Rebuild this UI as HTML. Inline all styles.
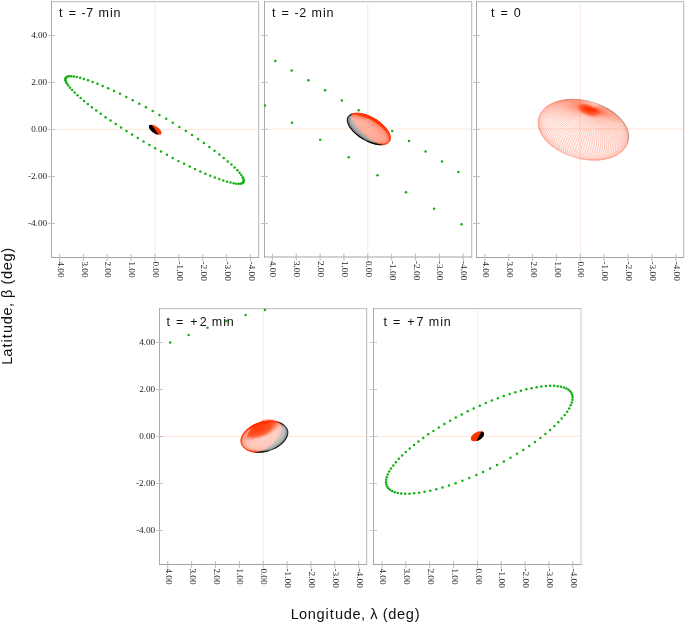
<!DOCTYPE html><html><head><meta charset="utf-8"><style>html,body{margin:0;padding:0;background:#fff;overflow:hidden}svg{display:block;will-change:transform}</style></head><body><svg width="685" height="623" viewBox="0 0 685 623">
<style>.tk{font-family:"Liberation Serif",serif;font-size:8.6px;fill:#222}.tkx{font-family:"Liberation Serif",serif;font-size:9.2px;fill:#222}.ti{font-family:"Liberation Sans",sans-serif;font-size:12.5px;fill:#111}.ax{font-family:"Liberation Sans",sans-serif;font-size:14.6px;fill:#111}</style>
<rect width="685" height="623" fill="#fff"/>
<clipPath id="c1"><rect x="51" y="1" width="208" height="257"/></clipPath>
<line x1="155.0" y1="2" x2="155.0" y2="257" stroke="#ffe6da" stroke-width="1"/>
<line x1="52" y1="129.45" x2="258" y2="129.45" stroke="#ffe6da" stroke-width="1"/>
<line x1="51" y1="1.5" x2="259" y2="1.5" stroke="#c4c4c4" stroke-width="1"/>
<line x1="52" y1="2.5" x2="258" y2="2.5" stroke="#f4f4f4" stroke-width="1"/>
<line x1="51.5" y1="1" x2="51.5" y2="258" stroke="#aaaaaa" stroke-width="1"/>
<line x1="258.5" y1="1" x2="258.5" y2="258" stroke="#c4c4c4" stroke-width="1"/>
<line x1="259.5" y1="2" x2="259.5" y2="258" stroke="#efefef" stroke-width="1"/>
<line x1="51" y1="257.5" x2="259" y2="257.5" stroke="#a4a4a4" stroke-width="1"/>
<clipPath id="c2"><rect x="264" y="1" width="208" height="256.5"/></clipPath>
<line x1="367.8" y1="2" x2="367.8" y2="256.5" stroke="#ffe6da" stroke-width="1"/>
<line x1="265" y1="129.0" x2="471" y2="129.0" stroke="#ffe6da" stroke-width="1"/>
<line x1="264" y1="1.5" x2="472" y2="1.5" stroke="#c4c4c4" stroke-width="1"/>
<line x1="265" y1="2.5" x2="471" y2="2.5" stroke="#f4f4f4" stroke-width="1"/>
<line x1="264.5" y1="1" x2="264.5" y2="257.5" stroke="#aaaaaa" stroke-width="1"/>
<line x1="471.5" y1="1" x2="471.5" y2="257.5" stroke="#c4c4c4" stroke-width="1"/>
<line x1="472.5" y1="2" x2="472.5" y2="257.5" stroke="#efefef" stroke-width="1"/>
<line x1="264" y1="257.0" x2="472" y2="257.0" stroke="#a4a4a4" stroke-width="1"/>
<clipPath id="c3"><rect x="476" y="1" width="208" height="257"/></clipPath>
<line x1="580.3" y1="2" x2="580.3" y2="257" stroke="#ffe6da" stroke-width="1"/>
<line x1="477" y1="129.0" x2="683" y2="129.0" stroke="#ffe6da" stroke-width="1"/>
<line x1="476" y1="1.5" x2="684" y2="1.5" stroke="#c4c4c4" stroke-width="1"/>
<line x1="477" y1="2.5" x2="683" y2="2.5" stroke="#f4f4f4" stroke-width="1"/>
<line x1="476.5" y1="1" x2="476.5" y2="258" stroke="#aaaaaa" stroke-width="1"/>
<line x1="683.5" y1="1" x2="683.5" y2="258" stroke="#c4c4c4" stroke-width="1"/>
<line x1="684.5" y1="2" x2="684.5" y2="258" stroke="#efefef" stroke-width="1"/>
<line x1="476" y1="257.5" x2="684" y2="257.5" stroke="#a4a4a4" stroke-width="1"/>
<clipPath id="c4"><rect x="159" y="308" width="208" height="257"/></clipPath>
<line x1="263.2" y1="309" x2="263.2" y2="564" stroke="#ffe6da" stroke-width="1"/>
<line x1="160" y1="436.45" x2="366" y2="436.45" stroke="#ffe6da" stroke-width="1"/>
<line x1="159" y1="308.5" x2="367" y2="308.5" stroke="#c4c4c4" stroke-width="1"/>
<line x1="160" y1="309.5" x2="366" y2="309.5" stroke="#f4f4f4" stroke-width="1"/>
<line x1="159.5" y1="308" x2="159.5" y2="565" stroke="#aaaaaa" stroke-width="1"/>
<line x1="366.5" y1="308" x2="366.5" y2="565" stroke="#c4c4c4" stroke-width="1"/>
<line x1="367.5" y1="309" x2="367.5" y2="565" stroke="#efefef" stroke-width="1"/>
<line x1="159" y1="564.5" x2="367" y2="564.5" stroke="#a4a4a4" stroke-width="1"/>
<clipPath id="c5"><rect x="373" y="308" width="208.5" height="257"/></clipPath>
<line x1="477.4" y1="309" x2="477.4" y2="564" stroke="#ffe6da" stroke-width="1"/>
<line x1="374" y1="436.4" x2="580.5" y2="436.4" stroke="#ffe6da" stroke-width="1"/>
<line x1="373" y1="308.5" x2="581.5" y2="308.5" stroke="#c4c4c4" stroke-width="1"/>
<line x1="374" y1="309.5" x2="580.5" y2="309.5" stroke="#f4f4f4" stroke-width="1"/>
<line x1="373.5" y1="308" x2="373.5" y2="565" stroke="#aaaaaa" stroke-width="1"/>
<line x1="581.0" y1="308" x2="581.0" y2="565" stroke="#c4c4c4" stroke-width="1"/>
<line x1="582.0" y1="309" x2="582.0" y2="565" stroke="#efefef" stroke-width="1"/>
<line x1="373" y1="564.5" x2="581.5" y2="564.5" stroke="#a4a4a4" stroke-width="1"/>
<g clip-path="url(#c1)" fill="#12b012">
<circle cx="159.42" cy="114.88" r="1.25"/><circle cx="166.16" cy="118.83" r="1.25"/><circle cx="172.83" cy="122.84" r="1.25"/><circle cx="179.40" cy="126.91" r="1.25"/><circle cx="185.83" cy="130.99" r="1.25"/><circle cx="192.08" cy="135.06" r="1.25"/><circle cx="198.11" cy="139.11" r="1.25"/><circle cx="203.88" cy="143.09" r="1.25"/><circle cx="209.37" cy="147.00" r="1.25"/><circle cx="214.53" cy="150.81" r="1.25"/><circle cx="219.34" cy="154.49" r="1.25"/><circle cx="223.77" cy="158.02" r="1.25"/><circle cx="227.81" cy="161.38" r="1.25"/><circle cx="231.42" cy="164.56" r="1.25"/><circle cx="234.59" cy="167.54" r="1.25"/><circle cx="237.30" cy="170.30" r="1.25"/><circle cx="239.56" cy="172.83" r="1.25"/><circle cx="241.33" cy="175.12" r="1.25"/><circle cx="242.64" cy="177.15" r="1.25"/><circle cx="243.46" cy="178.92" r="1.25"/><circle cx="243.81" cy="180.42" r="1.25"/><circle cx="243.68" cy="181.65" r="1.25"/><circle cx="243.09" cy="182.60" r="1.25"/><circle cx="242.05" cy="183.28" r="1.25"/><circle cx="240.56" cy="183.68" r="1.25"/><circle cx="238.65" cy="183.81" r="1.25"/><circle cx="236.32" cy="183.67" r="1.25"/><circle cx="233.61" cy="183.26" r="1.25"/><circle cx="230.52" cy="182.59" r="1.25"/><circle cx="227.07" cy="181.68" r="1.25"/><circle cx="223.30" cy="180.52" r="1.25"/><circle cx="219.22" cy="179.12" r="1.25"/><circle cx="214.86" cy="177.50" r="1.25"/><circle cx="210.24" cy="175.67" r="1.25"/><circle cx="205.38" cy="173.64" r="1.25"/><circle cx="200.32" cy="171.42" r="1.25"/><circle cx="195.07" cy="169.02" r="1.25"/><circle cx="189.66" cy="166.45" r="1.25"/><circle cx="184.11" cy="163.73" r="1.25"/><circle cx="178.45" cy="160.88" r="1.25"/><circle cx="172.71" cy="157.89" r="1.25"/><circle cx="166.91" cy="154.80" r="1.25"/><circle cx="161.07" cy="151.60" r="1.25"/><circle cx="155.21" cy="148.32" r="1.25"/><circle cx="149.36" cy="144.97" r="1.25"/><circle cx="143.55" cy="141.56" r="1.25"/><circle cx="137.79" cy="138.10" r="1.25"/><circle cx="132.10" cy="134.62" r="1.25"/><circle cx="126.51" cy="131.11" r="1.25"/><circle cx="121.05" cy="127.60" r="1.25"/><circle cx="115.72" cy="124.10" r="1.25"/><circle cx="110.55" cy="120.62" r="1.25"/><circle cx="105.57" cy="117.18" r="1.25"/><circle cx="100.79" cy="113.78" r="1.25"/><circle cx="96.23" cy="110.45" r="1.25"/><circle cx="91.92" cy="107.20" r="1.25"/><circle cx="87.86" cy="104.04" r="1.25"/><circle cx="84.09" cy="100.98" r="1.25"/><circle cx="80.61" cy="98.04" r="1.25"/><circle cx="77.44" cy="95.23" r="1.25"/><circle cx="74.61" cy="92.56" r="1.25"/><circle cx="72.13" cy="90.06" r="1.25"/><circle cx="70.02" cy="87.72" r="1.25"/><circle cx="68.28" cy="85.57" r="1.25"/><circle cx="66.93" cy="83.61" r="1.25"/><circle cx="65.98" cy="81.86" r="1.25"/><circle cx="65.45" cy="80.33" r="1.25"/><circle cx="65.35" cy="79.03" r="1.25"/><circle cx="65.67" cy="77.96" r="1.25"/><circle cx="66.42" cy="77.15" r="1.25"/><circle cx="67.62" cy="76.59" r="1.25"/><circle cx="69.26" cy="76.30" r="1.25"/><circle cx="71.33" cy="76.27" r="1.25"/><circle cx="73.84" cy="76.52" r="1.25"/><circle cx="76.78" cy="77.04" r="1.25"/><circle cx="80.13" cy="77.84" r="1.25"/><circle cx="83.89" cy="78.92" r="1.25"/><circle cx="88.05" cy="80.28" r="1.25"/><circle cx="92.57" cy="81.90" r="1.25"/><circle cx="97.46" cy="83.80" r="1.25"/><circle cx="102.67" cy="85.95" r="1.25"/><circle cx="108.19" cy="88.35" r="1.25"/><circle cx="113.98" cy="90.99" r="1.25"/><circle cx="120.02" cy="93.86" r="1.25"/><circle cx="126.27" cy="96.94" r="1.25"/><circle cx="132.70" cy="100.21" r="1.25"/><circle cx="139.27" cy="103.66" r="1.25"/><circle cx="145.94" cy="107.27" r="1.25"/><circle cx="152.67" cy="111.02" r="1.25"/>
</g>
<clipPath id="se1"><ellipse cx="155.15" cy="129.7" rx="7.3" ry="3.4" transform="rotate(35 155.15 129.7)"/></clipPath>
<g clip-path="url(#se1)"><rect x="145" y="120" width="20" height="20" fill="#ff3300"/><path d="M151.8,124.9 L158.4,134.3 L140,140 L140,118Z" fill="#000"/></g>
<g clip-path="url(#c2)" fill="#12b012"><circle cx="275.30" cy="61.00" r="1.25"/><circle cx="291.70" cy="70.50" r="1.25"/><circle cx="308.40" cy="80.30" r="1.25"/><circle cx="325.10" cy="90.20" r="1.25"/><circle cx="341.80" cy="100.40" r="1.25"/><circle cx="358.60" cy="110.30" r="1.25"/><circle cx="375.30" cy="120.60" r="1.25"/><circle cx="392.20" cy="130.90" r="1.25"/><circle cx="409.00" cy="141.10" r="1.25"/><circle cx="425.60" cy="151.40" r="1.25"/><circle cx="442.00" cy="161.60" r="1.25"/><circle cx="458.30" cy="171.90" r="1.25"/><circle cx="264.95" cy="105.40" r="1.25"/><circle cx="292.00" cy="122.80" r="1.25"/><circle cx="320.20" cy="139.80" r="1.25"/><circle cx="348.70" cy="157.30" r="1.25"/><circle cx="377.50" cy="175.20" r="1.25"/><circle cx="406.00" cy="192.20" r="1.25"/><circle cx="434.10" cy="208.70" r="1.25"/><circle cx="461.50" cy="224.30" r="1.25"/></g>
<ellipse cx="368.85" cy="129.0" rx="23.82" ry="11.379999999999999" transform="rotate(30.3 368.85 129.0)" fill="#fff"/><path d="M381.7,144.8 382.5,144.7 383.3,144.6M379.7,144.8 380.6,144.8 381.4,144.8 382.2,144.7 383.0,144.6M378.5,144.7 379.4,144.7 380.3,144.8 381.1,144.7 381.9,144.7 382.6,144.6M377.3,144.5 378.2,144.6 379.1,144.7 379.9,144.7 380.7,144.7 381.5,144.6M376.1,144.3 377.0,144.4 377.9,144.5 378.7,144.6 379.5,144.6 380.3,144.6M374.9,144.0 375.8,144.2 376.7,144.3 377.5,144.4 378.3,144.5 379.1,144.5M374.6,143.9 375.4,144.1 376.3,144.2 377.1,144.3 377.9,144.4M373.4,143.6 374.2,143.8 375.1,144.0 375.8,144.1 376.6,144.2M373.1,143.5 373.9,143.7 374.6,143.9 375.4,144.0M371.9,143.2 372.7,143.4 373.5,143.6 374.2,143.7 374.9,143.8M371.6,143.0 372.3,143.3 373.1,143.4 373.8,143.6M371.3,142.9 371.9,143.1 372.6,143.3 373.3,143.4M370.2,142.6 370.9,142.8 371.5,143.0 372.2,143.1M369.9,142.4 370.5,142.6 371.1,142.8 371.7,142.9M369.5,142.3 370.1,142.5 370.7,142.6 371.2,142.7M369.2,142.1 369.7,142.3 370.2,142.4 370.7,142.5M368.8,142.0 369.3,142.1 369.7,142.3M368.4,141.8 368.9,142.0 369.3,142.0M367.7,141.5 368.1,141.7 368.4,141.8 368.8,141.8M367.4,141.4 367.7,141.5 368.0,141.6 368.3,141.6M367.0,141.2 367.3,141.3 367.5,141.4 367.8,141.4M366.7,141.1 366.9,141.1 367.1,141.1 367.3,141.1M366.4,140.9 366.5,140.9 366.6,140.9 366.8,140.9M366.0,140.7 366.1,140.7 366.2,140.7M365.7,140.5 365.7,140.5 365.7,140.5M365.3,140.4 365.3,140.3 365.3,140.2M365.0,140.2 364.9,140.1 364.8,140.0 364.7,139.9M364.6,140.0 364.5,139.9 364.4,139.8 364.2,139.6M364.3,139.8 364.1,139.7 363.9,139.5 363.7,139.3M364.0,139.7 363.7,139.5 363.5,139.3 363.3,139.1M363.6,139.5 363.3,139.3 363.0,139.1 362.8,138.8M363.3,139.3 362.9,139.1 362.6,138.8 362.3,138.5M362.6,138.8 362.2,138.6 361.8,138.3M362.2,138.6 361.8,138.3 361.4,138.0M361.9,138.4 361.4,138.1 360.9,137.7 360.5,137.4M361.5,138.2 361.0,137.9 360.5,137.5 360.0,137.1M361.2,138.0 360.6,137.6 360.1,137.2 359.6,136.8M360.9,137.8 360.3,137.4 359.7,137.0 359.1,136.5 358.6,136.0M360.0,137.2 359.3,136.7 358.7,136.2 358.2,135.7M359.6,137.0 359.0,136.5 358.3,136.0 357.7,135.4M359.3,136.7 358.6,136.2 358.0,135.7 357.3,135.1 356.7,134.6M358.3,136.0 357.6,135.4 356.9,134.9 356.3,134.3 355.7,133.7M358.0,135.8 357.3,135.2 356.6,134.6 355.9,134.0 355.3,133.4M357.0,135.0 356.2,134.3 355.6,133.7 354.9,133.1 354.3,132.4M355.9,134.1 355.2,133.4 354.5,132.8 353.9,132.1 353.3,131.4M355.7,133.9 354.9,133.2 354.2,132.5 353.6,131.8 352.9,131.1 352.4,130.4M354.7,132.9 353.9,132.2 353.3,131.5 352.6,130.8 352.0,130.1 351.5,129.4 351.0,128.6M353.7,132.0 353.0,131.3 352.3,130.5 351.7,129.8 351.2,129.1 350.7,128.3 350.2,127.6M352.1,130.3 351.5,129.5 350.9,128.8 350.4,128.0 349.9,127.3 349.5,126.6 349.1,125.8M351.3,129.3 350.7,128.5 350.1,127.8 349.7,127.0 349.2,126.3 348.9,125.5 348.5,124.8 348.3,124.1M350.0,127.5 349.5,126.8 349.0,126.0 348.7,125.2 348.3,124.5 348.1,123.8 347.8,123.1 347.7,122.4 347.6,121.7M348.5,125.0 348.2,124.2 347.9,123.5 347.7,122.8 347.5,122.1 347.4,121.4 347.4,120.7 347.4,120.1 347.5,119.5M347.8,123.3 347.6,122.5 347.4,121.8 347.3,121.2 347.3,120.5 347.3,119.8 347.4,119.2 347.5,118.6 347.7,118.1 348.0,117.5M347.3,120.9 347.2,120.3 347.2,119.6 347.3,119.0 347.4,118.4 347.6,117.8 347.9,117.3 348.2,116.8 348.6,116.4 349.0,115.9 349.5,115.5M347.3,118.8 347.4,118.2 347.6,117.7 347.9,117.1 348.2,116.6 348.6,116.2 349.0,115.7 349.5,115.3 350.0,115.0 350.6,114.7 351.2,114.4M348.3,116.5 348.6,116.0 349.1,115.6 349.5,115.2 350.1,114.8 350.6,114.5 351.3,114.2 351.9,114.0 352.7,113.8M349.6,115.0 350.2,114.7 350.7,114.4 351.4,114.1 352.1,113.9 352.8,113.7M351.5,114.0 352.2,113.8 352.9,113.6M353.1,113.5 353.9,113.4M369.4,142.2 369.0,142.1 368.7,141.9 368.3,141.8 367.9,141.6 367.6,141.5 367.2,141.3 366.8,141.1 366.4,140.9 366.1,140.7 365.7,140.5 365.3,140.3 364.9,140.1 364.5,139.9 364.2,139.7 363.8,139.5 363.4,139.3 363.1,139.1 362.7,138.9 362.4,138.7 362.0,138.5 361.7,138.3M371.9,143.2 371.6,143.0 371.3,142.9 370.9,142.8 370.5,142.6 370.1,142.5 369.7,142.3 369.3,142.1 368.9,142.0 368.4,141.8 368.0,141.6 367.5,141.4 367.1,141.1 366.6,140.9 366.2,140.7 365.7,140.5 365.3,140.2 364.8,140.0 364.4,139.8 363.9,139.5 363.5,139.3 363.0,139.1 362.6,138.8 362.2,138.6 361.8,138.3 361.4,138.1 361.0,137.9 360.6,137.6 360.3,137.4 360.0,137.2 359.6,137.0 359.3,136.7M374.0,143.8 373.7,143.7 373.3,143.6 373.0,143.5 372.6,143.3 372.2,143.2 371.7,143.0 371.3,142.9 370.8,142.7 370.4,142.5 369.9,142.3M361.2,137.9 360.8,137.6 360.4,137.3 359.9,137.1 359.5,136.8 359.1,136.6 358.8,136.3 358.4,136.1 358.1,135.8 357.8,135.6M375.8,144.2 375.5,144.1 375.2,144.0 374.8,143.9 374.4,143.8 374.0,143.7 373.5,143.5 373.1,143.4M358.8,136.2 358.3,135.9 357.9,135.6 357.5,135.3 357.2,135.1 356.8,134.8 356.5,134.6 356.2,134.3M377.3,144.5 377.0,144.4 376.7,144.3 376.3,144.2 375.8,144.1 375.4,144.0 374.9,143.8M356.7,134.6 356.3,134.3 355.9,134.0 355.6,133.7 355.2,133.4 354.9,133.2 354.7,132.9M378.8,144.7 378.5,144.6 378.2,144.6 377.8,144.5 377.3,144.4 376.9,144.2M355.1,133.1 354.7,132.8 354.3,132.6 354.0,132.3 353.7,132.0 353.4,131.8M380.3,144.8 380.0,144.8 379.6,144.7 379.2,144.6 378.8,144.5M353.9,132.0 353.5,131.6 353.1,131.3 352.8,131.1 352.5,130.8 352.3,130.5M381.7,144.8 381.4,144.8 381.1,144.7 380.7,144.7 380.3,144.6M352.4,130.4 352.0,130.1 351.7,129.8 351.5,129.5 351.3,129.3M383.1,144.7 382.8,144.7 382.5,144.7 382.1,144.7 381.7,144.6M351.3,129.1 351.0,128.8 350.7,128.5 350.5,128.3M350.3,127.8 350.1,127.5 349.8,127.3 349.6,127.0M349.8,126.9 349.5,126.6 349.2,126.3 349.0,126.0M349.0,125.6 348.7,125.3 348.5,125.0 348.4,124.7M348.4,124.3 348.1,124.0 348.0,123.8M348.1,123.4 347.8,123.1 347.7,122.8 347.6,122.5M347.7,122.1 347.5,121.9 347.4,121.6M347.6,121.2 347.4,121.0 347.3,120.7 347.2,120.5M347.4,120.1 347.3,119.8 347.2,119.6M347.5,119.3 347.4,119.0 347.3,118.8 347.4,118.6M347.6,118.3 347.6,118.0 347.6,117.8M348.0,117.5 347.9,117.3 347.9,117.1M348.4,116.9 348.3,116.7 348.3,116.5 348.4,116.3M348.8,116.1 348.8,115.9 348.9,115.7M349.5,115.5 349.5,115.3 349.5,115.2 349.6,115.0M350.2,115.1 350.2,114.9 350.2,114.7 350.4,114.6M351.0,114.5 351.1,114.3 351.2,114.2 351.3,114.1M351.9,114.2 351.9,114.0 352.1,113.9 352.2,113.8M353.2,113.6 353.4,113.5" fill="none" stroke="#000" stroke-width="0.4" stroke-opacity="1.00"/><path d="M381.5,144.6 382.2,144.5M380.3,144.6 381.0,144.5 381.7,144.4M379.1,144.5 379.8,144.5 380.6,144.4 381.3,144.3M377.9,144.4 378.6,144.4 379.3,144.4 380.0,144.3 380.7,144.2M376.6,144.2 377.4,144.3 378.1,144.3 378.8,144.2 379.5,144.2 380.1,144.0M375.4,144.0 376.2,144.1 376.9,144.1 377.6,144.1 378.3,144.1 378.9,144.0M374.9,143.8 375.7,143.9 376.3,143.9 377.0,143.9 377.7,143.9M373.8,143.6 374.4,143.7 375.1,143.7 375.8,143.8 376.4,143.7M373.3,143.4 373.9,143.5 374.6,143.5 375.2,143.5 375.8,143.5M372.2,143.1 372.8,143.2 373.4,143.3 374.0,143.3 374.6,143.3M371.7,142.9 372.3,143.0 372.8,143.1 373.4,143.1 374.0,143.1M371.2,142.7 371.7,142.8 372.3,142.9 372.8,142.9M370.7,142.5 371.2,142.6 371.7,142.6 372.2,142.6M369.7,142.3 370.2,142.3 370.6,142.4 371.1,142.4 371.5,142.3M369.3,142.0 369.7,142.1 370.1,142.1 370.5,142.1M368.8,141.8 369.1,141.9 369.5,141.9 369.8,141.8M368.3,141.6 368.6,141.6 368.9,141.6 369.2,141.5M367.8,141.4 368.0,141.4 368.3,141.3 368.6,141.2M367.3,141.1 367.5,141.1 367.7,141.0 367.9,140.9M366.8,140.9 366.9,140.8 367.1,140.7 367.3,140.6M366.2,140.7 366.3,140.7 366.4,140.6 366.5,140.4M365.7,140.5 365.8,140.4 365.8,140.3 365.9,140.1M365.3,140.2 365.3,140.1 365.3,140.0 365.3,139.8M364.7,139.9 364.7,139.7 364.7,139.5M364.2,139.6 364.1,139.4 364.1,139.2 364.0,138.9M363.7,139.3 363.6,139.1 363.5,138.9 363.3,138.6M363.3,139.1 363.1,138.8 362.9,138.6 362.7,138.3M362.8,138.8 362.5,138.5 362.3,138.2 362.1,137.9M362.3,138.5 362.0,138.2 361.7,137.9 361.5,137.6M361.8,138.3 361.5,137.9 361.2,137.6 360.9,137.2M361.4,138.0 361.0,137.6 360.6,137.3 360.3,136.9 359.9,136.4M360.5,137.4 360.1,136.9 359.7,136.5 359.3,136.1M360.0,137.1 359.6,136.6 359.1,136.2 358.7,135.7M359.6,136.8 359.1,136.3 358.6,135.8 358.2,135.3 357.8,134.8M358.6,136.0 358.1,135.5 357.6,135.0 357.2,134.5M358.2,135.7 357.6,135.2 357.1,134.6 356.6,134.1 356.2,133.5M357.7,135.4 357.1,134.9 356.6,134.3 356.1,133.7 355.6,133.1M356.7,134.6 356.1,134.0 355.6,133.4 355.1,132.8 354.6,132.1M355.7,133.7 355.1,133.0 354.6,132.4 354.1,131.8 353.6,131.1M355.3,133.4 354.7,132.7 354.1,132.1 353.6,131.4 353.1,130.7 352.7,130.1M354.3,132.4 353.7,131.7 353.2,131.1 352.7,130.4 352.2,129.7 351.8,129.0M353.3,131.4 352.7,130.7 352.2,130.0 351.8,129.3 351.3,128.6 351.0,127.9 350.6,127.2M352.4,130.4 351.8,129.7 351.3,129.0 350.9,128.3 350.5,127.6 350.2,126.8 349.9,126.1M351.0,128.6 350.5,127.9 350.1,127.2 349.8,126.5 349.5,125.8 349.2,125.1 349.0,124.4M350.2,127.6 349.8,126.9 349.4,126.1 349.1,125.4 348.9,124.7 348.7,124.0 348.5,123.3 348.4,122.7 348.4,122.0M349.1,125.8 348.8,125.1 348.5,124.4 348.3,123.7 348.2,123.0 348.1,122.3 348.1,121.7 348.1,121.0 348.2,120.4M348.3,124.1 348.1,123.4 347.9,122.7 347.8,122.0 347.8,121.3 347.8,120.7 347.9,120.1 348.0,119.5 348.2,118.9 348.5,118.4 348.8,117.9M347.6,121.7 347.6,121.0 347.6,120.4 347.7,119.8 347.8,119.2 348.0,118.6 348.2,118.1 348.5,117.6 348.9,117.1 349.3,116.7 349.8,116.3 350.3,115.9M347.5,119.5 347.6,118.9 347.8,118.3 348.1,117.8 348.4,117.3 348.7,116.8 349.2,116.4 349.6,116.0 350.2,115.6 350.7,115.3 351.4,115.0M348.0,117.5 348.3,117.0 348.6,116.6 349.0,116.1 349.5,115.7 350.1,115.4 350.6,115.1 351.3,114.8 351.9,114.5M349.5,115.5 350.0,115.2 350.6,114.8 351.2,114.6 351.9,114.3M351.2,114.4 351.9,114.2M369.9,142.3 369.4,142.1 368.9,141.8 368.4,141.6 367.9,141.4 367.4,141.1 366.8,140.9 366.3,140.6 365.8,140.4 365.3,140.1 364.7,139.8 364.2,139.6 363.7,139.3 363.2,139.0 362.7,138.7 362.2,138.4 361.7,138.2 361.2,137.9M373.1,143.4 372.6,143.2 372.1,143.0 371.6,142.8 371.0,142.6 370.5,142.4 369.9,142.1 369.4,141.9 368.8,141.6 368.2,141.3 367.6,141.1 367.0,140.8 366.4,140.5 365.9,140.2 365.3,139.9 364.7,139.6 364.1,139.3 363.5,139.0 362.9,138.6 362.4,138.3 361.8,138.0 361.3,137.7 360.7,137.4 360.2,137.1 359.7,136.8 359.2,136.5 358.8,136.2M374.9,143.8 374.4,143.7 373.9,143.5 373.4,143.3 372.8,143.1 372.3,142.9 371.7,142.6 371.1,142.4 370.5,142.1 369.8,141.8M362.1,137.9 361.5,137.6 360.9,137.2 360.3,136.9 359.7,136.5 359.1,136.2 358.6,135.8 358.1,135.5 357.6,135.2 357.1,134.9 356.7,134.6M376.9,144.2 376.4,144.1 375.9,143.9 375.3,143.7 374.8,143.5 374.2,143.3 373.6,143.1 373.0,142.8M358.6,135.5 358.0,135.2 357.5,134.8 356.9,134.5 356.4,134.1 355.9,133.8 355.5,133.5 355.1,133.1M378.8,144.5 378.4,144.4 377.9,144.3 377.3,144.1 376.8,143.9 376.2,143.7 375.6,143.5M356.3,133.7 355.8,133.3 355.2,133.0 354.8,132.6 354.3,132.3 353.9,132.0M380.3,144.6 379.8,144.5 379.3,144.4 378.8,144.2 378.3,144.1 377.7,143.9M354.6,132.1 354.1,131.8 353.6,131.4 353.2,131.1 352.7,130.7 352.4,130.4M381.7,144.6 381.3,144.5 380.8,144.4 380.3,144.3 379.7,144.1M353.5,130.9 353.0,130.5 352.5,130.2 352.1,129.8 351.7,129.5 351.3,129.1M352.4,129.6 351.9,129.2 351.5,128.9 351.0,128.5 350.7,128.2 350.3,127.8M351.0,127.9 350.5,127.6 350.1,127.2 349.8,126.9M350.5,127.0 350.1,126.6 349.7,126.2 349.3,125.9 349.0,125.6M349.7,125.7 349.3,125.3 348.9,124.9 348.6,124.6 348.4,124.3M349.0,124.4 348.7,124.0 348.3,123.7 348.1,123.4M348.9,123.5 348.5,123.1 348.2,122.8 347.9,122.4 347.7,122.1M348.4,122.2 348.1,121.9 347.8,121.5 347.6,121.2M348.1,121.0 347.8,120.7 347.6,120.4 347.4,120.1M348.2,120.2 347.9,119.9 347.7,119.6 347.5,119.3M348.4,119.4 348.1,119.1 347.9,118.8 347.7,118.5 347.6,118.3M348.5,118.4 348.2,118.1 348.1,117.8 348.0,117.5M348.9,117.7 348.7,117.4 348.5,117.1 348.4,116.9M349.2,116.8 349.0,116.5 348.9,116.3 348.8,116.1M349.8,116.3 349.6,116.0 349.5,115.7 349.5,115.5M350.5,115.8 350.3,115.5 350.2,115.3 350.2,115.1M351.3,115.3 351.2,115.1 351.0,114.9 351.0,114.7 351.0,114.5M351.9,114.3 351.9,114.2" fill="none" stroke="#000" stroke-width="0.4" stroke-opacity="0.55"/><path d="M378.9,144.0 379.5,143.9M377.7,143.9 378.3,143.8 378.9,143.6M376.4,143.7 377.0,143.7 377.6,143.6 378.2,143.4M375.8,143.5 376.4,143.4 377.0,143.3 377.5,143.2M374.6,143.3 375.2,143.3 375.7,143.2 376.3,143.1 376.8,142.9M374.0,143.1 374.5,143.0 375.0,142.9 375.5,142.8 376.0,142.6M372.8,142.9 373.3,142.8 373.8,142.7 374.3,142.6 374.8,142.5 375.2,142.3M372.2,142.6 372.6,142.5 373.1,142.5 373.6,142.3 374.0,142.2 374.4,142.0M371.5,142.3 372.0,142.3 372.4,142.1 372.8,142.0 373.2,141.8M370.5,142.1 370.9,142.0 371.3,142.0 371.6,141.8 372.0,141.7 372.4,141.5M369.8,141.8 370.2,141.7 370.5,141.6 370.9,141.5 371.2,141.3M369.2,141.5 369.5,141.4 369.8,141.3 370.1,141.2 370.4,141.0M368.6,141.2 368.8,141.1 369.1,141.0 369.3,140.8 369.6,140.6M367.9,140.9 368.1,140.8 368.3,140.6 368.6,140.4 368.8,140.2M367.3,140.6 367.4,140.5 367.6,140.3 367.8,140.0 368.0,139.8M366.5,140.4 366.6,140.3 366.7,140.1 366.9,139.9 367.0,139.7 367.1,139.4M365.9,140.1 365.9,140.0 366.0,139.8 366.1,139.5 366.2,139.3 366.3,139.0M365.3,139.8 365.3,139.6 365.3,139.4 365.4,139.1 365.4,138.9 365.5,138.5M364.7,139.5 364.6,139.3 364.6,139.0 364.6,138.8 364.6,138.4 364.6,138.1M364.0,138.9 363.9,138.7 363.9,138.4 363.8,138.0 363.8,137.7M363.3,138.6 363.2,138.3 363.1,138.0 363.1,137.6 363.0,137.2M362.7,138.3 362.5,137.9 362.4,137.6 362.3,137.2 362.2,136.8M362.1,137.9 361.9,137.6 361.7,137.2 361.5,136.8 361.4,136.4M361.5,137.6 361.2,137.2 361.0,136.8 360.8,136.4 360.6,135.9 360.5,135.5M360.9,137.2 360.6,136.8 360.3,136.4 360.1,135.9 359.9,135.5 359.7,135.0M359.9,136.4 359.6,136.0 359.4,135.5 359.1,135.0 358.9,134.5M359.3,136.1 359.0,135.6 358.7,135.1 358.4,134.6 358.1,134.1 357.9,133.6M358.7,135.7 358.4,135.2 358.0,134.7 357.7,134.2 357.4,133.6 357.2,133.1M357.8,134.8 357.4,134.3 357.0,133.8 356.7,133.2 356.4,132.6 356.2,132.1M357.2,134.5 356.8,133.9 356.4,133.3 356.0,132.8 355.7,132.2 355.4,131.6 355.2,131.0M356.2,133.5 355.8,132.9 355.4,132.3 355.0,131.7 354.7,131.1 354.5,130.5 354.3,129.9M355.6,133.1 355.2,132.5 354.8,131.9 354.4,131.3 354.1,130.7 353.8,130.0 353.6,129.4 353.4,128.8M354.6,132.1 354.2,131.5 353.8,130.9 353.5,130.2 353.1,129.6 352.9,128.9 352.7,128.3 352.5,127.6M353.6,131.1 353.2,130.5 352.9,129.8 352.5,129.2 352.3,128.5 352.0,127.8 351.8,127.2 351.7,126.5M352.7,130.1 352.3,129.4 352.0,128.7 351.7,128.1 351.4,127.4 351.2,126.7 351.1,126.1 351.0,125.4 350.9,124.8M351.8,129.0 351.4,128.3 351.1,127.6 350.9,127.0 350.7,126.3 350.5,125.6 350.4,125.0 350.3,124.3 350.3,123.7 350.3,123.1M350.6,127.2 350.4,126.5 350.1,125.9 350.0,125.2 349.8,124.5 349.8,123.9 349.8,123.2 349.8,122.6 349.9,122.0 350.0,121.4 350.2,120.8M349.9,126.1 349.7,125.5 349.5,124.8 349.4,124.1 349.3,123.4 349.3,122.8 349.3,122.2 349.4,121.6 349.5,121.0 349.7,120.4 349.9,119.9 350.2,119.4 350.6,118.9M349.0,124.4 348.9,123.7 348.8,123.0 348.8,122.4 348.8,121.8 348.9,121.2 349.1,120.6 349.2,120.0 349.5,119.5 349.8,119.0 350.1,118.5 350.5,118.0 351.0,117.6 351.5,117.2M348.4,122.0 348.4,121.4 348.5,120.8 348.7,120.2 348.8,119.6 349.1,119.1 349.4,118.6 349.8,118.1 350.2,117.6 350.6,117.2 351.1,116.8 351.7,116.5M348.2,120.4 348.3,119.8 348.5,119.3 348.8,118.7 349.1,118.2 349.4,117.7 349.8,117.3 350.3,116.9 350.8,116.5 351.4,116.1M348.8,117.9 349.1,117.4 349.6,117.0 350.0,116.6 350.5,116.2 351.1,115.8 351.7,115.5M350.3,115.9 350.9,115.5 351.5,115.3M369.8,141.8 369.2,141.5 368.6,141.2 367.9,140.9 367.3,140.6 366.6,140.3 365.9,140.0 365.3,139.6 364.6,139.3 364.0,138.9 363.3,138.6 362.7,138.3 362.1,137.9M373.0,142.8 372.3,142.6 371.7,142.3 371.0,142.0 370.3,141.7 369.6,141.4 368.9,141.1 368.2,140.7 367.5,140.4 366.8,140.0 366.0,139.7 365.3,139.3 364.6,138.9 363.9,138.6 363.2,138.2 362.5,137.8 361.8,137.4 361.1,137.0 360.5,136.7 359.8,136.3 359.2,135.9 358.6,135.5M375.6,143.5 375.0,143.3 374.3,143.0 373.7,142.8 373.0,142.5 372.2,142.2 371.5,141.9 370.8,141.5 370.0,141.2 369.3,140.9 368.5,140.5 367.7,140.1 366.9,139.7 366.2,139.4 365.4,139.0 364.6,138.6 363.8,138.1 363.1,137.7 362.3,137.3 361.6,136.9 360.9,136.5 360.2,136.1 359.5,135.7 358.8,135.3 358.1,134.9 357.5,134.5 356.9,134.1 356.3,133.7M377.7,143.9 377.0,143.7 376.4,143.4 375.7,143.2 375.0,142.9 374.3,142.6 373.6,142.3 372.8,142.0 372.0,141.7 371.2,141.3 370.4,141.0 369.6,140.6M362.2,136.8 361.4,136.4 360.6,135.9 359.9,135.5 359.1,135.0 358.4,134.6 357.7,134.2 357.0,133.8 356.4,133.3 355.8,132.9 355.2,132.5 354.6,132.1M379.7,144.1 379.1,143.9 378.5,143.7 377.8,143.5 377.2,143.3 376.4,143.0 375.7,142.7 374.9,142.4 374.1,142.1 373.3,141.8M358.8,134.4 358.1,133.9 357.3,133.5 356.6,133.0 355.9,132.6 355.3,132.1 354.6,131.7 354.1,131.3 353.5,130.9M357.0,132.7 356.3,132.2 355.5,131.8 354.8,131.3 354.2,130.9 353.6,130.5 353.0,130.0 352.4,129.6M355.2,131.0 354.5,130.5 353.8,130.0 353.1,129.6 352.5,129.2 352.0,128.7 351.4,128.3 351.0,127.9M353.5,129.2 352.8,128.7 352.2,128.3 351.6,127.8 351.0,127.4 350.5,127.0M352.5,127.9 351.9,127.4 351.3,126.9 350.7,126.5 350.2,126.1 349.7,125.7M351.7,126.5 351.1,126.1 350.5,125.6 350.0,125.2 349.5,124.8 349.0,124.4M350.9,125.2 350.4,124.7 349.8,124.3 349.3,123.9 348.9,123.5M350.9,124.3 350.3,123.9 349.8,123.4 349.3,123.0 348.8,122.6 348.4,122.2M350.3,123.1 349.8,122.6 349.3,122.2 348.8,121.8 348.4,121.4 348.1,121.0M349.9,121.8 349.4,121.4 349.0,121.0 348.6,120.6 348.2,120.2M350.1,121.0 349.6,120.6 349.2,120.2 348.8,119.8 348.4,119.4M350.5,120.3 349.9,119.9 349.5,119.5 349.1,119.1 348.8,118.7 348.5,118.4M350.4,119.2 349.9,118.8 349.5,118.4 349.2,118.1 348.9,117.7M350.8,118.6 350.4,118.2 350.0,117.8 349.7,117.4 349.4,117.1 349.2,116.8M351.4,118.0 351.0,117.6 350.6,117.2 350.3,116.9 350.0,116.6 349.8,116.3M351.3,116.7 351.0,116.4 350.7,116.1 350.5,115.8M351.5,115.6 351.3,115.3" fill="none" stroke="#000" stroke-width="0.4" stroke-opacity="0.45"/><path d="M375.2,142.3 375.7,142.1M374.4,142.0 374.8,141.7M373.2,141.8 373.6,141.6 374.0,141.4M372.4,141.5 372.7,141.2 373.1,141.0M371.2,141.3 371.6,141.1 371.9,140.9 372.2,140.6 372.5,140.3M370.4,141.0 370.7,140.7 371.0,140.5 371.3,140.2 371.6,139.9M369.6,140.6 369.9,140.3 370.1,140.1 370.4,139.8 370.6,139.4M368.8,140.2 369.0,139.9 369.2,139.6 369.4,139.3 369.7,139.0 369.9,138.6M368.0,139.8 368.1,139.5 368.3,139.2 368.5,138.9 368.7,138.5 368.9,138.1M367.1,139.4 367.3,139.1 367.4,138.8 367.6,138.4 367.7,138.0 367.9,137.6 368.0,137.2M366.3,139.0 366.4,138.6 366.5,138.3 366.6,137.9 366.8,137.5 366.9,137.1 367.0,136.7M365.5,138.5 365.5,138.2 365.6,137.8 365.7,137.5 365.8,137.0 365.9,136.6 366.0,136.2 366.1,135.7M364.6,138.1 364.7,137.8 364.7,137.4 364.8,137.0 364.8,136.5 364.9,136.1 365.0,135.6 365.1,135.1M363.8,137.7 363.8,137.3 363.8,136.9 363.8,136.5 363.9,136.0 363.9,135.6 364.0,135.1 364.0,134.6 364.1,134.1M363.0,137.2 362.9,136.8 362.9,136.4 362.9,136.0 362.9,135.5 362.9,135.1 363.0,134.6 363.0,134.1 363.1,133.5 363.2,133.0M362.2,136.8 362.1,136.4 362.0,135.9 362.0,135.5 362.0,135.0 362.0,134.5 362.0,134.0 362.0,133.5 362.1,133.0 362.1,132.4M361.4,136.4 361.3,135.9 361.2,135.5 361.1,135.0 361.1,134.5 361.0,134.0 361.0,133.5 361.0,132.9 361.0,132.4 361.1,131.8 361.2,131.3M360.5,135.5 360.3,135.0 360.2,134.5 360.1,134.0 360.1,133.5 360.0,132.9 360.0,132.4 360.0,131.8 360.1,131.3 360.1,130.7 360.2,130.1M359.7,135.0 359.5,134.5 359.4,134.0 359.3,133.5 359.2,132.9 359.1,132.4 359.1,131.8 359.1,131.3 359.1,130.7 359.1,130.1 359.2,129.5M358.9,134.5 358.7,134.0 358.5,133.5 358.4,133.0 358.3,132.4 358.2,131.9 358.2,131.3 358.1,130.7 358.1,130.1 358.2,129.6 358.2,129.0 358.3,128.4M357.9,133.6 357.7,133.0 357.6,132.5 357.4,131.9 357.3,131.3 357.2,130.7 357.2,130.2 357.2,129.6 357.2,129.0 357.3,128.4 357.4,127.8 357.5,127.2M357.2,133.1 356.9,132.5 356.7,132.0 356.6,131.4 356.5,130.8 356.4,130.2 356.3,129.6 356.3,129.0 356.3,128.4 356.3,127.8 356.4,127.2 356.5,126.6 356.7,126.1M356.2,132.1 356.0,131.5 355.8,130.9 355.6,130.3 355.5,129.7 355.5,129.1 355.4,128.5 355.4,127.9 355.5,127.3 355.5,126.7 355.6,126.1 355.8,125.5M355.2,131.0 355.0,130.4 354.8,129.8 354.7,129.1 354.6,128.5 354.6,127.9 354.6,127.3 354.6,126.7 354.7,126.1 354.8,125.5 354.9,124.9 355.1,124.4M354.3,129.9 354.1,129.3 353.9,128.6 353.8,128.0 353.8,127.4 353.8,126.8 353.8,126.2 353.8,125.6 353.9,125.0 354.1,124.4 354.3,123.8 354.5,123.3M353.4,128.8 353.2,128.1 353.1,127.5 353.0,126.9 353.0,126.3 353.0,125.6 353.0,125.0 353.2,124.4 353.3,123.8 353.5,123.3 353.7,122.7M352.5,127.6 352.4,127.0 352.3,126.4 352.2,125.7 352.3,125.1 352.3,124.5 352.4,123.9 352.5,123.3 352.7,122.8 353.0,122.2 353.2,121.7M351.7,126.5 351.6,125.9 351.6,125.2 351.6,124.6 351.6,124.0 351.7,123.4 351.8,122.8 352.0,122.3 352.3,121.7 352.5,121.2 352.9,120.7M350.9,124.8 350.9,124.1 351.0,123.5 351.0,122.9 351.2,122.3 351.4,121.8 351.6,121.2 351.9,120.7 352.2,120.2 352.6,119.7M350.3,123.1 350.4,122.4 350.6,121.9 350.8,121.3 351.0,120.7 351.3,120.2 351.6,119.7 352.0,119.3M350.2,120.8 350.5,120.3 350.7,119.8 351.1,119.3 351.5,118.8 351.9,118.4M350.6,118.9 351.0,118.4 351.4,118.0M369.6,140.6 368.8,140.2 368.0,139.8 367.1,139.4 366.3,139.0 365.5,138.5 364.6,138.1 363.8,137.7 363.0,137.2 362.2,136.8M373.3,141.8 372.5,141.4 371.7,141.0 370.8,140.6 370.0,140.2 369.1,139.8 368.2,139.4 367.3,139.0 366.4,138.5 365.6,138.1 364.7,137.6 363.8,137.2 362.9,136.7 362.1,136.2 361.2,135.8 360.4,135.3 359.6,134.8 358.8,134.4M375.5,142.1 374.7,141.8 373.8,141.4 373.0,141.1 372.1,140.7 371.2,140.3 370.3,139.9 369.4,139.4 368.4,139.0 367.5,138.5 366.6,138.1 365.7,137.6 364.7,137.1 363.8,136.6 362.9,136.1 362.0,135.6 361.1,135.2 360.3,134.7 359.4,134.2 358.6,133.7 357.8,133.2 357.0,132.7M371.6,139.9 370.6,139.4 369.7,139.0 368.7,138.5 367.7,138.0 366.8,137.5 365.8,137.0 364.8,136.5 363.9,136.0 362.9,135.5 362.0,135.0 361.1,134.5 360.1,134.0 359.3,133.5 358.4,133.0 357.6,132.5 356.7,132.0 356.0,131.5 355.2,131.0M368.9,138.0 367.9,137.5 366.9,137.0 365.9,136.5 364.9,135.9 363.9,135.4 362.9,134.9 362.0,134.4 361.0,133.8 360.1,133.3 359.2,132.8 358.3,132.2 357.4,131.7 356.5,131.2 355.7,130.7 354.9,130.2 354.2,129.7 353.5,129.2M366.1,135.8 365.0,135.3 364.0,134.8 363.0,134.2 362.0,133.7 361.0,133.1 360.0,132.6 359.1,132.0 358.2,131.5 357.3,130.9 356.4,130.4 355.6,129.9 354.7,129.4 354.0,128.8 353.2,128.3 352.5,127.9M364.1,134.1 363.1,133.5 362.1,133.0 361.0,132.4 360.0,131.8 359.1,131.3 358.1,130.7 357.2,130.2 356.3,129.6 355.5,129.1 354.6,128.5 353.8,128.0 353.1,127.5 352.4,127.0 351.7,126.5M362.2,132.2 361.1,131.7 360.1,131.1 359.1,130.5 358.1,129.9 357.2,129.4 356.3,128.8 355.4,128.3 354.6,127.7 353.8,127.2 353.0,126.7 352.3,126.2 351.6,125.7 350.9,125.2M360.2,130.3 359.2,129.7 358.2,129.2 357.3,128.6 356.3,128.0 355.4,127.5 354.6,126.9 353.8,126.4 353.0,125.8 352.2,125.3 351.6,124.8 350.9,124.3M358.3,128.4 357.4,127.8 356.4,127.2 355.5,126.7 354.7,126.1 353.8,125.6 353.0,125.0 352.3,124.5 351.6,124.0 351.0,123.5 350.3,123.1M356.6,126.4 355.7,125.9 354.8,125.3 354.0,124.8 353.2,124.2 352.4,123.7 351.7,123.2 351.1,122.7 350.5,122.2 349.9,121.8M355.0,124.6 354.2,124.0 353.4,123.5 352.7,122.9 352.0,122.4 351.3,122.0 350.7,121.5 350.1,121.0M354.5,123.3 353.7,122.7 353.0,122.2 352.3,121.7 351.6,121.2 351.0,120.7 350.5,120.3M353.3,121.5 352.6,121.0 352.0,120.5 351.4,120.1 350.9,119.6 350.4,119.2M352.5,119.9 351.9,119.4 351.3,119.0 350.8,118.6M351.9,118.4 351.4,118.0" fill="none" stroke="#000" stroke-width="0.4" stroke-opacity="0.40"/><path d="M389.7,141.0 390.0,140.5 390.2,140.0 390.3,139.4 390.4,138.7 390.4,138.1 390.4,137.4 390.3,136.7 390.1,136.0 389.9,135.3 389.6,134.5M388.5,142.6 389.0,142.1 389.3,141.7 389.6,141.2 389.9,140.7 390.1,140.1 390.2,139.5 390.3,138.9 390.3,138.2 390.3,137.6 390.2,136.9M386.8,143.7 387.4,143.4 387.9,143.1 388.4,142.7 388.8,142.2 389.1,141.8 389.4,141.3 389.7,140.8 389.9,140.2 390.0,139.6M385.3,144.3 386.0,144.0 386.6,143.8 387.1,143.5 387.7,143.1 388.1,142.7 388.5,142.3 388.9,141.9 389.2,141.4M383.6,144.6 384.3,144.5 385.0,144.3 385.7,144.1 386.3,143.8 386.9,143.5 387.4,143.2 387.9,142.8M383.3,144.6 384.0,144.5 384.7,144.3 385.4,144.1 386.0,143.8 386.5,143.5M383.0,144.6 383.7,144.5 384.4,144.3M382.6,144.6 383.3,144.5M352.7,113.8 353.4,113.7 354.3,113.6M352.8,113.7 353.5,113.6 354.3,113.5 355.2,113.4 356.1,113.4M352.9,113.6 353.7,113.5 354.5,113.4 355.3,113.3 356.2,113.3 357.1,113.3 358.1,113.4 359.0,113.5M353.9,113.4 354.7,113.3 355.5,113.3 356.4,113.2 357.3,113.3 358.2,113.3 359.2,113.5 360.2,113.6M354.9,113.3 355.7,113.2 356.6,113.2 357.5,113.2 358.4,113.3 359.3,113.4 360.3,113.6 361.3,113.8 362.4,114.1M356.8,113.2 357.7,113.2 358.6,113.3 359.6,113.4 360.5,113.6 361.5,113.8 362.5,114.0 363.5,114.3M358.9,113.3 359.8,113.4 360.7,113.6 361.7,113.8 362.7,114.1 363.7,114.3 364.7,114.7M360.1,113.5 361.0,113.6 361.9,113.8 362.9,114.1 363.9,114.4 364.9,114.7 365.9,115.0M361.3,113.7 362.2,113.9 363.1,114.1 364.1,114.4 365.1,114.7 366.0,115.1M362.5,113.9 363.4,114.2 364.3,114.4 365.3,114.7 366.2,115.1 367.2,115.5M363.7,114.2 364.6,114.5 365.5,114.8 366.4,115.1 367.3,115.5M364.0,114.3 364.8,114.6 365.7,114.9 366.6,115.2 367.5,115.6M365.1,114.6 366.0,114.9 366.8,115.3 367.7,115.6 368.6,116.0M365.4,114.7 366.2,115.0 367.1,115.3 367.9,115.7 368.7,116.1M366.5,115.1 367.3,115.4 368.1,115.8 368.9,116.1M366.8,115.2 367.6,115.5 368.3,115.8 369.1,116.2M367.1,115.3 367.8,115.6 368.5,115.9 369.2,116.3M368.1,115.7 368.8,116.0 369.4,116.3 370.1,116.7M368.4,115.8 369.0,116.1 369.6,116.4 370.2,116.8M368.7,115.9 369.3,116.2 369.8,116.5 370.4,116.8M369.0,116.1 369.5,116.3 370.0,116.6 370.5,116.9M369.3,116.2 369.8,116.4 370.2,116.7 370.7,116.9M369.7,116.3 370.1,116.5 370.5,116.8 370.9,117.0M370.3,116.6 370.7,116.8 371.0,117.1M370.6,116.8 370.9,117.0 371.2,117.2M370.9,116.9 371.1,117.1 371.4,117.2M371.2,117.0 371.4,117.2 371.5,117.3M371.5,117.2 371.6,117.3 371.7,117.4M371.8,117.3 371.8,117.4 371.9,117.5M372.1,117.5 372.1,117.5 372.1,117.6M372.3,117.6 372.3,117.6 372.2,117.7M372.6,117.8 372.5,117.7 372.4,117.8M372.9,117.9 372.8,117.9 372.6,117.9M373.2,118.1 373.0,118.0 372.8,117.9M373.5,118.2 373.2,118.1 372.9,118.0M373.8,118.4 373.4,118.2 373.1,118.1M374.0,118.5 373.7,118.4 373.3,118.2M374.7,118.9 374.3,118.7 373.9,118.5 373.4,118.3M375.0,119.1 374.6,118.8 374.1,118.6 373.6,118.4M375.3,119.3 374.8,119.0 374.3,118.7 373.7,118.5M375.6,119.4 375.1,119.1 374.5,118.8 373.9,118.6M375.9,119.6 375.3,119.3 374.7,119.0 374.0,118.7M376.2,119.8 375.5,119.4 374.8,119.1 374.2,118.8M377.1,120.4 376.4,120.0 375.7,119.6 375.0,119.2M377.4,120.6 376.7,120.1 375.9,119.7 375.2,119.3M377.6,120.8 376.9,120.3 376.1,119.8 375.3,119.4M378.7,121.5 377.9,120.9 377.1,120.4 376.3,120.0 375.5,119.5M378.9,121.7 378.1,121.1 377.3,120.6 376.5,120.1 375.6,119.6M380.0,122.4 379.2,121.8 378.4,121.3 377.5,120.7 376.6,120.2M381.0,123.3 380.2,122.6 379.4,122.0 378.6,121.4 377.7,120.9 376.8,120.3M381.3,123.5 380.4,122.8 379.6,122.2 378.7,121.6 377.8,121.0 376.9,120.4M382.3,124.4 381.5,123.7 380.7,123.0 379.8,122.4 378.9,121.7 378.0,121.1M383.3,125.3 382.5,124.6 381.7,123.9 380.8,123.2 380.0,122.5 379.0,121.9M384.9,127.0 384.2,126.2 383.5,125.5 382.7,124.8 381.9,124.1 381.0,123.4 380.1,122.7 379.2,122.0M385.8,127.9 385.1,127.2 384.4,126.4 383.7,125.7 382.8,125.0 382.0,124.2 381.1,123.5 380.2,122.8M387.2,129.7 386.6,128.9 386.0,128.2 385.3,127.4 384.6,126.6 383.8,125.9 383.0,125.1 382.1,124.4M388.8,132.3 388.4,131.5 387.9,130.7 387.3,129.9 386.7,129.1 386.1,128.4 385.4,127.6 384.7,126.8 383.9,126.0 383.1,125.3M389.6,134.0 389.3,133.2 388.9,132.5 388.5,131.7 388.0,130.9 387.4,130.1 386.8,129.3 386.2,128.5 385.5,127.8 384.7,127.0M390.3,136.4 390.2,135.7 390.0,134.9 389.7,134.2 389.4,133.4 389.0,132.7 388.5,131.9 388.0,131.1 387.5,130.3 386.9,129.5M390.5,138.6 390.5,137.9 390.4,137.3 390.3,136.6 390.2,135.9 390.0,135.1 389.7,134.4 389.4,133.6 389.0,132.8 388.5,132.1M384.1,144.5 383.8,144.6 383.5,144.5 383.1,144.5M385.3,144.3 385.0,144.3 384.7,144.3 384.4,144.3M386.2,144.0 385.9,144.0 385.6,144.0 385.2,144.0M387.2,143.5 387.0,143.6 386.7,143.6 386.4,143.6M387.9,143.1 387.7,143.1 387.4,143.2M388.7,142.4 388.5,142.5 388.3,142.6 388.0,142.7M389.2,141.8 389.0,141.9 388.8,142.0M389.7,141.0 389.6,141.2 389.4,141.3 389.2,141.4M390.1,140.3 389.9,140.5 389.8,140.6 389.5,140.7M390.3,139.6 390.2,139.7 390.0,139.8M390.4,138.7 390.3,138.9 390.1,139.0M390.5,138.6 390.4,138.7M390.4,137.9 390.3,138.0M390.5,137.7 390.4,137.9M390.3,137.0 390.2,137.1M390.4,136.6 390.4,136.8 390.3,137.0M390.1,136.0 390.0,136.2M390.2,135.7 390.2,135.9 390.1,136.0M389.8,134.5 389.9,134.7 389.9,134.9 389.8,135.0M389.4,133.5 389.5,133.7 389.5,133.9 389.4,134.0M388.8,132.3 388.9,132.5 389.0,132.7 389.0,132.8M352.9,113.8 353.0,113.6 353.2,113.6M388.2,131.2 388.3,131.4 388.4,131.6 388.4,131.8M354.0,113.6 354.1,113.5 354.2,113.4 354.4,113.3M387.4,130.0 387.5,130.2 387.6,130.4 387.7,130.6 387.7,130.7M355.1,113.5 355.2,113.4 355.3,113.3 355.5,113.3 355.7,113.2M386.6,128.9 386.7,129.1 386.8,129.3 386.9,129.5M356.4,113.4 356.5,113.3 356.7,113.2 356.9,113.2 357.1,113.2M385.6,127.7 385.8,127.9 385.9,128.1 386.0,128.3 386.0,128.4M357.7,113.4 357.9,113.3 358.1,113.3 358.3,113.3 358.6,113.3M384.5,126.5 384.7,126.7 384.8,126.9 384.9,127.1 385.0,127.2M359.0,113.5 359.2,113.5 359.3,113.4 359.6,113.4 359.8,113.4 360.1,113.5M383.3,125.3 383.5,125.5 383.7,125.7 383.8,125.9 383.9,126.0M360.5,113.7 360.7,113.7 360.8,113.7 361.1,113.7 361.3,113.7 361.6,113.7M381.8,123.9 382.0,124.1 382.2,124.3 382.4,124.5 382.6,124.7 382.7,124.9 382.8,125.0M362.0,114.0 362.2,114.0 362.4,114.0 362.6,114.0 362.8,114.0 363.1,114.1 363.4,114.1M380.2,122.6 380.5,122.8 380.7,123.0 380.9,123.2 381.1,123.4 381.3,123.6 381.4,123.7 381.5,123.9M363.5,114.3 363.7,114.3 363.9,114.4 364.1,114.4 364.3,114.4 364.6,114.5 364.8,114.6 365.1,114.6 365.4,114.7M378.7,121.5 378.9,121.7 379.2,121.8 379.4,122.0 379.6,122.2 379.8,122.4 380.0,122.5 380.1,122.7 380.2,122.8M365.2,114.8 365.4,114.8 365.6,114.9 365.8,114.9 366.0,115.0 366.3,115.0 366.5,115.1 366.8,115.2 367.1,115.3 367.4,115.4 367.7,115.5 368.0,115.6M376.3,119.9 376.6,120.0 376.9,120.2 377.1,120.4 377.4,120.6 377.6,120.8 377.9,120.9 378.1,121.1 378.3,121.3 378.4,121.4 378.6,121.5 378.7,121.7M366.9,115.4 367.0,115.4 367.2,115.4 367.4,115.5 367.6,115.6 367.8,115.6 368.1,115.7 368.3,115.8 368.6,115.9 368.8,116.0 369.1,116.1 369.4,116.2 369.6,116.3 369.9,116.5 370.2,116.6 370.5,116.7 370.8,116.9 371.1,117.0 371.4,117.1 371.7,117.3 372.1,117.5 372.4,117.6 372.7,117.8 373.0,117.9 373.3,118.1 373.6,118.3 373.9,118.4 374.2,118.6 374.4,118.7 374.7,118.9 375.0,119.1 375.2,119.2 375.5,119.4 375.7,119.5 376.0,119.7 376.2,119.8 376.4,120.0 376.6,120.1 376.8,120.3 376.9,120.4 377.1,120.5 377.2,120.6M368.7,116.1 368.9,116.1 369.1,116.2 369.2,116.3 369.4,116.3 369.6,116.4 369.8,116.5 370.0,116.6 370.2,116.7 370.5,116.8 370.7,116.8 370.9,117.0 371.1,117.1 371.4,117.2 371.6,117.3 371.8,117.4 372.1,117.5 372.3,117.6 372.5,117.7 372.8,117.9 373.0,118.0 373.2,118.1 373.4,118.2 373.7,118.4 373.9,118.5 374.1,118.6 374.3,118.7 374.5,118.8 374.7,119.0 374.8,119.1 375.0,119.2 375.2,119.3 375.3,119.4" fill="none" stroke="#ff3300" stroke-width="0.4" stroke-opacity="1.00"/><path d="M389.6,134.5 389.3,133.8 388.9,133.0 388.5,132.2 388.0,131.4 387.4,130.6 386.8,129.8 386.2,129.0 385.5,128.2 384.7,127.3 384.0,126.5 383.1,125.7 382.3,124.9 381.4,124.2 380.4,123.4 379.5,122.7 378.5,121.9 377.4,121.2 376.4,120.5 375.3,119.8 374.2,119.2 373.1,118.6 372.0,118.0M390.2,136.9 390.0,136.2 389.8,135.4 389.5,134.7 389.2,133.9 388.8,133.1 388.4,132.3 387.9,131.5 387.3,130.7 386.7,129.9 386.1,129.1 385.4,128.2 384.7,127.4 383.9,126.6 383.1,125.8 382.2,125.0 381.3,124.2 380.4,123.5 379.4,122.7M376.4,120.5 375.3,119.9 374.2,119.2 373.1,118.6 372.0,118.0M390.0,139.6 390.1,139.0 390.1,138.3 390.1,137.7 390.0,137.0 389.8,136.3 389.6,135.5 389.4,134.8 389.0,134.0 388.7,133.2 388.2,132.4 387.7,131.6 387.2,130.8 386.6,130.0 386.0,129.1M374.2,119.2 373.1,118.6 372.0,118.0M389.2,141.4 389.5,140.8 389.7,140.3 389.8,139.7 389.9,139.1 389.9,138.4 389.9,137.7 389.8,137.0 389.6,136.3 389.4,135.6 389.1,134.8 388.8,134.1 388.5,133.3M373.1,118.6 372.0,118.0M387.9,142.8 388.3,142.4 388.6,141.9 388.9,141.4 389.2,140.9 389.4,140.3 389.5,139.7 389.6,139.1 389.6,138.5 389.6,137.8 389.5,137.1M373.1,118.6 372.0,118.0M386.5,143.5 387.1,143.2 387.5,142.8 387.9,142.4 388.3,141.9 388.6,141.4 388.8,140.9 389.0,140.3 389.2,139.8M373.1,118.6 372.0,118.0M384.4,144.3 385.0,144.1 385.6,143.8 386.2,143.5 386.7,143.2 387.1,142.8 387.5,142.4 387.9,141.9 388.2,141.4M373.0,118.6 372.0,118.0M383.3,144.5 384.0,144.3 384.6,144.0 385.2,143.8 385.7,143.5 386.2,143.1 386.7,142.7 387.1,142.3M373.0,118.6 372.0,118.0M382.2,144.5 382.9,144.4 383.5,144.2 384.2,144.0 384.7,143.7 385.3,143.4 385.8,143.1M373.0,118.6 372.0,118.0M381.7,144.4 382.4,144.3 383.1,144.1 383.7,143.9 384.2,143.6M381.3,144.3 381.9,144.2 382.5,144.0M380.7,144.2 381.4,144.0M371.0,117.6 372.0,118.0M371.0,117.5 372.0,118.0M370.9,117.5 372.0,118.0M370.9,117.5 372.0,118.0M370.9,117.5 372.0,118.0M351.4,115.0 352.0,114.7 352.8,114.5M370.9,117.5 372.0,118.0M351.9,114.5 352.7,114.3 353.4,114.1 354.3,114.0 355.1,113.9 356.0,113.9 356.9,113.9 357.9,113.9 358.9,114.0M369.8,117.0 370.9,117.5 372.0,118.0M351.9,114.3 352.6,114.1 353.4,114.0 354.2,113.8 355.1,113.8 356.0,113.7 356.9,113.7 357.8,113.8 358.8,113.9 359.8,114.0 360.9,114.2 362.0,114.4 363.0,114.6 364.1,114.9 365.2,115.3 366.4,115.6 367.5,116.0 368.6,116.5 369.8,116.9 370.9,117.5 372.0,118.0M351.9,114.2 352.6,114.0 353.4,113.8 354.2,113.7 355.1,113.6 356.0,113.6 356.9,113.6 357.8,113.7 358.8,113.8 359.8,113.9 360.9,114.1 362.0,114.3 363.0,114.6 364.1,114.9 365.2,115.2 366.4,115.6 367.5,116.0 368.6,116.4 369.8,116.9 370.9,117.4 372.0,118.0M354.3,113.6 355.1,113.5 356.0,113.5 356.9,113.5 357.9,113.6 358.9,113.7 359.9,113.8 360.9,114.0 362.0,114.2 363.1,114.5 364.2,114.8 365.3,115.1 366.4,115.5 367.5,116.0 368.6,116.4 369.8,116.9 370.9,117.4 372.0,118.0M356.1,113.4 357.0,113.4 358.0,113.5 358.9,113.6 359.9,113.7 361.0,113.9 362.0,114.2 363.1,114.4 364.2,114.7 365.3,115.1 366.4,115.5 367.5,115.9 368.7,116.4 369.8,116.9 370.9,117.4 372.0,118.0M359.0,113.5 360.0,113.7 361.1,113.9 362.1,114.1 363.2,114.4 364.3,114.7 365.4,115.1 366.5,115.5 367.6,115.9 368.7,116.4 369.8,116.9 370.9,117.4 372.0,118.0M360.2,113.6 361.2,113.8 362.2,114.1 363.3,114.4 364.3,114.7 365.4,115.0 366.5,115.4 367.6,115.9 368.7,116.4 369.8,116.9 370.9,117.4 372.0,118.0M362.4,114.1 363.4,114.3 364.4,114.7 365.5,115.0 366.6,115.4 367.7,115.9 368.8,116.4 369.9,116.9 370.9,117.4 372.0,118.0M363.5,114.3 364.6,114.7 365.6,115.0 366.7,115.4 367.7,115.9 368.8,116.4 369.9,116.9 371.0,117.4 372.0,118.0M364.7,114.7 365.7,115.0 366.8,115.4 367.8,115.9 368.9,116.4 369.9,116.9 371.0,117.4 372.0,118.0M365.9,115.0 366.9,115.4 367.9,115.9 369.0,116.4 370.0,116.9 371.0,117.4 372.0,118.0M366.0,115.1 367.0,115.5 368.0,115.9 369.0,116.4 370.0,116.9 371.0,117.4 372.0,118.0M367.2,115.5 368.2,115.9 369.1,116.4 370.1,116.9 371.1,117.4 372.0,118.0M367.3,115.5 368.3,116.0 369.2,116.4 370.2,116.9 371.1,117.4 372.0,118.0M367.5,115.6 368.4,116.0 369.3,116.4 370.2,116.9 371.1,117.4 372.0,118.0M368.6,116.0 369.4,116.5 370.3,116.9 371.2,117.5 372.0,118.0M368.7,116.1 369.5,116.5 370.4,117.0 371.2,117.5 372.0,118.0M368.9,116.1 369.7,116.5 370.5,117.0 371.2,117.5 372.0,118.0M369.1,116.2 369.8,116.6 370.5,117.0 371.3,117.5 372.0,118.0M369.2,116.3 369.9,116.6 370.6,117.1 371.3,117.5 372.0,118.0M370.1,116.7 370.7,117.1 371.4,117.5 372.0,118.0M370.2,116.8 370.8,117.1 371.4,117.5 372.0,118.0M370.4,116.8 370.9,117.2 371.5,117.6 372.0,118.0M370.5,116.9 371.0,117.2 371.5,117.6 372.0,118.0M370.7,116.9 371.1,117.3 371.6,117.6 372.0,118.0M370.9,117.0 371.3,117.3 371.6,117.6 372.0,118.0M371.0,117.1 371.4,117.4 371.7,117.7 372.0,118.0M371.2,117.2 371.5,117.4 371.7,117.7 372.0,118.0M371.4,117.2 371.6,117.5 371.8,117.7 372.0,118.0M371.5,117.3 371.7,117.5 371.9,117.7 372.0,118.0M371.7,117.4 371.8,117.6 371.9,117.8 372.0,118.0M371.9,117.5 371.9,117.6 372.0,117.8 372.0,118.0M372.1,117.6 372.1,117.7 372.0,117.8 372.0,118.0M372.2,117.7 372.2,117.7 372.1,117.9 372.0,118.0M372.4,117.8 372.3,117.8 372.2,117.9 372.0,118.0M372.6,117.9 372.4,117.9 372.2,117.9 372.0,118.0M372.8,117.9 372.5,117.9 372.3,117.9 372.0,118.0M372.9,118.0 372.6,118.0 372.3,118.0 372.0,118.0M373.1,118.1 372.7,118.1 372.4,118.0 372.0,118.0M373.3,118.2 372.9,118.1 372.4,118.0 372.0,118.0M373.4,118.3 373.0,118.2 372.5,118.1 372.0,118.0M373.6,118.4 373.1,118.2 372.5,118.1 372.0,118.0M373.7,118.5 373.2,118.3 372.6,118.1 372.0,118.0M373.9,118.6 373.3,118.4 372.6,118.2 372.0,118.0M374.0,118.7 373.4,118.4 372.7,118.2 372.0,118.0M374.2,118.8 373.5,118.5 372.7,118.2 372.0,118.0M375.0,119.2 374.3,118.9 373.5,118.5 372.8,118.3 372.0,118.0M375.2,119.3 374.4,118.9 373.6,118.6 372.8,118.3 372.0,118.0M375.3,119.4 374.5,119.0 373.7,118.6 372.9,118.3 372.0,118.0M375.5,119.5 374.6,119.1 373.8,118.7 372.9,118.3 372.0,118.0M375.6,119.6 374.7,119.2 373.8,118.8 372.9,118.4 372.0,118.0M376.6,120.2 375.7,119.7 374.8,119.2 373.9,118.8 373.0,118.4 372.0,118.0M376.8,120.3 375.9,119.8 374.9,119.3 374.0,118.8 373.0,118.4 372.0,118.0M376.9,120.4 376.0,119.9 375.0,119.4 374.0,118.9 373.0,118.4 372.0,118.0M378.0,121.1 377.0,120.6 376.1,120.0 375.1,119.4 374.1,118.9 373.0,118.5 372.0,118.0M379.0,121.9 378.1,121.3 377.1,120.7 376.1,120.1 375.1,119.5 374.1,119.0 373.1,118.5 372.0,118.0M379.2,122.0 378.2,121.4 377.2,120.7 376.2,120.1 375.2,119.6 374.1,119.0 373.1,118.5 372.0,118.0M380.2,122.8 379.3,122.1 378.3,121.5 377.3,120.8 376.3,120.2 375.2,119.6 374.2,119.0 373.1,118.5 372.0,118.0M382.1,124.4 381.2,123.7 380.3,122.9 379.3,122.2 378.4,121.6 377.4,120.9 376.3,120.3 375.3,119.7 374.2,119.1 373.1,118.5 372.0,118.0M383.1,125.3 382.2,124.5 381.3,123.8 380.4,123.1 379.4,122.3 378.4,121.7 377.4,121.0 376.4,120.3 375.3,119.7 374.2,119.1 373.1,118.5 372.0,118.0M384.7,127.0 384.0,126.2 383.1,125.4 382.3,124.7 381.4,123.9 380.4,123.2 379.5,122.4 378.5,121.7 377.4,121.1 376.4,120.4 375.3,119.8 374.2,119.1 373.1,118.6 372.0,118.0M386.9,129.5 386.2,128.7 385.5,127.9 384.8,127.1 384.0,126.3 383.2,125.5 382.3,124.8 381.4,124.0 380.4,123.3 379.5,122.5 378.5,121.8 377.4,121.1 376.4,120.4 375.3,119.8 374.2,119.2 373.1,118.6 372.0,118.0M388.5,132.1 388.0,131.3 387.5,130.5 386.9,129.7 386.2,128.8 385.5,128.0 384.8,127.2 384.0,126.4 383.2,125.6 382.3,124.9 381.4,124.1 380.4,123.3 379.5,122.6 378.5,121.9 377.4,121.2 376.4,120.5 375.3,119.8 374.2,119.2 373.1,118.6 372.0,118.0M383.1,144.5 382.7,144.4 382.2,144.4 381.7,144.2 381.1,144.1M384.4,144.3 384.0,144.3 383.5,144.2 383.1,144.1 382.5,144.0M385.2,144.0 384.8,144.0 384.4,143.9 383.9,143.8M386.4,143.6 386.0,143.6 385.6,143.6 385.1,143.5M387.4,143.2 387.1,143.2 386.7,143.2 386.2,143.1 385.8,143.1M388.0,142.7 387.7,142.7 387.3,142.7 386.8,142.6M388.8,142.0 388.5,142.1 388.2,142.1 387.8,142.1 387.3,142.0M389.2,141.4 388.9,141.4 388.6,141.4 388.2,141.4M389.5,140.7 389.2,140.7 388.9,140.7 388.5,140.7M390.0,139.8 389.8,139.9 389.5,139.9 389.1,140.0M390.1,139.0 389.9,139.1 389.6,139.1 389.2,139.1M390.3,138.0 390.1,138.1 389.9,138.2 389.6,138.2M390.2,137.1 390.0,137.2 389.8,137.3 389.5,137.3M390.0,136.2 389.8,136.3 389.6,136.3 389.3,136.4M389.8,135.0 389.7,135.2 389.5,135.3 389.3,135.3M389.4,134.0 389.3,134.1 389.2,134.2 388.9,134.3M388.9,133.0 388.8,133.1 388.7,133.2 388.5,133.3M352.0,114.7 351.9,114.5 351.9,114.3M389.0,132.8 388.9,133.0M388.3,131.9 388.2,132.0 388.1,132.1 387.9,132.2M353.0,114.5 352.9,114.3 352.9,114.1 352.9,113.9 352.9,113.8M388.4,131.8 388.3,131.9M387.6,130.9 387.5,131.0 387.4,131.1M354.1,114.3 354.0,114.1 353.9,113.9 353.9,113.7 354.0,113.6M387.7,130.7 387.6,130.9M386.8,129.8 386.7,129.9 386.6,130.0M355.2,114.1 355.1,113.9 355.1,113.8 355.1,113.6 355.1,113.5M386.9,129.5 386.9,129.7 386.8,129.8M385.9,128.7 385.9,128.8 385.7,128.9M356.3,113.9 356.3,113.7 356.3,113.6 356.3,113.5 356.4,113.4M386.0,128.4 386.0,128.6 385.9,128.7M385.0,127.6 384.9,127.7 384.8,127.8M357.6,113.9 357.5,113.8 357.5,113.6 357.6,113.5 357.6,113.4 357.7,113.4M385.0,127.2 385.0,127.4 385.0,127.5 385.0,127.6M384.0,126.5 383.9,126.6 383.8,126.7M358.9,114.0 358.8,113.9 358.8,113.8 358.9,113.7 358.9,113.6 359.0,113.5M383.9,126.0 384.0,126.2 384.0,126.3 384.0,126.4 384.0,126.5M382.8,125.5 382.8,125.5M360.2,114.2 360.2,114.1 360.2,113.9 360.2,113.9 360.3,113.8 360.4,113.7 360.5,113.7M382.8,125.0 382.8,125.2 382.9,125.3 382.9,125.4 382.8,125.5M381.7,124.4 381.6,124.5M361.6,114.4 361.6,114.3 361.6,114.2 361.6,114.1 361.7,114.1 361.8,114.0 361.9,114.0 362.0,114.0M381.5,123.9 381.6,124.0 381.7,124.1 381.7,124.3 381.7,124.3 381.7,124.4M380.4,123.4 380.4,123.5M363.0,114.6 363.0,114.6 363.1,114.5 363.1,114.4 363.2,114.4 363.3,114.4 363.4,114.3 363.5,114.3M380.2,122.8 380.3,122.9 380.4,123.1 380.4,123.2 380.4,123.3 380.4,123.3 380.4,123.4M379.1,122.4 379.1,122.5M364.5,115.0 364.5,115.0 364.5,114.9 364.6,114.9 364.6,114.8 364.7,114.8 364.8,114.8 364.9,114.8 365.1,114.8 365.2,114.8M378.7,121.7 378.8,121.8 378.9,121.9 379.0,122.0 379.1,122.1 379.1,122.2 379.1,122.3 379.1,122.3 379.1,122.4M377.8,121.4 377.7,121.5M366.0,115.5 366.0,115.4 366.0,115.4 366.0,115.4 366.1,115.3 366.2,115.3 366.2,115.3 366.3,115.3 366.4,115.3 366.6,115.3 366.7,115.3 366.9,115.4M377.2,120.6 377.3,120.7 377.5,120.9 377.6,121.0 377.6,121.0 377.7,121.1 377.7,121.2 377.8,121.3 377.8,121.3 377.8,121.4 377.8,121.4M376.4,120.5 376.4,120.5M367.5,116.0 367.5,116.0 367.5,116.0 367.5,115.9 367.6,115.9 367.6,115.9 367.7,115.9 367.7,115.9 367.8,115.9 367.9,115.9 368.0,115.9 368.2,115.9 368.3,116.0 368.4,116.0 368.6,116.0 368.7,116.1M375.3,119.4 375.5,119.5 375.6,119.6 375.7,119.7 375.9,119.8 376.0,119.9 376.1,120.0 376.1,120.1 376.2,120.1 376.3,120.2 376.3,120.3 376.4,120.3 376.4,120.4 376.4,120.4 376.4,120.5 376.4,120.5M375.0,119.6 374.9,119.6M369.0,116.7 369.0,116.6 369.0,116.6 369.0,116.6 369.0,116.6 369.1,116.5 369.1,116.5 369.1,116.5 369.2,116.5 369.2,116.5 369.3,116.5 369.4,116.5 369.4,116.6 369.5,116.6 369.6,116.6 369.7,116.6 369.8,116.7 369.9,116.7 370.0,116.7 370.2,116.8 370.3,116.8 370.4,116.9 370.6,116.9 370.7,117.0 370.8,117.0 371.0,117.1 371.1,117.2 371.3,117.2 371.4,117.3 371.6,117.4 371.8,117.5 371.9,117.5 372.1,117.6 372.2,117.7 372.4,117.8 372.5,117.9 372.7,117.9 372.8,118.0 373.0,118.1 373.1,118.2 373.3,118.3 373.4,118.3 373.5,118.4 373.7,118.5 373.8,118.6 373.9,118.7 374.0,118.7 374.1,118.8 374.3,118.9 374.3,119.0 374.4,119.0 374.5,119.1 374.6,119.2 374.7,119.2 374.7,119.3 374.8,119.3 374.8,119.4 374.9,119.4 374.9,119.5 374.9,119.5 375.0,119.5 375.0,119.6 375.0,119.6 375.0,119.6M373.5,118.8 373.5,118.8 373.5,118.8 373.5,118.8M370.5,117.3 370.5,117.3 370.5,117.3 370.5,117.3 370.5,117.3 370.5,117.2 370.5,117.2 370.6,117.2 370.6,117.2 370.6,117.2 370.6,117.2 370.7,117.2 370.7,117.2 370.7,117.2 370.8,117.3 370.8,117.3 370.9,117.3 370.9,117.3 371.0,117.3 371.0,117.3 371.1,117.4 371.2,117.4 371.2,117.4 371.3,117.4 371.4,117.5 371.4,117.5 371.5,117.5 371.6,117.6 371.7,117.6 371.7,117.6 371.8,117.7 371.9,117.7 372.0,117.7 372.0,117.8 372.1,117.8 372.2,117.9 372.3,117.9 372.4,117.9 372.4,118.0 372.5,118.0 372.6,118.1 372.6,118.1 372.7,118.1 372.8,118.2 372.9,118.2 372.9,118.3 373.0,118.3 373.0,118.3 373.1,118.4 373.1,118.4 373.2,118.5 373.2,118.5 373.3,118.5 373.3,118.6 373.4,118.6 373.4,118.6 373.4,118.6 373.4,118.7 373.5,118.7 373.5,118.7 373.5,118.7 373.5,118.7 373.5,118.8 373.5,118.8 373.5,118.8" fill="none" stroke="#ff3300" stroke-width="0.4" stroke-opacity="0.80"/><path d="M379.4,122.7 378.4,122.0 377.4,121.2 376.4,120.5M386.0,129.1 385.3,128.3 384.6,127.5 383.8,126.7 383.0,125.9 382.1,125.1 381.2,124.3 380.3,123.5 379.3,122.7 378.4,122.0 377.4,121.3 376.3,120.6 375.3,119.9 374.2,119.2M388.5,133.3 388.0,132.5 387.5,131.7 387.0,130.8 386.4,130.0 385.8,129.2 385.1,128.4 384.4,127.5 383.6,126.7 382.8,125.9 382.0,125.1 381.1,124.3 380.2,123.5 379.3,122.8 378.3,122.0 377.3,121.3 376.3,120.6 375.2,119.9 374.2,119.2 373.1,118.6M389.5,137.1 389.3,136.4 389.1,135.6 388.9,134.9 388.6,134.1 388.2,133.3 387.8,132.5 387.3,131.7 386.8,130.9 386.2,130.1 385.6,129.2 384.9,128.4 384.2,127.6 383.5,126.8 382.7,125.9 381.8,125.1 381.0,124.3 380.1,123.6 379.2,122.8 378.2,122.0 377.2,121.3 376.2,120.6 375.2,119.9 374.1,119.2 373.1,118.6M389.2,139.8 389.2,139.1 389.3,138.5 389.2,137.8 389.2,137.1 389.0,136.4 388.8,135.6 388.6,134.9 388.3,134.1 387.9,133.3 387.5,132.5 387.0,131.7 386.5,130.9 386.0,130.1 385.3,129.2 384.7,128.4 384.0,127.6 383.3,126.8 382.5,125.9 381.7,125.1 380.8,124.3 379.9,123.6 379.0,122.8 378.1,122.0 377.1,121.3 376.1,120.6 375.1,119.9 374.1,119.2 373.1,118.6M388.2,141.4 388.4,140.9 388.6,140.3 388.8,139.7 388.8,139.1 388.9,138.5 388.8,137.8 388.8,137.1 388.6,136.4 388.4,135.6 388.2,134.9 387.9,134.1 387.5,133.3 387.2,132.5 386.7,131.7 386.2,130.9 385.7,130.1 385.1,129.2 384.4,128.4 383.7,127.6 383.0,126.8 382.3,125.9 381.5,125.1 380.6,124.3 379.8,123.6 378.9,122.8 378.0,122.0 377.0,121.3 376.1,120.6 375.1,119.9 374.1,119.2 373.0,118.6M387.1,142.3 387.4,141.9 387.7,141.4 388.0,140.8 388.2,140.3 388.3,139.7 388.4,139.1 388.4,138.4 388.4,137.7 388.3,137.0 388.2,136.3 388.0,135.6 387.8,134.8 387.5,134.1 387.2,133.3 386.8,132.5 386.3,131.7 385.8,130.8 385.3,130.0 384.7,129.2 384.1,128.4 383.5,127.5 382.8,126.7 382.0,125.9 381.2,125.1 380.4,124.3 379.6,123.5 378.7,122.8 377.8,122.0 376.9,121.3 376.0,120.6 375.0,119.9 374.0,119.2 373.0,118.6M385.8,143.1 386.2,142.7 386.6,142.2 386.9,141.8 387.2,141.3 387.5,140.8 387.6,140.2 387.8,139.6 387.9,139.0 387.9,138.3 387.9,137.7 387.8,137.0 387.7,136.3 387.5,135.5 387.3,134.8M384.4,129.1 383.8,128.3 383.1,127.5 382.5,126.7 381.7,125.9 381.0,125.1 380.2,124.3 379.4,123.5 378.5,122.7 377.7,122.0 376.8,121.3 375.9,120.6 374.9,119.9 374.0,119.2 373.0,118.6M384.2,143.6 384.7,143.3 385.2,143.0 385.6,142.6 386.0,142.1 386.4,141.7 386.7,141.2 386.9,140.7 387.1,140.1 387.2,139.5 387.3,138.9 387.4,138.2M381.4,125.8 380.7,125.0 379.9,124.2 379.2,123.5 378.3,122.7 377.5,122.0 376.6,121.2 375.7,120.5 374.8,119.9 373.9,119.2 373.0,118.6 372.0,118.0M382.5,144.0 383.1,143.8 383.7,143.5 384.2,143.2 384.6,142.8 385.1,142.4 385.4,142.0 385.8,141.5 386.0,141.0 386.3,140.5 386.5,140.0M380.4,124.9 379.7,124.2 378.9,123.4 378.1,122.7 377.3,121.9 376.5,121.2 375.6,120.5 374.7,119.8 373.8,119.2 372.9,118.6 372.0,118.0M381.4,144.0 382.0,143.8 382.5,143.6 383.1,143.3 383.6,143.0 384.0,142.7 384.4,142.3 384.8,141.8 385.1,141.4M379.4,124.1 378.6,123.3 377.9,122.6 377.1,121.9 376.3,121.2 375.5,120.5 374.6,119.8 373.8,119.2 372.9,118.6 372.0,118.0M380.1,144.0 380.8,143.9 381.3,143.7 381.9,143.4 382.4,143.2 382.9,142.8 383.3,142.5 383.7,142.1M378.4,123.3 377.6,122.5 376.9,121.8 376.1,121.1 375.3,120.4 374.5,119.8 373.7,119.2 372.9,118.6 372.0,118.0M379.5,143.9 380.1,143.7 380.7,143.5 381.2,143.2 381.7,142.9 382.2,142.6 382.6,142.3M377.4,122.4 376.6,121.7 375.9,121.1 375.2,120.4 374.4,119.8 373.6,119.1 372.8,118.6 372.0,118.0M378.9,143.6 379.5,143.5 380.0,143.3 380.5,143.0 381.0,142.7M377.1,122.3 376.4,121.7 375.7,121.0 375.0,120.3 374.3,119.7 373.5,119.1 372.8,118.5 372.0,118.0M378.2,143.4 378.8,143.2 379.3,143.0 379.8,142.7M376.1,121.6 375.5,120.9 374.8,120.3 374.1,119.7 373.4,119.1 372.7,118.5 372.0,118.0M377.5,143.2 378.0,143.0 378.5,142.7M375.9,121.5 375.3,120.8 374.6,120.2 374.0,119.6 373.4,119.0 372.7,118.5 372.0,118.0M376.8,142.9 377.3,142.7M375.6,121.4 375.0,120.7 374.5,120.1 373.9,119.6 373.3,119.0 372.6,118.5 372.0,118.0M376.0,142.6 376.5,142.4M374.8,120.7 374.3,120.1 373.7,119.5 373.2,119.0 372.6,118.5 372.0,118.0M374.5,120.6 374.1,120.0 373.6,119.4 373.1,118.9 372.5,118.5 372.0,118.0M374.3,120.4 373.9,119.9 373.4,119.4 373.0,118.9 372.5,118.4 372.0,118.0M374.0,120.3 373.6,119.8 373.2,119.3 372.8,118.8 372.4,118.4 372.0,118.0M373.7,120.2 373.4,119.7 373.1,119.2 372.7,118.8 372.4,118.4 372.0,118.0M373.5,120.1 373.2,119.6 372.9,119.2 372.6,118.8 372.3,118.4 372.0,118.0M373.2,120.0 373.0,119.5 372.7,119.1 372.5,118.7 372.3,118.3 372.0,118.0M372.9,119.8 372.7,119.4 372.6,119.0 372.4,118.6 372.2,118.3 372.0,118.0M372.5,119.3 372.4,118.9 372.3,118.6 372.2,118.3 372.0,118.0M372.3,119.2 372.2,118.9 372.2,118.5 372.1,118.3 372.0,118.0M372.1,119.1 372.1,118.8 372.0,118.5 372.0,118.2 372.0,118.0M371.8,119.0 371.9,118.7 371.9,118.4 372.0,118.2 372.0,118.0M371.6,118.8 371.7,118.6 371.8,118.4 371.9,118.2 372.0,118.0M371.4,118.7 371.5,118.5 371.7,118.3 371.9,118.1 372.0,118.0M371.1,118.6 371.4,118.4 371.6,118.2 371.8,118.1 372.0,118.0M370.9,118.5 371.2,118.3 371.5,118.2 371.7,118.1 372.0,118.0M370.3,118.5 370.7,118.4 371.0,118.2 371.4,118.1 371.7,118.0 372.0,118.0M370.0,118.4 370.5,118.2 370.8,118.1 371.2,118.1 371.6,118.0 372.0,118.0M369.8,118.2 370.2,118.1 370.7,118.0 371.1,118.0 371.6,118.0 372.0,118.0M369.5,118.1 370.0,118.0 370.5,117.9 371.0,117.9 371.5,117.9 372.0,118.0M369.3,117.9 369.8,117.9 370.4,117.9 370.9,117.9 371.5,117.9 372.0,118.0M369.0,117.8 369.6,117.7 370.2,117.8 370.8,117.8 371.4,117.9 372.0,118.0M368.8,117.6 369.4,117.6 370.1,117.7 370.7,117.7 371.4,117.9 372.0,118.0M367.8,117.4 368.5,117.5 369.2,117.5 369.9,117.6 370.6,117.7 371.3,117.8 372.0,118.0M367.6,117.3 368.3,117.3 369.0,117.4 369.8,117.5 370.5,117.6 371.3,117.8 372.0,118.0M367.3,117.1 368.1,117.2 368.9,117.3 369.7,117.4 370.5,117.6 371.2,117.8 372.0,118.0M367.1,116.9 367.9,117.0 368.7,117.2 369.5,117.3 370.4,117.5 371.2,117.7 372.0,118.0M366.0,116.7 366.8,116.8 367.7,116.9 368.6,117.1 369.4,117.2 370.3,117.5 371.2,117.7 372.0,118.0M365.7,116.5 366.6,116.6 367.5,116.8 368.4,117.0 369.3,117.2 370.2,117.4 371.1,117.7 372.0,118.0M364.6,116.2 365.5,116.3 366.4,116.5 367.3,116.6 368.3,116.8 369.2,117.1 370.1,117.4 371.1,117.7 372.0,118.0M363.4,116.0 364.3,116.0 365.3,116.2 366.2,116.3 367.2,116.5 368.1,116.8 369.1,117.0 370.1,117.3 371.1,117.6 372.0,118.0M362.2,115.7 363.1,115.7 364.1,115.9 365.1,116.0 366.0,116.2 367.0,116.4 368.0,116.7 369.0,116.9 370.0,117.3 371.0,117.6 372.0,118.0M360.0,115.4 361.0,115.4 361.9,115.5 362.9,115.6 363.9,115.7 364.9,115.9 365.9,116.1 366.9,116.3 367.9,116.6 368.9,116.9 370.0,117.2 371.0,117.6 372.0,118.0M351.5,117.2 352.1,116.8 352.6,116.5 353.3,116.2 354.0,115.9 354.7,115.7 355.5,115.5 356.3,115.4 357.1,115.3 358.0,115.2 358.9,115.1 359.8,115.1 360.7,115.2 361.7,115.3 362.7,115.4 363.7,115.5 364.7,115.7 365.7,115.9 366.8,116.2 367.8,116.5 368.9,116.8 369.9,117.2 371.0,117.6M351.7,116.5 352.3,116.1 352.9,115.9 353.6,115.6 354.4,115.4 355.1,115.2 356.0,115.1 356.8,115.0 357.7,114.9 358.6,114.9 359.5,114.9 360.5,115.0 361.5,115.1 362.5,115.2 363.5,115.4 364.6,115.6 365.6,115.8 366.7,116.1 367.7,116.4 368.8,116.8 369.9,117.1 371.0,117.5M351.4,116.1 352.0,115.8 352.6,115.5 353.3,115.3 354.1,115.1 354.9,114.9 355.7,114.8 356.6,114.7 357.5,114.7 358.4,114.7 359.3,114.7 360.3,114.8 361.3,114.9 362.3,115.0 363.4,115.2 364.4,115.4 365.5,115.7 366.6,116.0 367.7,116.3 368.8,116.7 369.8,117.1 370.9,117.5M351.7,115.5 352.4,115.3 353.1,115.0 353.9,114.8 354.7,114.7 355.5,114.6 356.4,114.5 357.3,114.5 358.2,114.5 359.2,114.5 360.2,114.6 361.2,114.7 362.2,114.9 363.3,115.1 364.3,115.3 365.4,115.6 366.5,115.9 367.6,116.3 368.7,116.6 369.8,117.1 370.9,117.5M351.5,115.3 352.2,115.0 352.9,114.8 353.7,114.6 354.5,114.4 355.3,114.3 356.2,114.3 357.1,114.2 358.1,114.3 359.0,114.3 360.0,114.4 361.1,114.6 362.1,114.7 363.2,115.0 364.3,115.2 365.3,115.5 366.5,115.8 367.6,116.2 368.7,116.6 369.8,117.0 370.9,117.5M352.8,114.5 353.5,114.4 354.3,114.2 355.2,114.1 356.1,114.1 357.0,114.1 357.9,114.1 358.9,114.2 359.9,114.3 361.0,114.4 362.0,114.6 363.1,114.8 364.2,115.1 365.3,115.4 366.4,115.8 367.5,116.1 368.7,116.5 369.8,117.0 370.9,117.5M358.9,114.0 359.9,114.1 360.9,114.3 362.0,114.5 363.1,114.7 364.2,115.0 365.3,115.3 366.4,115.7 367.5,116.1 368.6,116.5 369.8,117.0M381.1,144.1 380.6,143.9 379.9,143.7 379.3,143.5 378.6,143.3 377.9,143.0 377.1,142.8 376.3,142.5M382.5,144.0 382.0,143.8 381.3,143.7 380.7,143.5 380.0,143.3 379.3,143.0 378.5,142.7M383.9,143.8 383.3,143.7 382.7,143.5 382.1,143.3 381.4,143.1 380.7,142.9 379.9,142.7M385.1,143.5 384.6,143.4 384.0,143.3 383.4,143.1 382.7,142.9 382.0,142.7 381.3,142.5M385.8,143.1 385.2,143.0 384.6,142.8 384.0,142.7 383.3,142.5 382.6,142.3M386.8,142.6 386.3,142.5 385.8,142.4 385.2,142.3 384.5,142.1 383.9,141.9M387.3,142.0 386.8,141.9 386.3,141.8 385.7,141.7 385.0,141.5M388.2,141.4 387.7,141.4 387.2,141.3 386.7,141.2 386.0,141.0 385.4,140.9M388.5,140.7 388.0,140.7 387.5,140.6 387.0,140.5 386.4,140.3M389.1,140.0 388.7,139.9 388.3,139.9 387.7,139.8 387.2,139.7 386.6,139.6M389.2,139.1 388.8,139.1 388.4,139.1 387.9,139.0 387.3,138.9M389.6,138.2 389.3,138.3 388.9,138.2 388.4,138.2 387.9,138.1 387.4,138.0M389.5,137.3 389.2,137.3 388.8,137.3 388.4,137.3 387.9,137.2 387.3,137.1M389.3,136.4 389.0,136.4 388.6,136.4 388.2,136.3 387.7,136.3M389.3,135.3 389.1,135.4 388.7,135.4 388.4,135.4 387.9,135.3 387.5,135.3M351.7,117.1 351.3,116.7M388.9,134.3 388.7,134.4 388.4,134.4 388.0,134.4 387.6,134.3 387.1,134.2M352.4,116.6 352.1,116.3 351.8,115.9 351.5,115.6M388.5,133.3 388.2,133.3 387.9,133.3 387.5,133.3 387.2,133.3 386.7,133.2M353.3,116.2 352.9,115.9 352.6,115.5 352.4,115.3 352.2,115.0 352.0,114.7M387.9,132.2 387.6,132.2 387.3,132.2 387.0,132.2 386.6,132.2 386.2,132.1M354.2,115.9 353.9,115.5 353.6,115.2 353.4,115.0 353.2,114.7 353.0,114.5M387.4,131.1 387.2,131.1 387.0,131.2 386.7,131.2 386.4,131.2 386.0,131.1 385.6,131.1M355.2,115.6 354.9,115.3 354.6,115.0 354.4,114.7 354.2,114.5 354.1,114.3M386.6,130.0 386.4,130.0 386.2,130.1 386.0,130.1 385.7,130.1 385.3,130.0 384.9,130.0M356.3,115.4 356.0,115.1 355.7,114.8 355.5,114.6 355.3,114.3 355.2,114.1M385.7,128.9 385.6,128.9 385.4,129.0 385.1,129.0 384.9,129.0 384.5,128.9 384.2,128.9M357.4,115.2 357.1,115.0 356.9,114.7 356.7,114.5 356.5,114.3 356.4,114.1 356.3,113.9M384.8,127.8 384.6,127.8 384.5,127.9 384.2,127.9 384.0,127.9 383.7,127.8 383.4,127.8M358.8,115.4 358.5,115.2 358.3,114.9 358.1,114.7 357.9,114.5 357.7,114.3 357.6,114.1 357.6,113.9M383.8,126.7 383.6,126.7 383.5,126.8 383.3,126.8 383.0,126.8 382.8,126.7 382.5,126.7 382.1,126.6M360.0,115.4 359.8,115.1 359.5,114.9 359.3,114.7 359.2,114.5 359.0,114.3 358.9,114.2 358.9,114.0M382.8,125.5 382.7,125.6 382.6,125.6 382.4,125.7 382.2,125.7 382.0,125.7 381.8,125.6 381.5,125.6 381.2,125.5M361.6,115.6 361.3,115.4 361.0,115.2 360.8,115.0 360.6,114.8 360.5,114.6 360.4,114.5 360.3,114.3 360.2,114.2M381.6,124.5 381.5,124.5 381.4,124.6 381.3,124.6 381.1,124.6 380.9,124.6 380.7,124.6 380.5,124.5 380.2,124.5 379.9,124.4M363.1,115.9 362.8,115.7 362.6,115.5 362.3,115.3 362.2,115.1 362.0,115.0 361.9,114.8 361.8,114.7 361.7,114.5 361.6,114.4M380.4,123.5 380.3,123.5 380.2,123.5 380.1,123.6 379.9,123.6 379.8,123.6 379.6,123.5 379.4,123.5 379.2,123.5 378.9,123.4 378.6,123.3 378.4,123.3M364.6,116.2 364.3,116.0 364.1,115.9 363.9,115.7 363.7,115.5 363.5,115.4 363.4,115.2 363.3,115.1 363.2,115.0 363.1,114.8 363.1,114.7 363.0,114.6M379.1,122.5 379.0,122.5 378.9,122.5 378.8,122.5 378.7,122.5 378.6,122.5 378.4,122.5 378.3,122.5 378.1,122.5 377.8,122.4 377.6,122.3 377.4,122.3 377.1,122.2 376.9,122.1M366.2,116.7 366.0,116.5 365.8,116.4 365.6,116.2 365.4,116.1 365.2,115.9 365.1,115.8 364.9,115.6 364.8,115.5 364.7,115.4 364.6,115.3 364.6,115.2 364.5,115.1 364.5,115.0M377.7,121.5 377.7,121.5 377.6,121.5 377.5,121.5 377.4,121.5 377.3,121.5 377.2,121.5 377.1,121.5 376.9,121.5 376.7,121.4 376.6,121.4 376.4,121.3 376.2,121.3 375.9,121.2 375.7,121.1 375.5,121.0 375.2,120.9 375.0,120.9M368.5,117.6 368.3,117.5 368.0,117.3 367.8,117.1 367.6,117.0 367.4,116.9 367.2,116.7 367.0,116.6 366.9,116.5 366.7,116.3 366.6,116.2 366.4,116.1 366.3,116.0 366.2,115.9 366.1,115.8 366.1,115.7 366.0,115.6 366.0,115.6 366.0,115.5M376.4,120.5 376.3,120.6 376.3,120.6 376.2,120.6 376.1,120.6 376.1,120.6 376.0,120.6 375.9,120.6 375.7,120.5 375.6,120.5 375.5,120.5 375.3,120.4 375.2,120.4 375.0,120.3 374.8,120.3 374.6,120.2 374.5,120.1 374.3,120.1 374.1,120.0 373.9,119.9 373.6,119.8 373.4,119.7 373.2,119.6 373.0,119.5 372.7,119.4 372.5,119.3 372.3,119.2 372.1,119.1 371.8,119.0 371.6,118.8 371.4,118.7 371.1,118.6 370.9,118.5 370.7,118.4 370.5,118.2 370.2,118.1 370.0,118.0 369.8,117.9 369.6,117.7 369.4,117.6 369.2,117.5 369.0,117.4 368.9,117.3 368.7,117.2 368.6,117.1 368.4,117.0 368.3,116.8 368.1,116.8 368.0,116.7 367.9,116.6 367.8,116.5 367.7,116.4 367.7,116.3 367.6,116.3 367.6,116.2 367.5,116.1 367.5,116.1 367.5,116.0M374.9,119.6 374.9,119.7 374.9,119.7 374.8,119.7 374.8,119.7 374.7,119.7 374.7,119.7 374.6,119.7 374.5,119.6 374.4,119.6 374.3,119.6 374.2,119.6 374.1,119.5 374.0,119.5 373.9,119.5 373.8,119.4 373.7,119.4 373.5,119.3 373.4,119.3 373.3,119.2 373.1,119.2 373.0,119.1 372.8,119.0 372.7,119.0 372.5,118.9 372.4,118.8 372.2,118.7 372.1,118.7 371.9,118.6 371.7,118.5 371.6,118.4 371.4,118.3 371.3,118.3 371.1,118.2 371.0,118.1 370.8,118.0 370.7,117.9 370.6,117.9 370.4,117.8 370.3,117.7 370.2,117.6 370.0,117.5 369.9,117.5 369.8,117.4 369.7,117.3 369.6,117.2 369.5,117.2 369.4,117.1 369.4,117.0 369.3,117.0 369.2,116.9 369.2,116.9 369.1,116.8 369.1,116.8 369.1,116.7 369.0,116.7 369.0,116.7M373.5,118.8 373.4,118.8 373.4,118.8 373.4,118.8 373.4,118.8 373.3,118.8 373.3,118.8 373.2,118.8 373.2,118.8 373.1,118.8 373.1,118.7 373.0,118.7 373.0,118.7 372.9,118.7 372.8,118.7 372.8,118.6 372.7,118.6 372.6,118.6 372.6,118.6 372.5,118.5 372.4,118.5 372.4,118.5 372.3,118.4 372.2,118.4 372.1,118.3 372.0,118.3 372.0,118.3 371.9,118.2 371.8,118.2 371.7,118.1 371.7,118.1 371.6,118.1 371.5,118.0 371.4,118.0 371.4,117.9 371.3,117.9 371.2,117.9 371.2,117.8 371.1,117.8 371.0,117.7 371.0,117.7 370.9,117.7 370.9,117.6 370.8,117.6 370.8,117.6 370.7,117.5 370.7,117.5 370.7,117.5 370.6,117.4 370.6,117.4 370.6,117.4 370.6,117.4 370.5,117.3 370.5,117.3" fill="none" stroke="#ff3300" stroke-width="0.4" stroke-opacity="0.68"/><path d="M387.3,134.8 387.0,134.0 386.7,133.2 386.3,132.4 385.9,131.6 385.4,130.8 384.9,130.0 384.4,129.1M387.4,138.2 387.3,137.6 387.3,136.9 387.2,136.2 387.0,135.4 386.8,134.7 386.5,133.9 386.2,133.1 385.9,132.3 385.5,131.5 385.0,130.7 384.5,129.9 384.0,129.1 383.4,128.2 382.8,127.4 382.1,126.6 381.4,125.8M386.5,140.0 386.6,139.4 386.7,138.7 386.8,138.1 386.7,137.4 386.7,136.7 386.6,136.0 386.4,135.3 386.2,134.5 386.0,133.8 385.7,133.0 385.4,132.2 385.0,131.4 384.5,130.6 384.1,129.8 383.5,129.0 383.0,128.2 382.4,127.3 381.8,126.5 381.1,125.7 380.4,124.9M385.1,141.4 385.4,140.9 385.6,140.3 385.8,139.8 386.0,139.2 386.1,138.6 386.1,137.9 386.1,137.3 386.1,136.6 386.0,135.9 385.8,135.1 385.6,134.4 385.4,133.6 385.1,132.8 384.8,132.1 384.4,131.3 384.0,130.5 383.6,129.7 383.1,128.8 382.6,128.0 382.0,127.2 381.4,126.4 380.7,125.6 380.1,124.9 379.4,124.1M383.7,142.1 384.1,141.6 384.4,141.2 384.7,140.7 384.9,140.2 385.1,139.6 385.3,139.0 385.3,138.4 385.4,137.7 385.4,137.1 385.4,136.4 385.3,135.7 385.2,134.9 385.0,134.2 384.8,133.4 384.5,132.7 384.2,131.9 383.9,131.1 383.5,130.3 383.0,129.5 382.6,128.7 382.1,127.9 381.5,127.1 381.0,126.3 380.4,125.5 379.7,124.8 379.0,124.0 378.4,123.3M382.6,142.3 383.0,141.9 383.4,141.4 383.7,141.0 383.9,140.5 384.2,139.9 384.4,139.4 384.5,138.8 384.6,138.2 384.7,137.5 384.7,136.8 384.6,136.2 384.6,135.5 384.5,134.7 384.3,134.0 384.1,133.2 383.9,132.5 383.6,131.7 383.3,130.9 382.9,130.1 382.5,129.3 382.1,128.5 381.6,127.8 381.1,127.0 380.5,126.2 379.9,125.4 379.3,124.6 378.7,123.9 378.0,123.2 377.4,122.4M381.0,142.7 381.5,142.4 381.9,142.0 382.2,141.6 382.6,141.2 382.9,140.7 383.2,140.2 383.4,139.7 383.6,139.1 383.7,138.5 383.8,137.9 383.9,137.3 383.9,136.6 383.9,135.9 383.8,135.2 383.7,134.5 383.6,133.8 383.4,133.0 383.2,132.2 382.9,131.5 382.6,130.7 382.3,129.9 381.9,129.1 381.5,128.4 381.0,127.6 380.6,126.8 380.1,126.0 379.5,125.3 378.9,124.5 378.3,123.8 377.7,123.1 377.1,122.3M379.8,142.7 380.2,142.5 380.7,142.1 381.1,141.7 381.4,141.3 381.8,140.9 382.1,140.4 382.3,139.9 382.5,139.4 382.7,138.8 382.9,138.2 383.0,137.6 383.1,137.0 383.1,136.3 383.1,135.6 383.0,134.9 382.9,134.2 382.8,133.5 382.7,132.8 382.4,132.0 382.2,131.2 381.9,130.5 381.6,129.7 381.3,128.9 380.9,128.2 380.5,127.4 380.0,126.6 379.6,125.9 379.1,125.1 378.5,124.4 378.0,123.7 377.4,122.9 376.8,122.2 376.1,121.6M378.5,142.7 379.0,142.5 379.4,142.2 379.9,141.8 380.2,141.4 380.6,141.0 380.9,140.6 381.2,140.1 381.5,139.6 381.7,139.1 381.9,138.5 382.0,137.9 382.1,137.3 382.2,136.7 382.2,136.0 382.2,135.3 382.2,134.6 382.1,133.9 382.0,133.2 381.9,132.5 381.7,131.7 381.5,131.0 381.2,130.2 380.9,129.5 380.6,128.7 380.3,127.9 379.9,127.2 379.5,126.4 379.1,125.7 378.6,125.0 378.1,124.2 377.6,123.5 377.0,122.8 376.5,122.1 375.9,121.5M377.3,142.7 377.7,142.4 378.2,142.2 378.6,141.9 379.0,141.5 379.4,141.1 379.7,140.7 380.0,140.3 380.3,139.8 380.6,139.3 380.8,138.7 380.9,138.2 381.1,137.6 381.2,137.0 381.3,136.3 381.3,135.7 381.4,135.0 381.3,134.3 381.3,133.6 381.2,132.9 381.1,132.2 380.9,131.4 380.7,130.7 380.5,130.0 380.2,129.2 380.0,128.5 379.6,127.7 379.3,127.0 378.9,126.2 378.5,125.5 378.1,124.8 377.6,124.1 377.2,123.4 376.7,122.7 376.1,122.0 375.6,121.4M376.5,142.4 376.9,142.1 377.4,141.9 377.8,141.5 378.1,141.2 378.5,140.8 378.8,140.4 379.1,139.9 379.4,139.4 379.6,138.9 379.8,138.4 380.0,137.8 380.2,137.2 380.3,136.6 380.4,136.0 380.4,135.3 380.4,134.7 380.4,134.0 380.4,133.3 380.3,132.6 380.2,131.9 380.1,131.1 379.9,130.4 379.7,129.7 379.5,128.9 379.3,128.2 379.0,127.5 378.7,126.7 378.3,126.0 378.0,125.3 377.6,124.6 377.2,123.9 376.7,123.2 376.3,122.5 375.8,121.9 375.3,121.3 374.8,120.7M375.7,142.1 376.1,141.8 376.5,141.5 376.9,141.2 377.2,140.8 377.6,140.4 377.9,140.0 378.2,139.5 378.4,139.0 378.6,138.5 378.9,138.0 379.0,137.4 379.2,136.8 379.3,136.2 379.4,135.6 379.5,135.0 379.5,134.3 379.5,133.6 379.5,132.9 379.4,132.2 379.4,131.5 379.3,130.8 379.1,130.1 378.9,129.4 378.8,128.6 378.5,127.9 378.3,127.2 378.0,126.5 377.7,125.8 377.4,125.1 377.0,124.4 376.7,123.7 376.3,123.0 375.9,122.4 375.5,121.7 375.0,121.1 374.5,120.6M374.8,141.7 375.2,141.4 375.6,141.1 376.0,140.8 376.3,140.4 376.6,140.0 376.9,139.6 377.2,139.1 377.4,138.6 377.7,138.1 377.9,137.6 378.0,137.0 378.2,136.4 378.3,135.8 378.4,135.2 378.5,134.6 378.5,133.9 378.6,133.2 378.6,132.5 378.5,131.9 378.5,131.1 378.4,130.4 378.3,129.7 378.1,129.0 378.0,128.3 377.8,127.6 377.6,126.9 377.3,126.2 377.1,125.5 376.8,124.8 376.5,124.1 376.2,123.5 375.8,122.8 375.5,122.2 375.1,121.6 374.7,121.0 374.3,120.4M374.0,141.4 374.3,141.1 374.7,140.8 375.0,140.4 375.3,140.0 375.6,139.6 375.9,139.2 376.2,138.7 376.4,138.2 376.6,137.7 376.8,137.2 377.0,136.6 377.2,136.0 377.3,135.4 377.4,134.8 377.5,134.1 377.6,133.5 377.6,132.8 377.6,132.1 377.6,131.5 377.6,130.8 377.5,130.1 377.4,129.4 377.3,128.7 377.2,128.0 377.0,127.3 376.9,126.6 376.7,125.9 376.4,125.2 376.2,124.6 375.9,123.9 375.7,123.3 375.4,122.6 375.1,122.0 374.7,121.4 374.4,120.9 374.0,120.3M373.1,141.0 373.4,140.7 373.8,140.4 374.1,140.0 374.4,139.6 374.6,139.2 374.9,138.7 375.2,138.3 375.4,137.8 375.6,137.2 375.8,136.7 376.0,136.1 376.1,135.6 376.3,134.9 376.4,134.3 376.5,133.7 376.5,133.0 376.6,132.4 376.6,131.7 376.6,131.0 376.6,130.4 376.6,129.7 376.5,129.0 376.5,128.3 376.4,127.6 376.3,126.9 376.1,126.3 376.0,125.6 375.8,124.9 375.6,124.3 375.4,123.7 375.1,123.0 374.9,122.4 374.6,121.8 374.4,121.3 374.1,120.7 373.7,120.2M372.5,140.3 372.8,139.9 373.1,139.6 373.4,139.2 373.6,138.7 373.9,138.3 374.1,137.8 374.3,137.3 374.5,136.8 374.7,136.2 374.9,135.7 375.1,135.1 375.2,134.5 375.3,133.9 375.4,133.2 375.5,132.6 375.6,131.9 375.6,131.3 375.7,130.6 375.7,129.9 375.7,129.3 375.6,128.6 375.6,127.9 375.5,127.3 375.5,126.6 375.4,125.9 375.2,125.3 375.1,124.6 375.0,124.0 374.8,123.4 374.6,122.8 374.4,122.2 374.2,121.7 374.0,121.1 373.7,120.6 373.5,120.1M371.6,139.9 371.8,139.5 372.1,139.1 372.4,138.7 372.6,138.3 372.8,137.8 373.0,137.3 373.3,136.8 373.5,136.3 373.6,135.7 373.8,135.2 374.0,134.6 374.1,134.0 374.2,133.4 374.4,132.8 374.5,132.1 374.5,131.5 374.6,130.8 374.7,130.2 374.7,129.5 374.7,128.8 374.7,128.2 374.7,127.5 374.7,126.9 374.7,126.2 374.6,125.6 374.5,125.0 374.4,124.3 374.3,123.7 374.2,123.1 374.1,122.6 373.9,122.0 373.8,121.5 373.6,120.9 373.4,120.4 373.2,120.0M370.6,139.4 370.9,139.0 371.1,138.7 371.3,138.2 371.6,137.8 371.8,137.3 372.0,136.8 372.2,136.3 372.4,135.8 372.5,135.2 372.7,134.7 372.9,134.1 373.0,133.5 373.2,132.9 373.3,132.3 373.4,131.6 373.5,131.0 373.6,130.4 373.7,129.7 373.7,129.1 373.8,128.4 373.8,127.8 373.8,127.1 373.8,126.5 373.8,125.9 373.8,125.2 373.8,124.6 373.7,124.0 373.7,123.4 373.6,122.9 373.5,122.3 373.4,121.8 373.3,121.3 373.2,120.8 373.1,120.3 372.9,119.8M369.9,138.6 370.1,138.2 370.3,137.8 370.5,137.3 370.7,136.8 370.9,136.3 371.1,135.8 371.3,135.3 371.4,134.7 371.6,134.1 371.8,133.6 371.9,133.0 372.1,132.4 372.2,131.7 372.3,131.1 372.5,130.5 372.6,129.9 372.7,129.2 372.7,128.6 372.8,128.0 372.9,127.3 372.9,126.7 373.0,126.1 373.0,125.5 373.0,124.9 373.0,124.3 373.0,123.7 373.0,123.1 373.0,122.6 373.0,122.0 372.9,121.5 372.9,121.0 372.8,120.6 372.7,120.1 372.6,119.7 372.5,119.3M368.9,138.1 369.1,137.7 369.3,137.3 369.4,136.8 369.6,136.3 369.8,135.8 370.0,135.3 370.2,134.7 370.3,134.2 370.5,133.6 370.7,133.0 370.8,132.4 371.0,131.8 371.1,131.2 371.3,130.6 371.4,130.0 371.5,129.4 371.6,128.7 371.8,128.1 371.9,127.5 372.0,126.9 372.0,126.3 372.1,125.7 372.2,125.1 372.2,124.5 372.3,123.9 372.3,123.3 372.4,122.8 372.4,122.3 372.4,121.8 372.4,121.3 372.4,120.8 372.4,120.4 372.4,120.0 372.3,119.6 372.3,119.2M368.0,137.2 368.2,136.7 368.4,136.3 368.5,135.8 368.7,135.3 368.9,134.7 369.0,134.2 369.2,133.6 369.4,133.1 369.5,132.5 369.7,131.9 369.9,131.3 370.0,130.7 370.2,130.1 370.3,129.5 370.5,128.9 370.6,128.2 370.8,127.6 370.9,127.0 371.0,126.4 371.1,125.8 371.2,125.2 371.4,124.7 371.5,124.1 371.6,123.5 371.6,123.0 371.7,122.5 371.8,122.0 371.9,121.5 371.9,121.0 372.0,120.6 372.0,120.2 372.0,119.8 372.0,119.4 372.1,119.1M367.0,136.7 367.2,136.2 367.3,135.7 367.5,135.2 367.6,134.7 367.8,134.2 367.9,133.6 368.1,133.1 368.3,132.5 368.4,131.9 368.6,131.3 368.8,130.7 368.9,130.1 369.1,129.5 369.3,128.9 369.4,128.3 369.6,127.7 369.8,127.1 369.9,126.5 370.1,125.9 370.2,125.4 370.4,124.8 370.5,124.2 370.7,123.7 370.8,123.2 370.9,122.7 371.1,122.2 371.2,121.7 371.3,121.2 371.4,120.8 371.5,120.4 371.6,120.0 371.7,119.6 371.8,119.3 371.8,119.0M366.1,135.7 366.2,135.2 366.4,134.7 366.5,134.2 366.7,133.6 366.8,133.1 367.0,132.5 367.1,131.9 367.3,131.4 367.5,130.8 367.7,130.2 367.8,129.6 368.0,129.0 368.2,128.4 368.4,127.8 368.6,127.2 368.8,126.6 368.9,126.0 369.1,125.5 369.3,124.9 369.5,124.4 369.7,123.8 369.9,123.3 370.1,122.8 370.2,122.3 370.4,121.8 370.6,121.4 370.7,120.9 370.9,120.5 371.0,120.1 371.2,119.8 371.3,119.4 371.5,119.1 371.6,118.8M365.1,135.1 365.2,134.6 365.3,134.1 365.4,133.6 365.6,133.1 365.7,132.5 365.9,131.9 366.0,131.4 366.2,130.8 366.4,130.2 366.5,129.6 366.7,129.0 366.9,128.4 367.1,127.8 367.3,127.3 367.6,126.7 367.8,126.1 368.0,125.5 368.2,125.0 368.4,124.4 368.6,123.9 368.9,123.4 369.1,122.9 369.3,122.4 369.5,121.9 369.7,121.5 370.0,121.1 370.2,120.6 370.4,120.3 370.6,119.9 370.8,119.6 371.0,119.3 371.2,119.0 371.4,118.7M364.1,134.1 364.2,133.6 364.3,133.0 364.5,132.5 364.6,131.9 364.8,131.3 364.9,130.8 365.1,130.2 365.3,129.6 365.5,129.0 365.7,128.4 365.9,127.9 366.1,127.3 366.3,126.7 366.5,126.1 366.8,125.6 367.0,125.0 367.3,124.5 367.5,124.0 367.8,123.5 368.0,123.0 368.3,122.5 368.6,122.0 368.8,121.6 369.1,121.1 369.4,120.7 369.6,120.4 369.9,120.0 370.1,119.7 370.4,119.4 370.6,119.1 370.9,118.8 371.1,118.6M363.2,133.0 363.3,132.4 363.4,131.9 363.5,131.3 363.7,130.8 363.8,130.2 364.0,129.6 364.2,129.0 364.4,128.4 364.6,127.9 364.8,127.3 365.0,126.7 365.3,126.2 365.5,125.6 365.8,125.1 366.1,124.5 366.4,124.0 366.6,123.5 366.9,123.0 367.2,122.5 367.5,122.1 367.8,121.6 368.1,121.2 368.5,120.8 368.8,120.4 369.1,120.1 369.4,119.7 369.7,119.4 370.0,119.1 370.3,118.9 370.6,118.7 370.9,118.5M362.1,132.4 362.2,131.9 362.3,131.3 362.4,130.7 362.6,130.2 362.7,129.6 362.9,129.0 363.1,128.4 363.3,127.9 363.5,127.3 363.8,126.7 364.0,126.2 364.3,125.6 364.6,125.1 364.8,124.5 365.1,124.0 365.4,123.5 365.8,123.0 366.1,122.5 366.4,122.1 366.8,121.6 367.1,121.2 367.5,120.8 367.8,120.4 368.2,120.1 368.5,119.8 368.9,119.5 369.3,119.2 369.6,118.9 370.0,118.7 370.3,118.5M361.2,131.3 361.3,130.7 361.4,130.1 361.5,129.6 361.7,129.0 361.8,128.4 362.0,127.8 362.3,127.3 362.5,126.7 362.7,126.2 363.0,125.6 363.3,125.1 363.6,124.5 363.9,124.0 364.2,123.5 364.6,123.0 364.9,122.5 365.3,122.1 365.6,121.6 366.0,121.2 366.4,120.8 366.8,120.4 367.2,120.1 367.6,119.8 368.0,119.5 368.4,119.2 368.8,118.9 369.2,118.7 369.6,118.5 370.0,118.4M360.2,130.1 360.3,129.6 360.5,129.0 360.6,128.4 360.8,127.8 361.0,127.3 361.2,126.7 361.5,126.1 361.7,125.6 362.0,125.0 362.3,124.5 362.6,124.0 363.0,123.5 363.3,123.0 363.7,122.5 364.1,122.1 364.4,121.6 364.9,121.2 365.3,120.8 365.7,120.4 366.1,120.1 366.6,119.7 367.0,119.4 367.5,119.2 367.9,118.9 368.4,118.7 368.9,118.5 369.3,118.3 369.8,118.2M359.2,129.5 359.3,129.0 359.4,128.4 359.6,127.8 359.8,127.2 360.0,126.7 360.2,126.1 360.5,125.6 360.7,125.0 361.0,124.5 361.3,123.9 361.7,123.4 362.0,122.9 362.4,122.5 362.8,122.0 363.2,121.6 363.7,121.2 364.1,120.8 364.5,120.4 365.0,120.0 365.5,119.7 366.0,119.4 366.5,119.1 367.0,118.9 367.5,118.7 368.0,118.5 368.5,118.3 369.0,118.2 369.5,118.1M358.3,128.4 358.5,127.8 358.6,127.2 358.8,126.7 359.0,126.1 359.2,125.5 359.5,125.0 359.8,124.4 360.1,123.9 360.4,123.4 360.8,122.9 361.2,122.4 361.6,122.0 362.0,121.5 362.4,121.1 362.9,120.7 363.4,120.3 363.8,120.0 364.3,119.6 364.9,119.3 365.4,119.1 365.9,118.8 366.5,118.6 367.0,118.4 367.6,118.2 368.1,118.1 368.7,118.0 369.3,117.9M357.5,127.2 357.6,126.6 357.8,126.1 358.0,125.5 358.3,124.9 358.5,124.4 358.8,123.9 359.2,123.4 359.5,122.9 359.9,122.4 360.3,121.9 360.7,121.5 361.2,121.0 361.6,120.6 362.1,120.2 362.6,119.9 363.2,119.5 363.7,119.2 364.2,119.0 364.8,118.7 365.4,118.5 366.0,118.3 366.6,118.1 367.2,118.0 367.8,117.9 368.4,117.8 369.0,117.8M356.7,126.1 356.9,125.5 357.1,124.9 357.3,124.4 357.6,123.8 357.9,123.3 358.3,122.8 358.6,122.3 359.0,121.8 359.5,121.4 359.9,121.0 360.4,120.5 360.9,120.2 361.4,119.8 361.9,119.5 362.5,119.1 363.1,118.9 363.7,118.6 364.3,118.4 364.9,118.2 365.5,118.0 366.1,117.9 366.8,117.8 367.4,117.7 368.1,117.6 368.8,117.6M355.8,125.5 356.0,124.9 356.2,124.4 356.4,123.8 356.7,123.3 357.1,122.8 357.4,122.3 357.8,121.8 358.2,121.3 358.6,120.9 359.1,120.5 359.6,120.1 360.1,119.7 360.7,119.3 361.3,119.0 361.8,118.7 362.5,118.5 363.1,118.2 363.7,118.0 364.4,117.9 365.1,117.7 365.7,117.6 366.4,117.5 367.1,117.5 367.8,117.4M355.1,124.4 355.3,123.8 355.6,123.3 355.9,122.7 356.2,122.2 356.6,121.7 357.0,121.3 357.4,120.8 357.9,120.4 358.4,120.0 358.9,119.6 359.4,119.2 360.0,118.9 360.6,118.6 361.2,118.3 361.9,118.1 362.5,117.9 363.2,117.7 363.9,117.6 364.6,117.4 365.3,117.3 366.1,117.3 366.8,117.3 367.6,117.3M354.5,123.3 354.8,122.7 355.1,122.2 355.4,121.7 355.8,121.2 356.2,120.7 356.6,120.3 357.1,119.9 357.6,119.5 358.2,119.1 358.8,118.8 359.4,118.5 360.0,118.2 360.6,118.0 361.3,117.7 362.0,117.5 362.7,117.4 363.5,117.3 364.2,117.2 365.0,117.1 365.7,117.1 366.5,117.1 367.3,117.1M353.7,122.7 354.0,122.2 354.3,121.7 354.6,121.2 355.0,120.7 355.5,120.2 355.9,119.8 356.4,119.4 357.0,119.0 357.5,118.7 358.1,118.4 358.8,118.1 359.4,117.8 360.1,117.6 360.8,117.4 361.5,117.2 362.3,117.1 363.0,117.0 363.8,116.9 364.6,116.9 365.4,116.9 366.2,116.9 367.1,116.9M353.2,121.7 353.6,121.2 353.9,120.7 354.3,120.2 354.8,119.8 355.2,119.3 355.8,118.9 356.3,118.6 356.9,118.2 357.5,117.9 358.2,117.7 358.8,117.4 359.6,117.2 360.3,117.0 361.0,116.9 361.8,116.8 362.6,116.7 363.4,116.6 364.3,116.6 365.1,116.6 366.0,116.7M352.9,120.7 353.2,120.2 353.7,119.7 354.1,119.3 354.6,118.9 355.1,118.5 355.7,118.1 356.3,117.8 356.9,117.5 357.6,117.3 358.3,117.0 359.1,116.8 359.8,116.7 360.6,116.6 361.4,116.5 362.2,116.4 363.1,116.4 363.9,116.4 364.8,116.4 365.7,116.5M352.6,119.7 353.0,119.3 353.5,118.8 354.0,118.4 354.5,118.1 355.1,117.7 355.8,117.4 356.4,117.1 357.1,116.9 357.8,116.7 358.6,116.5 359.4,116.4 360.2,116.3 361.0,116.2 361.9,116.1 362.8,116.1 363.6,116.2 364.6,116.2M352.0,119.3 352.4,118.8 352.9,118.4 353.4,118.0 354.0,117.6 354.6,117.3 355.2,117.0 355.9,116.8 356.6,116.5 357.4,116.3 358.2,116.2 359.0,116.0 359.8,116.0 360.7,115.9 361.5,115.9 362.5,115.9 363.4,116.0M351.9,118.4 352.4,118.0 352.9,117.6 353.5,117.2 354.1,116.9 354.8,116.6 355.5,116.4 356.2,116.2 357.0,116.0 357.8,115.9 358.6,115.7 359.5,115.7 360.3,115.6 361.2,115.6 362.2,115.7M351.4,118.0 351.9,117.6 352.5,117.2 353.1,116.9 353.7,116.6 354.4,116.3 355.1,116.0 355.8,115.8 356.6,115.7 357.4,115.5 358.3,115.5 359.1,115.4 360.0,115.4M376.3,142.5 375.5,142.1M378.5,142.7 377.7,142.4 376.9,142.1 376.1,141.8 375.2,141.4 374.3,141.1 373.4,140.7 372.5,140.3 371.6,139.9M379.9,142.7 379.2,142.4 378.3,142.1 377.5,141.7 376.6,141.4 375.7,141.0 374.8,140.6 373.9,140.2 372.9,139.8 371.9,139.4 370.9,138.9 369.9,138.5 368.9,138.0M381.3,142.5 380.5,142.2 379.7,141.9 378.9,141.6 378.0,141.3 377.1,140.9 376.2,140.6 375.2,140.2 374.3,139.7 373.3,139.3 372.3,138.9 371.3,138.4 370.2,137.9 369.2,137.4 368.2,136.9 367.1,136.4 366.1,135.8M382.6,142.3 381.9,142.0 381.1,141.7 380.2,141.4 379.4,141.1 378.5,140.8 377.6,140.4 376.6,140.0 375.6,139.6 374.6,139.2 373.6,138.7 372.6,138.3 371.6,137.8 370.5,137.3 369.4,136.8 368.4,136.3 367.3,135.7 366.2,135.2 365.2,134.6 364.1,134.1M383.9,141.9 383.1,141.7 382.4,141.5 381.6,141.2 380.7,140.9 379.8,140.6 378.9,140.2 378.0,139.8 377.0,139.4 376.0,139.0 375.0,138.6 374.0,138.1 372.9,137.7 371.8,137.2 370.8,136.7 369.7,136.1 368.6,135.6 367.5,135.1 366.4,134.5 365.3,134.0 364.3,133.4 363.2,132.8 362.2,132.2M385.0,141.5 384.3,141.3 383.6,141.1 382.8,140.9 382.0,140.6 381.1,140.3 380.2,139.9 379.3,139.6 378.3,139.2 377.3,138.8 376.3,138.4 375.3,137.9 374.3,137.5 373.2,137.0 372.1,136.5 371.0,136.0 369.9,135.5 368.8,134.9 367.7,134.4 366.6,133.8 365.5,133.2 364.4,132.7 363.3,132.1 362.3,131.5 361.2,130.9 360.2,130.3M385.4,140.9 384.7,140.7 383.9,140.5 383.2,140.2 382.3,139.9 381.5,139.6 380.6,139.3 379.6,138.9 378.6,138.5 377.7,138.1 376.6,137.7 375.6,137.2 374.5,136.8 373.5,136.3 372.4,135.8 371.3,135.3 370.2,134.7 369.0,134.2 367.9,133.6 366.8,133.1 365.7,132.5 364.6,131.9 363.5,131.3 362.4,130.7 361.4,130.1 360.3,129.6 359.3,129.0 358.3,128.4M386.4,140.3 385.7,140.2 385.0,140.0 384.2,139.7 383.4,139.5 382.6,139.2 381.7,138.9 380.8,138.6 379.9,138.2 378.9,137.8 377.9,137.4 376.9,137.0 375.8,136.5 374.8,136.0 373.7,135.6 372.6,135.1 371.5,134.5 370.4,134.0 369.3,133.4 368.1,132.9 367.0,132.3 365.9,131.7 364.8,131.2 363.7,130.6 362.6,130.0 361.6,129.4 360.5,128.8 359.5,128.2 358.5,127.6 357.5,127.0 356.6,126.4M386.6,139.6 385.9,139.4 385.2,139.2 384.5,139.0 383.7,138.7 382.8,138.4 382.0,138.1 381.1,137.8 380.1,137.4 379.1,137.0 378.1,136.6 377.1,136.2 376.1,135.7 375.0,135.3 373.9,134.8 372.8,134.3 371.7,133.8 370.6,133.2 369.5,132.7 368.4,132.1 367.2,131.5 366.1,131.0 365.0,130.4 363.9,129.8 362.8,129.2 361.8,128.6 360.7,128.0 359.7,127.4 358.7,126.8 357.8,126.3 356.8,125.7 355.9,125.1 355.0,124.6M387.3,138.9 386.7,138.7 386.1,138.6 385.3,138.4 384.6,138.2 383.8,137.9 383.0,137.6 382.1,137.3 381.2,137.0 380.3,136.6 379.3,136.2 378.3,135.8 377.3,135.4 376.3,134.9 375.2,134.5 374.1,134.0 373.0,133.5 371.9,133.0 370.8,132.4 369.7,131.9 368.6,131.3 367.5,130.8 366.4,130.2 365.3,129.6 364.2,129.0 363.1,128.4 362.0,127.8 361.0,127.3 360.0,126.7 359.0,126.1 358.0,125.5 357.1,124.9 356.2,124.4 355.3,123.8 354.5,123.3M387.4,138.0 386.8,137.9 386.1,137.7 385.4,137.5 384.7,137.3 383.9,137.0 383.1,136.8 382.2,136.5 381.3,136.1 380.4,135.8 379.4,135.4 378.4,135.0 377.4,134.6 376.4,134.1 375.4,133.7 374.3,133.2 373.2,132.7 372.1,132.2 371.0,131.6 369.9,131.1 368.8,130.5 367.7,130.0 366.6,129.4 365.5,128.8 364.4,128.3 363.4,127.7 362.3,127.1 361.3,126.5 360.3,125.9 359.3,125.3 358.4,124.8 357.4,124.2 356.5,123.6 355.7,123.1 354.9,122.5 354.1,122.0 353.3,121.5M387.3,137.1 386.7,137.0 386.1,136.8 385.4,136.6 384.7,136.4 383.9,136.1 383.1,135.9 382.2,135.6 381.4,135.2 380.4,134.9 379.5,134.5 378.5,134.1 377.5,133.7 376.5,133.3 375.5,132.8 374.4,132.3 373.4,131.8 372.3,131.3 371.2,130.8 370.1,130.3 369.0,129.7 368.0,129.2 366.9,128.6 365.8,128.1 364.7,127.5 363.7,126.9 362.6,126.3 361.6,125.8 360.6,125.2 359.7,124.6 358.7,124.0 357.8,123.5 356.9,122.9 356.1,122.4 355.3,121.9 354.5,121.3 353.8,120.8 353.1,120.3 352.5,119.9M387.7,136.3 387.2,136.2 386.6,136.0 386.0,135.9 385.3,135.7 384.6,135.5 383.8,135.2 383.0,134.9 382.2,134.6 381.3,134.3 380.4,134.0 379.5,133.6 378.6,133.2 377.6,132.8 376.6,132.4 375.6,131.9 374.5,131.5 373.5,131.0 372.5,130.5 371.4,130.0 370.3,129.5 369.3,128.9 368.2,128.4 367.1,127.8 366.1,127.3 365.0,126.7 364.0,126.2 363.0,125.6 362.0,125.0 361.0,124.5 360.1,123.9 359.2,123.4 358.3,122.8 357.4,122.3 356.6,121.7 355.8,121.2 355.0,120.7 354.3,120.2 353.7,119.7 353.0,119.3 352.4,118.8 351.9,118.4M387.5,135.3 386.9,135.2 386.4,135.0 385.8,134.9 385.1,134.7 384.4,134.5 383.7,134.2 382.9,134.0 382.1,133.7 381.3,133.4 380.4,133.0 379.5,132.7 378.6,132.3 377.6,131.9 376.6,131.5 375.6,131.1 374.6,130.6 373.6,130.1 372.6,129.7 371.6,129.2 370.5,128.6 369.5,128.1 368.4,127.6 367.4,127.1 366.4,126.5 365.4,126.0 364.4,125.4 363.4,124.9 362.4,124.3 361.5,123.8 360.5,123.2 359.6,122.7 358.8,122.2 357.9,121.6 357.1,121.1 356.3,120.6 355.6,120.1 354.9,119.6 354.3,119.1 353.7,118.7 353.1,118.3 352.6,117.8 352.1,117.4 351.7,117.1M387.1,134.2 386.6,134.1 386.1,134.0 385.5,133.9 384.8,133.7 384.2,133.5 383.5,133.3 382.7,133.0 381.9,132.7 381.1,132.4 380.3,132.1 379.4,131.8 378.5,131.4 377.6,131.0 376.6,130.6 375.7,130.2 374.7,129.7 373.7,129.3 372.7,128.8 371.7,128.3 370.7,127.8 369.7,127.3 368.7,126.8 367.7,126.3 366.7,125.8 365.7,125.2 364.7,124.7 363.8,124.2 362.8,123.6 361.9,123.1 361.0,122.6 360.2,122.1 359.3,121.5 358.5,121.0 357.7,120.5 357.0,120.0 356.3,119.5 355.6,119.1 354.9,118.6 354.4,118.2 353.8,117.8 353.3,117.4 352.9,117.0 352.4,116.6M386.7,133.2 386.2,133.1 385.7,133.0 385.1,132.8 384.5,132.7 383.9,132.5 383.2,132.2 382.4,132.0 381.7,131.7 380.9,131.4 380.1,131.1 379.3,130.8 378.4,130.4 377.5,130.1 376.6,129.7 375.7,129.3 374.7,128.8 373.8,128.4 372.8,128.0 371.9,127.5 370.9,127.0 369.9,126.5 368.9,126.0 368.0,125.5 367.0,125.0 366.1,124.5 365.1,124.0 364.2,123.5 363.3,123.0 362.4,122.5 361.6,122.0 360.7,121.5 359.9,121.0 359.1,120.5 358.4,120.0 357.6,119.5 357.0,119.0 356.3,118.6 355.7,118.1 355.1,117.7 354.6,117.3 354.1,116.9 353.7,116.6 353.3,116.2M386.2,132.1 385.7,132.0 385.2,131.9 384.7,131.8 384.1,131.6 383.5,131.4 382.8,131.2 382.1,131.0 381.4,130.7 380.6,130.5 379.9,130.2 379.1,129.8 378.2,129.5 377.4,129.1 376.5,128.8 375.6,128.4 374.7,128.0 373.8,127.5 372.9,127.1 372.0,126.7 371.1,126.2 370.1,125.8 369.2,125.3 368.3,124.8 367.4,124.3 366.4,123.8 365.5,123.3 364.7,122.8 363.8,122.4 363.0,121.9 362.1,121.4 361.3,120.9 360.5,120.4 359.8,119.9 359.1,119.5 358.4,119.0 357.7,118.6 357.1,118.1 356.5,117.7 356.0,117.3 355.5,116.9 355.0,116.6 354.6,116.2 354.2,115.9M385.6,131.1 385.2,131.0 384.7,130.9 384.2,130.7 383.6,130.6 383.0,130.4 382.4,130.2 381.7,130.0 381.0,129.7 380.3,129.5 379.6,129.2 378.8,128.9 378.0,128.5 377.2,128.2 376.4,127.8 375.6,127.5 374.7,127.1 373.8,126.7 373.0,126.3 372.1,125.9 371.2,125.4 370.3,125.0 369.4,124.5 368.6,124.1 367.7,123.6 366.8,123.2 366.0,122.7 365.1,122.2 364.3,121.8 363.5,121.3 362.7,120.8 362.0,120.4 361.2,119.9 360.5,119.5 359.8,119.0 359.2,118.6 358.5,118.2 357.9,117.8 357.4,117.4 356.9,117.0 356.4,116.6 356.0,116.2 355.6,115.9 355.2,115.6M384.9,130.0 384.5,129.9 384.1,129.8 383.6,129.7 383.0,129.5 382.5,129.3 381.9,129.1 381.3,128.9 380.6,128.7 380.0,128.5 379.3,128.2 378.5,127.9 377.8,127.6 377.0,127.3 376.3,126.9 375.5,126.6 374.7,126.2 373.8,125.9 373.0,125.5 372.2,125.1 371.4,124.7 370.5,124.2 369.7,123.8 368.9,123.4 368.0,123.0 367.2,122.5 366.4,122.1 365.6,121.6 364.9,121.2 364.1,120.8 363.4,120.3 362.6,119.9 361.9,119.5 361.3,119.0 360.6,118.6 360.0,118.2 359.4,117.8 358.8,117.4 358.3,117.0 357.8,116.7 357.4,116.3 357.0,116.0 356.6,115.7 356.3,115.4M384.2,128.9 383.8,128.8 383.4,128.7 382.9,128.6 382.4,128.4 381.9,128.3 381.3,128.1 380.8,127.9 380.2,127.7 379.5,127.5 378.9,127.2 378.2,126.9 377.5,126.7 376.8,126.4 376.1,126.0 375.3,125.7 374.6,125.4 373.8,125.0 373.0,124.7 372.3,124.3 371.5,123.9 370.7,123.5 369.9,123.1 369.2,122.7 368.4,122.3 367.6,121.9 366.9,121.5 366.1,121.1 365.4,120.7 364.7,120.3 364.0,119.9 363.3,119.4 362.7,119.0 362.1,118.6 361.4,118.3 360.9,117.9 360.3,117.5 359.8,117.1 359.3,116.8 358.9,116.5 358.4,116.1 358.0,115.8 357.7,115.5 357.4,115.2M383.4,127.8 383.0,127.7 382.6,127.6 382.2,127.5 381.7,127.4 381.2,127.2 380.7,127.1 380.2,126.9 379.6,126.7 379.0,126.5 378.4,126.2 377.8,126.0 377.2,125.7 376.5,125.4 375.8,125.2 375.2,124.9 374.5,124.5 373.8,124.2 373.0,123.9 372.3,123.5 371.6,123.2 370.9,122.8 370.2,122.5 369.5,122.1 368.7,121.7 368.0,121.3 367.3,121.0 366.7,120.6 366.0,120.2 365.3,119.8 364.7,119.4 364.1,119.1 363.5,118.7 362.9,118.3 362.3,118.0 361.8,117.6 361.3,117.3 360.8,116.9 360.3,116.6 359.9,116.3 359.5,116.0 359.2,115.7 358.8,115.4M382.1,126.6 381.8,126.5 381.4,126.4 381.0,126.3 380.5,126.2 380.1,126.0 379.6,125.9 379.1,125.7 378.5,125.5 378.0,125.3 377.4,125.1 376.8,124.8 376.2,124.6 375.6,124.3 375.0,124.0 374.3,123.7 373.7,123.4 373.0,123.1 372.4,122.8 371.7,122.5 371.1,122.2 370.4,121.8 369.7,121.5 369.1,121.1 368.5,120.8 367.8,120.4 367.2,120.1 366.6,119.7 366.0,119.4 365.4,119.1 364.8,118.7 364.3,118.4 363.7,118.0 363.2,117.7 362.7,117.4 362.3,117.1 361.8,116.8 361.4,116.5 361.0,116.2 360.7,115.9 360.3,115.6 360.0,115.4M381.2,125.5 380.9,125.5 380.5,125.4 380.1,125.3 379.7,125.2 379.3,125.0 378.9,124.9 378.4,124.7 377.9,124.5 377.4,124.3 376.9,124.1 376.4,123.9 375.9,123.7 375.3,123.4 374.7,123.2 374.2,122.9 373.6,122.7 373.0,122.4 372.4,122.1 371.8,121.8 371.2,121.5 370.6,121.2 370.0,120.9 369.4,120.6 368.9,120.3 368.3,120.0 367.7,119.7 367.2,119.4 366.6,119.0 366.1,118.7 365.6,118.4 365.1,118.1 364.6,117.8 364.1,117.5 363.7,117.2 363.3,116.9 362.9,116.7 362.5,116.4 362.2,116.1 361.8,115.9 361.6,115.6M379.9,124.4 379.6,124.3 379.3,124.3 378.9,124.1 378.5,124.0 378.2,123.9 377.7,123.7 377.3,123.6 376.9,123.4 376.4,123.2 376.0,123.0 375.5,122.8 375.0,122.6 374.5,122.4 374.0,122.2 373.5,121.9 372.9,121.7 372.4,121.4 371.9,121.2 371.4,120.9 370.8,120.7 370.3,120.4 369.8,120.1 369.3,119.8 368.8,119.6 368.3,119.3 367.8,119.0 367.3,118.7 366.8,118.4 366.4,118.2 365.9,117.9 365.5,117.6 365.1,117.4 364.7,117.1 364.3,116.9 364.0,116.6 363.7,116.4 363.3,116.2 363.1,115.9M378.4,123.3 378.0,123.2 377.7,123.1 377.4,122.9 377.0,122.8 376.7,122.7 376.3,122.5 375.9,122.4 375.5,122.2 375.1,122.0 374.6,121.8 374.2,121.7 373.8,121.5 373.3,121.3 372.9,121.0 372.4,120.8 372.0,120.6 371.5,120.4 371.0,120.1 370.6,119.9 370.1,119.7 369.7,119.4 369.3,119.2 368.8,118.9 368.4,118.7 368.0,118.5 367.6,118.2 367.2,118.0 366.8,117.8 366.4,117.5 366.1,117.3 365.7,117.1 365.4,116.9 365.1,116.6 364.8,116.4 364.6,116.2M376.9,122.1 376.6,122.0 376.3,121.9 376.0,121.8 375.6,121.7 375.3,121.5 375.0,121.4 374.6,121.3 374.3,121.1 373.9,120.9 373.5,120.8 373.1,120.6 372.8,120.4 372.4,120.2 372.0,120.0 371.6,119.9 371.2,119.7 370.9,119.5 370.5,119.3 370.1,119.1 369.7,118.9 369.4,118.7 369.0,118.5 368.7,118.3 368.3,118.1 368.0,117.9 367.7,117.7 367.4,117.5 367.1,117.3 366.8,117.1 366.5,116.9 366.2,116.7M375.0,120.9 374.7,120.7 374.4,120.6 374.1,120.5 373.9,120.4 373.6,120.3 373.3,120.1 373.0,120.0 372.7,119.8 372.3,119.7 372.0,119.5 371.7,119.4 371.4,119.2 371.1,119.1 370.8,118.9 370.5,118.7 370.2,118.6 369.9,118.4 369.6,118.3 369.3,118.1 369.1,117.9 368.8,117.8 368.5,117.6" fill="none" stroke="#ff3300" stroke-width="0.4" stroke-opacity="0.62"/>
<defs><linearGradient id="lg2" gradientUnits="userSpaceOnUse" x1="350" y1="112" x2="392" y2="140"><stop offset="0" stop-color="#ff3300" stop-opacity="0"/><stop offset="0.3" stop-color="#ff3300" stop-opacity="0.85"/><stop offset="0.75" stop-color="#ff3300" stop-opacity="0.85"/><stop offset="1" stop-color="#ff3300" stop-opacity="0.2"/></linearGradient></defs>
<path d="M357.12,114.42 358.13,114.48 359.16,114.58 360.24,114.74 361.34,114.95 362.47,115.20 363.62,115.51 364.79,115.86 365.97,116.25 367.17,116.69 368.36,117.17 369.57,117.70 370.76,118.26 371.95,118.86 373.14,119.50 374.30,120.16 375.45,120.86 376.57,121.59 377.67,122.34 378.74,123.12 379.77,123.91 380.76,124.73 381.72,125.56 382.63,126.40 383.49,127.25 384.30,128.10 385.05,128.96 385.75,129.82 386.40,130.68 386.98,131.53 387.49,132.37 387.95,133.20 388.33,134.01 388.65,134.81 388.90,135.59 389.09,136.35 389.20,137.07 389.24,137.78 389.21,138.45 389.11,139.09 388.93,139.69" fill="none" stroke="url(#lg2)" stroke-width="2.6"/>
<path d="M628.2,141.8 628.4,140.9 628.5,139.9 628.5,139.0M627.5,143.7 627.8,142.8 628.0,141.8M626.7,145.5 627.1,144.6M625.2,148.0 625.7,147.2 626.2,146.4M623.9,149.6 624.5,148.8M557.3,101.3 558.3,101.0M559.6,100.7 560.7,100.4M562.0,100.1 563.1,100.0M564.5,99.7 565.5,99.7M565.9,99.5 566.9,99.5 568.0,99.4M568.4,99.3 569.3,99.3 570.4,99.3M570.8,99.2 571.7,99.3M572.3,99.2 573.2,99.2 574.1,99.3M574.6,99.2 575.5,99.3M576.1,99.3 576.9,99.4 577.7,99.5M577.7,99.4 578.4,99.5 579.1,99.6M579.9,99.6 580.5,99.7 581.2,99.9M581.4,99.8 582.0,99.9 582.6,100.1M582.9,100.0 583.5,100.1 584.0,100.3M584.5,100.2 584.9,100.3 585.4,100.5 585.8,100.7M586.1,100.5 586.4,100.6 586.8,100.8 587.1,101.0M587.9,100.9 588.2,101.1 588.5,101.3M589.4,101.3 589.6,101.4 589.8,101.6M590.9,101.7 591.1,101.8 591.2,101.9M592.4,102.1 592.5,102.2 592.5,102.3M593.9,102.5 593.9,102.6 593.8,102.7M595.4,103.0 595.3,103.0 595.2,103.1M596.9,103.5 596.7,103.5 596.5,103.6M598.3,104.1 598.0,104.0 597.7,104.1M599.7,104.6 599.4,104.6 599.0,104.6M601.5,105.4 601.1,105.2 600.7,105.2 600.2,105.1M602.9,106.0 602.5,105.9 602.0,105.7 601.4,105.7M604.3,106.7 603.8,106.5 603.2,106.4 602.6,106.2M605.7,107.4 605.1,107.2 604.4,107.0 603.8,106.8M607.6,108.4 607.0,108.1 606.3,107.9 605.6,107.6M608.9,109.2 608.2,108.9 607.5,108.6 606.7,108.3M610.1,110.0 609.4,109.6 608.6,109.3 607.8,109.0M612.0,111.2 611.3,110.8 610.5,110.4 609.7,110.0 608.8,109.7M613.2,112.1 612.4,111.6 611.6,111.2 610.7,110.7M615.1,113.5 614.3,113.0 613.5,112.4 612.6,111.9 611.7,111.5M616.2,114.4 615.4,113.8 614.5,113.3 613.6,112.7M617.9,116.0 617.2,115.3 616.3,114.7 615.4,114.1 614.5,113.5M619.6,117.6 618.9,116.9 618.1,116.2 617.2,115.6 616.3,114.9M620.5,118.6 619.8,117.9 618.9,117.1 618.0,116.5M622.1,120.4 621.4,119.6 620.6,118.8 619.7,118.1 618.8,117.3M623.5,122.2 622.8,121.4 622.1,120.5 621.3,119.7 620.4,119.0M624.8,124.1 624.1,123.2 623.5,122.3 622.7,121.5 621.9,120.7M625.9,126.0 625.3,125.1 624.7,124.2 624.0,123.3 623.2,122.5M626.8,128.0 626.3,127.1 625.8,126.1 625.2,125.2 624.5,124.3M627.6,130.0 627.2,129.0 626.7,128.1 626.2,127.1M628.2,132.0 627.8,131.0 627.5,130.1 627.0,129.1M628.7,135.0 628.5,134.0 628.3,133.0 628.0,132.0 627.6,131.1M628.8,137.0 628.7,136.0 628.6,135.0 628.4,134.0M628.7,138.9 628.7,138.0 628.6,137.0 628.5,136.0" fill="none" stroke="#000" stroke-width="0.35" stroke-opacity="0.50"/><path d="M628.5,139.0 628.5,138.0 628.3,137.0M628.0,141.8 628.2,140.9 628.2,139.9 628.1,138.9M627.1,144.6 627.4,143.7 627.6,142.8 627.7,141.8M626.2,146.4 626.5,145.5 626.8,144.6 627.0,143.6M624.5,148.8 625.0,148.0 625.5,147.2 625.8,146.3 626.1,145.4M622.4,151.1 623.1,150.4 623.7,149.6 624.2,148.8 624.7,148.0M620.8,152.5 621.5,151.9 622.2,151.1 622.8,150.4 623.3,149.6M619.0,153.8 619.8,153.2 620.5,152.5 621.2,151.8 621.8,151.1M616.1,155.5 617.1,155.0 617.9,154.4 618.7,153.8 619.4,153.2 620.1,152.4M614.0,156.5 615.0,156.1 615.9,155.6 616.7,155.0 617.5,154.4 618.2,153.7M611.8,157.4 612.8,157.0 613.7,156.6 614.6,156.1 615.4,155.5 616.2,154.9M610.5,157.9 611.5,157.5 612.4,157.0 613.3,156.5 614.1,156.0M608.2,158.6 609.2,158.2 610.1,157.8 611.0,157.4 611.8,156.9M605.8,159.1 606.8,158.9 607.7,158.6 608.6,158.2 609.5,157.7M603.4,159.6 604.4,159.4 605.3,159.1 606.2,158.8 607.1,158.5M601.9,159.8 602.8,159.6 603.8,159.4 604.6,159.0M599.4,160.1 600.4,160.0 601.3,159.8 602.1,159.5M597.0,160.3 597.9,160.2 598.8,160.1 599.6,159.9 600.5,159.6M595.4,160.3 596.3,160.2 597.1,160.1 597.9,159.9M593.0,160.3 593.8,160.3 594.6,160.2 595.4,160.1 596.2,159.9M591.5,160.3 592.2,160.3 593.0,160.2 593.7,160.0M589.8,160.2 590.5,160.2 591.2,160.1 591.9,159.9M587.6,160.0 588.2,160.0 588.9,160.0 589.5,159.9 590.1,159.8M586.0,159.8 586.6,159.8 587.1,159.8 587.7,159.7M584.4,159.6 584.9,159.6 585.4,159.6 585.9,159.5M582.7,159.3 583.2,159.3 583.6,159.3 584.1,159.2M581.1,159.0 581.5,159.0 581.8,159.0 582.2,158.8M579.1,158.7 579.4,158.7 579.7,158.7 580.0,158.6M577.6,158.3 577.8,158.3 578.0,158.3 578.2,158.2M576.0,157.9 576.1,157.9 576.3,157.8 576.5,157.7M574.4,157.4 574.5,157.4 574.6,157.3 574.7,157.2M572.8,157.0 572.8,156.9 572.9,156.8 572.9,156.7M571.3,156.5 571.2,156.4 571.2,156.3 571.1,156.1M569.7,155.9 569.6,155.8 569.5,155.7 569.4,155.5M568.2,155.3 568.0,155.2 567.8,155.0 567.7,154.8M566.7,154.7 566.5,154.6 566.2,154.4 566.0,154.1M564.9,153.9 564.6,153.7 564.3,153.4 564.1,153.1M563.4,153.3 563.1,153.0 562.7,152.7 562.4,152.3M562.0,152.5 561.5,152.3 561.1,151.9 560.8,151.6M560.6,151.8 560.1,151.5 559.6,151.1 559.2,150.7M558.7,150.7 558.2,150.3 557.7,149.9 557.3,149.4M557.3,149.9 556.7,149.5 556.2,149.0 555.8,148.5M556.0,149.1 555.4,148.6 554.8,148.1 554.3,147.6 553.8,147.1M554.1,147.8 553.5,147.2 552.9,146.7 552.4,146.1M552.9,146.9 552.2,146.3 551.6,145.7 551.1,145.1 550.6,144.5M551.0,145.4 550.4,144.8 549.8,144.1 549.3,143.5M549.9,144.5 549.2,143.8 548.6,143.2 548.1,142.5 547.6,141.7M548.1,142.9 547.5,142.2 546.9,141.4 546.4,140.7 546.0,139.9M546.5,141.1 545.9,140.4 545.4,139.6 544.9,138.8M545.6,140.1 544.9,139.4 544.4,138.6 543.9,137.8 543.5,136.9M544.1,138.3 543.5,137.5 543.0,136.7 542.6,135.8 542.3,135.0M542.7,136.5 542.2,135.6 541.8,134.7 541.4,133.9 541.2,133.0M541.5,134.5 541.1,133.7 540.7,132.8 540.4,131.8 540.2,130.9M540.5,132.6 540.1,131.7 539.8,130.7 539.6,129.8 539.5,128.9M539.6,130.6 539.3,129.6 539.1,128.7 539.0,127.8 538.9,126.8M538.9,128.6 538.7,127.6 538.6,126.7 538.5,125.7 538.5,124.8 538.7,123.9M538.4,126.5 538.3,125.6 538.2,124.6 538.3,123.7 538.4,122.8 538.6,121.9M538.1,123.6 538.1,122.6 538.2,121.7 538.4,120.8 538.7,119.9M538.0,121.6 538.2,120.6 538.4,119.7 538.7,118.8 539.0,117.9 539.5,117.1M538.2,119.6 538.4,118.7 538.7,117.8 539.1,116.9 539.6,116.0 540.1,115.2M538.9,116.8 539.3,115.9 539.8,115.1 540.3,114.2 540.9,113.4M539.6,114.9 540.1,114.1 540.6,113.3 541.2,112.5 541.9,111.7 542.7,111.0M540.5,113.2 541.1,112.4 541.7,111.6 542.4,110.8 543.2,110.1 544.0,109.4M542.2,110.7 542.9,110.0 543.7,109.3 544.5,108.6 545.5,108.0M543.6,109.2 544.4,108.5 545.2,107.8 546.1,107.2 547.1,106.6M545.1,107.7 546.0,107.0 546.9,106.4 547.8,105.9 548.9,105.4 550.0,104.9M546.8,106.3 547.7,105.7 548.7,105.2 549.7,104.7 550.8,104.3 551.9,103.8M548.7,105.1 549.6,104.6 550.6,104.1 551.7,103.6 552.8,103.2 554.0,102.9M551.6,103.5 552.7,103.1 553.8,102.7 554.9,102.4 556.2,102.1M553.8,102.5 554.9,102.2 556.0,101.9 557.2,101.6 558.4,101.4M556.0,101.7 557.1,101.4 558.3,101.2 559.5,101.0 560.7,100.9M558.3,101.0 559.5,100.8 560.6,100.6 561.8,100.5M560.7,100.4 561.8,100.3 563.0,100.2 564.2,100.1M563.1,100.0 564.2,99.9 565.4,99.8 566.6,99.9M565.5,99.7 566.6,99.6 567.8,99.6 568.9,99.7M568.0,99.4 569.0,99.5 570.2,99.6M570.4,99.3 571.4,99.4 572.5,99.6M571.7,99.3 572.7,99.4 573.7,99.5M574.1,99.3 575.0,99.5M575.5,99.3 576.4,99.5 577.2,99.7M577.7,99.5 578.5,99.7M579.1,99.6 579.9,99.8 580.6,100.1M581.2,99.9 581.9,100.2M582.6,100.1 583.2,100.3M584.0,100.3 584.5,100.5M587.1,101.0 587.5,101.2M588.5,101.3 588.7,101.5M589.8,101.6 590.0,101.8M591.2,101.9 591.2,102.1M592.5,102.3 592.5,102.5M593.8,102.7 593.7,102.8M595.2,103.1 595.0,103.3M596.5,103.6 596.2,103.7M597.7,104.1 597.4,104.1M599.0,104.6 598.6,104.6M605.6,107.6 604.9,107.4M618.0,116.5 617.1,115.8M626.2,127.1 625.5,126.2M627.0,129.1 626.4,128.1M627.6,131.1 627.1,130.1M628.4,134.0 628.0,133.0 627.6,132.0M628.5,136.0 628.3,135.0 628.0,134.0" fill="none" stroke="#ff3300" stroke-width="0.35" stroke-opacity="0.50"/><path d="M628.3,137.0 628.1,136.0 627.8,134.9 627.4,133.9 626.9,132.9 626.3,131.8 625.7,130.8M628.1,138.9 628.0,137.9 627.8,136.9 627.5,135.8 627.1,134.8 626.6,133.7M627.7,141.8 627.7,140.8 627.7,139.8 627.6,138.8 627.4,137.8 627.1,136.7 626.7,135.6M627.0,143.6 627.1,142.7 627.2,141.7 627.1,140.7 627.0,139.7 626.8,138.6 626.5,137.5M626.1,145.4 626.3,144.5 626.5,143.5 626.5,142.5 626.5,141.5 626.4,140.5M624.7,148.0 625.0,147.1 625.3,146.2 625.5,145.3 625.7,144.3 625.7,143.3 625.7,142.3M623.3,149.6 623.8,148.7 624.1,147.9 624.4,146.9 624.6,146.0 624.8,145.0M621.8,151.1 622.3,150.3 622.7,149.4 623.1,148.5 623.4,147.6 623.6,146.7M620.1,152.4 620.7,151.7 621.2,150.9 621.6,150.1 622.0,149.2 622.3,148.3M618.2,153.7 618.8,153.0 619.4,152.3 619.9,151.5 620.4,150.7 620.7,149.8M616.2,154.9 616.9,154.3 617.5,153.6 618.1,152.8 618.6,152.0M614.1,156.0 614.8,155.4 615.5,154.7 616.1,154.0 616.7,153.3M611.8,156.9 612.6,156.4 613.3,155.8 614.0,155.1 614.6,154.4M609.5,157.7 610.3,157.3 611.1,156.7 611.8,156.1 612.4,155.5M607.1,158.5 607.9,158.0 608.7,157.5 609.4,157.0 610.1,156.4M604.6,159.0 605.5,158.7 606.3,158.2 607.0,157.8 607.7,157.2M602.1,159.5 603.0,159.2 603.8,158.8 604.5,158.4 605.2,157.9 605.9,157.4M600.5,159.6 601.2,159.3 602.0,158.9 602.7,158.5 603.4,158.1M597.9,159.9 598.7,159.7 599.5,159.4 600.2,159.0 600.9,158.6M596.2,159.9 596.9,159.7 597.6,159.4 598.3,159.0 599.0,158.6M593.7,160.0 594.4,159.8 595.1,159.6 595.7,159.3 596.4,158.9M591.9,159.9 592.6,159.7 593.2,159.5 593.8,159.2 594.4,158.8M590.1,159.8 590.7,159.6 591.3,159.3 591.9,159.0M587.7,159.7 588.2,159.6 588.8,159.4 589.3,159.1 589.9,158.8M585.9,159.5 586.4,159.3 586.9,159.1 587.4,158.8 587.8,158.5M584.1,159.2 584.5,159.0 584.9,158.8 585.4,158.5M582.2,158.8 582.6,158.7 583.0,158.4 583.3,158.1M580.0,158.6 580.4,158.4 580.7,158.3 581.0,158.0 581.3,157.7M578.2,158.2 578.5,158.0 578.8,157.8 579.0,157.5 579.3,157.2M576.5,157.7 576.6,157.5 576.8,157.3 577.0,157.0 577.3,156.7M574.7,157.2 574.8,157.0 574.9,156.8 575.1,156.5 575.2,156.2M572.9,156.7 572.9,156.5 573.0,156.2 573.1,155.9 573.2,155.5M571.1,156.1 571.1,155.9 571.1,155.6 571.2,155.3 571.2,154.9M569.4,155.5 569.3,155.2 569.3,154.9 569.3,154.6 569.3,154.2M567.7,154.8 567.5,154.6 567.4,154.2 567.4,153.9 567.3,153.5M566.0,154.1 565.8,153.8 565.6,153.5 565.5,153.1 565.4,152.7M564.1,153.1 563.9,152.7 563.7,152.3 563.6,151.9M562.4,152.3 562.1,152.0 561.9,151.5 561.7,151.1M560.8,151.6 560.5,151.1 560.2,150.7 560.0,150.2 559.8,149.7M559.2,150.7 558.8,150.3 558.5,149.8 558.2,149.3 558.0,148.7M557.3,149.4 556.9,148.9 556.6,148.4 556.3,147.8 556.1,147.2M555.8,148.5 555.3,148.0 555.0,147.4 554.7,146.8 554.4,146.2M553.8,147.1 553.4,146.5 553.1,145.8 552.8,145.2M552.4,146.1 552.0,145.5 551.6,144.8 551.3,144.2 551.0,143.4M550.6,144.5 550.2,143.8 549.8,143.1 549.6,142.4 549.3,141.6M549.3,143.5 548.8,142.8 548.5,142.1 548.2,141.3 547.9,140.5M547.6,141.7 547.2,141.0 546.9,140.2 546.6,139.4 546.4,138.6M546.0,139.9 545.6,139.1 545.4,138.3 545.1,137.5 545.0,136.7M544.9,138.8 544.5,138.0 544.2,137.2 544.0,136.4 543.8,135.5 543.7,134.7M543.5,136.9 543.2,136.1 542.9,135.2 542.8,134.4 542.7,133.5 542.7,132.6M542.3,135.0 542.0,134.1 541.8,133.2 541.7,132.3 541.7,131.4 541.7,130.5M541.2,133.0 541.0,132.1 540.8,131.2 540.8,130.3 540.9,129.4 541.0,128.5M540.2,130.9 540.1,130.0 540.1,129.1 540.1,128.2 540.2,127.3 540.4,126.4M539.5,128.9 539.4,128.0 539.5,127.1 539.6,126.1 539.8,125.2 540.1,124.3M538.9,126.8 538.9,125.9 539.1,125.0 539.3,124.1 539.6,123.2 539.9,122.3M538.7,123.9 538.9,123.0 539.1,122.1 539.5,121.2 540.0,120.3 540.5,119.5M538.6,121.9 538.9,121.0 539.2,120.1 539.7,119.2 540.2,118.4 540.9,117.5M538.7,119.9 539.1,119.0 539.5,118.1 540.1,117.3 540.7,116.5 541.4,115.7 542.2,114.9M539.5,117.1 540.0,116.2 540.6,115.4 541.4,114.6 542.1,113.9 543.0,113.2M540.1,115.2 540.7,114.4 541.4,113.6 542.2,112.9 543.1,112.2 544.0,111.5M540.9,113.4 541.6,112.7 542.4,111.9 543.3,111.2 544.2,110.6 545.2,109.9 546.3,109.4M542.7,111.0 543.6,110.3 544.5,109.7 545.5,109.1 546.6,108.5 547.7,108.0M544.0,109.4 544.9,108.8 545.9,108.2 547.0,107.7 548.1,107.1 549.4,106.7M545.5,108.0 546.5,107.4 547.5,106.9 548.6,106.4 549.8,105.9 551.1,105.5 552.4,105.1M547.1,106.6 548.1,106.1 549.3,105.6 550.4,105.2 551.7,104.8 553.0,104.5 554.3,104.2M550.0,104.9 551.1,104.5 552.4,104.1 553.6,103.8 555.0,103.5 556.4,103.3M551.9,103.8 553.1,103.5 554.4,103.2 555.7,102.9 557.1,102.7 558.5,102.6M554.0,102.9 555.2,102.6 556.5,102.4 557.9,102.2 559.2,102.1 560.7,102.0M556.2,102.1 557.4,101.9 558.7,101.7 560.1,101.6 561.5,101.5 562.9,101.5M558.4,101.4 559.7,101.3 561.0,101.2 562.4,101.1 563.8,101.1 565.2,101.2M560.7,100.9 562.0,100.8 563.3,100.7 564.7,100.8 566.1,100.9 567.5,101.0M561.8,100.5 563.1,100.4 564.3,100.4 565.7,100.5 567.0,100.6 568.4,100.7M564.2,100.1 565.4,100.1 566.7,100.2 568.0,100.3 569.3,100.5 570.7,100.7M566.6,99.9 567.8,99.9 569.0,100.1 570.3,100.2 571.6,100.5M568.9,99.7 570.1,99.9 571.4,100.1 572.6,100.3 573.9,100.6M570.2,99.6 571.3,99.7 572.4,99.9 573.6,100.2 574.8,100.5M572.5,99.6 573.6,99.8 574.7,100.1 575.8,100.4 577.0,100.8M573.7,99.5 574.8,99.7 575.8,100.0 576.9,100.3 577.9,100.7M575.0,99.5 576.0,99.7 577.0,100.0 577.9,100.3 578.9,100.7 579.9,101.1M577.2,99.7 578.1,100.0 579.1,100.3 580.0,100.7 580.9,101.1M578.5,99.7 579.4,100.0 580.2,100.3 581.0,100.7 581.9,101.1M580.6,100.1 581.4,100.4 582.1,100.8 582.9,101.2M581.9,100.2 582.6,100.5 583.2,100.9 583.9,101.3 584.6,101.8M583.2,100.3 583.8,100.6 584.4,101.0 584.9,101.4 585.5,101.9M584.5,100.5 585.0,100.8 585.5,101.2 586.0,101.6 586.5,102.0M585.8,100.7 586.2,101.0 586.6,101.3 587.1,101.7 587.5,102.2M587.5,101.2 587.8,101.6 588.1,101.9 588.4,102.4M588.7,101.5 589.0,101.8 589.2,102.2 589.4,102.6M590.0,101.8 590.1,102.1 590.3,102.4 590.4,102.8M591.2,102.1 591.3,102.4 591.4,102.7 591.4,103.0M592.5,102.5 592.5,102.7 592.5,103.0 592.4,103.3M593.7,102.8 593.6,103.1 593.5,103.3 593.4,103.6M595.0,103.3 594.8,103.4 594.6,103.7 594.4,103.9M596.2,103.7 595.9,103.8 595.6,104.0 595.3,104.3M597.4,104.1 597.1,104.3 596.7,104.4 596.3,104.6M598.6,104.6 598.2,104.7 597.7,104.8 597.2,105.0M600.2,105.1 599.8,105.1 599.2,105.2 598.7,105.3 598.1,105.4M601.4,105.7 600.9,105.6 600.3,105.6 599.7,105.7 599.0,105.8M602.6,106.2 602.0,106.2 601.3,106.1 600.6,106.2 599.9,106.2M603.8,106.8 603.1,106.7 602.3,106.7 601.5,106.6 600.7,106.7M604.9,107.4 604.1,107.3 603.3,107.2 602.4,107.1M606.7,108.3 605.9,108.1 605.1,107.9 604.2,107.7 603.3,107.6M607.8,109.0 606.9,108.7 606.0,108.5 605.1,108.3 604.1,108.2M608.8,109.7 607.9,109.4 606.9,109.1 605.9,108.9 604.9,108.7M610.7,110.7 609.8,110.4 608.8,110.0 607.8,109.7 606.7,109.4M611.7,111.5 610.7,111.1 609.7,110.7 608.6,110.3 607.5,110.0M613.6,112.7 612.6,112.2 611.6,111.8 610.5,111.4 609.4,111.0 608.2,110.6M614.5,113.5 613.5,113.0 612.4,112.5 611.3,112.0 610.1,111.6M616.3,114.9 615.3,114.3 614.2,113.8 613.1,113.2 611.9,112.7 610.7,112.2M617.1,115.8 616.0,115.1 614.9,114.5 613.8,114.0 612.6,113.4M618.8,117.3 617.8,116.6 616.7,116.0 615.6,115.3 614.4,114.7M620.4,119.0 619.4,118.2 618.4,117.5 617.3,116.8 616.1,116.1 614.9,115.4M621.9,120.7 621.0,119.9 620.0,119.1 618.9,118.3 617.8,117.5 616.6,116.8M623.2,122.5 622.4,121.6 621.5,120.8 620.5,119.9 619.4,119.1 618.3,118.3M624.5,124.3 623.7,123.4 622.8,122.5 621.9,121.6 620.8,120.8 619.8,119.9M625.5,126.2 624.8,125.2 624.0,124.3 623.1,123.4 622.2,122.5 621.1,121.6 620.1,120.7M626.4,128.1 625.8,127.1 625.0,126.2 624.2,125.2 623.4,124.3 622.4,123.3M627.1,130.1 626.6,129.1 625.9,128.1 625.2,127.1 624.4,126.1 623.5,125.1M627.6,132.0 627.2,131.0 626.6,130.0 625.9,129.0 625.2,128.0 624.4,127.0M628.0,134.0 627.6,133.0 627.1,132.0 626.5,130.9 625.9,129.9 625.1,128.9" fill="none" stroke="#ff3300" stroke-width="0.35" stroke-opacity="0.60"/><path d="M625.7,130.8 625.0,129.7 624.2,128.6 623.3,127.6 622.3,126.5 621.3,125.5 620.2,124.5 619.0,123.4 617.8,122.4M626.6,133.7 626.1,132.7 625.4,131.6 624.7,130.5 623.9,129.4 623.0,128.4 622.1,127.3 621.1,126.2 620.0,125.1 618.8,124.1M626.7,135.6 626.2,134.6 625.7,133.5 625.0,132.4 624.3,131.3 623.5,130.2 622.7,129.1 621.7,128.0 620.7,126.9 619.7,125.8M626.5,137.5 626.1,136.5 625.7,135.4 625.2,134.3 624.5,133.1 623.8,132.0 623.1,130.9 622.2,129.8 621.3,128.7M626.4,140.5 626.2,139.4 625.9,138.3 625.5,137.2 625.1,136.1 624.6,135.0 623.9,133.9 623.3,132.7 622.5,131.6 621.7,130.4M625.7,142.3 625.6,141.2 625.4,140.2 625.1,139.1 624.8,138.0 624.3,136.8 623.8,135.7 623.3,134.6 622.6,133.4M624.8,145.0 624.8,144.0 624.8,143.0 624.7,141.9 624.5,140.9 624.3,139.8 623.9,138.7 623.5,137.5 623.0,136.4 622.5,135.2M623.6,146.7 623.8,145.7 623.8,144.7 623.8,143.7 623.7,142.6 623.5,141.5 623.3,140.4 623.0,139.3 622.6,138.1M622.3,148.3 622.5,147.3 622.6,146.4 622.7,145.3 622.7,144.3 622.6,143.2 622.5,142.1 622.2,141.0 621.9,139.9M620.7,149.8 621.0,148.9 621.2,147.9 621.4,146.9 621.5,145.9 621.5,144.9 621.4,143.8 621.3,142.7M618.6,152.0 619.0,151.2 619.4,150.3 619.7,149.4 619.9,148.5 620.1,147.5 620.2,146.5 620.2,145.4 620.1,144.3M616.7,153.3 617.2,152.5 617.6,151.7 617.9,150.8 618.2,149.9 618.5,148.9 618.6,147.9 618.7,146.9M614.6,154.4 615.1,153.7 615.6,152.9 616.0,152.1 616.4,151.2 616.7,150.3 616.9,149.4 617.1,148.4M612.4,155.5 613.0,154.8 613.5,154.1 614.0,153.3 614.4,152.5 614.8,151.6 615.1,150.7 615.3,149.7M610.1,156.4 610.7,155.8 611.3,155.1 611.8,154.4 612.3,153.6 612.7,152.8 613.1,151.9 613.4,151.0M607.7,157.2 608.4,156.7 609.0,156.0 609.5,155.3 610.0,154.6 610.5,153.8 610.9,153.0 611.3,152.1M605.9,157.4 606.6,156.8 607.1,156.2 607.7,155.5 608.2,154.8 608.6,154.0 609.1,153.2M603.4,158.1 604.1,157.5 604.7,156.9 605.3,156.3 605.8,155.6 606.3,154.9 606.7,154.1M600.9,158.6 601.5,158.1 602.2,157.6 602.7,157.0 603.3,156.4 603.8,155.7 604.3,155.0M599.0,158.6 599.6,158.1 600.2,157.6 600.7,157.0 601.3,156.4 601.8,155.7M596.4,158.9 597.0,158.5 597.6,158.0 598.2,157.5 598.7,156.9 599.2,156.3 599.7,155.6M594.4,158.8 595.0,158.4 595.6,157.9 596.1,157.4 596.6,156.8 597.1,156.2M591.9,159.0 592.4,158.6 593.0,158.2 593.5,157.7 594.0,157.2 594.5,156.6 594.9,156.0M589.9,158.8 590.4,158.4 590.9,158.0 591.4,157.5 591.8,157.0 592.3,156.4M587.8,158.5 588.3,158.1 588.8,157.7 589.2,157.2 589.7,156.7 590.1,156.1M585.4,158.5 585.8,158.2 586.2,157.8 586.6,157.3 587.0,156.9 587.5,156.3 587.9,155.7M583.3,158.1 583.7,157.8 584.1,157.4 584.5,156.9 584.9,156.4 585.2,155.9M581.3,157.7 581.7,157.4 582.0,157.0 582.3,156.5 582.7,156.0 583.0,155.4M579.3,157.2 579.6,156.9 579.9,156.5 580.2,156.0 580.5,155.5 580.8,154.9M577.3,156.7 577.5,156.3 577.7,155.9 578.0,155.4 578.3,154.9 578.5,154.3M575.2,156.2 575.4,155.8 575.6,155.3 575.8,154.8 576.1,154.3 576.3,153.7M573.2,155.5 573.4,155.1 573.5,154.7 573.7,154.2 573.9,153.6 574.1,153.0M571.2,154.9 571.3,154.5 571.4,154.0 571.6,153.5 571.7,152.9 571.9,152.3M569.3,154.2 569.3,153.8 569.4,153.3 569.5,152.7 569.6,152.2 569.7,151.6M567.3,153.5 567.3,153.0 567.3,152.5 567.4,152.0 567.5,151.4 567.6,150.8M565.4,152.7 565.4,152.2 565.4,151.7 565.4,151.1 565.4,150.5 565.5,149.9M563.6,151.9 563.5,151.4 563.4,150.9 563.4,150.3 563.4,149.7 563.4,149.0M561.7,151.1 561.6,150.5 561.5,150.0 561.4,149.4 561.4,148.8 561.4,148.1 561.5,147.4M559.8,149.7 559.6,149.1 559.5,148.5 559.5,147.8 559.5,147.1 559.5,146.4M558.0,148.7 557.8,148.1 557.7,147.5 557.6,146.9 557.6,146.2 557.6,145.4M556.1,147.2 555.9,146.5 555.8,145.9 555.8,145.1 555.7,144.4 555.8,143.6M554.4,146.2 554.2,145.5 554.1,144.8 554.0,144.1 554.0,143.4 554.0,142.6 554.1,141.8M552.8,145.2 552.6,144.5 552.4,143.8 552.3,143.0 552.3,142.3 552.3,141.5 552.3,140.7M551.0,143.4 550.8,142.7 550.7,142.0 550.6,141.2 550.6,140.4 550.7,139.6 550.8,138.7M549.3,141.6 549.2,140.9 549.1,140.1 549.1,139.3 549.1,138.4 549.2,137.6 549.4,136.7M547.9,140.5 547.7,139.8 547.6,138.9 547.6,138.1 547.6,137.3 547.7,136.4 547.9,135.6M546.4,138.6 546.3,137.8 546.2,137.0 546.2,136.1 546.3,135.3 546.5,134.4 546.7,133.5M545.0,136.7 544.9,135.8 544.9,135.0 545.0,134.1 545.2,133.2 545.4,132.3 545.7,131.4M543.7,134.7 543.7,133.8 543.8,132.9 544.0,132.0 544.2,131.1 544.5,130.2 544.8,129.3M542.7,132.6 542.7,131.7 542.9,130.8 543.1,129.9 543.4,129.0 543.7,128.2 544.2,127.3M541.7,130.5 541.9,129.7 542.1,128.8 542.4,127.9 542.7,127.0 543.2,126.1 543.7,125.2 544.3,124.3M541.0,128.5 541.2,127.6 541.5,126.7 541.9,125.8 542.3,124.9 542.8,124.0 543.4,123.2 544.1,122.3M540.4,126.4 540.7,125.5 541.1,124.6 541.6,123.7 542.1,122.9 542.7,122.0 543.4,121.2 544.1,120.4M540.1,124.3 540.5,123.5 540.9,122.6 541.4,121.7 542.1,120.9 542.8,120.0 543.5,119.2 544.4,118.4 545.3,117.7M539.9,122.3 540.4,121.4 540.9,120.6 541.5,119.7 542.2,118.9 543.0,118.1 543.9,117.3 544.8,116.6 545.8,115.9M540.5,119.5 541.1,118.6 541.8,117.8 542.6,117.0 543.5,116.3 544.4,115.5 545.4,114.8 546.5,114.1 547.6,113.5M540.9,117.5 541.6,116.7 542.3,116.0 543.2,115.2 544.1,114.5 545.2,113.8 546.2,113.1 547.4,112.5 548.6,111.9M542.2,114.9 543.0,114.2 544.0,113.5 545.0,112.8 546.1,112.2 547.2,111.5 548.5,111.0 549.8,110.4 551.1,109.9M543.0,113.2 543.9,112.5 545.0,111.8 546.0,111.2 547.2,110.6 548.4,110.0 549.7,109.5 551.1,109.1 552.5,108.6 554.0,108.2M544.0,111.5 545.0,110.9 546.1,110.3 547.3,109.7 548.5,109.2 549.8,108.7 551.2,108.2 552.6,107.8 554.1,107.4 555.6,107.1M546.3,109.4 547.5,108.8 548.7,108.3 550.0,107.8 551.3,107.4 552.7,107.0 554.2,106.7 555.7,106.4 557.3,106.1 559.0,105.9M547.7,108.0 549.0,107.5 550.2,107.0 551.6,106.6 553.0,106.3 554.5,105.9 556.0,105.7 557.5,105.4 559.2,105.3 560.8,105.1M549.4,106.7 550.6,106.2 552.0,105.9 553.4,105.5 554.8,105.2 556.3,105.0 557.9,104.8 559.5,104.6 561.1,104.5 562.8,104.5M552.4,105.1 553.8,104.8 555.2,104.6 556.7,104.3 558.3,104.2 559.9,104.0 561.5,104.0 563.2,104.0 564.9,104.0M554.3,104.2 555.8,103.9 557.2,103.7 558.7,103.6 560.3,103.5 561.9,103.4 563.6,103.4 565.3,103.5 567.0,103.6M556.4,103.3 557.8,103.1 559.3,103.0 560.9,102.9 562.4,102.9 564.1,103.0 565.7,103.0 567.4,103.2 569.1,103.4M558.5,102.6 560.0,102.5 561.5,102.4 563.0,102.4 564.6,102.5 566.2,102.6 567.9,102.8 569.6,103.0 571.3,103.3M560.7,102.0 562.2,102.0 563.7,102.0 565.2,102.1 566.8,102.2 568.5,102.4 570.1,102.6 571.8,102.9 573.5,103.3M562.9,101.5 564.4,101.6 565.9,101.7 567.5,101.8 569.1,102.1 570.7,102.3 572.3,102.6 574.0,103.0 575.6,103.4M565.2,101.2 566.7,101.3 568.2,101.5 569.7,101.7 571.3,102.0 572.9,102.4 574.5,102.8 576.1,103.2M567.5,101.0 569.0,101.2 570.5,101.5 572.0,101.8 573.5,102.1 575.1,102.5 576.6,103.0 578.2,103.5M568.4,100.7 569.8,100.9 571.2,101.2 572.7,101.5 574.2,101.9 575.7,102.3 577.2,102.8 578.7,103.3M570.7,100.7 572.1,101.0 573.5,101.3 574.9,101.7 576.3,102.1 577.8,102.6 579.2,103.2 580.7,103.8M571.6,100.5 572.9,100.8 574.3,101.1 575.6,101.5 577.0,102.0 578.4,102.5 579.8,103.1 581.2,103.7M573.9,100.6 575.1,101.0 576.4,101.4 577.7,101.9 579.1,102.4 580.4,103.0 581.7,103.6M574.8,100.5 576.0,100.9 577.3,101.3 578.5,101.8 579.7,102.3 581.0,102.9 582.2,103.5 583.5,104.2M577.0,100.8 578.1,101.2 579.3,101.7 580.5,102.2 581.6,102.8 582.8,103.5 584.0,104.2M577.9,100.7 579.0,101.1 580.1,101.6 581.2,102.2 582.3,102.8 583.4,103.4 584.5,104.1M579.9,101.1 580.9,101.6 582.0,102.2 583.0,102.8 584.0,103.4 585.0,104.1M580.9,101.1 581.8,101.6 582.8,102.2 583.7,102.8 584.6,103.4 585.6,104.1 586.5,104.9M581.9,101.1 582.7,101.6 583.6,102.2 584.4,102.8 585.3,103.4 586.1,104.1 586.9,104.9M582.9,101.2 583.6,101.7 584.4,102.2 585.2,102.8 585.9,103.5 586.7,104.2 587.4,104.9M584.6,101.8 585.2,102.3 585.9,102.9 586.6,103.5 587.2,104.2 587.9,105.0M585.5,101.9 586.1,102.4 586.7,103.0 587.3,103.6 587.8,104.3 588.4,105.0M586.5,102.0 587.0,102.5 587.5,103.1 587.9,103.7 588.4,104.4 588.9,105.1M587.5,102.2 587.9,102.7 588.3,103.2 588.6,103.8 589.0,104.5 589.4,105.2M588.4,102.4 588.8,102.8 589.0,103.4 589.3,103.9 589.6,104.6 589.9,105.2M589.4,102.6 589.6,103.0 589.8,103.5 590.0,104.1 590.2,104.7 590.4,105.4M590.4,102.8 590.5,103.2 590.6,103.7 590.7,104.3 590.8,104.8 590.9,105.5M591.4,103.0 591.4,103.5 591.5,103.9 591.4,104.4 591.4,105.0 591.4,105.6M592.4,103.3 592.3,103.7 592.2,104.1 592.1,104.6 592.0,105.2 591.9,105.7M593.4,103.6 593.2,104.0 593.0,104.4 592.8,104.8 592.6,105.3 592.4,105.9M594.4,103.9 594.1,104.3 593.8,104.6 593.5,105.1 593.2,105.5 592.9,106.1M595.3,104.3 595.0,104.6 594.6,104.9 594.2,105.3 593.8,105.7 593.4,106.2M596.3,104.6 595.8,104.9 595.4,105.2 594.9,105.6 594.4,106.0 593.9,106.4M597.2,105.0 596.7,105.2 596.1,105.5 595.6,105.8 595.0,106.2 594.3,106.6M598.1,105.4 597.5,105.6 596.9,105.8 596.2,106.1 595.5,106.4 594.8,106.8M599.0,105.8 598.3,106.0 597.6,106.2 596.8,106.4 596.1,106.7 595.3,107.0M599.9,106.2 599.1,106.3 598.3,106.5 597.5,106.7 596.6,106.9 595.7,107.2M600.7,106.7 599.8,106.7 599.0,106.9 598.1,107.0 597.1,107.2 596.1,107.5M602.4,107.1 601.5,107.1 600.6,107.1 599.6,107.2 598.6,107.3 597.6,107.5 596.6,107.7M603.3,107.6 602.3,107.6 601.3,107.6 600.3,107.6 599.2,107.7 598.1,107.8 597.0,107.9M604.1,108.2 603.0,108.1 602.0,108.0 600.9,108.0 599.7,108.0 598.5,108.1 597.3,108.2M604.9,108.7 603.8,108.5 602.6,108.4 601.4,108.4 600.2,108.3 599.0,108.4M606.7,109.4 605.6,109.2 604.4,109.0 603.2,108.9 602.0,108.8 600.7,108.7 599.4,108.7M607.5,110.0 606.3,109.7 605.1,109.5 603.8,109.3 602.5,109.2 601.2,109.0 599.8,109.0M608.2,110.6 606.9,110.3 605.7,110.0 604.3,109.8 603.0,109.6 601.6,109.4 600.1,109.3M610.1,111.6 608.8,111.2 607.5,110.8 606.2,110.5 604.8,110.2 603.4,110.0 602.0,109.7 600.5,109.6M610.7,112.2 609.4,111.8 608.1,111.4 606.7,111.0 605.3,110.7 603.8,110.4 602.3,110.1M612.6,113.4 611.3,112.9 610.0,112.4 608.6,111.9 607.2,111.5 605.7,111.1 604.2,110.8 602.7,110.5M614.4,114.7 613.1,114.1 611.8,113.5 610.5,113.0 609.1,112.5 607.6,112.0 606.1,111.6 604.6,111.2M614.9,115.4 613.6,114.8 612.3,114.2 610.9,113.6 609.5,113.0 608.0,112.5 606.4,112.0 604.9,111.6M616.6,116.8 615.4,116.1 614.1,115.4 612.7,114.8 611.3,114.2 609.8,113.6 608.3,113.0 606.7,112.5 605.1,112.0M618.3,118.3 617.1,117.6 615.8,116.8 614.5,116.1 613.1,115.4 611.6,114.7 610.1,114.1 608.6,113.5 607.0,112.9M619.8,119.9 618.6,119.1 617.4,118.3 616.1,117.5 614.8,116.8 613.4,116.0 611.9,115.3 610.4,114.6 608.8,114.0M620.1,120.7 618.9,119.9 617.7,119.0 616.4,118.2 615.0,117.4 613.6,116.6 612.1,115.9 610.6,115.2 609.0,114.5M622.4,123.3 621.4,122.4 620.3,121.5 619.1,120.6 617.8,119.7 616.5,118.9 615.2,118.0 613.7,117.2 612.2,116.4 610.7,115.7M623.5,125.1 622.5,124.2 621.5,123.2 620.4,122.3 619.2,121.4 617.9,120.4 616.6,119.5 615.3,118.7 613.8,117.8 612.3,117.0M624.4,127.0 623.5,126.0 622.6,125.0 621.5,124.0 620.4,123.0 619.2,122.1 618.0,121.1 616.7,120.2 615.3,119.3 613.8,118.4M625.1,128.9 624.3,127.8 623.5,126.8 622.5,125.8 621.5,124.8 620.3,123.8 619.2,122.8 617.9,121.8 616.6,120.8 615.2,119.9" fill="none" stroke="#ff3300" stroke-width="0.35" stroke-opacity="0.65"/><path d="M617.8,122.4 616.5,121.4 615.1,120.4 613.7,119.5 612.2,118.5 610.7,117.6 609.1,116.7 607.4,115.8 605.7,115.0 604.0,114.1 602.2,113.4 600.4,112.6 598.6,111.9 596.7,111.2 594.8,110.5 592.9,109.9 591.0,109.3M618.8,124.1 617.6,123.0 616.3,122.0 614.9,121.0 613.5,120.0 612.0,119.0 610.5,118.0 608.9,117.1 607.3,116.2 605.6,115.3 603.9,114.4 602.1,113.6 600.4,112.8 598.5,112.0 596.7,111.3 594.8,110.6 592.9,109.9 591.0,109.3M619.7,125.8 618.5,124.7 617.3,123.6 616.0,122.6 614.7,121.5 613.3,120.5 611.8,119.5 610.3,118.5 608.7,117.5 607.1,116.5 605.5,115.6 603.8,114.7 602.0,113.8 600.3,113.0 598.5,112.2 596.6,111.4 594.8,110.7 592.9,110.0 591.0,109.3M621.3,128.7 620.3,127.5 619.3,126.4 618.1,125.3 616.9,124.2 615.7,123.1 614.3,122.0 613.0,121.0 611.5,119.9 610.0,118.9 608.5,117.9 606.9,116.9 605.3,115.9 603.6,115.0 601.9,114.1 600.1,113.2 598.4,112.3 596.5,111.5 594.7,110.8 592.9,110.0 591.0,109.3M621.7,130.4 620.8,129.3 619.8,128.1 618.8,127.0 617.7,125.9 616.5,124.7 615.3,123.6 614.0,122.5 612.6,121.4 611.2,120.3 609.7,119.3 608.2,118.2 606.6,117.2 605.0,116.2 603.4,115.2 601.7,114.3 600.0,113.4 598.2,112.5 596.5,111.6 594.7,110.8 592.8,110.0 591.0,109.3M622.6,133.4 621.9,132.2 621.1,131.1 620.2,129.9 619.2,128.7 618.2,127.6 617.1,126.4 616.0,125.2 614.8,124.1 613.5,123.0 612.2,121.8 610.8,120.7 609.4,119.6 607.9,118.6 606.3,117.5 604.8,116.5 603.2,115.5 601.5,114.5 599.8,113.5 598.1,112.6 596.4,111.7 594.6,110.9 592.8,110.1 591.0,109.3M622.5,135.2 621.8,134.0 621.1,132.9 620.3,131.7 619.5,130.5 618.6,129.3 617.6,128.1 616.5,126.9 615.4,125.7 614.2,124.5 613.0,123.4 611.7,122.2 610.3,121.1 608.9,120.0 607.5,118.9 606.0,117.8 604.5,116.7 602.9,115.7 601.3,114.7 599.6,113.7 597.9,112.8 596.2,111.8 594.5,111.0 592.8,110.1 591.0,109.3M622.6,138.1 622.1,137.0 621.6,135.8 621.0,134.6 620.3,133.4 619.5,132.2 618.7,131.0 617.8,129.8 616.8,128.6 615.8,127.4 614.7,126.2 613.6,125.0 612.4,123.8 611.1,122.6 609.8,121.4 608.5,120.3 607.1,119.2 605.6,118.1 604.1,117.0 602.6,115.9 601.0,114.9 599.4,113.9 597.8,112.9 596.1,111.9 594.4,111.0 592.7,110.1 591.0,109.3M621.9,139.9 621.6,138.7 621.1,137.6 620.6,136.4 620.0,135.2 619.3,133.9 618.6,132.7 617.8,131.5 617.0,130.3 616.0,129.0 615.0,127.8 614.0,126.6 612.9,125.4 611.7,124.2 610.5,123.0 609.3,121.8 607.9,120.6 606.6,119.4 605.2,118.3 603.7,117.2 602.2,116.1 600.7,115.0 599.2,114.0 597.6,113.0 596.0,112.0 594.3,111.1 592.7,110.2 591.0,109.3M621.3,142.7 621.1,141.6 620.8,140.4 620.4,139.3 620.0,138.1 619.5,136.9 619.0,135.7 618.3,134.4 617.6,133.2 616.9,132.0 616.0,130.7 615.2,129.5 614.2,128.2 613.2,127.0 612.1,125.7 611.0,124.5 609.9,123.3 608.6,122.1 607.4,120.9 606.0,119.7 604.7,118.5 603.3,117.4 601.9,116.3 600.4,115.2 598.9,114.1 597.3,113.1 595.8,112.1 594.2,111.1 592.6,110.2 591.0,109.3M620.1,144.3 620.0,143.2 619.8,142.1 619.5,140.9 619.2,139.7 618.8,138.6 618.4,137.3 617.8,136.1 617.2,134.9 616.6,133.6 615.8,132.4 615.1,131.1 614.2,129.8 613.3,128.6 612.3,127.3 611.3,126.0 610.3,124.8 609.1,123.6 608.0,122.3 606.7,121.1 605.5,119.9 604.2,118.7 602.8,117.6 601.5,116.4 600.0,115.3 598.6,114.2 597.1,113.2 595.6,112.2 594.1,111.2 592.5,110.2 591.0,109.3M618.7,146.9 618.8,145.9 618.7,144.8 618.6,143.7 618.5,142.5 618.2,141.4 617.9,140.2 617.5,139.0 617.1,137.8 616.6,136.5 616.0,135.3 615.4,134.0 614.7,132.7 614.0,131.5 613.2,130.2 612.3,128.9 611.4,127.6 610.4,126.3 609.4,125.1 608.4,123.8 607.2,122.6 606.1,121.3 604.9,120.1 603.6,118.9 602.3,117.7 601.0,116.6 599.7,115.4 598.3,114.3 596.9,113.3 595.4,112.2 594.0,111.2 592.5,110.2 591.0,109.3M617.1,148.4 617.2,147.3 617.3,146.3 617.2,145.2 617.2,144.1 617.0,142.9 616.8,141.8 616.5,140.6 616.2,139.4 615.8,138.1 615.3,136.9 614.8,135.6 614.2,134.3 613.6,133.1 612.9,131.8 612.1,130.5 611.3,129.2 610.4,127.9 609.5,126.6 608.5,125.3 607.5,124.0 606.5,122.8 605.4,121.5 604.2,120.3 603.0,119.1 601.8,117.9 600.6,116.7 599.3,115.6 597.9,114.4 596.6,113.3 595.2,112.3 593.8,111.3 592.4,110.3 591.0,109.3M615.3,149.7 615.5,148.7 615.6,147.7 615.7,146.6 615.7,145.5 615.6,144.4 615.5,143.3 615.3,142.1 615.0,140.9 614.7,139.7 614.4,138.4 613.9,137.2 613.5,135.9 612.9,134.6 612.3,133.3 611.7,132.0 611.0,130.7 610.2,129.4 609.4,128.1 608.5,126.8 607.6,125.5 606.7,124.2 605.7,123.0 604.6,121.7 603.5,120.4 602.4,119.2 601.3,118.0 600.1,116.8 598.8,115.6 597.6,114.5 596.3,113.4 595.0,112.3 593.7,111.3 592.3,110.3 591.0,109.3M613.4,151.0 613.6,150.0 613.8,149.0 613.9,148.0 614.0,146.9 614.0,145.8 614.0,144.7 613.9,143.6 613.7,142.4 613.5,141.2 613.2,139.9 612.9,138.7 612.5,137.4 612.1,136.2 611.6,134.9 611.0,133.6 610.4,132.3 609.7,130.9 609.0,129.6 608.3,128.3 607.5,127.0 606.6,125.7 605.7,124.4 604.8,123.1 603.8,121.8 602.8,120.6 601.8,119.3 600.7,118.1 599.6,116.9 598.4,115.7 597.2,114.6 596.0,113.5 594.8,112.4 593.5,111.3 592.3,110.3 591.0,109.3M611.3,152.1 611.6,151.2 611.8,150.3 612.0,149.3 612.2,148.2 612.3,147.2 612.3,146.1 612.3,144.9 612.2,143.8 612.1,142.6 611.9,141.4 611.6,140.2 611.3,138.9 611.0,137.6 610.6,136.4 610.1,135.1 609.6,133.7 609.1,132.4 608.5,131.1 607.8,129.8 607.1,128.5 606.4,127.2 605.6,125.8 604.8,124.5 603.9,123.2 603.0,121.9 602.1,120.7 601.1,119.4 600.1,118.2 599.0,117.0 597.9,115.8 596.8,114.6 595.7,113.5 594.6,112.4 593.4,111.3 592.2,110.3 591.0,109.3M609.1,153.2 609.4,152.3 609.7,151.4 610.0,150.4 610.2,149.4 610.3,148.4 610.4,147.3 610.5,146.2 610.5,145.1 610.4,144.0 610.3,142.8 610.2,141.6 610.0,140.3 609.7,139.1 609.4,137.8 609.1,136.5 608.6,135.2 608.2,133.9 607.7,132.6 607.2,131.2 606.6,129.9 605.9,128.6 605.2,127.3 604.5,125.9 603.8,124.6 603.0,123.3 602.1,122.0 601.3,120.8 600.4,119.5 599.4,118.3 598.5,117.0 597.5,115.8 596.4,114.7 595.4,113.5 594.3,112.4 593.2,111.3 592.1,110.3 591.0,109.3M606.7,154.1 607.1,153.3 607.5,152.4 607.8,151.5 608.0,150.6 608.2,149.6 608.4,148.5 608.5,147.5 608.6,146.4 608.6,145.2 608.6,144.1 608.5,142.9 608.4,141.7 608.2,140.4 608.0,139.2 607.8,137.9 607.5,136.6 607.1,135.3 606.7,134.0 606.3,132.7 605.8,131.3 605.2,130.0 604.7,128.7 604.1,127.3 603.4,126.0 602.7,124.7 602.0,123.4 601.2,122.1 600.4,120.8 599.6,119.5 598.8,118.3 597.9,117.1 597.0,115.9 596.0,114.7 595.0,113.6 594.1,112.4 593.1,111.4 592.0,110.3 591.0,109.3M604.3,155.0 604.7,154.2 605.1,153.4 605.5,152.5 605.8,151.6 606.0,150.6 606.3,149.6 606.4,148.6 606.6,147.5 606.7,146.4 606.7,145.3 606.7,144.1 606.7,142.9 606.6,141.7 606.5,140.5 606.3,139.2 606.1,137.9 605.8,136.6 605.5,135.3 605.2,134.0 604.8,132.7 604.4,131.4 603.9,130.0 603.4,128.7 602.8,127.4 602.3,126.0 601.6,124.7 601.0,123.4 600.3,122.1 599.6,120.8 598.8,119.6 598.1,118.3 597.3,117.1 596.4,115.9 595.6,114.7 594.7,113.6 593.8,112.4 592.9,111.4 591.9,110.3 591.0,109.3M601.8,155.7 602.2,155.0 602.7,154.2 603.0,153.3 603.4,152.5 603.7,151.6 604.0,150.6 604.2,149.6 604.4,148.6 604.6,147.5 604.7,146.4 604.7,145.3 604.8,144.1 604.8,142.9 604.7,141.7 604.6,140.5 604.5,139.2 604.3,137.9 604.1,136.6 603.9,135.3 603.6,134.0 603.3,132.7 602.9,131.4 602.5,130.0 602.1,128.7 601.6,127.4 601.1,126.0 600.5,124.7 600.0,123.4 599.4,122.1 598.7,120.8 598.1,119.6 597.4,118.3 596.6,117.1 595.9,115.9 595.1,114.7 594.3,113.6 593.5,112.4 592.7,111.4 591.8,110.3 591.0,109.3M599.7,155.6 600.1,154.9 600.5,154.1 600.9,153.3 601.3,152.4 601.6,151.5 601.9,150.5 602.1,149.5 602.3,148.5 602.5,147.4 602.6,146.3 602.7,145.2 602.8,144.0 602.8,142.9 602.8,141.6 602.7,140.4 602.7,139.2 602.5,137.9 602.4,136.6 602.2,135.3 602.0,134.0 601.7,132.6 601.4,131.3 601.1,130.0 600.7,128.7 600.3,127.3 599.9,126.0 599.4,124.7 598.9,123.4 598.4,122.1 597.8,120.8 597.2,119.5 596.6,118.3 596.0,117.1 595.3,115.9 594.7,114.7 594.0,113.5 593.2,112.4 592.5,111.4 591.8,110.3 591.0,109.3M597.1,156.2 597.5,155.5 598.0,154.8 598.4,154.0 598.8,153.2 599.1,152.3 599.4,151.4 599.7,150.4 600.0,149.4 600.2,148.4 600.4,147.3 600.5,146.2 600.6,145.1 600.7,143.9 600.8,142.7 600.8,141.5 600.8,140.3 600.8,139.0 600.7,137.8 600.6,136.5 600.5,135.2 600.3,133.9 600.1,132.5 599.9,131.2 599.6,129.9 599.3,128.6 599.0,127.2 598.6,125.9 598.2,124.6 597.8,123.3 597.4,122.0 596.9,120.7 596.4,119.5 595.9,118.2 595.4,117.0 594.8,115.8 594.2,114.7 593.6,113.5 593.0,112.4 592.3,111.3 591.7,110.3 591.0,109.3M594.9,156.0 595.4,155.3 595.8,154.6 596.2,153.8 596.5,153.0 596.9,152.1 597.2,151.2 597.5,150.2 597.8,149.2 598.0,148.2 598.2,147.1 598.4,146.0 598.5,144.9 598.7,143.7 598.8,142.6 598.8,141.4 598.9,140.1 598.9,138.9 598.8,137.6 598.8,136.3 598.7,135.0 598.6,133.7 598.5,132.4 598.3,131.1 598.1,129.8 597.9,128.4 597.6,127.1 597.3,125.8 597.0,124.5 596.7,123.2 596.4,121.9 596.0,120.7 595.6,119.4 595.1,118.2 594.7,117.0 594.2,115.8 593.7,114.6 593.2,113.5 592.7,112.4 592.1,111.3 591.6,110.3 591.0,109.3M592.3,156.4 592.7,155.7 593.1,155.1 593.5,154.3 593.9,153.5 594.3,152.7 594.6,151.8 594.9,150.9 595.2,150.0 595.5,149.0 595.8,147.9 596.0,146.9 596.2,145.8 596.4,144.7 596.5,143.5 596.7,142.3 596.8,141.1 596.9,139.9 596.9,138.7 596.9,137.4 596.9,136.1 596.9,134.8 596.9,133.5 596.8,132.2 596.7,130.9 596.6,129.6 596.4,128.3 596.3,127.0 596.1,125.7 595.8,124.4 595.6,123.1 595.3,121.8 595.0,120.6 594.7,119.3 594.4,118.1 594.0,116.9 593.6,115.7 593.2,114.6 592.8,113.4 592.4,112.4 591.9,111.3 591.5,110.3 591.0,109.3M590.1,156.1 590.5,155.4 590.9,154.7 591.3,154.0 591.7,153.2 592.0,152.4 592.3,151.5 592.7,150.6 593.0,149.7 593.3,148.7 593.5,147.6 593.8,146.6 594.0,145.5 594.2,144.4 594.4,143.2 594.6,142.0 594.7,140.8 594.8,139.6 594.9,138.4 595.0,137.1 595.1,135.9 595.1,134.6 595.1,133.3 595.1,132.0 595.1,130.7 595.0,129.4 595.0,128.1 594.9,126.8 594.7,125.5 594.6,124.2 594.4,122.9 594.3,121.7 594.1,120.4 593.8,119.2 593.6,118.0 593.3,116.8 593.0,115.6 592.7,114.5 592.4,113.4 592.1,112.3 591.7,111.3 591.4,110.3 591.0,109.3M587.9,155.7 588.2,155.1 588.6,154.4 589.0,153.6 589.4,152.8 589.7,152.0 590.0,151.1 590.4,150.2 590.7,149.3 591.0,148.3 591.3,147.3 591.5,146.2 591.8,145.1 592.0,144.0 592.2,142.9 592.4,141.7 592.6,140.5 592.8,139.3 592.9,138.1 593.1,136.8 593.2,135.6 593.3,134.3 593.4,133.0 593.4,131.7 593.5,130.4 593.5,129.1 593.5,127.8 593.5,126.6 593.4,125.3 593.4,124.0 593.3,122.7 593.2,121.5 593.1,120.3 592.9,119.0 592.8,117.9 592.6,116.7 592.4,115.5 592.2,114.4 592.0,113.3 591.8,112.3 591.5,111.2 591.3,110.3 591.0,109.3M585.2,155.9 585.6,155.3 586.0,154.6 586.3,153.9 586.7,153.2 587.0,152.4 587.4,151.6 587.7,150.7 588.0,149.8 588.4,148.9 588.7,147.9 589.0,146.8 589.3,145.8 589.5,144.7 589.8,143.6 590.0,142.5 590.3,141.3 590.5,140.1 590.7,138.9 590.9,137.7 591.1,136.4 591.3,135.2 591.4,133.9 591.6,132.7 591.7,131.4 591.8,130.1 591.9,128.8 592.0,127.6 592.0,126.3 592.1,125.0 592.1,123.8 592.1,122.5 592.1,121.3 592.1,120.1 592.1,118.9 592.0,117.7 591.9,116.6 591.8,115.4 591.7,114.3 591.6,113.3 591.5,112.2 591.3,111.2 591.2,110.2 591.0,109.3M583.0,155.4 583.3,154.8 583.7,154.2 584.0,153.5 584.4,152.7 584.7,151.9 585.0,151.1 585.4,150.2 585.7,149.3 586.0,148.4 586.4,147.4 586.7,146.4 587.0,145.3 587.3,144.2 587.6,143.1 587.9,142.0 588.1,140.8 588.4,139.7 588.7,138.5 588.9,137.3 589.1,136.0 589.4,134.8 589.6,133.5 589.8,132.3 590.0,131.0 590.2,129.8 590.3,128.5 590.5,127.2 590.6,126.0 590.7,124.7 590.9,123.5 591.0,122.3 591.0,121.1 591.1,119.9 591.2,118.7 591.2,117.5 591.2,116.4 591.2,115.3 591.2,114.2 591.2,113.2 591.2,112.2 591.1,111.2 591.1,110.2 591.0,109.3M580.8,154.9 581.1,154.3 581.4,153.6 581.7,152.9 582.0,152.2 582.4,151.4 582.7,150.6 583.0,149.7 583.4,148.8 583.7,147.8 584.0,146.8 584.4,145.8 584.7,144.8 585.0,143.7 585.3,142.6 585.7,141.5 586.0,140.3 586.3,139.2 586.6,138.0 586.9,136.8 587.2,135.6 587.5,134.3 587.7,133.1 588.0,131.9 588.3,130.6 588.5,129.4 588.7,128.1 589.0,126.9 589.2,125.7 589.4,124.4 589.6,123.2 589.8,122.0 590.0,120.8 590.1,119.6 590.3,118.5 590.4,117.4 590.5,116.2 590.6,115.2 590.7,114.1 590.8,113.1 590.9,112.1 590.9,111.1 591.0,110.2 591.0,109.3M578.5,154.3 578.8,153.7 579.1,153.0 579.4,152.3 579.7,151.6 580.0,150.8 580.4,150.0 580.7,149.1 581.0,148.2 581.4,147.2 581.7,146.2 582.1,145.2 582.4,144.2 582.7,143.1 583.1,142.0 583.5,140.9 583.8,139.8 584.2,138.6 584.5,137.5 584.8,136.3 585.2,135.1 585.5,133.9 585.9,132.6 586.2,131.4 586.5,130.2 586.8,129.0 587.2,127.7 587.5,126.5 587.8,125.3 588.1,124.1 588.3,122.9 588.6,121.7 588.9,120.5 589.1,119.4 589.4,118.3 589.6,117.1 589.8,116.1 590.0,115.0 590.2,114.0 590.4,113.0 590.6,112.0 590.7,111.1 590.9,110.2 591.0,109.3M576.3,153.7 576.6,153.1 576.8,152.4 577.1,151.7 577.4,150.9 577.7,150.1 578.0,149.3 578.4,148.4 578.7,147.5 579.0,146.6 579.4,145.6 579.8,144.6 580.1,143.6 580.5,142.5 580.9,141.4 581.3,140.3 581.6,139.2 582.0,138.0 582.4,136.9 582.8,135.7 583.2,134.5 583.6,133.3 584.0,132.1 584.4,130.9 584.8,129.7 585.2,128.5 585.6,127.3 586.0,126.1 586.3,124.9 586.7,123.7 587.1,122.5 587.4,121.4 587.8,120.2 588.1,119.1 588.5,118.0 588.8,116.9 589.1,115.9 589.4,114.8 589.7,113.8 590.0,112.9 590.3,111.9 590.5,111.0 590.8,110.1 591.0,109.3M574.1,153.0 574.3,152.4 574.6,151.7 574.8,151.0 575.1,150.2 575.4,149.4 575.7,148.6 576.0,147.7 576.4,146.8 576.7,145.9 577.1,144.9 577.5,143.9 577.9,142.9 578.3,141.8 578.7,140.7 579.1,139.6 579.5,138.5 579.9,137.4 580.4,136.3 580.8,135.1 581.3,133.9 581.7,132.7 582.2,131.6 582.6,130.4 583.1,129.2 583.6,128.0 584.0,126.8 584.5,125.6 584.9,124.5 585.4,123.3 585.8,122.2 586.3,121.0 586.7,119.9 587.2,118.8 587.6,117.7 588.0,116.7 588.4,115.7 588.8,114.7 589.2,113.7 589.6,112.7 590.0,111.8 590.3,110.9 590.7,110.1 591.0,109.3M571.9,152.3 572.1,151.7 572.3,151.0 572.6,150.3 572.8,149.5 573.1,148.7 573.4,147.8 573.7,147.0 574.1,146.1 574.4,145.1 574.8,144.2 575.2,143.2 575.6,142.1 576.0,141.1 576.5,140.0 576.9,138.9 577.4,137.8 577.8,136.7 578.3,135.6 578.8,134.4 579.3,133.3 579.8,132.1 580.4,131.0 580.9,129.8 581.4,128.6 581.9,127.5 582.5,126.3 583.0,125.2 583.5,124.0 584.1,122.9 584.6,121.8 585.1,120.7 585.7,119.6 586.2,118.5 586.7,117.4 587.2,116.4 587.7,115.4 588.2,114.5 588.7,113.5 589.2,112.6 589.7,111.7 590.1,110.9 590.6,110.1 591.0,109.3M569.7,151.6 569.9,150.9 570.1,150.2 570.3,149.5 570.6,148.7 570.9,147.9 571.1,147.0 571.5,146.2 571.8,145.3 572.2,144.3 572.6,143.4 573.0,142.4 573.4,141.4 573.8,140.3 574.3,139.3 574.8,138.2 575.3,137.1 575.8,136.0 576.3,134.9 576.9,133.7 577.4,132.6 578.0,131.5 578.5,130.3 579.1,129.2 579.7,128.0 580.3,126.9 580.9,125.8 581.5,124.6 582.2,123.5 582.8,122.4 583.4,121.3 584.0,120.3 584.6,119.2 585.2,118.2 585.8,117.1 586.4,116.2 587.0,115.2 587.6,114.2 588.2,113.3 588.8,112.5 589.4,111.6 589.9,110.8 590.5,110.0 591.0,109.3M567.6,150.8 567.7,150.1 567.9,149.4 568.1,148.6 568.4,147.9 568.6,147.0 568.9,146.2 569.2,145.3 569.6,144.4 569.9,143.5 570.3,142.5 570.8,141.5 571.2,140.5 571.7,139.5 572.2,138.5 572.7,137.4 573.2,136.3 573.8,135.2 574.3,134.1 574.9,133.0 575.5,131.9 576.1,130.8 576.8,129.7 577.4,128.5 578.1,127.4 578.7,126.3 579.4,125.2 580.1,124.1 580.8,123.0 581.5,121.9 582.2,120.9 582.9,119.8 583.6,118.8 584.3,117.8 585.0,116.8 585.7,115.9 586.4,114.9 587.1,114.0 587.7,113.2 588.4,112.3 589.1,111.5 589.7,110.7 590.4,110.0 591.0,109.3M565.5,149.9 565.6,149.2 565.8,148.5 566.0,147.8 566.2,147.0 566.4,146.2 566.7,145.3 567.0,144.4 567.4,143.5 567.7,142.6 568.2,141.6 568.6,140.7 569.1,139.7 569.5,138.6 570.1,137.6 570.6,136.6 571.2,135.5 571.8,134.4 572.4,133.3 573.0,132.2 573.7,131.2 574.3,130.1 575.0,129.0 575.7,127.9 576.4,126.8 577.2,125.7 577.9,124.6 578.7,123.5 579.4,122.5 580.2,121.4 581.0,120.4 581.8,119.4 582.6,118.4 583.4,117.4 584.1,116.5 584.9,115.6 585.7,114.7 586.5,113.8 587.3,113.0 588.0,112.2 588.8,111.4 589.5,110.7 590.3,110.0 591.0,109.3M563.4,149.0 563.5,148.3 563.7,147.6 563.8,146.9 564.0,146.1 564.3,145.2 564.6,144.4 564.9,143.5 565.2,142.6 565.6,141.7 566.0,140.7 566.5,139.7 566.9,138.8 567.5,137.7 568.0,136.7 568.6,135.7 569.2,134.6 569.8,133.6 570.5,132.5 571.1,131.4 571.8,130.4 572.6,129.3 573.3,128.2 574.1,127.1 574.9,126.1 575.7,125.0 576.5,124.0 577.3,122.9 578.1,121.9 579.0,120.9 579.8,119.9 580.7,118.9 581.6,118.0 582.4,117.0 583.3,116.1 584.2,115.2 585.1,114.4 585.9,113.6 586.8,112.8 587.6,112.0 588.5,111.3 589.3,110.6 590.2,109.9 591.0,109.3M561.5,147.4 561.6,146.7 561.8,145.9 561.9,145.1 562.2,144.3 562.4,143.4 562.8,142.5 563.1,141.6 563.5,140.7 563.9,139.8 564.4,138.8 564.9,137.8 565.4,136.8 566.0,135.8 566.6,134.8 567.2,133.7 567.9,132.7 568.6,131.7 569.3,130.6 570.1,129.6 570.8,128.5 571.6,127.5 572.5,126.4 573.3,125.4 574.2,124.3 575.0,123.3 575.9,122.3 576.9,121.3 577.8,120.3 578.7,119.4 579.6,118.4 580.6,117.5 581.5,116.6 582.5,115.8 583.5,114.9 584.4,114.1 585.4,113.3 586.3,112.6 587.3,111.8 588.2,111.1 589.2,110.5 590.1,109.9 591.0,109.3M559.5,146.4 559.6,145.7 559.7,144.9 559.9,144.1 560.1,143.3 560.4,142.4 560.7,141.5 561.1,140.6 561.5,139.7 561.9,138.8 562.4,137.8 562.9,136.8 563.4,135.8 564.0,134.8 564.7,133.8 565.3,132.8 566.0,131.8 566.8,130.8 567.5,129.7 568.3,128.7 569.2,127.7 570.0,126.7 570.9,125.6 571.8,124.6 572.7,123.6 573.7,122.6 574.6,121.7 575.6,120.7 576.6,119.8 577.6,118.8 578.6,117.9 579.6,117.1 580.7,116.2 581.7,115.4 582.8,114.6 583.8,113.8 584.9,113.1 585.9,112.3 586.9,111.7 588.0,111.0 589.0,110.4 590.0,109.8 591.0,109.3M557.6,145.4 557.7,144.7 557.8,143.9 557.9,143.1 558.2,142.2 558.4,141.4 558.7,140.5 559.1,139.6 559.5,138.7 559.9,137.7 560.4,136.8 560.9,135.8 561.5,134.8 562.1,133.9 562.8,132.9 563.5,131.9 564.2,130.9 565.0,129.9 565.8,128.8 566.7,127.8 567.5,126.8 568.4,125.8 569.4,124.8 570.3,123.9 571.3,122.9 572.3,121.9 573.3,121.0 574.4,120.1 575.5,119.2 576.5,118.3 577.6,117.4 578.7,116.6 579.8,115.8 581.0,115.0 582.1,114.2 583.2,113.5 584.3,112.8 585.5,112.1 586.6,111.5 587.7,110.9 588.8,110.3 589.9,109.8 591.0,109.3M555.8,143.6 555.9,142.8 556.0,142.0 556.2,141.2 556.5,140.3 556.8,139.4 557.2,138.5 557.6,137.6 558.0,136.7 558.5,135.7 559.1,134.8 559.7,133.8 560.3,132.8 561.0,131.9 561.7,130.9 562.5,129.9 563.3,128.9 564.2,127.9 565.0,126.9 566.0,126.0 566.9,125.0 567.9,124.0 568.9,123.1 570.0,122.1 571.0,121.2 572.1,120.3 573.2,119.4 574.4,118.6 575.5,117.7 576.7,116.9 577.8,116.1 579.0,115.3 580.2,114.6 581.4,113.9 582.6,113.2 583.8,112.5 585.0,111.9 586.2,111.3 587.4,110.7 588.6,110.2 589.8,109.7 591.0,109.3M554.1,141.8 554.2,140.9 554.4,140.1 554.7,139.2 555.0,138.4 555.3,137.5 555.7,136.5 556.2,135.6 556.7,134.7 557.3,133.7 557.9,132.8 558.6,131.8 559.3,130.8 560.0,129.9 560.8,128.9 561.7,127.9 562.6,127.0 563.5,126.0 564.4,125.1 565.4,124.1 566.5,123.2 567.6,122.3 568.6,121.4 569.8,120.5 570.9,119.6 572.1,118.8 573.3,117.9 574.5,117.1 575.7,116.3 577.0,115.6 578.3,114.9 579.5,114.2 580.8,113.5 582.1,112.8 583.4,112.2 584.6,111.6 585.9,111.1 587.2,110.6 588.5,110.1 589.7,109.7 591.0,109.3M552.3,140.7 552.5,139.8 552.6,139.0 552.9,138.1 553.2,137.2 553.5,136.3 554.0,135.4 554.4,134.5 555.0,133.6 555.5,132.6 556.2,131.7 556.9,130.7 557.6,129.8 558.4,128.8 559.2,127.9 560.1,127.0 561.0,126.0 562.0,125.1 563.0,124.2 564.0,123.2 565.1,122.3 566.2,121.5 567.4,120.6 568.6,119.7 569.8,118.9 571.0,118.1 572.3,117.3 573.6,116.5 574.9,115.8 576.2,115.1 577.5,114.4 578.8,113.7 580.2,113.1 581.5,112.5 582.9,111.9 584.3,111.4 585.6,110.9 587.0,110.5 588.3,110.0 589.7,109.6 591.0,109.3M550.8,138.7 551.0,137.9 551.2,137.0 551.5,136.1 551.9,135.2 552.3,134.3 552.8,133.4 553.3,132.5 553.9,131.5 554.5,130.6 555.3,129.7 556.0,128.7 556.8,127.8 557.7,126.9 558.6,125.9 559.6,125.0 560.6,124.1 561.6,123.2 562.7,122.3 563.8,121.5 565.0,120.6 566.2,119.8 567.4,119.0 568.7,118.2 570.0,117.4 571.3,116.6 572.7,115.9 574.0,115.2 575.4,114.5 576.8,113.9 578.2,113.3 579.6,112.7 581.0,112.2 582.5,111.6 583.9,111.2 585.3,110.7 586.8,110.3 588.2,109.9 589.6,109.6 591.0,109.3M549.4,136.7 549.6,135.8 549.9,135.0 550.3,134.1 550.7,133.2 551.2,132.2 551.7,131.3 552.3,130.4 553.0,129.5 553.7,128.6 554.5,127.6 555.4,126.7 556.2,125.8 557.2,124.9 558.2,124.0 559.2,123.2 560.3,122.3 561.4,121.4 562.6,120.6 563.8,119.8 565.1,119.0 566.4,118.2 567.7,117.4 569.0,116.7 570.4,116.0 571.8,115.3 573.2,114.6 574.7,114.0 576.1,113.4 577.6,112.9 579.1,112.3 580.6,111.8 582.1,111.3 583.6,110.9 585.1,110.5 586.5,110.2 588.0,109.8 589.5,109.5 591.0,109.3M547.9,135.6 548.1,134.7 548.4,133.8 548.8,132.9 549.2,132.0 549.7,131.1 550.2,130.2 550.9,129.3 551.6,128.4 552.3,127.5 553.1,126.6 554.0,125.7 554.9,124.8 555.9,123.9 556.9,123.0 558.0,122.2 559.1,121.3 560.2,120.5 561.5,119.7 562.7,118.9 564.0,118.1 565.3,117.4 566.7,116.7 568.1,116.0 569.5,115.3 571.0,114.7 572.5,114.1 574.0,113.5 575.5,112.9 577.0,112.4 578.6,111.9 580.1,111.5 581.7,111.0 583.2,110.7 584.8,110.3 586.3,110.0 587.9,109.7 589.4,109.5 591.0,109.3M546.7,133.5 547.0,132.6 547.3,131.7 547.8,130.8 548.3,129.9 548.9,129.0 549.5,128.1 550.2,127.2 550.9,126.3 551.8,125.4 552.7,124.6 553.6,123.7 554.6,122.8 555.7,122.0 556.8,121.2 557.9,120.4 559.1,119.6 560.4,118.8 561.7,118.0 563.0,117.3 564.4,116.6 565.8,115.9 567.2,115.3 568.7,114.6 570.2,114.0 571.8,113.5 573.3,112.9 574.9,112.4 576.5,112.0 578.1,111.5 579.7,111.1 581.3,110.7 582.9,110.4 584.5,110.1 586.2,109.9 587.8,109.6 589.4,109.4 591.0,109.3M545.7,131.4 546.0,130.5 546.5,129.6 547.0,128.7 547.6,127.9 548.2,127.0 548.9,126.1 549.7,125.2 550.5,124.3 551.4,123.5 552.4,122.6 553.4,121.8 554.5,121.0 555.7,120.2 556.8,119.4 558.1,118.6 559.4,117.9 560.7,117.2 562.1,116.5 563.5,115.8 565.0,115.2 566.4,114.6 568.0,114.0 569.5,113.4 571.1,112.9 572.7,112.4 574.3,111.9 576.0,111.5 577.6,111.1 579.3,110.8 581.0,110.4 582.6,110.2 584.3,109.9 586.0,109.7 587.7,109.5 589.3,109.4 591.0,109.3M544.8,129.3 545.3,128.5 545.8,127.6 546.4,126.7 547.0,125.8 547.8,124.9 548.5,124.1 549.4,123.2 550.3,122.4 551.3,121.6 552.4,120.7 553.5,120.0 554.6,119.2 555.9,118.4 557.1,117.7 558.4,117.0 559.8,116.3 561.2,115.6 562.7,115.0 564.2,114.4 565.7,113.8 567.3,113.3 568.9,112.8 570.5,112.3 572.1,111.8 573.8,111.4 575.5,111.0 577.2,110.7 578.9,110.4 580.6,110.1 582.4,109.9 584.1,109.7 585.8,109.5 587.6,109.4 589.3,109.3 591.0,109.3M544.2,127.3 544.7,126.4 545.3,125.5 546.0,124.6 546.7,123.8 547.5,122.9 548.4,122.1 549.3,121.3 550.3,120.5 551.4,119.7 552.5,118.9 553.7,118.2 555.0,117.4 556.3,116.7 557.6,116.1 559.0,115.4 560.5,114.8 561.9,114.2 563.5,113.6 565.0,113.1 566.6,112.6 568.3,112.1 569.9,111.7 571.6,111.3 573.4,110.9 575.1,110.6 576.8,110.3 578.6,110.0 580.4,109.8 582.1,109.6 583.9,109.5 585.7,109.4 587.5,109.3 589.2,109.3 591.0,109.3M544.3,124.3 545.0,123.5 545.7,122.6 546.6,121.8 547.4,121.0 548.4,120.2 549.4,119.4 550.5,118.6 551.7,117.9 552.9,117.2 554.1,116.5 555.5,115.8 556.8,115.2 558.3,114.5 559.8,114.0 561.3,113.4 562.8,112.9 564.4,112.4 566.1,111.9 567.8,111.5 569.5,111.1 571.2,110.7 572.9,110.4 574.7,110.1 576.5,109.9 578.3,109.7 580.1,109.5 581.9,109.4 583.7,109.3 585.6,109.2 587.4,109.2 589.2,109.2 591.0,109.3M544.1,122.3 544.9,121.5 545.7,120.7 546.6,119.9 547.6,119.1 548.6,118.3 549.7,117.6 550.9,116.9 552.1,116.2 553.4,115.5 554.8,114.9 556.2,114.3 557.6,113.7 559.1,113.1 560.7,112.6 562.3,112.1 563.9,111.7 565.6,111.2 567.3,110.9 569.0,110.5 570.8,110.2 572.6,109.9 574.4,109.7 576.2,109.5 578.0,109.3 579.9,109.2 581.7,109.1 583.6,109.1 585.4,109.1 587.3,109.1 589.1,109.2 591.0,109.3M544.1,120.4 545.0,119.6 545.9,118.8 546.9,118.0 547.9,117.3 549.1,116.5 550.2,115.8 551.5,115.2 552.8,114.5 554.2,113.9 555.6,113.4 557.1,112.8 558.6,112.3 560.2,111.8 561.8,111.4 563.4,110.9 565.1,110.6 566.9,110.2 568.6,109.9 570.4,109.7 572.2,109.4 574.1,109.2 575.9,109.1 577.8,109.0 579.7,108.9 581.6,108.9 583.5,108.9 585.3,108.9 587.2,109.0 589.1,109.1 591.0,109.3M545.3,117.7 546.3,116.9 547.3,116.2 548.5,115.5 549.7,114.8 550.9,114.2 552.3,113.6 553.6,113.0 555.1,112.5 556.6,111.9 558.1,111.5 559.7,111.0 561.4,110.6 563.0,110.2 564.8,109.9 566.5,109.6 568.3,109.3 570.1,109.1 572.0,108.9 573.8,108.8 575.7,108.7 577.6,108.6 579.5,108.6 581.4,108.6 583.3,108.7 585.3,108.8 587.2,108.9 589.1,109.1 591.0,109.3M545.8,115.9 546.9,115.2 548.0,114.5 549.2,113.8 550.5,113.2 551.8,112.6 553.2,112.1 554.7,111.6 556.2,111.1 557.8,110.7 559.4,110.2 561.0,109.9 562.7,109.5 564.5,109.2 566.2,109.0 568.0,108.8 569.9,108.6 571.7,108.4 573.6,108.3 575.5,108.3 577.4,108.3 579.4,108.3 581.3,108.4 583.3,108.5 585.2,108.6 587.1,108.8 589.1,109.0 591.0,109.3M547.6,113.5 548.9,112.9 550.2,112.3 551.5,111.7 552.9,111.2 554.4,110.7 555.9,110.3 557.5,109.9 559.1,109.5 560.8,109.1 562.5,108.8 564.2,108.6 566.0,108.4 567.8,108.2 569.7,108.1 571.6,108.0 573.5,107.9 575.4,107.9 577.3,107.9 579.3,108.0 581.2,108.1 583.2,108.3 585.1,108.5 587.1,108.7 589.0,109.0 591.0,109.3M548.6,111.9 549.9,111.3 551.3,110.8 552.7,110.3 554.2,109.9 555.7,109.4 557.3,109.1 558.9,108.7 560.6,108.4 562.3,108.2 564.1,108.0 565.9,107.8 567.7,107.6 569.6,107.6 571.4,107.5 573.4,107.5 575.3,107.5 577.2,107.6 579.2,107.7 581.2,107.9 583.1,108.1 585.1,108.3 587.1,108.6 589.0,108.9 591.0,109.3M551.1,109.9 552.5,109.5 554.0,109.0 555.6,108.6 557.1,108.3 558.8,108.0 560.5,107.7 562.2,107.5 564.0,107.3 565.8,107.2 567.6,107.1 569.5,107.0 571.4,107.0 573.3,107.1 575.2,107.2 577.2,107.3 579.2,107.4 581.1,107.6 583.1,107.9 585.1,108.2 587.1,108.5 589.0,108.9 591.0,109.3M554.0,108.2 555.5,107.9 557.1,107.6 558.8,107.3 560.4,107.1 562.2,106.9 563.9,106.7 565.8,106.6 567.6,106.6 569.5,106.6 571.4,106.6 573.3,106.7 575.2,106.8 577.2,107.0 579.1,107.2 581.1,107.4 583.1,107.7 585.1,108.0 587.1,108.4 589.0,108.8 591.0,109.3M555.6,107.1 557.2,106.8 558.8,106.6 560.5,106.4 562.2,106.2 564.0,106.1 565.8,106.1 567.6,106.1 569.5,106.1 571.4,106.2 573.3,106.3 575.2,106.4 577.2,106.6 579.2,106.9 581.1,107.2 583.1,107.5 585.1,107.9 587.1,108.3 589.0,108.8 591.0,109.3M559.0,105.9 560.6,105.8 562.3,105.6 564.1,105.6 565.9,105.5 567.7,105.6 569.6,105.6 571.5,105.7 573.4,105.9 575.3,106.1 577.3,106.4 579.2,106.6 581.2,107.0 583.1,107.4 585.1,107.8 587.1,108.3 589.0,108.8 591.0,109.3M560.8,105.1 562.5,105.1 564.3,105.0 566.1,105.0 567.9,105.1 569.7,105.2 571.6,105.3 573.5,105.5 575.4,105.8 577.4,106.1 579.3,106.4 581.2,106.8 583.2,107.2 585.2,107.7 587.1,108.2 589.0,108.7 591.0,109.3M562.8,104.5 564.5,104.5 566.3,104.5 568.1,104.6 569.9,104.8 571.8,104.9 573.7,105.2 575.6,105.5 577.5,105.8 579.4,106.2 581.3,106.6 583.3,107.0 585.2,107.5 587.1,108.1 589.1,108.7 591.0,109.3M564.9,104.0 566.6,104.1 568.4,104.2 570.2,104.4 572.0,104.6 573.9,104.8 575.8,105.2 577.7,105.5 579.6,105.9 581.5,106.4 583.4,106.9 585.3,107.4 587.2,108.0 589.1,108.6 591.0,109.3M567.0,103.6 568.7,103.8 570.5,104.0 572.3,104.2 574.2,104.5 576.0,104.9 577.9,105.3 579.7,105.7 581.6,106.2 583.5,106.7 585.4,107.3 587.3,107.9 589.1,108.6 591.0,109.3M569.1,103.4 570.9,103.6 572.7,103.9 574.5,104.2 576.3,104.6 578.1,105.0 579.9,105.5 581.8,106.0 583.6,106.6 585.5,107.2 587.3,107.9 589.2,108.6 591.0,109.3M571.3,103.3 573.1,103.6 574.8,103.9 576.6,104.3 578.4,104.8 580.2,105.3 582.0,105.9 583.8,106.5 585.6,107.1 587.4,107.8 589.2,108.5 591.0,109.3M573.5,103.3 575.2,103.7 576.9,104.1 578.7,104.6 580.4,105.1 582.2,105.7 584.0,106.3 585.7,107.0 587.5,107.7 589.2,108.5 591.0,109.3M575.6,103.4 577.3,103.9 579.0,104.4 580.7,105.0 582.5,105.6 584.2,106.2 585.9,106.9 587.6,107.7 589.3,108.5 591.0,109.3M576.1,103.2 577.8,103.7 579.4,104.2 581.1,104.8 582.7,105.5 584.4,106.1 586.0,106.9 587.7,107.6 589.3,108.4 591.0,109.3M578.2,103.5 579.8,104.1 581.4,104.7 583.0,105.3 584.6,106.0 586.2,106.8 587.8,107.6 589.4,108.4 591.0,109.3M578.7,103.3 580.2,103.9 581.8,104.6 583.3,105.2 584.9,106.0 586.4,106.7 587.9,107.5 589.5,108.4 591.0,109.3M580.7,103.8 582.2,104.4 583.7,105.1 585.1,105.9 586.6,106.7 588.1,107.5 589.5,108.4 591.0,109.3M581.2,103.7 582.6,104.3 584.0,105.1 585.4,105.8 586.8,106.6 588.2,107.5 589.6,108.4 591.0,109.3M581.7,103.6 583.0,104.3 584.4,105.0 585.7,105.8 587.0,106.6 588.4,107.5 589.7,108.4 591.0,109.3M583.5,104.2 584.8,104.9 586.0,105.7 587.3,106.6 588.5,107.4 589.8,108.3 591.0,109.3M584.0,104.2 585.2,104.9 586.4,105.7 587.5,106.5 588.7,107.4 589.8,108.3 591.0,109.3M584.5,104.1 585.6,104.9 586.7,105.7 587.8,106.5 588.9,107.4 589.9,108.3 591.0,109.3M585.0,104.1 586.0,104.9 587.0,105.7 588.0,106.5 589.0,107.4 590.0,108.3 591.0,109.3M586.5,104.9 587.4,105.7 588.3,106.5 589.2,107.4 590.1,108.3 591.0,109.3M586.9,104.9 587.8,105.7 588.6,106.5 589.4,107.4 590.2,108.3 591.0,109.3M587.4,104.9 588.1,105.7 588.9,106.5 589.6,107.4 590.3,108.3 591.0,109.3M587.9,105.0 588.5,105.7 589.2,106.6 589.8,107.4 590.4,108.3 591.0,109.3M588.4,105.0 588.9,105.8 589.5,106.6 590.0,107.5 590.5,108.4 591.0,109.3M588.9,105.1 589.3,105.8 589.7,106.6 590.2,107.5 590.6,108.4 591.0,109.3M589.4,105.2 589.7,105.9 590.1,106.7 590.4,107.5 590.7,108.4 591.0,109.3M589.9,105.2 590.1,106.0 590.4,106.7 590.6,107.6 590.8,108.4 591.0,109.3M590.4,105.4 590.5,106.1 590.7,106.8 590.8,107.6 590.9,108.4 591.0,109.3M590.9,105.5 590.9,106.2 591.0,106.9 591.0,107.6 591.0,108.5 591.0,109.3M591.4,105.6 591.3,106.3 591.3,107.0 591.2,107.7 591.1,108.5 591.0,109.3M591.9,105.7 591.7,106.4 591.6,107.0 591.4,107.8 591.2,108.5 591.0,109.3M592.4,105.9 592.1,106.5 591.9,107.1 591.6,107.8 591.3,108.5 591.0,109.3M592.9,106.1 592.5,106.6 592.2,107.2 591.8,107.9 591.4,108.6 591.0,109.3M593.4,106.2 592.9,106.8 592.5,107.3 592.0,107.9 591.5,108.6 591.0,109.3M593.9,106.4 593.3,106.9 592.8,107.4 592.2,108.0 591.6,108.6 591.0,109.3M594.3,106.6 593.7,107.1 593.1,107.6 592.4,108.1 591.7,108.7 591.0,109.3M594.8,106.8 594.1,107.2 593.3,107.7 592.6,108.2 591.8,108.7 591.0,109.3M595.3,107.0 594.5,107.4 593.6,107.8 592.8,108.3 591.9,108.8 591.0,109.3M595.7,107.2 594.8,107.6 593.9,107.9 592.9,108.4 592.0,108.8 591.0,109.3M596.1,107.5 595.2,107.7 594.1,108.1 593.1,108.4 592.1,108.9 591.0,109.3M596.6,107.7 595.5,107.9 594.4,108.2 593.3,108.5 592.1,108.9 591.0,109.3M597.0,107.9 595.8,108.1 594.6,108.4 593.4,108.6 592.2,108.9 591.0,109.3M597.3,108.2 596.1,108.3 594.9,108.5 593.6,108.7 592.3,109.0 591.0,109.3M599.0,108.4 597.7,108.4 596.4,108.5 595.1,108.6 593.7,108.8 592.4,109.0 591.0,109.3M599.4,108.7 598.1,108.7 596.7,108.7 595.3,108.8 593.9,108.9 592.4,109.1 591.0,109.3M599.8,109.0 598.4,108.9 596.9,108.9 595.5,109.0 594.0,109.0 592.5,109.1 591.0,109.3M600.1,109.3 598.7,109.2 597.2,109.1 595.7,109.1 594.1,109.1 592.6,109.2 591.0,109.3M600.5,109.6 599.0,109.4 597.4,109.3 595.8,109.3 594.2,109.2 592.6,109.2 591.0,109.3M602.3,110.1 600.8,109.9 599.2,109.7 597.6,109.5 596.0,109.4 594.3,109.3 592.7,109.3 591.0,109.3M602.7,110.5 601.1,110.2 599.5,109.9 597.8,109.7 596.1,109.6 594.4,109.4 592.7,109.4 591.0,109.3M604.6,111.2 603.0,110.8 601.3,110.5 599.7,110.2 598.0,109.9 596.3,109.7 594.5,109.5 592.8,109.4 591.0,109.3M604.9,111.6 603.2,111.2 601.6,110.8 599.9,110.5 598.1,110.1 596.4,109.9 594.6,109.6 592.8,109.5 591.0,109.3M605.1,112.0 603.5,111.5 601.8,111.1 600.0,110.7 598.3,110.4 596.5,110.0 594.7,109.8 592.8,109.5 591.0,109.3M607.0,112.9 605.3,112.4 603.7,111.9 601.9,111.4 600.2,111.0 598.4,110.6 596.6,110.2 594.7,109.9 592.9,109.6 591.0,109.3M608.8,114.0 607.2,113.4 605.5,112.8 603.8,112.2 602.1,111.7 600.3,111.2 598.5,110.8 596.6,110.3 594.8,110.0 592.9,109.6 591.0,109.3M609.0,114.5 607.3,113.8 605.7,113.2 603.9,112.6 602.2,112.0 600.4,111.5 598.6,110.9 596.7,110.5 594.8,110.1 592.9,109.7 591.0,109.3M610.7,115.7 609.1,114.9 607.5,114.2 605.8,113.5 604.0,112.9 602.3,112.3 600.4,111.7 598.6,111.1 596.7,110.6 594.8,110.1 592.9,109.7 591.0,109.3M612.3,117.0 610.8,116.2 609.2,115.4 607.5,114.6 605.8,113.9 604.1,113.2 602.3,112.6 600.5,111.9 598.6,111.3 596.8,110.8 594.8,110.2 592.9,109.8 591.0,109.3M613.8,118.4 612.3,117.5 610.8,116.7 609.2,115.8 607.5,115.0 605.8,114.3 604.1,113.5 602.3,112.8 600.5,112.2 598.6,111.5 596.8,110.9 594.9,110.3 592.9,109.8 591.0,109.3M615.2,119.9 613.8,118.9 612.3,118.0 610.8,117.1 609.1,116.3 607.5,115.4 605.8,114.6 604.1,113.8 602.3,113.1 600.5,112.4 598.6,111.7 596.7,111.0 594.8,110.4 592.9,109.8 591.0,109.3" fill="none" stroke="#ff3300" stroke-width="0.35" stroke-opacity="0.65"/>
<path d="M622.0,151.5 621.2,152.1M627.0,145.0 626.5,145.7M627.8,142.8 627.5,143.6M628.4,140.5 628.2,141.3M628.6,139.7 628.4,140.5M628.8,137.3 628.7,138.2 628.5,139.0M628.6,134.0 628.6,134.9 628.6,135.8 628.6,136.6M628.1,131.6 628.2,132.5 628.3,133.3 628.3,134.2M627.0,128.3 627.3,129.2 627.5,130.1 627.7,130.9M552.4,103.1 553.4,102.7M625.4,125.1 625.8,126.0 626.2,126.9 626.5,127.7 626.7,128.5M556.0,101.7 557.1,101.4M623.4,122.0 623.9,122.9 624.4,123.7 624.9,124.5 625.2,125.4M559.8,100.6 560.9,100.4M621.0,119.1 621.7,119.9 622.3,120.7 622.8,121.5 623.3,122.3 623.7,123.1M563.8,99.9 564.9,99.7 566.1,99.5M617.5,115.5 618.3,116.3 619.0,117.1 619.8,117.9 620.4,118.6 621.0,119.4 621.5,120.2M567.8,99.4 568.9,99.3 570.1,99.2 571.3,99.2 572.6,99.2M612.6,111.6 613.6,112.3 614.5,113.1 615.4,113.8 616.2,114.5 617.0,115.3 617.7,116.0 618.4,116.7 619.0,117.5M572.8,99.3 574.0,99.2 575.2,99.3 576.4,99.3 577.7,99.4 579.0,99.5 580.3,99.6M606.2,107.7 607.3,108.3 608.4,108.9 609.4,109.6 610.4,110.2 611.4,110.9 612.3,111.6 613.2,112.2 614.0,112.9 614.8,113.6 615.5,114.3M577.7,99.5 578.9,99.6 580.1,99.7 581.3,99.8 582.5,100.0 583.7,100.1 584.9,100.3 586.2,100.6 587.4,100.8 588.7,101.1 589.9,101.4 591.2,101.7 592.4,102.1 593.7,102.5 594.9,102.9 596.2,103.3 597.4,103.7 598.6,104.2 599.7,104.6 600.9,105.1 602.0,105.7 603.1,106.2 604.2,106.7 605.3,107.3 606.3,107.9 607.3,108.4 608.3,109.0 609.2,109.6 610.1,110.2 610.9,110.9M585.6,100.6 586.8,100.8 587.9,101.1 589.1,101.3 590.2,101.6 591.4,101.9 592.5,102.2 593.6,102.6 594.8,102.9 595.9,103.3 597.0,103.7 598.1,104.1 599.2,104.6 600.2,105.0 601.3,105.5 602.3,106.0 603.3,106.5 604.2,107.0" fill="none" stroke="#000" stroke-width="0.3" stroke-opacity="0.30"/><path d="M585.2,159.7 583.9,159.5 582.6,159.3 581.2,159.1 579.9,158.8 578.5,158.5 577.2,158.2 575.8,157.8 574.4,157.4 573.1,157.0 571.8,156.6 570.4,156.1 569.1,155.7 567.8,155.2 566.6,154.7 565.3,154.1 564.1,153.6 562.9,153.0 561.7,152.4M592.9,160.3 591.6,160.3 590.3,160.2 588.9,160.1 587.5,159.9 586.1,159.8 584.7,159.6 583.3,159.3 581.8,159.1 580.4,158.8 578.9,158.5 577.5,158.1 576.0,157.7 574.6,157.3 573.1,156.9 571.7,156.4 570.3,155.9 568.9,155.4 567.5,154.9 566.2,154.3 564.8,153.8 563.5,153.2 562.2,152.6 561.0,151.9 559.7,151.3 558.6,150.6 557.4,150.0 556.3,149.3 555.2,148.6M599.5,160.1 598.2,160.2 596.9,160.2 595.6,160.3 594.2,160.2 592.8,160.2 591.4,160.1 589.9,160.0 588.5,159.8 587.0,159.7 585.5,159.4 584.0,159.2M563.0,152.7 561.7,152.0 560.3,151.4 559.0,150.7 557.8,150.0 556.6,149.3 555.4,148.5 554.3,147.8 553.2,147.0 552.1,146.3 551.1,145.5 550.2,144.8M604.7,159.4 603.5,159.6 602.3,159.7 601.0,159.9 599.7,160.0 598.3,160.0 596.9,160.0 595.4,160.0 594.0,160.0M554.6,147.7 553.4,146.9 552.3,146.1 551.2,145.3 550.1,144.5 549.2,143.7 548.2,142.9 547.4,142.1 546.6,141.3M608.6,158.5 607.5,158.7 606.3,159.0 605.1,159.2 603.8,159.4 602.4,159.5 601.0,159.6M549.3,143.5 548.3,142.6 547.3,141.8 546.4,140.9 545.6,140.1 544.8,139.2 544.1,138.3M612.4,157.2 611.3,157.6 610.2,157.9 609.0,158.2 607.8,158.4 606.5,158.6M546.5,140.6 545.6,139.7 544.7,138.8 543.9,137.9 543.2,137.0 542.5,136.1 541.9,135.2M615.9,155.6 615.0,156.1 613.9,156.5 612.8,156.9 611.7,157.2 610.4,157.5M543.3,136.6 542.5,135.7 541.8,134.7 541.2,133.8 540.7,132.9 540.2,132.0M619.2,153.7 618.3,154.3 617.4,154.8 616.4,155.2 615.3,155.6 614.1,156.0M541.3,133.3 540.7,132.4 540.2,131.5 539.7,130.6 539.3,129.7 539.0,128.8M621.2,152.1 620.4,152.7 619.6,153.3 618.6,153.8 617.6,154.2M539.8,130.0 539.4,129.1 538.9,128.1 538.6,127.2 538.4,126.3M623.8,149.7 623.1,150.4 622.4,151.0 621.5,151.6 620.6,152.1M539.2,127.6 538.8,126.7 538.5,125.7 538.3,124.8 538.1,123.9 538.0,123.0M625.3,147.8 624.7,148.5 624.0,149.2 623.3,149.8 622.4,150.4M538.6,124.2 538.3,123.3 538.2,122.4 538.1,121.5 538.1,120.7M626.5,145.7 626.0,146.5 625.4,147.2 624.8,147.8M538.5,120.9 538.4,120.1 538.4,119.2 538.5,118.3 538.7,117.5M627.5,143.6 627.1,144.3 626.6,145.0 626.0,145.7M538.9,118.6 539.0,117.8 539.0,116.9 539.2,116.1 539.5,115.3M628.2,141.3 627.8,142.1 627.4,142.8M539.7,116.4 539.8,115.5 540.0,114.7 540.2,113.9 540.6,113.1 541.0,112.4M628.5,139.0 628.2,139.8 627.9,140.5M540.9,113.4 541.2,112.6 541.5,111.9 541.9,111.1 542.5,110.4M628.4,137.4 628.1,138.2M542.3,111.4 542.7,110.7 543.1,110.0 543.6,109.3 544.2,108.6M628.6,136.6 628.4,137.4M544.4,108.9 544.9,108.2 545.5,107.5 546.1,106.9 546.9,106.3M628.3,134.2 628.2,135.0M546.5,107.2 547.0,106.6 547.6,106.0 548.3,105.4 549.1,104.9 549.9,104.4M627.7,130.9 627.7,131.7 627.7,132.6M549.3,105.2 550.0,104.6 550.7,104.1 551.5,103.6 552.4,103.1M626.7,128.5 626.9,129.3M551.8,104.0 552.5,103.4 553.3,103.0 554.1,102.5 555.0,102.1 556.0,101.7M625.2,125.4 625.5,126.2M555.2,102.5 556.0,102.0 556.9,101.6 557.8,101.3 558.8,100.9 559.8,100.6M623.7,123.1 624.1,123.9M558.8,101.3 559.7,101.0 560.7,100.6 561.6,100.3 562.7,100.1 563.8,99.9M563.6,100.2 564.5,100.0 565.6,99.8 566.6,99.6 567.8,99.4M568.4,99.6 569.5,99.5 570.6,99.4 571.7,99.3 572.8,99.3M573.3,99.5 574.4,99.5 575.5,99.5 576.6,99.5 577.7,99.5M610.9,110.9 611.7,111.5M581.2,100.0 582.3,100.1 583.4,100.3 584.5,100.4 585.6,100.6M604.2,107.0 605.2,107.5" fill="none" stroke="#ff3300" stroke-width="0.3" stroke-opacity="0.30"/><path d="M584.0,159.2 582.4,158.9 580.9,158.6 579.4,158.3 577.8,157.9 576.3,157.5 574.8,157.1 573.2,156.6 571.7,156.1 570.2,155.6 568.7,155.1 567.3,154.5 565.8,153.9 564.4,153.3 563.0,152.7M594.0,160.0 592.5,159.9 591.0,159.8 589.4,159.6 587.8,159.4 586.3,159.2 584.7,158.9 583.1,158.6 581.4,158.3 579.8,157.9 578.2,157.5 576.6,157.1 575.0,156.7 573.4,156.2 571.8,155.7 570.2,155.1 568.6,154.6 567.1,154.0 565.6,153.4 564.1,152.7 562.6,152.1 561.2,151.4 559.8,150.7 558.4,150.0 557.1,149.2 555.8,148.5 554.6,147.7M601.0,159.6 599.6,159.6 598.1,159.7 596.6,159.7 595.1,159.6 593.5,159.5 591.9,159.4 590.3,159.2 588.7,159.0 587.0,158.8 585.4,158.5 583.7,158.2 582.0,157.9M565.4,152.7 563.9,152.0 562.3,151.3 560.8,150.6 559.4,149.9 558.0,149.1 556.6,148.4 555.2,147.6 553.9,146.8 552.7,146.0 551.5,145.1 550.4,144.3 549.3,143.5M606.5,158.6 605.1,158.8 603.7,159.0 602.3,159.1 600.8,159.1 599.3,159.2 597.7,159.1 596.1,159.1 594.5,159.0 592.9,158.9M556.2,147.4 554.8,146.6 553.4,145.8 552.2,144.9 550.9,144.1 549.7,143.2 548.6,142.3 547.6,141.5 546.5,140.6M610.4,157.5 609.1,157.8 607.8,158.0 606.4,158.2 605.0,158.3 603.5,158.4 601.9,158.5 600.4,158.5M550.5,142.9 549.3,142.1 548.1,141.2 547.0,140.2 546.0,139.3 545.0,138.4 544.1,137.5 543.3,136.6M614.1,156.0 612.9,156.4 611.7,156.7 610.4,156.9 609.0,157.2 607.6,157.4 606.1,157.5M546.6,139.0 545.6,138.0 544.6,137.1 543.7,136.2 542.8,135.2 542.0,134.3 541.3,133.3M617.6,154.2 616.5,154.7 615.3,155.0 614.1,155.4 612.8,155.7 611.5,156.0 610.1,156.2M544.4,135.7 543.4,134.8 542.6,133.8 541.8,132.9 541.0,131.9 540.4,131.0 539.8,130.0M620.6,152.1 619.7,152.6 618.6,153.1 617.5,153.6 616.3,154.0 615.1,154.3 613.8,154.6M542.5,132.4 541.7,131.4 541.0,130.5 540.3,129.5 539.7,128.5 539.2,127.6M622.4,150.4 621.5,150.9 620.6,151.4 619.5,151.9 618.4,152.3 617.2,152.7M541.1,129.0 540.4,128.1 539.8,127.1 539.3,126.1 538.9,125.2 538.6,124.2M624.8,147.8 624.0,148.4 623.2,149.0 622.3,149.6 621.3,150.1 620.2,150.6M540.2,125.6 539.7,124.7 539.2,123.7 538.9,122.8 538.7,121.9 538.5,120.9M626.0,145.7 625.3,146.4 624.5,147.0 623.7,147.6 622.8,148.2 621.8,148.7M540.2,123.2 539.8,122.3 539.4,121.4 539.2,120.4 539.0,119.5 538.9,118.6M627.4,142.8 626.9,143.5 626.3,144.2 625.6,144.9 624.9,145.5 624.0,146.1M540.2,120.0 539.9,119.0 539.8,118.1 539.7,117.3 539.7,116.4M627.9,140.5 627.5,141.3 627.0,142.0 626.4,142.6 625.7,143.3 625.0,143.9M540.9,117.7 540.7,116.8 540.7,115.9 540.7,115.1 540.8,114.2 540.9,113.4M628.1,138.2 627.8,138.9 627.4,139.6 626.9,140.3 626.3,141.0M541.9,115.6 541.8,114.7 541.8,113.9 541.9,113.0 542.1,112.2 542.3,111.4M628.0,135.8 627.8,136.5 627.5,137.3 627.0,138.0 626.6,138.7M543.2,112.7 543.3,111.9 543.5,111.1 543.7,110.3 544.0,109.6 544.4,108.9M628.2,135.0 628.0,135.8M627.5,134.1 627.2,134.9 626.9,135.6 626.5,136.3M544.8,110.8 545.0,110.1 545.3,109.3 545.6,108.6 546.0,107.9 546.5,107.2M627.7,132.6 627.6,133.3 627.5,134.1M626.7,132.4 626.5,133.2M547.0,108.4 547.3,107.7 547.7,107.0 548.2,106.4 548.7,105.8 549.3,105.2M626.9,129.3 626.9,130.1 626.9,130.9 626.8,131.7 626.7,132.4M549.2,106.9 549.6,106.3 550.0,105.7 550.5,105.1 551.1,104.5 551.8,104.0M625.5,126.2 625.7,127.0 625.9,127.8 625.9,128.5 625.9,129.3 625.9,130.0 625.7,130.8M552.1,105.0 552.6,104.5 553.1,103.9 553.7,103.4 554.4,102.9 555.2,102.5M624.1,123.9 624.3,124.7 624.5,125.5 624.7,126.2 624.7,127.0 624.7,127.7M554.7,104.0 555.3,103.5 555.8,103.0 556.5,102.5 557.2,102.1 558.0,101.7 558.8,101.3M621.5,120.2 622.0,121.0 622.4,121.7 622.7,122.5 622.9,123.2 623.1,124.0 623.3,124.7 623.3,125.4M558.1,102.7 558.7,102.3 559.4,101.9 560.1,101.5 560.9,101.1 561.7,100.8 562.6,100.5 563.6,100.2M619.0,117.5 619.5,118.2 620.0,118.9 620.4,119.7 620.8,120.4 621.1,121.1 621.4,121.8 621.5,122.5M561.7,101.8 562.3,101.4 563.1,101.1 563.9,100.8 564.7,100.5 565.6,100.2 566.5,100.0 567.4,99.8 568.4,99.6M615.5,114.3 616.2,115.0 616.8,115.7 617.4,116.4 617.9,117.0 618.3,117.7 618.7,118.4 619.1,119.1 619.4,119.7M565.4,101.1 566.1,100.9 566.8,100.6 567.7,100.4 568.5,100.2 569.4,100.0 570.3,99.8 571.3,99.7 572.3,99.6 573.3,99.5M611.7,111.5 612.5,112.1 613.2,112.8 613.9,113.4 614.5,114.0 615.1,114.7 615.6,115.3 616.1,115.9 616.5,116.6 616.9,117.2M569.8,100.7 570.6,100.5 571.4,100.3 572.3,100.2 573.1,100.1 574.1,100.0 575.0,99.9 576.0,99.9 577.0,99.8 578.0,99.9 579.0,99.9 580.1,99.9 581.2,100.0M605.2,107.5 606.1,108.0 607.0,108.6 607.8,109.1 608.6,109.7 609.4,110.3 610.1,110.8 610.8,111.4 611.5,112.0 612.1,112.6 612.6,113.2 613.2,113.7 613.6,114.3M575.1,100.6 575.9,100.5 576.7,100.4 577.6,100.4 578.5,100.4 579.4,100.4 580.4,100.4 581.3,100.5 582.3,100.5 583.3,100.6 584.3,100.8 585.3,100.9 586.3,101.1 587.3,101.3 588.4,101.5 589.4,101.7 590.4,101.9 591.5,102.2 592.5,102.5 593.5,102.8 594.5,103.1 595.6,103.5 596.6,103.9 597.5,104.2 598.5,104.6 599.5,105.0 600.4,105.5 601.3,105.9 602.2,106.3 603.1,106.8 603.9,107.3 604.7,107.8 605.5,108.2 606.3,108.7 607.0,109.2 607.7,109.8 608.4,110.3 609.0,110.8 609.6,111.3M580.9,101.0 581.7,101.1 582.6,101.1 583.4,101.2 584.3,101.3 585.2,101.4 586.1,101.5 587.0,101.6 587.9,101.8 588.8,102.0 589.7,102.2 590.6,102.4 591.5,102.7 592.5,102.9 593.4,103.2 594.3,103.5 595.2,103.8 596.0,104.1 596.9,104.5 597.8,104.8 598.6,105.2 599.5,105.5 600.3,105.9 601.1,106.3 601.8,106.7 602.6,107.1 603.3,107.6 604.0,108.0 604.7,108.4" fill="none" stroke="#ff3300" stroke-width="0.3" stroke-opacity="0.35"/><path d="M582.0,157.9 580.3,157.5 578.6,157.1 576.9,156.6 575.2,156.2 573.6,155.6 571.9,155.1 570.3,154.5 568.6,154.0 567.0,153.3 565.4,152.7M592.9,158.9 591.2,158.7 589.5,158.5 587.8,158.2 586.0,157.9 584.3,157.6 582.6,157.3 580.8,156.9 579.0,156.5 577.3,156.0 575.5,155.5 573.8,155.0 572.1,154.4 570.4,153.8 568.7,153.2 567.0,152.6 565.4,151.9 563.7,151.2 562.2,150.5 560.6,149.8 559.1,149.0 557.6,148.2 556.2,147.4M600.4,158.5 598.8,158.5 597.1,158.4 595.5,158.3 593.7,158.2 592.0,158.0 590.3,157.8 588.5,157.5 586.7,157.3 584.9,156.9 583.1,156.6 581.3,156.2 579.5,155.7 577.7,155.2 575.9,154.7 574.1,154.2 572.3,153.6 570.5,153.0 568.8,152.4 567.1,151.7 565.4,151.0 563.7,150.3 562.1,149.6 560.5,148.8 558.9,148.0 557.4,147.2 555.9,146.4 554.5,145.6 553.1,144.7 551.8,143.8 550.5,142.9M606.1,157.5 604.6,157.6 603.0,157.7 601.4,157.7 599.7,157.7 598.0,157.6 596.3,157.5 594.6,157.4 592.8,157.2 591.0,157.0 589.2,156.7 587.4,156.4 585.5,156.1 583.7,155.7 581.8,155.3 580.0,154.8M569.0,151.4 567.2,150.7 565.5,150.0 563.8,149.3 562.1,148.5 560.4,147.8 558.8,147.0 557.3,146.1 555.8,145.3 554.3,144.4 552.9,143.5 551.5,142.7 550.2,141.8 549.0,140.8 547.8,139.9 546.6,139.0M610.1,156.2 608.6,156.4 607.1,156.6 605.6,156.7 604.0,156.7 602.3,156.8 600.6,156.7 598.9,156.7 597.1,156.6 595.4,156.4 593.6,156.3M557.3,145.0 555.8,144.1 554.3,143.2 552.8,142.3 551.4,141.4 550.1,140.5 548.8,139.6 547.6,138.6 546.5,137.7 545.4,136.7 544.4,135.7M613.8,154.6 612.4,154.9 611.0,155.1 609.5,155.3 608.0,155.5 606.4,155.6 604.8,155.7 603.1,155.7 601.4,155.7 599.7,155.6M552.9,141.0 551.5,140.1 550.1,139.2 548.8,138.2 547.6,137.3 546.4,136.3 545.3,135.3 544.3,134.4 543.4,133.4 542.5,132.4M617.2,152.7 616.0,153.1 614.6,153.4 613.3,153.7 611.8,153.9 610.3,154.1 608.8,154.3 607.2,154.4 605.6,154.5M549.0,136.9 547.8,135.9 546.6,134.9 545.5,134.0 544.5,133.0 543.5,132.0 542.6,131.0 541.8,130.0 541.1,129.0M620.2,150.6 619.1,151.0 617.9,151.4 616.6,151.8 615.3,152.1 613.9,152.4 612.5,152.6 611.0,152.8 609.4,153.0M547.0,133.5 545.9,132.5 544.8,131.5 543.8,130.6 543.0,129.6 542.1,128.6 541.4,127.6 540.7,126.6 540.2,125.6M621.8,148.7 620.8,149.2 619.6,149.6 618.4,150.0 617.2,150.4 615.9,150.7 614.5,151.0 613.0,151.2M545.3,130.1 544.4,129.1 543.5,128.1 542.7,127.1 541.9,126.2 541.3,125.2 540.7,124.2 540.2,123.2M624.0,146.1 623.1,146.6 622.2,147.2 621.1,147.6 620.0,148.1 618.8,148.5 617.5,148.8 616.2,149.2M544.2,126.7 543.4,125.7 542.7,124.8 542.0,123.8 541.4,122.8 540.9,121.8 540.5,120.9 540.2,120.0M625.0,143.9 624.2,144.5 623.3,145.0 622.3,145.5 621.3,146.0 620.2,146.5 619.0,146.9M544.3,124.3 543.6,123.4 542.9,122.4 542.4,121.4 541.9,120.5 541.5,119.6 541.1,118.6 540.9,117.7M626.3,141.0 625.6,141.6 624.9,142.3 624.1,142.8 623.2,143.4 622.3,143.9 621.2,144.3 620.2,144.8M544.1,121.1 543.5,120.1 543.0,119.2 542.6,118.3 542.3,117.3 542.1,116.4 541.9,115.6M626.6,138.7 626.0,139.3 625.3,139.9 624.6,140.5 623.8,141.1 623.0,141.6 622.0,142.1 621.0,142.6M544.8,118.8 544.4,117.9 544.0,117.0 543.7,116.1 543.4,115.2 543.3,114.4 543.2,113.5 543.2,112.7M626.5,136.3 626.0,136.9 625.5,137.6 624.9,138.2 624.2,138.8 623.4,139.3 622.5,139.8M545.9,116.7 545.5,115.8 545.2,115.0 545.0,114.1 544.8,113.3 544.8,112.4 544.8,111.6 544.8,110.8M626.5,133.2 626.1,133.9 625.8,134.5 625.3,135.2 624.8,135.8 624.2,136.4 623.5,136.9 622.7,137.5M546.9,113.9 546.7,113.0 546.6,112.2 546.5,111.4 546.5,110.6 546.6,109.9 546.8,109.1 547.0,108.4M625.7,130.8 625.5,131.5 625.2,132.1 624.8,132.8 624.4,133.4 623.8,134.0 623.3,134.6 622.6,135.1M548.7,112.1 548.5,111.3 548.4,110.5 548.4,109.8 548.5,109.0 548.7,108.3 548.9,107.6 549.2,106.9M624.5,129.1 624.3,129.7 624.0,130.4 623.6,131.0 623.2,131.6 622.7,132.2 622.2,132.7M550.6,110.4 550.5,109.7 550.6,109.0 550.6,108.3 550.8,107.6 551.0,106.9 551.3,106.3 551.6,105.6 552.1,105.0M624.7,127.7 624.6,128.4 624.5,129.1M623.1,127.4 622.9,128.0 622.6,128.6 622.3,129.2 621.9,129.8M552.8,109.0 552.8,108.3 552.9,107.6 553.0,106.9 553.2,106.3 553.5,105.7 553.8,105.1 554.3,104.5 554.7,104.0M623.3,125.4 623.3,126.1 623.2,126.7 623.1,127.4M621.5,125.7 621.3,126.3 621.1,126.9 620.7,127.4M555.3,107.0 555.4,106.4 555.6,105.8 555.9,105.3 556.2,104.7 556.6,104.2 557.0,103.7 557.5,103.2 558.1,102.7M621.5,122.5 621.7,123.1 621.7,123.8 621.7,124.5 621.6,125.1 621.5,125.7M619.7,124.0 619.6,124.6 619.3,125.1M558.0,106.0 558.1,105.5 558.4,104.9 558.7,104.4 559.0,103.9 559.5,103.4 559.9,103.0 560.4,102.5 561.0,102.1 561.7,101.8M619.4,119.7 619.6,120.4 619.8,121.0 619.9,121.7 619.9,122.3 619.9,122.9 619.9,123.5 619.7,124.0M560.8,105.2 561.0,104.7 561.3,104.3 561.6,103.8 562.0,103.4 562.4,102.9 562.9,102.5 563.5,102.1 564.0,101.8 564.7,101.5 565.4,101.1M616.9,117.2 617.2,117.8 617.4,118.4 617.7,119.0 617.8,119.6 617.9,120.2 618.0,120.8 618.0,121.3 617.9,121.9 617.8,122.4M564.0,104.2 564.3,103.8 564.7,103.4 565.1,103.0 565.5,102.6 566.0,102.3 566.5,102.0 567.1,101.7 567.7,101.4 568.4,101.1 569.1,100.9 569.8,100.7M613.6,114.3 614.1,114.9 614.5,115.5 614.8,116.0 615.1,116.6 615.4,117.2 615.5,117.7 615.7,118.3 615.8,118.8 615.8,119.3 615.8,119.8 615.8,120.3M567.4,103.6 567.8,103.2 568.2,102.9 568.6,102.6 569.1,102.3 569.6,102.0 570.2,101.7 570.8,101.5 571.4,101.3 572.1,101.1 572.8,100.9 573.5,100.8 574.3,100.7 575.1,100.6M609.6,111.3 610.1,111.8 610.7,112.4 611.1,112.9 611.6,113.4 612.0,113.9 612.3,114.5 612.6,115.0 612.9,115.5 613.1,116.0 613.3,116.5 613.4,117.0 613.5,117.5 613.5,117.9M570.9,103.3 571.3,103.0 571.7,102.7 572.2,102.5 572.7,102.2 573.2,102.0 573.8,101.9 574.4,101.7 575.0,101.5 575.6,101.4 576.3,101.3 577.0,101.2 577.7,101.1 578.5,101.1 579.3,101.0 580.1,101.0 580.9,101.0M604.7,108.4 605.3,108.9 605.9,109.3 606.5,109.8 607.1,110.3 607.6,110.7 608.1,111.2 608.6,111.7 609.0,112.1 609.4,112.6 609.7,113.0 610.0,113.5 610.3,114.0 610.5,114.4 610.7,114.9 610.9,115.3 611.0,115.7M574.4,103.3 574.8,103.1 575.2,102.9 575.7,102.7 576.2,102.5 576.7,102.4 577.2,102.3 577.8,102.1 578.4,102.0 579.0,102.0 579.6,101.9 580.3,101.9 580.9,101.8 581.6,101.8 582.3,101.8 583.1,101.9 583.8,101.9 584.5,102.0 585.3,102.0 586.1,102.1 586.8,102.2 587.6,102.4 588.4,102.5 589.2,102.7 590.0,102.8 590.8,103.0 591.6,103.2 592.4,103.5 593.2,103.7 593.9,104.0 594.7,104.2 595.5,104.5 596.2,104.8 597.0,105.1 597.7,105.4 598.4,105.7 599.1,106.1 599.8,106.4 600.5,106.8 601.1,107.1 601.8,107.5 602.4,107.9 603.0,108.3 603.5,108.6 604.1,109.0 604.6,109.4 605.0,109.8 605.5,110.2 605.9,110.6 606.3,111.0 606.7,111.4 607.0,111.8 607.3,112.2 607.6,112.6 607.8,113.0 608.0,113.4 608.2,113.8M578.6,103.4 579.1,103.2 579.5,103.1 580.0,103.0 580.5,102.9 581.0,102.9 581.5,102.8 582.1,102.8 582.6,102.8 583.2,102.8 583.8,102.8 584.4,102.8 585.0,102.8 585.7,102.9 586.3,102.9 586.9,103.0 587.6,103.1 588.3,103.2 588.9,103.3 589.6,103.5 590.2,103.6 590.9,103.8 591.6,104.0 592.2,104.1 592.9,104.3 593.6,104.6 594.2,104.8 594.9,105.0 595.5,105.3 596.1,105.5 596.7,105.8 597.3,106.0 597.9,106.3 598.5,106.6 599.1,106.9 599.6,107.2 600.1,107.5 600.7,107.8 601.2,108.2 601.6,108.5 602.1,108.8 602.5,109.2 602.9,109.5 603.3,109.8 603.6,110.2 604.0,110.5 604.3,110.8 604.6,111.2 604.8,111.5M583.0,103.9 583.4,103.9 583.9,103.9 584.3,103.8 584.8,103.8 585.3,103.8 585.8,103.8 586.3,103.9 586.8,103.9 587.3,104.0 587.8,104.0 588.3,104.1 588.9,104.2 589.4,104.3 589.9,104.4 590.5,104.5 591.0,104.7 591.5,104.8 592.1,104.9 592.6,105.1 593.1,105.3 593.7,105.5 594.2,105.6 594.7,105.8 595.2,106.0 595.7,106.3 596.2,106.5 596.7,106.7 597.1,106.9 597.6,107.2 598.0,107.4 598.4,107.7 598.9,107.9 599.3,108.2 599.6,108.4 600.0,108.7 600.3,109.0 600.7,109.3 601.0,109.5M589.8,105.4 590.2,105.5 590.6,105.5 591.1,105.6 591.5,105.8 591.9,105.9 592.3,106.0 592.7,106.1 593.1,106.3 593.5,106.4 593.8,106.5 594.2,106.7 594.6,106.9" fill="none" stroke="#ff3300" stroke-width="0.3" stroke-opacity="0.35"/><path d="M580.0,154.8 578.1,154.4 576.3,153.8 574.4,153.3 572.6,152.7 570.8,152.1 569.0,151.4M593.6,156.3 591.7,156.0 589.9,155.8 588.0,155.5 586.1,155.1 584.2,154.7 582.3,154.3 580.5,153.8 578.6,153.4 576.7,152.8 574.8,152.3 572.9,151.7 571.1,151.0 569.3,150.4 567.5,149.7 565.7,148.9 563.9,148.2 562.2,147.4 560.5,146.6 558.9,145.8 557.3,145.0M599.7,155.6 597.9,155.5 596.1,155.4 594.3,155.2 592.4,155.0 590.5,154.7 588.6,154.4 586.7,154.0 584.8,153.6 582.9,153.2 581.0,152.7 579.0,152.2 577.1,151.7 575.2,151.1 573.3,150.5 571.4,149.9 569.6,149.2 567.8,148.5 566.0,147.8 564.2,147.0 562.4,146.2 560.7,145.4 559.1,144.6 557.5,143.7 555.9,142.8 554.4,142.0 552.9,141.0M605.6,154.5 603.9,154.5 602.1,154.5 600.4,154.4 598.6,154.3 596.8,154.2 594.9,154.0 593.0,153.8 591.1,153.5 589.2,153.2 587.3,152.8 585.4,152.4 583.4,152.0 581.5,151.5 579.5,151.0 577.6,150.5 575.7,149.9 573.8,149.3 571.9,148.6 570.0,147.9 568.1,147.2 566.3,146.5 564.5,145.7 562.8,144.9 561.1,144.1 559.4,143.3 557.7,142.4 556.2,141.5 554.6,140.6 553.1,139.7 551.7,138.8 550.3,137.8 549.0,136.9M609.4,153.0 607.8,153.1 606.2,153.2 604.5,153.2 602.8,153.2 601.0,153.1 599.2,153.0 597.4,152.9 595.5,152.7 593.6,152.4 591.7,152.2 589.8,151.8 587.8,151.5 585.9,151.1 583.9,150.7 582.0,150.2 580.0,149.7 578.1,149.1 576.2,148.5 574.2,147.9 572.3,147.3 570.5,146.6 568.6,145.9 566.8,145.1 565.0,144.4 563.2,143.6 561.5,142.8 559.8,141.9 558.1,141.0 556.6,140.2 555.0,139.2 553.5,138.3 552.1,137.4 550.7,136.4 549.4,135.5 548.2,134.5 547.0,133.5M613.0,151.2 611.5,151.4 610.0,151.6 608.4,151.7 606.7,151.7 605.0,151.8 603.3,151.7 601.5,151.7 599.7,151.6 597.9,151.4 596.0,151.2 594.1,151.0 592.2,150.7 590.3,150.4 588.4,150.1 586.4,149.7 584.5,149.2 582.5,148.8 580.6,148.3 578.6,147.7 576.7,147.1 574.8,146.5 572.9,145.9 571.0,145.2 569.1,144.5 567.3,143.7 565.5,142.9 563.7,142.1 562.0,141.3 560.3,140.5 558.7,139.6 557.1,138.7 555.5,137.8 554.1,136.9 552.6,136.0 551.2,135.0 549.9,134.0 548.7,133.1 547.5,132.1 546.4,131.1 545.3,130.1M616.2,149.2 614.8,149.4 613.4,149.7 611.9,149.9 610.4,150.0 608.8,150.1 607.1,150.2 605.5,150.2 603.7,150.2 602.0,150.1 600.2,150.0 598.3,149.9 596.5,149.7 594.6,149.5 592.7,149.2 590.8,148.9 588.9,148.5 586.9,148.1 585.0,147.7 583.1,147.2 581.1,146.7 579.2,146.2 577.3,145.6 575.3,145.0 573.5,144.3 571.6,143.7 569.7,143.0 567.9,142.2 566.1,141.5 564.4,140.7 562.6,139.8 561.0,139.0 559.3,138.1 557.7,137.3 556.2,136.4 554.7,135.4 553.3,134.5 551.9,133.6 550.6,132.6 549.4,131.6 548.2,130.7 547.1,129.7 546.1,128.7 545.1,127.7 544.2,126.7M619.0,146.9 617.7,147.2 616.4,147.5 615.1,147.8 613.6,148.0 612.2,148.2 610.6,148.4 609.1,148.5 607.4,148.6 605.8,148.6 604.1,148.6 602.3,148.5 600.5,148.4 598.7,148.3 596.9,148.1 595.0,147.9 593.2,147.6 591.3,147.3 589.3,146.9 587.4,146.5 585.5,146.1 583.6,145.6 581.7,145.1 579.8,144.6 577.8,144.0 576.0,143.4 574.1,142.8 572.2,142.1 570.4,141.4 568.6,140.7 566.8,139.9 565.1,139.1 563.4,138.3 561.7,137.5 560.1,136.6 558.5,135.7 557.0,134.9 555.5,133.9 554.1,133.0 552.8,132.1 551.5,131.1 550.2,130.2 549.1,129.2 548.0,128.2 547.0,127.3 546.0,126.3 545.1,125.3 544.3,124.3M620.2,144.8 619.0,145.2 617.8,145.5 616.5,145.8 615.1,146.1 613.7,146.3 612.3,146.5 610.8,146.7 609.2,146.8 607.6,146.8 606.0,146.9 604.3,146.8 602.6,146.8 600.8,146.7 599.0,146.5 597.2,146.4 595.4,146.1 593.5,145.9 591.7,145.6 589.8,145.2 587.9,144.8 586.0,144.4 584.1,144.0 582.2,143.5 580.3,142.9 578.5,142.4 576.6,141.8 574.8,141.1 572.9,140.5 571.1,139.8 569.3,139.1 567.6,138.3 565.9,137.5 564.2,136.7 562.6,135.9 561.0,135.1 559.4,134.2 557.9,133.3 556.5,132.4 555.1,131.5 553.8,130.6 552.5,129.7 551.3,128.7 550.1,127.8 549.0,126.8 548.0,125.9 547.1,124.9 546.2,123.9 545.4,123.0 544.7,122.0 544.1,121.1M621.0,142.6 620.0,143.0 618.8,143.4 617.6,143.7 616.4,144.0 615.1,144.3 613.7,144.5 612.3,144.7 610.8,144.9 609.3,145.0 607.7,145.0 606.1,145.1 604.4,145.0 602.7,145.0 601.0,144.9 599.3,144.7 597.5,144.6 595.7,144.3 593.9,144.1 592.1,143.8 590.2,143.4 588.4,143.1 586.5,142.7 584.7,142.2 582.8,141.7 580.9,141.2 579.1,140.6 577.3,140.1 575.5,139.4 573.7,138.8 571.9,138.1 570.2,137.4 568.5,136.7 566.8,135.9 565.1,135.1 563.5,134.3 562.0,133.5 560.4,132.7 559.0,131.8 557.6,130.9 556.2,130.0 554.9,129.1 553.6,128.2 552.5,127.3 551.3,126.3 550.3,125.4 549.3,124.5 548.4,123.5 547.5,122.6 546.7,121.6 546.0,120.7 545.4,119.8 544.8,118.8M622.5,139.8 621.6,140.3 620.7,140.8 619.6,141.2 618.5,141.5 617.3,141.9 616.1,142.2 614.8,142.4 613.5,142.7 612.1,142.8 610.6,143.0 609.2,143.1 607.6,143.1 606.1,143.2 604.5,143.2 602.8,143.1 601.1,143.0 599.4,142.9 597.7,142.7 595.9,142.5 594.2,142.2 592.4,141.9 590.6,141.6 588.8,141.2 587.0,140.8 585.2,140.4 583.4,139.9 581.6,139.4 579.8,138.9 578.0,138.3 576.2,137.7 574.5,137.1 572.8,136.4 571.1,135.7 569.4,135.0 567.7,134.3 566.1,133.5 564.6,132.7 563.1,131.9 561.6,131.1 560.1,130.2 558.8,129.4 557.4,128.5 556.2,127.6 554.9,126.7 553.8,125.8 552.7,124.9 551.7,124.0 550.7,123.1 549.8,122.2 549.0,121.3 548.2,120.3 547.5,119.4 546.9,118.5 546.4,117.6 545.9,116.7M622.7,137.5 621.9,138.0 621.0,138.4 620.1,138.9 619.1,139.3 618.0,139.6 616.9,140.0 615.7,140.3 614.4,140.5 613.1,140.7 611.8,140.9 610.4,141.0 608.9,141.1 607.5,141.2 605.9,141.2 604.4,141.2 602.8,141.2 601.2,141.1 599.5,140.9 597.8,140.8 596.1,140.5 594.4,140.3 592.7,140.0 591.0,139.7 589.2,139.3 587.4,139.0 585.7,138.5 583.9,138.1 582.2,137.6 580.5,137.1 578.7,136.5 577.0,135.9 575.3,135.3 573.7,134.7 572.0,134.0 570.4,133.3 568.8,132.6 567.2,131.8 565.7,131.1 564.3,130.3 562.8,129.5 561.4,128.7 560.1,127.9 558.8,127.0 557.6,126.2 556.4,125.3 555.3,124.4 554.2,123.5 553.2,122.7 552.3,121.8 551.4,120.9 550.6,120.0 549.8,119.1 549.2,118.2 548.6,117.3 548.1,116.4 547.6,115.6 547.2,114.7 546.9,113.9M622.6,135.1 621.9,135.6 621.1,136.1 620.2,136.5 619.3,137.0 618.4,137.3 617.3,137.7 616.2,138.0 615.1,138.3 613.9,138.5 612.6,138.7 611.3,138.9 610.0,139.0 608.6,139.1 607.2,139.2 605.7,139.2 604.2,139.2 602.7,139.2 601.1,139.1 599.5,138.9 597.9,138.8 596.3,138.6 594.6,138.3 592.9,138.1 591.3,137.8 589.6,137.4 587.9,137.0 586.2,136.6 584.5,136.2 582.8,135.7 581.2,135.2 579.5,134.7 577.8,134.1 576.2,133.5 574.6,132.9 573.0,132.2 571.4,131.6 569.9,130.9 568.4,130.2 567.0,129.4 565.5,128.7 564.2,127.9 562.8,127.1 561.5,126.3 560.3,125.5 559.1,124.7 558.0,123.9 556.9,123.0 555.9,122.2 554.9,121.3 554.0,120.5 553.1,119.6 552.4,118.7 551.7,117.9 551.0,117.0 550.4,116.2 549.9,115.3 549.5,114.5 549.2,113.7 548.9,112.9 548.7,112.1M622.2,132.7 621.5,133.2 620.9,133.7 620.1,134.2 619.3,134.6 618.4,135.0 617.5,135.4 616.5,135.7 615.4,136.0 614.3,136.3 613.2,136.5 612.0,136.7 610.8,136.9 609.5,137.0 608.1,137.1 606.8,137.1 605.4,137.2 603.9,137.2 602.5,137.1 601.0,137.0 599.4,136.9 597.9,136.7 596.3,136.5 594.7,136.3 593.1,136.1 591.5,135.8 589.9,135.4 588.3,135.1 586.7,134.7 585.1,134.3 583.5,133.8 581.9,133.3 580.3,132.8 578.7,132.3 577.1,131.7 575.6,131.1 574.1,130.5 572.6,129.9 571.1,129.2 569.7,128.5 568.3,127.8 566.9,127.1 565.6,126.4 564.3,125.6 563.1,124.8 561.9,124.1 560.7,123.3 559.7,122.5 558.6,121.7 557.6,120.9 556.7,120.0 555.9,119.2 555.0,118.4 554.3,117.6 553.6,116.7 553.0,115.9 552.5,115.1 552.0,114.3 551.6,113.5 551.2,112.7 551.0,111.9 550.7,111.2 550.6,110.4M621.9,129.8 621.4,130.3 620.9,130.8 620.3,131.3 619.6,131.8 618.9,132.2 618.1,132.6 617.3,133.0 616.4,133.4 615.5,133.7 614.5,134.0 613.4,134.2 612.4,134.4 611.2,134.6 610.0,134.8 608.8,134.9 607.5,135.0 606.2,135.1 604.9,135.1 603.5,135.1 602.1,135.0 600.7,134.9 599.3,134.8 597.8,134.7 596.3,134.5 594.8,134.3 593.3,134.0 591.8,133.7 590.2,133.4 588.7,133.1 587.2,132.7 585.6,132.3 584.1,131.9 582.6,131.4 581.1,130.9 579.6,130.4 578.1,129.9 576.6,129.3 575.2,128.7 573.7,128.1 572.4,127.5 571.0,126.9 569.7,126.2 568.4,125.5 567.1,124.8 565.9,124.1 564.7,123.4 563.6,122.6 562.5,121.9 561.5,121.1 560.5,120.3 559.6,119.6 558.7,118.8 557.9,118.0 557.1,117.2 556.4,116.5 555.7,115.7 555.2,114.9 554.6,114.1 554.2,113.4 553.8,112.6 553.5,111.8 553.2,111.1 553.0,110.4 552.9,109.7 552.8,109.0M620.7,127.4 620.4,128.0 619.9,128.5 619.4,129.0 618.9,129.4 618.2,129.9 617.6,130.3 616.8,130.7 616.1,131.0 615.2,131.4 614.3,131.7 613.4,131.9 612.4,132.2 611.4,132.4 610.3,132.6 609.2,132.7 608.0,132.8 606.8,132.9 605.6,132.9 604.4,133.0 603.1,133.0 601.8,132.9 600.4,132.8 599.0,132.7 597.7,132.6 596.3,132.4 594.8,132.2 593.4,132.0 592.0,131.7 590.5,131.4 589.1,131.1 587.6,130.7 586.2,130.4 584.7,129.9 583.3,129.5 581.9,129.1 580.4,128.6 579.0,128.1 577.7,127.5 576.3,127.0 575.0,126.4 573.7,125.8 572.4,125.2 571.1,124.6 569.9,123.9 568.7,123.3 567.6,122.6 566.5,121.9 565.4,121.2 564.4,120.5 563.4,119.8 562.5,119.1 561.6,118.3 560.8,117.6 560.0,116.9 559.3,116.1 558.6,115.4 558.0,114.7 557.4,113.9 556.9,113.2 556.5,112.5 556.1,111.8 555.8,111.1 555.6,110.4 555.4,109.7 555.3,109.0 555.2,108.3 555.2,107.7 555.3,107.0M619.3,125.1 619.0,125.7 618.7,126.2 618.3,126.6 617.8,127.1 617.3,127.5 616.7,127.9 616.1,128.3 615.4,128.7 614.6,129.0 613.9,129.3 613.0,129.6 612.1,129.9 611.2,130.1 610.3,130.3 609.3,130.4 608.2,130.6 607.1,130.7 606.0,130.8 604.9,130.8 603.7,130.8 602.5,130.8 601.3,130.8 600.0,130.7 598.7,130.6 597.4,130.5 596.1,130.3 594.8,130.1 593.5,129.9 592.1,129.7 590.8,129.4 589.4,129.1 588.1,128.8 586.7,128.4 585.4,128.0 584.0,127.6 582.7,127.2 581.4,126.7 580.0,126.3 578.8,125.8 577.5,125.2 576.2,124.7 575.0,124.2 573.8,123.6 572.6,123.0 571.5,122.4 570.4,121.8 569.3,121.1 568.3,120.5 567.3,119.9 566.3,119.2 565.4,118.5 564.5,117.8 563.7,117.2 562.9,116.5 562.2,115.8 561.5,115.1 560.9,114.4 560.4,113.7 559.8,113.0 559.4,112.4 559.0,111.7 558.6,111.0 558.3,110.4 558.1,109.7 557.9,109.1 557.8,108.4 557.8,107.8 557.8,107.2 557.8,106.6 558.0,106.0M617.8,122.4 617.6,122.9 617.4,123.4 617.1,123.9 616.8,124.4 616.4,124.8 616.0,125.2 615.5,125.6 615.0,126.0 614.4,126.4 613.7,126.7 613.1,127.0 612.3,127.3 611.6,127.6 610.8,127.8 609.9,128.0 609.0,128.2 608.1,128.3 607.1,128.5 606.1,128.6 605.1,128.6 604.0,128.7 602.9,128.7 601.8,128.7 600.7,128.7 599.5,128.6 598.4,128.5 597.2,128.4 595.9,128.2 594.7,128.0 593.5,127.8 592.2,127.6 591.0,127.4 589.7,127.1 588.5,126.8 587.2,126.4 586.0,126.1 584.7,125.7 583.5,125.3 582.3,124.9 581.1,124.5 579.9,124.0 578.7,123.5 577.5,123.0 576.4,122.5 575.3,122.0 574.2,121.4 573.1,120.9 572.1,120.3 571.1,119.7 570.2,119.1 569.2,118.5 568.4,117.9 567.5,117.3 566.7,116.7 565.9,116.1 565.2,115.4 564.6,114.8 563.9,114.1 563.4,113.5 562.8,112.9 562.4,112.2 561.9,111.6 561.6,111.0 561.2,110.4 561.0,109.7 560.8,109.1 560.6,108.5 560.5,108.0 560.4,107.4 560.5,106.8 560.5,106.3 560.6,105.8 560.8,105.2M615.7,120.8 615.5,121.3 615.3,121.8 615.1,122.2 614.8,122.6 614.4,123.0 614.0,123.4 613.6,123.8 613.1,124.1 612.5,124.5 612.0,124.8 611.3,125.0 610.7,125.3 610.0,125.5 609.2,125.7 608.5,125.9 607.7,126.1 606.8,126.2 605.9,126.4 605.0,126.5 604.1,126.5 603.1,126.6 602.1,126.6 601.1,126.6 600.0,126.5 599.0,126.5 597.9,126.4 596.8,126.3 595.7,126.1 594.6,126.0 593.4,125.8 592.3,125.6 591.2,125.3 590.0,125.1 588.9,124.8 587.7,124.5 586.6,124.2 585.4,123.8 584.3,123.5 583.2,123.1 582.1,122.7 581.0,122.3 579.9,121.8 578.8,121.4 577.8,120.9 576.8,120.4 575.8,119.9 574.8,119.4 573.9,118.9 573.0,118.4 572.1,117.8 571.3,117.3 570.5,116.7 569.7,116.2 569.0,115.6 568.3,115.0 567.6,114.4 567.0,113.8 566.4,113.3 565.9,112.7 565.4,112.1 565.0,111.5 564.6,110.9 564.3,110.4 564.0,109.8 563.7,109.2 563.5,108.7 563.4,108.1 563.3,107.6 563.2,107.1 563.2,106.6 563.3,106.1 563.4,105.6 563.6,105.1 563.8,104.7 564.0,104.2M615.8,120.3 615.7,120.8M613.4,119.3 613.3,119.7 613.1,120.1 612.8,120.5 612.6,120.9 612.3,121.3 611.9,121.6 611.5,121.9 611.1,122.3 610.6,122.5 610.1,122.8 609.5,123.1 608.9,123.3 608.3,123.5 607.6,123.7 606.9,123.9 606.2,124.0 605.4,124.2 604.6,124.3 603.8,124.3 602.9,124.4 602.1,124.4 601.2,124.5 600.2,124.4 599.3,124.4 598.3,124.4 597.4,124.3 596.4,124.2 595.4,124.1 594.4,123.9 593.3,123.7 592.3,123.6 591.3,123.4 590.3,123.1 589.2,122.9 588.2,122.6 587.2,122.3 586.1,122.0 585.1,121.7 584.1,121.3 583.1,121.0 582.1,120.6 581.2,120.2 580.2,119.8 579.3,119.4 578.3,118.9 577.5,118.5 576.6,118.0 575.7,117.5 574.9,117.1 574.1,116.6 573.4,116.1 572.6,115.6 571.9,115.1 571.3,114.6 570.7,114.0 570.1,113.5 569.5,113.0 569.0,112.5 568.5,111.9 568.1,111.4 567.7,110.9 567.3,110.4 567.0,109.8 566.8,109.3 566.6,108.8 566.4,108.3 566.2,107.8 566.2,107.4 566.1,106.9 566.1,106.4 566.2,106.0 566.3,105.5 566.4,105.1 566.6,104.7 566.8,104.3 567.1,103.9 567.4,103.6M613.5,117.9 613.5,118.4 613.5,118.8 613.4,119.3M611.0,117.8 610.8,118.2 610.7,118.5 610.5,118.9 610.2,119.2 610.0,119.5 609.6,119.8 609.3,120.1 608.9,120.4 608.5,120.7 608.0,120.9 607.5,121.1 607.0,121.4 606.4,121.5 605.8,121.7 605.2,121.9 604.6,122.0 603.9,122.1 603.2,122.2 602.5,122.3 601.7,122.3 600.9,122.4 600.1,122.4 599.3,122.4 598.5,122.3 597.6,122.3 596.8,122.2 595.9,122.1 595.0,122.0 594.1,121.9 593.2,121.7 592.3,121.6 591.4,121.4 590.5,121.2 589.6,121.0 588.6,120.7 587.7,120.5 586.8,120.2 585.9,119.9 585.0,119.6 584.1,119.3 583.3,118.9 582.4,118.6 581.6,118.2 580.7,117.9 579.9,117.5 579.1,117.1 578.4,116.7 577.6,116.2 576.9,115.8 576.2,115.4 575.5,114.9 574.9,114.5 574.2,114.0 573.7,113.6 573.1,113.1 572.6,112.7 572.1,112.2 571.6,111.7 571.2,111.3 570.8,110.8 570.5,110.3 570.2,109.9 569.9,109.4 569.7,109.0 569.5,108.5 569.3,108.1 569.2,107.7 569.1,107.2 569.1,106.8 569.1,106.4 569.1,106.0 569.2,105.6 569.3,105.2 569.5,104.9 569.7,104.5 569.9,104.2 570.2,103.9 570.5,103.5 570.9,103.3M611.0,115.7 611.1,116.2 611.1,116.6 611.1,117.0 611.1,117.4 611.0,117.8M608.4,116.3 608.3,116.7 608.2,117.0 608.0,117.3 607.8,117.6 607.5,117.9 607.3,118.1 607.0,118.4 606.6,118.6 606.3,118.9 605.9,119.1 605.4,119.3 605.0,119.4 604.5,119.6 604.0,119.7 603.4,119.9 602.9,120.0 602.3,120.1 601.7,120.2 601.0,120.2 600.4,120.3 599.7,120.3 599.0,120.3 598.3,120.3 597.6,120.3 596.9,120.2 596.1,120.2 595.4,120.1 594.6,120.0 593.8,119.9 593.0,119.8 592.2,119.6 591.4,119.5 590.7,119.3 589.9,119.1 589.1,118.9 588.3,118.7 587.5,118.4 586.7,118.2 585.9,117.9 585.2,117.6 584.4,117.3 583.7,117.0 582.9,116.7 582.2,116.4 581.5,116.1 580.8,115.7 580.2,115.4 579.5,115.0 578.9,114.6 578.3,114.3 577.7,113.9 577.1,113.5 576.6,113.1 576.1,112.7 575.6,112.3 575.2,111.9 574.7,111.5 574.3,111.1 574.0,110.7 573.6,110.3 573.3,109.9 573.1,109.5 572.8,109.1 572.6,108.7 572.5,108.3 572.3,107.9 572.2,107.6 572.2,107.2 572.1,106.8 572.1,106.5 572.2,106.1 572.2,105.8 572.3,105.5 572.5,105.2 572.7,104.9 572.9,104.6 573.1,104.3 573.4,104.0 573.7,103.8 574.0,103.5 574.4,103.3M608.2,113.8 608.3,114.2 608.4,114.6 608.5,114.9 608.5,115.3 608.5,115.7 608.5,116.0 608.4,116.3M605.7,115.0 605.6,115.2 605.5,115.5 605.4,115.8 605.2,116.0 605.0,116.2 604.8,116.5 604.5,116.7 604.2,116.9 603.9,117.1 603.6,117.3 603.2,117.4 602.8,117.6 602.4,117.7 602.0,117.8 601.5,117.9 601.1,118.0 600.6,118.1 600.1,118.2 599.5,118.2 599.0,118.3 598.4,118.3 597.8,118.3 597.2,118.3 596.6,118.3 596.0,118.3 595.4,118.2 594.8,118.1 594.1,118.1 593.5,118.0 592.8,117.9 592.1,117.7 591.5,117.6 590.8,117.4 590.1,117.3 589.5,117.1 588.8,116.9 588.1,116.7 587.5,116.5 586.8,116.3 586.2,116.1 585.6,115.8 584.9,115.6 584.3,115.3 583.7,115.0 583.1,114.7 582.5,114.5 582.0,114.2 581.4,113.9 580.9,113.5 580.4,113.2 579.9,112.9 579.4,112.6 579.0,112.3 578.6,111.9 578.1,111.6 577.8,111.2 577.4,110.9 577.1,110.6 576.8,110.2 576.5,109.9 576.2,109.6 576.0,109.2 575.8,108.9 575.6,108.6 575.5,108.2 575.4,107.9 575.3,107.6 575.2,107.3 575.2,107.0 575.2,106.7 575.3,106.4 575.3,106.1 575.4,105.8 575.5,105.6 575.7,105.3 575.8,105.1 576.1,104.8 576.3,104.6 576.5,104.4 576.8,104.2 577.1,104.0 577.5,103.8 577.8,103.7 578.2,103.5 578.6,103.4M604.8,111.5 605.0,111.9 605.2,112.2 605.4,112.5 605.5,112.8 605.7,113.2 605.7,113.5 605.8,113.8 605.8,114.1 605.8,114.4 605.8,114.7 605.7,115.0M602.9,113.7 602.9,113.9 602.8,114.1 602.7,114.3 602.5,114.5 602.4,114.7 602.2,114.9 602.0,115.1 601.7,115.2 601.5,115.4 601.2,115.5 600.9,115.6 600.6,115.8 600.3,115.9 599.9,116.0 599.6,116.1 599.2,116.1 598.8,116.2 598.4,116.3 597.9,116.3 597.5,116.3 597.0,116.4 596.6,116.4 596.1,116.4 595.6,116.3 595.1,116.3 594.6,116.3 594.1,116.2 593.6,116.2 593.0,116.1 592.5,116.0 592.0,115.9 591.4,115.8 590.9,115.7 590.4,115.5 589.8,115.4 589.3,115.2 588.8,115.1 588.2,114.9 587.7,114.7 587.2,114.5 586.7,114.3 586.2,114.1 585.7,113.9 585.2,113.7 584.7,113.5 584.2,113.3 583.8,113.0 583.4,112.8 582.9,112.5 582.5,112.3 582.1,112.0 581.7,111.7 581.4,111.5 581.0,111.2 580.7,110.9 580.4,110.7 580.1,110.4 579.9,110.1 579.6,109.8 579.4,109.6 579.2,109.3 579.0,109.0 578.8,108.8 578.7,108.5 578.6,108.2 578.5,108.0 578.4,107.7 578.4,107.5 578.4,107.2 578.4,107.0 578.4,106.7 578.4,106.5 578.5,106.3 578.6,106.1 578.7,105.9 578.9,105.7 579.0,105.5 579.2,105.3 579.4,105.1 579.6,105.0 579.9,104.8 580.2,104.7 580.5,104.5 580.8,104.4 581.1,104.3 581.4,104.2 581.8,104.1 582.2,104.0 582.6,104.0 583.0,103.9M601.0,109.5 601.3,109.8 601.5,110.1 601.8,110.3 602.0,110.6 602.2,110.9 602.4,111.2 602.5,111.4 602.7,111.7 602.8,112.0 602.9,112.2 603.0,112.5 603.0,112.7 603.0,113.0 603.0,113.2 603.0,113.4 602.9,113.7M600.1,112.4 600.0,112.6 599.9,112.8 599.8,112.9 599.7,113.1 599.6,113.2 599.5,113.4 599.3,113.5 599.1,113.6 599.0,113.7 598.8,113.8 598.5,113.9 598.3,114.0 598.1,114.1 597.8,114.2 597.5,114.3 597.2,114.3 596.9,114.4 596.6,114.4 596.3,114.4 596.0,114.5 595.6,114.5 595.3,114.5 594.9,114.5 594.5,114.5 594.2,114.4 593.8,114.4 593.4,114.4 593.0,114.3 592.6,114.3 592.2,114.2 591.8,114.1 591.4,114.0 591.0,114.0 590.6,113.9 590.2,113.7 589.8,113.6 589.4,113.5 589.0,113.4 588.6,113.2 588.2,113.1 587.8,113.0 587.4,112.8 587.0,112.6 586.7,112.5 586.3,112.3 586.0,112.1 585.6,111.9 585.3,111.8 585.0,111.6 584.7,111.4 584.4,111.2 584.1,111.0 583.8,110.8 583.5,110.6 583.3,110.4 583.1,110.2 582.8,110.0 582.6,109.8 582.5,109.6 582.3,109.4 582.1,109.2 582.0,108.9 581.9,108.7 581.8,108.5 581.7,108.3 581.6,108.2 581.6,108.0 581.5,107.8 581.5,107.6 581.5,107.4 581.5,107.2 581.6,107.1 581.6,106.9 581.7,106.7 581.8,106.6 581.9,106.4 582.0,106.3 582.2,106.1 582.3,106.0 582.5,105.9 582.7,105.8 582.9,105.7 583.1,105.6 583.3,105.5 583.6,105.4 583.8,105.3 584.1,105.2 584.4,105.2 584.7,105.1 585.0,105.1 585.3,105.1 585.7,105.0 586.0,105.0 586.4,105.0 586.7,105.0 587.1,105.0 587.5,105.1 587.9,105.1 588.2,105.1 588.6,105.2 589.0,105.2 589.4,105.3 589.8,105.4M594.6,106.9 595.0,107.0 595.3,107.2 595.7,107.4 596.0,107.5 596.3,107.7 596.7,107.9 597.0,108.1 597.3,108.3 597.6,108.5 597.8,108.7 598.1,108.9 598.3,109.1 598.6,109.3 598.8,109.5 599.0,109.7 599.2,109.9 599.3,110.1 599.5,110.3 599.6,110.6 599.8,110.8 599.9,111.0 599.9,111.2 600.0,111.3 600.1,111.5 600.1,111.7 600.1,111.9 600.1,112.1 600.1,112.3 600.1,112.4M597.1,111.3 597.1,111.4 597.0,111.5 597.0,111.6 596.9,111.7 596.8,111.8 596.7,111.9 596.6,112.0 596.5,112.1 596.4,112.2 596.2,112.2 596.1,112.3 595.9,112.4 595.8,112.4 595.6,112.5 595.4,112.5 595.2,112.6 595.0,112.6 594.8,112.6 594.6,112.6 594.3,112.7 594.1,112.7 593.9,112.7 593.6,112.7 593.4,112.7 593.1,112.6 592.9,112.6 592.6,112.6 592.4,112.6 592.1,112.5 591.8,112.5 591.6,112.4 591.3,112.4 591.0,112.3 590.7,112.2 590.5,112.2 590.2,112.1 589.9,112.0 589.7,111.9 589.4,111.8 589.1,111.7 588.9,111.6 588.6,111.5 588.4,111.4 588.1,111.3 587.9,111.2 587.7,111.1 587.4,111.0 587.2,110.9 587.0,110.7 586.8,110.6 586.6,110.5 586.4,110.3 586.2,110.2 586.0,110.1 585.9,109.9 585.7,109.8 585.6,109.7 585.4,109.5 585.3,109.4 585.2,109.2 585.1,109.1 585.0,109.0 584.9,108.8 584.9,108.7 584.8,108.6 584.7,108.4 584.7,108.3 584.7,108.2 584.7,108.1 584.7,107.9 584.7,107.8 584.7,107.7 584.8,107.6 584.8,107.5 584.9,107.4 584.9,107.3 585.0,107.2 585.1,107.1 585.2,107.0 585.3,106.9 585.5,106.8 585.6,106.8 585.7,106.7 585.9,106.6 586.1,106.6 586.2,106.5 586.4,106.5 586.6,106.4 586.8,106.4 587.0,106.4 587.2,106.4 587.5,106.4 587.7,106.3 587.9,106.3 588.2,106.3 588.4,106.3 588.7,106.4 588.9,106.4 589.2,106.4 589.5,106.4 589.7,106.5 590.0,106.5 590.3,106.6 590.5,106.6 590.8,106.7 591.1,106.8 591.3,106.8 591.6,106.9 591.9,107.0 592.1,107.1 592.4,107.2 592.7,107.3 592.9,107.4 593.2,107.5 593.4,107.6 593.7,107.7 593.9,107.8 594.2,107.9 594.4,108.0 594.6,108.2 594.8,108.3 595.0,108.4 595.2,108.5 595.4,108.7 595.6,108.8 595.8,108.9 595.9,109.1 596.1,109.2 596.2,109.4 596.4,109.5 596.5,109.6 596.6,109.8 596.7,109.9 596.8,110.0 596.9,110.2 597.0,110.3 597.0,110.4 597.1,110.6 597.1,110.7 597.1,110.8 597.1,111.0 597.1,111.1 597.1,111.2 597.1,111.3M594.1,110.3 594.0,110.3 594.0,110.4 594.0,110.4 594.0,110.5 593.9,110.5 593.9,110.6 593.8,110.6 593.8,110.6 593.7,110.7 593.6,110.7 593.6,110.8 593.5,110.8 593.4,110.8 593.3,110.8 593.2,110.9 593.1,110.9 593.0,110.9 592.9,110.9 592.8,110.9 592.7,110.9 592.6,110.9 592.5,110.9 592.3,110.9 592.2,110.9 592.1,110.9 592.0,110.9 591.8,110.9 591.7,110.9 591.6,110.9 591.4,110.8 591.3,110.8 591.2,110.8 591.0,110.8 590.9,110.7 590.7,110.7 590.6,110.7 590.5,110.6 590.3,110.6 590.2,110.5 590.1,110.5 589.9,110.4 589.8,110.4 589.7,110.3 589.6,110.3 589.5,110.2 589.3,110.2 589.2,110.1 589.1,110.0 589.0,110.0 588.9,109.9 588.8,109.8 588.7,109.8 588.6,109.7 588.5,109.6 588.4,109.6 588.4,109.5 588.3,109.4 588.2,109.4 588.2,109.3 588.1,109.2 588.1,109.2 588.0,109.1 588.0,109.0 587.9,108.9 587.9,108.9 587.9,108.8 587.9,108.8 587.8,108.7 587.8,108.6 587.8,108.6 587.8,108.5 587.9,108.4 587.9,108.4 587.9,108.3 587.9,108.3 588.0,108.2 588.0,108.2 588.1,108.1 588.1,108.1 588.2,108.1 588.2,108.0 588.3,108.0 588.4,107.9 588.5,107.9 588.5,107.9 588.6,107.9 588.7,107.8 588.8,107.8 588.9,107.8 589.0,107.8 589.1,107.8 589.2,107.8 589.4,107.8 589.5,107.8 589.6,107.8 589.7,107.8 589.8,107.8 590.0,107.8 590.1,107.8 590.2,107.8 590.4,107.8 590.5,107.9 590.6,107.9 590.8,107.9 590.9,107.9 591.0,108.0 591.2,108.0 591.3,108.0 591.5,108.1 591.6,108.1 591.7,108.2 591.8,108.2 592.0,108.3 592.1,108.3 592.2,108.4 592.4,108.4 592.5,108.5 592.6,108.6 592.7,108.6 592.8,108.7 592.9,108.7 593.0,108.8 593.1,108.9 593.2,108.9 593.3,109.0 593.4,109.1 593.5,109.1 593.6,109.2 593.6,109.3 593.7,109.3 593.8,109.4 593.8,109.5 593.9,109.6 593.9,109.6 594.0,109.7 594.0,109.8 594.0,109.8 594.1,109.9 594.1,110.0 594.1,110.0 594.1,110.1 594.1,110.1 594.1,110.2 594.1,110.3" fill="none" stroke="#ff3300" stroke-width="0.3" stroke-opacity="0.35"/>
<defs><radialGradient id="pg"><stop offset="0" stop-color="#ff3300" stop-opacity="0.95"/><stop offset="0.55" stop-color="#ff3300" stop-opacity="0.6"/><stop offset="1" stop-color="#ff3300" stop-opacity="0"/></radialGradient></defs>
<ellipse cx="588.8" cy="110.6" rx="12.5" ry="6.2" transform="rotate(20 588.8 110.6)" fill="url(#pg)"/>
<g clip-path="url(#c4)" fill="#12b012"><circle cx="170.20" cy="342.40" r="1.25"/><circle cx="188.60" cy="335.00" r="1.25"/><circle cx="207.50" cy="327.80" r="1.25"/><circle cx="226.40" cy="321.00" r="1.25"/><circle cx="245.60" cy="315.00" r="1.25"/><circle cx="264.90" cy="310.10" r="1.25"/></g>
<ellipse cx="264.4" cy="436.7" rx="23.8" ry="14.5" transform="rotate(-16.2 264.4 436.7)" fill="#fff"/><path d="M287.5,429.9 287.3,429.2 287.0,428.6 286.6,427.9 286.2,427.3 285.7,426.7 285.2,426.1 284.6,425.5 283.9,425.0 283.2,424.5 282.4,424.1M287.9,431.5 287.7,430.8 287.6,430.1 287.3,429.4 287.0,428.7 286.6,428.1 286.2,427.4 285.7,426.8 285.2,426.2 284.6,425.7M287.9,432.4 287.9,431.7 287.7,431.0 287.6,430.3 287.3,429.6 287.0,428.9 286.7,428.2 286.2,427.6 285.7,427.0M287.8,434.1 287.9,433.4 287.9,432.6 287.8,431.9 287.7,431.1 287.5,430.4 287.3,429.7 287.0,429.1 286.6,428.4M287.4,435.8 287.6,435.1 287.7,434.3 287.8,433.5 287.8,432.8 287.8,432.1 287.7,431.3 287.5,430.6 287.2,429.9M287.1,436.8 287.3,436.0 287.5,435.2 287.7,434.5 287.7,433.7 287.8,433.0 287.7,432.2 287.6,431.5M286.2,438.5 286.6,437.7 287.0,436.9 287.2,436.2 287.4,435.4 287.6,434.7 287.6,433.9 287.7,433.2M285.7,439.4 286.1,438.6 286.5,437.9 286.8,437.1 287.1,436.4 287.3,435.6 287.4,434.9 287.5,434.1M285.1,440.3 285.6,439.6 286.0,438.8 286.4,438.1 286.7,437.3 287.0,436.6 287.2,435.8M284.4,441.2 284.9,440.5 285.4,439.7 285.9,439.0 286.2,438.3 286.5,437.5 286.8,436.8M283.7,442.0 284.2,441.3 284.8,440.6 285.3,439.9 285.7,439.2 286.1,438.5 286.4,437.7M282.9,442.9 283.5,442.2 284.1,441.5 284.6,440.8 285.1,440.1 285.5,439.4 285.9,438.7M282.7,443.0 283.3,442.4 283.9,441.7 284.4,441.0 284.9,440.3 285.3,439.6M281.8,443.8 282.5,443.2 283.1,442.5 283.7,441.9 284.2,441.2 284.6,440.5M281.0,444.6 281.7,444.0 282.3,443.4 282.9,442.7 283.5,442.1 283.9,441.4M280.8,444.7 281.5,444.1 282.1,443.5 282.7,442.9 283.2,442.3M280.6,444.9 281.2,444.3 281.9,443.7 282.4,443.1 282.9,442.5M279.7,445.6 280.4,445.0 281.0,444.5 281.6,443.9 282.2,443.3M279.5,445.7 280.1,445.2 280.8,444.6 281.3,444.1 281.9,443.5M278.5,446.3 279.2,445.9 279.9,445.3 280.5,444.8 281.1,444.2M278.3,446.5 279.0,446.0 279.6,445.5 280.2,445.0 280.8,444.4M278.1,446.6 278.8,446.2 279.4,445.7 279.9,445.2M277.9,446.8 278.5,446.3 279.1,445.8 279.7,445.3M277.0,447.3 277.6,446.9 278.2,446.5 278.8,446.0 279.3,445.5M276.8,447.4 277.4,447.0 278.0,446.6 278.5,446.2M276.6,447.6 277.1,447.2 277.7,446.8 278.2,446.3M276.3,447.7 276.9,447.3 277.4,446.9 277.9,446.5M276.1,447.8 276.6,447.5 277.1,447.1 277.6,446.7M275.3,448.2 275.8,447.9 276.3,447.6 276.8,447.3M275.1,448.4 275.6,448.1 276.0,447.8 276.5,447.4M274.8,448.5 275.3,448.2 275.7,447.9 276.1,447.6M274.6,448.6 275.0,448.3 275.4,448.1 275.8,447.7M274.3,448.7 274.7,448.5 275.1,448.2 275.5,447.9M274.1,448.8 274.5,448.6 274.8,448.3M273.8,448.9 274.2,448.7 274.5,448.5M273.6,449.0 273.9,448.9 274.2,448.6M273.3,449.2 273.6,449.0 273.8,448.8M273.0,449.3 273.3,449.1 273.5,448.9M272.8,449.4 273.0,449.2 273.1,449.1M272.5,449.5 272.7,449.4 272.8,449.2M272.2,449.6 272.4,449.5 272.5,449.3M272.0,449.7 272.0,449.6 272.1,449.5M271.6,449.9 271.7,449.8 271.7,449.7 271.8,449.6M271.4,450.0 271.4,449.9 271.4,449.9 271.4,449.8M271.1,450.1 271.1,450.0 271.1,450.0 271.0,449.9M270.9,450.1 270.8,450.1 270.8,450.1 270.7,450.0M270.6,450.2 270.6,450.2 270.4,450.2 270.3,450.1M270.3,450.3 270.1,450.3 270.0,450.3M270.0,450.4 269.8,450.4 269.6,450.4M269.7,450.5 269.5,450.5 269.3,450.5M269.4,450.6 269.2,450.6 268.9,450.6M269.1,450.7 268.8,450.7 268.5,450.7M268.9,450.8 268.5,450.8 268.2,450.9M268.6,450.9 268.2,450.9 267.8,451.0M268.3,451.0 267.9,451.0 267.5,451.1M268.0,451.0 267.6,451.1 267.1,451.2M267.8,451.1 267.3,451.2 266.8,451.3 266.3,451.3M267.5,451.2 267.0,451.3 266.5,451.4 265.9,451.4M267.2,451.3 266.7,451.4 266.1,451.4 265.6,451.5M267.0,451.3 266.4,451.4 265.8,451.5 265.2,451.6M266.7,451.4 266.1,451.5 265.5,451.6 264.9,451.6M265.8,451.6 265.2,451.7 264.5,451.7 263.8,451.7M265.5,451.6 264.9,451.7 264.2,451.8 263.5,451.8M265.3,451.7 264.5,451.8 263.8,451.9 263.1,451.9M265.0,451.8 264.3,451.9 263.5,451.9 262.7,452.0M264.7,451.8 264.0,451.9 263.2,452.0 262.4,452.0 261.6,452.0M263.7,452.0 262.9,452.1 262.1,452.1 261.3,452.1M263.4,452.0 262.6,452.1 261.7,452.2 260.9,452.2M263.1,452.1 262.3,452.2 261.4,452.2 260.6,452.2 259.7,452.2M262.9,452.1 262.0,452.2 261.1,452.3 260.2,452.3 259.4,452.2M261.7,452.2 260.8,452.3 259.9,452.3 259.0,452.3 258.1,452.2M261.4,452.3 260.5,452.3 259.6,452.3 258.7,452.3 257.8,452.3M260.2,452.4 259.3,452.4 258.4,452.4 257.4,452.3 256.5,452.2M260.0,452.4 259.0,452.4 258.0,452.4 257.1,452.3 256.2,452.2M259.7,452.4 258.7,452.4 257.7,452.4 256.8,452.3 255.9,452.2 255.0,452.1M258.5,452.4 257.5,452.4 256.5,452.3 255.6,452.2 254.6,452.1M257.2,452.4 256.2,452.3 255.3,452.2 254.3,452.1M257.0,452.4 256.0,452.3 255.0,452.2 254.0,452.1M255.7,452.3 254.7,452.2 253.7,452.1M254.5,452.2 253.5,452.0M279.0,422.3 278.1,422.0 277.2,421.7M280.1,422.7 279.2,422.3 278.3,422.0 277.3,421.8M281.9,423.5 281.1,423.1 280.3,422.7 279.4,422.4 278.4,422.1 277.5,421.9M283.5,424.5 282.8,424.0 282.1,423.6 281.3,423.2 280.4,422.8 279.5,422.5 278.6,422.2 277.6,422.0M284.3,425.1 283.7,424.6 282.9,424.2 282.2,423.7 281.4,423.3 280.5,422.9 279.6,422.6 278.7,422.3 277.7,422.1M285.6,426.4 285.0,425.8 284.4,425.3 283.8,424.8 283.1,424.3 282.3,423.8 281.5,423.4 280.6,423.0 279.7,422.7 278.8,422.4M286.9,428.4 286.6,427.8 286.1,427.1 285.6,426.5 285.1,425.9 284.5,425.4 283.8,424.9 283.1,424.4 282.4,424.0 281.6,423.5 280.7,423.2M274.3,448.7 274.0,448.9 273.6,449.0 273.2,449.2 272.8,449.4 272.5,449.5 272.1,449.7 271.7,449.8 271.3,450.0 270.9,450.1 270.4,450.3 270.0,450.4 269.6,450.6 269.2,450.7 268.8,450.8 268.4,450.9 268.1,451.0 267.7,451.2M277.1,447.2 276.8,447.4 276.4,447.6 276.1,447.8 275.7,448.0 275.3,448.2 274.9,448.4 274.5,448.6 274.0,448.8 273.6,449.0 273.1,449.2 272.7,449.4 272.2,449.6 271.7,449.7 271.2,449.9 270.8,450.1 270.3,450.3 269.8,450.4 269.3,450.6 268.8,450.7 268.4,450.9 267.9,451.0 267.4,451.2 267.0,451.3 266.5,451.4 266.1,451.5 265.7,451.6 265.3,451.7 264.9,451.8M279.0,446.0 278.7,446.2 278.3,446.5 278.0,446.7 277.6,446.9 277.2,447.1 276.8,447.3 276.3,447.6 275.9,447.8 275.4,448.0 274.9,448.3 274.4,448.5M267.3,451.1 266.8,451.2 266.3,451.4 265.8,451.5 265.3,451.6 264.8,451.7 264.3,451.8 263.8,451.9 263.4,452.0 263.0,452.1 262.6,452.1M280.5,444.9 280.2,445.1 279.9,445.4 279.6,445.6 279.2,445.8 278.8,446.1 278.3,446.3 277.9,446.6 277.4,446.8M263.9,451.8 263.3,451.9 262.8,452.0 262.3,452.1 261.8,452.2 261.4,452.2 261.0,452.3 260.5,452.3M281.7,443.9 281.5,444.1 281.1,444.4 280.8,444.6 280.4,444.9 279.9,445.2 279.5,445.4M261.3,452.1 260.7,452.2 260.2,452.3 259.7,452.3 259.3,452.4 258.9,452.4 258.5,452.4M283.2,442.6 282.9,442.8 282.6,443.1 282.3,443.3 281.9,443.6 281.5,443.9M259.1,452.2 258.5,452.3 258.0,452.3 257.6,452.4 257.1,452.4 256.7,452.4M284.2,441.4 284.0,441.7 283.7,441.9 283.4,442.2 283.0,442.5 282.6,442.8M256.8,452.2 256.3,452.3 255.9,452.3 255.4,452.3 255.0,452.3M285.1,440.2 284.9,440.5 284.7,440.7 284.4,441.0 284.1,441.3M254.2,452.1 253.7,452.1 253.4,452.0M285.8,439.2 285.6,439.5 285.3,439.8 285.0,440.1M286.5,438.0 286.3,438.2 286.1,438.5 285.8,438.8M287.1,436.7 287.0,436.9 286.8,437.2 286.5,437.5 286.3,437.8M287.4,435.7 287.3,435.9 287.1,436.2 286.9,436.5M287.7,434.4 287.7,434.6 287.5,434.9 287.3,435.2M287.9,433.4 287.8,433.6 287.6,433.9 287.4,434.2M287.9,432.1 287.9,432.4 287.8,432.6 287.6,432.9M287.8,431.1 287.8,431.4 287.7,431.7 287.5,432.0M287.5,429.9 287.6,430.2 287.5,430.4 287.5,430.7M287.2,429.0 287.2,429.2 287.2,429.5 287.1,429.8M286.7,428.1 286.8,428.4 286.8,428.6M286.2,427.3 286.2,427.5 286.2,427.8M286.1,427.1 286.2,427.3M285.5,426.5 285.6,426.7M285.4,426.3 285.5,426.5M284.8,425.7 284.8,426.0M284.5,425.3 284.7,425.5 284.8,425.7M283.7,424.6 283.8,424.8 283.9,425.0M282.5,423.8 282.7,424.0 282.8,424.2 282.9,424.4M281.5,423.3 281.7,423.4 281.8,423.6 281.9,423.8M280.1,422.7 280.3,422.8 280.5,422.9 280.7,423.1M278.9,422.2 279.1,422.4 279.3,422.5 279.5,422.7M277.4,421.8 277.7,421.9 277.9,422.0 278.1,422.1" fill="none" stroke="#000" stroke-width="0.3" stroke-opacity="0.75"/><path d="M282.4,424.1 281.6,423.7 280.8,423.3 279.9,422.9 278.9,422.6M284.6,425.7 283.9,425.2 283.2,424.7 282.5,424.2 281.6,423.8 280.8,423.4 279.9,423.1 278.9,422.8M285.7,427.0 285.2,426.4 284.6,425.9 283.9,425.3 283.2,424.8 282.5,424.4 281.6,424.0 280.8,423.6 279.9,423.2M286.6,428.4 286.2,427.8 285.7,427.2 285.2,426.6 284.6,426.0 283.9,425.5 283.2,425.0 282.4,424.6 281.6,424.1 280.8,423.7 279.9,423.4M287.2,429.9 286.9,429.2 286.6,428.6 286.1,428.0 285.7,427.4 285.1,426.8 284.5,426.2 283.9,425.7 283.2,425.2 282.4,424.7 281.6,424.3 280.7,423.9M287.6,431.5 287.4,430.8 287.2,430.1 286.9,429.4 286.5,428.8 286.1,428.2 285.6,427.5 285.0,427.0 284.4,426.4 283.8,425.9 283.1,425.4M287.7,433.2 287.6,432.4 287.5,431.7 287.3,431.0 287.1,430.3 286.8,429.6 286.4,429.0 286.0,428.4 285.5,427.7 284.9,427.2 284.3,426.6M287.5,434.1 287.5,433.4 287.5,432.7 287.4,431.9 287.2,431.2 286.9,430.5 286.6,429.9 286.3,429.2 285.8,428.6M287.2,435.8 287.3,435.1 287.4,434.3 287.4,433.6 287.3,432.9 287.2,432.2 287.0,431.4 286.8,430.8 286.5,430.1M286.8,436.8 287.0,436.0 287.1,435.3 287.2,434.6 287.2,433.8 287.1,433.1 287.0,432.4 286.8,431.7M286.4,437.7 286.6,437.0 286.8,436.3 286.9,435.5 287.0,434.8 287.0,434.1 286.9,433.3 286.8,432.6M285.9,438.7 286.2,437.9 286.4,437.2 286.6,436.5 286.7,435.7 286.7,435.0 286.7,434.3M285.3,439.6 285.6,438.9 285.9,438.2 286.2,437.4 286.3,436.7 286.4,436.0 286.5,435.3M284.6,440.5 285.0,439.8 285.4,439.1 285.7,438.4 285.9,437.7 286.1,436.9 286.2,436.2M283.9,441.4 284.4,440.7 284.8,440.0 285.1,439.3 285.4,438.6 285.6,437.9 285.8,437.2M283.2,442.3 283.7,441.6 284.1,440.9 284.5,440.2 284.8,439.6 285.1,438.9 285.3,438.1M282.9,442.5 283.4,441.8 283.8,441.1 284.2,440.5 284.5,439.8 284.8,439.1M282.2,443.3 282.7,442.7 283.1,442.0 283.5,441.4 283.9,440.7 284.2,440.0M281.9,443.5 282.4,442.9 282.8,442.2 283.2,441.6 283.6,440.9M281.1,444.2 281.6,443.7 282.1,443.1 282.5,442.4 282.9,441.8 283.2,441.2M280.8,444.4 281.3,443.9 281.7,443.3 282.2,442.7 282.5,442.0M279.9,445.2 280.5,444.6 281.0,444.1 281.4,443.5 281.8,442.9M279.7,445.3 280.2,444.8 280.6,444.3 281.0,443.7 281.4,443.1M279.3,445.5 279.8,445.0 280.3,444.5 280.7,443.9M278.5,446.2 279.0,445.7 279.5,445.2 279.9,444.7 280.3,444.1M278.2,446.3 278.7,445.9 279.1,445.4 279.5,444.9 279.9,444.4M277.9,446.5 278.3,446.1 278.8,445.6 279.1,445.1M277.6,446.7 278.0,446.3 278.4,445.8 278.7,445.3M276.8,447.3 277.2,446.9 277.6,446.4 278.0,446.0 278.3,445.5M276.5,447.4 276.9,447.0 277.3,446.6 277.6,446.2M276.1,447.6 276.5,447.2 276.9,446.8 277.2,446.4M275.8,447.7 276.2,447.4 276.5,447.0 276.8,446.6M275.5,447.9 275.8,447.6 276.1,447.2 276.3,446.8M274.8,448.3 275.1,448.1 275.4,447.7 275.7,447.4 275.9,447.0M274.5,448.5 274.8,448.2 275.0,447.9 275.2,447.6 275.4,447.2M274.2,448.6 274.4,448.4 274.6,448.1 274.8,447.8M273.8,448.8 274.0,448.5 274.2,448.3 274.4,448.0M273.5,448.9 273.7,448.7 273.8,448.4 274.0,448.1M273.1,449.1 273.3,448.9 273.4,448.6 273.5,448.3M272.8,449.2 272.9,449.0 273.0,448.8 273.1,448.5M272.5,449.3 272.5,449.2 272.6,448.9 272.6,448.7M272.1,449.5 272.2,449.3 272.2,449.1 272.2,448.9M271.8,449.6 271.8,449.5 271.7,449.3 271.7,449.1M271.4,449.8 271.4,449.6 271.3,449.4 271.3,449.2M271.0,449.9 271.0,449.8 270.9,449.6 270.8,449.4M270.7,450.0 270.6,449.9 270.5,449.8 270.3,449.6M270.3,450.1 270.2,450.0 270.0,449.9 269.9,449.7M270.0,450.3 269.8,450.2 269.6,450.1 269.4,449.9M269.6,450.4 269.4,450.3 269.2,450.2 268.9,450.1M269.3,450.5 269.0,450.5 268.7,450.3 268.5,450.2M268.9,450.6 268.6,450.6 268.3,450.5 268.0,450.4M268.5,450.7 268.2,450.7 267.9,450.6 267.6,450.5M268.2,450.9 267.8,450.8 267.5,450.8 267.1,450.7M267.8,451.0 267.4,450.9 267.0,450.9 266.6,450.8M267.5,451.1 267.1,451.1 266.6,451.0 266.2,450.9 265.7,450.8M267.1,451.2 266.7,451.2 266.2,451.1 265.7,451.1 265.3,450.9M266.3,451.3 265.8,451.2 265.3,451.2 264.8,451.1M265.9,451.4 265.4,451.4 264.9,451.3 264.3,451.2M265.6,451.5 265.0,451.5 264.4,451.4 263.9,451.3M265.2,451.6 264.6,451.6 264.0,451.5 263.4,451.4M264.9,451.6 264.2,451.7 263.6,451.6 263.0,451.5 262.3,451.4M263.8,451.7 263.2,451.7 262.5,451.6 261.9,451.5M263.5,451.8 262.8,451.8 262.1,451.7 261.4,451.6M263.1,451.9 262.4,451.9 261.7,451.8 261.0,451.7 260.3,451.6M262.7,452.0 262.0,452.0 261.3,451.9 260.5,451.8 259.8,451.7M261.6,452.0 260.9,452.0 260.1,451.9 259.4,451.8M261.3,452.1 260.5,452.1 259.7,452.0 258.9,451.9 258.2,451.7M260.9,452.2 260.1,452.1 259.3,452.0 258.5,451.9 257.7,451.8M259.7,452.2 258.9,452.1 258.1,452.0 257.3,451.8M259.4,452.2 258.5,452.2 257.7,452.0 256.8,451.9M258.1,452.2 257.3,452.1 256.4,451.9M257.8,452.3 256.9,452.1 256.0,452.0M256.5,452.2 255.7,452.0M256.2,452.2 255.3,452.1M280.7,423.2 279.8,422.8 278.9,422.5M274.4,448.5 273.9,448.7 273.4,448.9 272.8,449.1 272.3,449.4 271.8,449.6 271.2,449.8 270.7,450.0 270.1,450.2 269.5,450.4 269.0,450.6 268.4,450.7 267.9,450.9 267.3,451.1M277.4,446.8 276.9,447.1 276.4,447.3 275.9,447.6 275.3,447.9 274.8,448.1 274.2,448.4 273.6,448.6 273.0,448.9 272.4,449.1 271.8,449.3 271.1,449.6 270.5,449.8 269.9,450.0 269.3,450.2 268.6,450.5 268.0,450.7 267.4,450.8 266.8,451.0 266.2,451.2 265.6,451.4 265.0,451.5 264.4,451.7 263.9,451.8M279.5,445.4 279.0,445.7 278.5,446.0 278.0,446.3 277.4,446.5 276.9,446.8 276.3,447.1 275.7,447.4 275.0,447.7 274.4,448.0 273.7,448.2 273.1,448.5M268.2,450.3 267.6,450.5 266.9,450.7 266.2,450.9 265.5,451.1 264.9,451.3 264.2,451.5 263.6,451.6 263.0,451.8 262.4,451.9 261.8,452.0 261.3,452.1M281.5,443.9 281.1,444.1 280.6,444.4 280.2,444.7 279.6,445.0 279.1,445.3 278.5,445.6 277.9,446.0 277.3,446.3M263.4,451.3 262.8,451.5 262.1,451.7 261.4,451.8 260.8,451.9 260.2,452.0 259.6,452.1 259.1,452.2M282.6,442.8 282.2,443.1 281.8,443.4 281.3,443.7 280.7,444.0 280.2,444.3 279.6,444.7M260.5,451.6 259.8,451.8 259.2,451.9 258.5,452.0 257.9,452.1 257.4,452.2 256.8,452.2M284.1,441.3 283.7,441.6 283.3,441.9 282.8,442.2 282.3,442.6 281.8,442.9 281.2,443.2M285.0,440.1 284.7,440.4 284.3,440.7 283.8,441.0 283.3,441.4 282.8,441.7M285.8,438.8 285.5,439.1 285.1,439.4 284.7,439.8 284.3,440.1 283.8,440.5M286.3,437.8 285.9,438.2 285.5,438.5 285.1,438.9M286.9,436.5 286.6,436.9 286.2,437.2 285.8,437.5 285.4,437.9M287.3,435.2 287.1,435.5 286.8,435.9 286.4,436.2 286.0,436.6M287.4,434.2 287.2,434.6 286.9,434.9 286.5,435.3M287.6,432.9 287.4,433.2 287.2,433.6 286.9,433.9M287.5,432.0 287.3,432.3 287.1,432.6 286.7,433.0M287.5,430.7 287.3,431.0 287.1,431.3 286.8,431.7M287.1,429.8 287.0,430.1 286.8,430.4 286.5,430.8M286.8,428.6 286.7,428.9 286.5,429.2 286.3,429.5M286.2,427.8 286.1,428.1 286.0,428.4 285.8,428.7M285.6,426.7 285.5,427.0 285.5,427.3 285.3,427.6M284.8,426.0 284.8,426.2 284.7,426.5 284.5,426.8M283.9,425.0 283.9,425.3 283.9,425.5 283.8,425.8 283.7,426.1M282.9,424.4 283.0,424.6 282.9,424.9 282.9,425.1M281.9,423.8 281.9,424.0 281.9,424.3 281.8,424.5M280.8,423.3 280.8,423.5 280.8,423.7 280.7,424.0M280.7,423.1 280.8,423.3M279.5,422.8 279.6,423.0 279.6,423.3M279.5,422.7 279.5,422.8" fill="none" stroke="#000" stroke-width="0.3" stroke-opacity="0.55"/><path d="M280.7,423.9 279.8,423.5M283.1,425.4 282.3,424.9 281.5,424.5 280.7,424.1 279.8,423.7M284.3,426.6 283.7,426.1 283.0,425.6 282.2,425.1 281.4,424.6 280.6,424.2M285.8,428.6 285.3,428.0 284.8,427.4 284.2,426.8 283.6,426.3 282.9,425.8 282.1,425.3 281.3,424.8 280.4,424.4M286.5,430.1 286.1,429.4 285.7,428.8 285.2,428.2 284.6,427.6 284.1,427.0 283.4,426.5 282.7,426.0 281.9,425.5 281.2,425.0 280.3,424.6M286.8,431.7 286.6,431.0 286.3,430.3 285.9,429.7 285.5,429.0 285.0,428.4 284.5,427.8 283.9,427.2 283.2,426.7 282.5,426.2 281.8,425.7 281.0,425.2M286.8,432.6 286.6,431.9 286.4,431.2 286.1,430.6 285.7,429.9 285.3,429.3 284.8,428.6 284.3,428.0 283.7,427.5 283.0,426.9 282.3,426.4 281.6,425.9 280.8,425.5M286.7,434.3 286.7,433.6 286.6,432.9 286.4,432.2 286.1,431.5 285.8,430.8 285.5,430.1 285.0,429.5 284.6,428.9 284.0,428.3 283.4,427.7 282.8,427.2 282.1,426.6 281.4,426.1M286.5,435.3 286.5,434.5 286.4,433.8 286.3,433.1 286.1,432.4 285.9,431.7 285.6,431.1 285.2,430.4 284.8,429.8 284.3,429.1 283.8,428.5 283.2,428.0 282.5,427.4 281.9,426.9M286.2,436.2 286.2,435.5 286.2,434.8 286.1,434.1 286.0,433.4 285.8,432.7 285.6,432.0 285.3,431.3 284.9,430.7 284.5,430.0 284.0,429.4 283.5,428.8M285.8,437.2 285.9,436.5 285.9,435.8 285.9,435.0 285.8,434.3 285.7,433.6 285.5,432.9 285.2,432.2 284.9,431.6 284.6,430.9 284.2,430.3M285.3,438.1 285.5,437.4 285.6,436.7 285.6,436.0 285.6,435.3 285.5,434.6 285.4,433.9 285.2,433.2 284.9,432.5 284.6,431.8M284.8,439.1 285.0,438.4 285.1,437.7 285.2,437.0 285.2,436.3 285.2,435.6 285.1,434.9 285.0,434.2 284.8,433.5M284.2,440.0 284.4,439.3 284.6,438.6 284.8,438.0 284.8,437.2 284.9,436.5 284.8,435.8 284.7,435.1 284.6,434.5M283.6,440.9 283.8,440.3 284.1,439.6 284.3,438.9 284.4,438.2 284.5,437.5 284.5,436.8 284.4,436.1 284.3,435.4M283.2,441.2 283.5,440.5 283.7,439.8 283.9,439.2 284.0,438.5 284.0,437.8 284.1,437.1 284.0,436.4M282.5,442.0 282.8,441.4 283.1,440.8 283.3,440.1 283.5,439.4 283.6,438.8 283.6,438.1 283.6,437.4M281.8,442.9 282.1,442.3 282.4,441.7 282.7,441.0 282.9,440.4 283.0,439.7 283.1,439.0 283.2,438.4M281.4,443.1 281.7,442.5 282.0,441.9 282.3,441.3 282.4,440.6 282.6,440.0 282.7,439.3M280.7,443.9 281.0,443.4 281.3,442.8 281.6,442.2 281.8,441.5 282.0,440.9 282.1,440.3M280.3,444.1 280.6,443.6 280.9,443.0 281.2,442.4 281.4,441.8 281.5,441.2 281.6,440.5M279.9,444.4 280.2,443.8 280.5,443.3 280.7,442.7 280.9,442.1 281.0,441.4M279.1,445.1 279.5,444.6 279.8,444.1 280.0,443.5 280.2,442.9 280.4,442.3 280.5,441.7M278.7,445.3 279.0,444.8 279.3,444.3 279.5,443.7 279.7,443.2 279.9,442.6M278.3,445.5 278.6,445.0 278.9,444.5 279.1,444.0 279.2,443.4 279.4,442.9M277.6,446.2 277.9,445.8 278.2,445.3 278.4,444.8 278.6,444.2 278.7,443.7M277.2,446.4 277.5,446.0 277.7,445.5 277.9,445.0 278.1,444.5 278.2,444.0M276.8,446.6 277.0,446.2 277.2,445.7 277.4,445.3 277.5,444.7 277.7,444.2M276.3,446.8 276.6,446.4 276.7,446.0 276.9,445.5 277.0,445.0M275.9,447.0 276.1,446.6 276.2,446.2 276.4,445.7 276.5,445.2M275.4,447.2 275.6,446.8 275.7,446.4 275.9,446.0 275.9,445.5M274.8,447.8 275.0,447.4 275.1,447.0 275.2,446.6 275.3,446.2 275.4,445.7M274.4,448.0 274.5,447.6 274.6,447.3 274.7,446.9 274.8,446.4 274.8,446.0M274.0,448.1 274.1,447.8 274.1,447.5 274.2,447.1 274.2,446.7M273.5,448.3 273.6,448.0 273.6,447.7 273.7,447.3 273.7,446.9M273.1,448.5 273.1,448.2 273.1,447.9 273.1,447.5 273.1,447.1M272.6,448.7 272.6,448.4 272.6,448.1 272.6,447.8 272.5,447.4M272.2,448.9 272.2,448.6 272.1,448.3 272.0,448.0 272.0,447.6M271.7,449.1 271.7,448.8 271.6,448.5 271.5,448.2 271.4,447.8M271.3,449.2 271.2,449.0 271.1,448.7 270.9,448.4 270.8,448.0M270.8,449.4 270.7,449.2 270.5,448.9 270.4,448.6 270.2,448.3M270.3,449.6 270.2,449.3 270.0,449.1 269.8,448.8 269.6,448.5M269.9,449.7 269.7,449.5 269.5,449.3 269.3,449.0 269.0,448.7M269.4,449.9 269.2,449.7 269.0,449.5 268.7,449.2 268.5,448.9M268.9,450.1 268.7,449.9 268.4,449.6 268.2,449.4 267.9,449.1M268.5,450.2 268.2,450.0 267.9,449.8 267.6,449.6 267.3,449.3M268.0,450.4 267.7,450.2 267.4,450.0 267.0,449.8 266.7,449.5M267.6,450.5 267.2,450.4 266.9,450.2 266.5,449.9 266.1,449.7M267.1,450.7 266.7,450.5 266.3,450.3 265.9,450.1 265.5,449.8 265.1,449.5M266.6,450.8 266.2,450.7 265.8,450.5 265.4,450.3 265.0,450.0 264.5,449.7M265.7,450.8 265.3,450.6 264.9,450.4 264.4,450.2 264.0,449.9M265.3,450.9 264.8,450.8 264.3,450.6 263.8,450.3 263.4,450.1M264.8,451.1 264.3,450.9 263.8,450.7 263.3,450.5 262.8,450.2M264.3,451.2 263.8,451.1 263.3,450.9 262.7,450.7 262.2,450.4M263.9,451.3 263.3,451.2 262.7,451.0 262.2,450.8 261.6,450.5M263.4,451.4 262.8,451.3 262.2,451.1 261.6,450.9 261.1,450.7M262.3,451.4 261.7,451.3 261.1,451.1 260.5,450.8M261.9,451.5 261.2,451.4 260.6,451.2M261.4,451.6 260.7,451.5 260.1,451.3M260.3,451.6 259.6,451.4M259.8,451.7 259.1,451.5M259.4,451.8 258.6,451.6M273.1,448.5 272.4,448.8 271.7,449.1 271.0,449.3 270.3,449.6 269.6,449.8 268.9,450.1 268.2,450.3M277.3,446.3 276.6,446.6 276.0,446.9 275.3,447.2 274.6,447.5 273.9,447.8 273.1,448.1 272.4,448.4 271.6,448.7 270.9,449.0 270.1,449.3 269.4,449.5 268.6,449.8 267.8,450.0 267.1,450.3 266.3,450.5 265.6,450.7 264.9,451.0 264.2,451.1 263.4,451.3M279.6,444.7 278.9,445.0 278.3,445.3 277.6,445.7 276.9,446.0 276.2,446.3 275.5,446.7 274.7,447.0 273.9,447.3 273.1,447.7 272.3,448.0 271.5,448.3 270.7,448.6 269.9,448.9 269.1,449.2 268.2,449.5 267.4,449.7 266.6,450.0 265.8,450.3 265.0,450.5 264.2,450.7 263.4,450.9 262.7,451.1 261.9,451.3 261.2,451.5 260.5,451.6M281.2,443.2 280.6,443.6 280.0,443.9 279.3,444.3 278.6,444.7 277.9,445.0 277.2,445.4 276.4,445.7 275.6,446.1 274.8,446.4 273.9,446.8 273.1,447.1 272.2,447.5 271.4,447.8 270.5,448.2M269.6,448.5 268.8,448.8 267.9,449.1 267.0,449.4 266.1,449.7 265.3,449.9 264.4,450.2 263.6,450.4 262.7,450.7 261.9,450.9 261.1,451.1 260.3,451.2 259.6,451.4 258.9,451.6 258.2,451.7M282.8,441.7 282.2,442.1 281.6,442.4 281.0,442.8 280.3,443.2 279.6,443.6 278.9,443.9 278.1,444.3 277.3,444.7 276.5,445.1M283.8,440.5 283.2,440.9 282.6,441.2 282.0,441.6 281.3,442.0 280.6,442.4 279.8,442.8 279.1,443.2M285.1,438.9 284.6,439.2 284.1,439.6 283.5,440.0 282.9,440.4 282.2,440.8 281.5,441.2 280.8,441.6M285.4,437.9 284.9,438.3 284.3,438.7 283.7,439.1 283.1,439.5 282.4,439.9M286.0,436.6 285.5,437.0 285.0,437.4 284.4,437.8 283.8,438.2 283.2,438.6M286.5,435.3 286.1,435.6 285.6,436.0 285.1,436.4 284.5,436.8 283.8,437.2M286.9,433.9 286.5,434.3 286.0,434.7 285.5,435.1 285.0,435.5 284.4,435.9M286.7,433.0 286.3,433.3 285.9,433.7 285.4,434.1 284.9,434.5M286.8,431.7 286.5,432.0 286.1,432.4 285.7,432.8 285.2,433.2 284.6,433.6M286.5,430.8 286.2,431.1 285.8,431.5 285.3,431.9 284.8,432.3M286.3,429.5 286.0,429.9 285.7,430.2 285.3,430.6 284.9,431.0 284.4,431.4M285.8,428.7 285.5,429.0 285.2,429.4 284.8,429.8 284.3,430.1M285.3,427.6 285.1,427.9 284.8,428.2 284.5,428.6 284.1,428.9 283.7,429.3M284.5,426.8 284.3,427.1 284.1,427.4 283.8,427.8 283.4,428.1M283.7,426.1 283.5,426.4 283.2,426.7 282.9,427.0 282.5,427.4M282.9,425.1 282.7,425.4 282.5,425.7 282.3,426.0 282.0,426.4 281.6,426.7M281.8,424.5 281.7,424.8 281.5,425.1 281.3,425.4 281.0,425.7M280.7,424.0 280.6,424.2" fill="none" stroke="#000" stroke-width="0.3" stroke-opacity="0.42"/><path d="M281.9,426.9 281.1,426.4M283.5,428.8 282.9,428.2 282.3,427.6 281.6,427.1M284.2,430.3 283.7,429.7 283.2,429.0 282.6,428.5 282.0,427.9 281.3,427.4M284.6,431.8 284.2,431.2 283.8,430.5 283.3,429.9 282.8,429.3 282.3,428.7 281.6,428.2M284.8,433.5 284.5,432.8 284.2,432.1 283.9,431.5 283.5,430.8 283.0,430.2 282.5,429.6 281.9,429.0 281.3,428.4M284.6,434.5 284.4,433.8 284.1,433.1 283.8,432.4 283.5,431.8 283.1,431.1 282.6,430.5 282.1,429.9 281.5,429.3M284.3,435.4 284.2,434.7 284.0,434.1 283.7,433.4 283.4,432.7 283.1,432.0 282.6,431.4 282.2,430.8 281.7,430.1 281.1,429.5M284.0,436.4 283.9,435.7 283.8,435.0 283.6,434.3 283.3,433.7 283.0,433.0 282.6,432.3 282.2,431.7 281.8,431.1 281.2,430.4M283.6,437.4 283.6,436.7 283.5,436.0 283.3,435.3 283.1,434.6 282.8,434.0 282.5,433.3 282.2,432.6 281.8,432.0 281.3,431.3 280.8,430.7M283.2,438.4 283.2,437.7 283.1,437.0 283.0,436.3 282.8,435.6 282.6,434.9 282.3,434.3 282.0,433.6 281.7,432.9 281.3,432.3 280.8,431.6M282.7,439.3 282.7,438.6 282.7,438.0 282.6,437.3 282.5,436.6 282.3,435.9 282.1,435.2 281.8,434.6 281.5,433.9 281.2,433.2 280.8,432.6 280.3,431.9M282.1,440.3 282.2,439.6 282.2,438.9 282.2,438.3 282.1,437.6 282.0,436.9 281.8,436.2 281.6,435.6 281.3,434.9 281.0,434.2 280.7,433.5 280.2,432.9M281.6,440.5 281.7,439.9 281.7,439.2 281.7,438.6 281.6,437.9 281.4,437.2 281.3,436.5 281.0,435.9 280.8,435.2 280.5,434.5 280.1,433.9M281.0,441.4 281.1,440.8 281.2,440.2 281.2,439.5 281.1,438.9 281.0,438.2 280.9,437.5 280.7,436.8 280.5,436.2 280.2,435.5 279.9,434.8 279.5,434.2M280.5,441.7 280.6,441.1 280.6,440.5 280.6,439.8 280.6,439.2 280.5,438.5 280.3,437.8 280.1,437.2 279.9,436.5 279.6,435.8 279.3,435.2M279.9,442.6 280.0,442.0 280.1,441.4 280.1,440.8 280.1,440.1 280.0,439.5 279.9,438.8 279.7,438.1 279.5,437.5 279.3,436.8 279.0,436.1 278.7,435.5M279.4,442.9 279.5,442.3 279.5,441.7 279.5,441.0 279.5,440.4 279.4,439.8 279.3,439.1 279.1,438.5 278.9,437.8 278.7,437.1 278.4,436.5M278.7,443.7 278.8,443.1 278.9,442.6 278.9,442.0 278.9,441.3 278.9,440.7 278.8,440.1 278.7,439.4 278.5,438.8 278.3,438.1 278.1,437.5M278.2,444.0 278.3,443.4 278.3,442.8 278.4,442.2 278.3,441.6 278.3,441.0 278.2,440.4 278.0,439.7 277.9,439.1 277.6,438.4 277.4,437.8M277.7,444.2 277.7,443.7 277.8,443.1 277.8,442.5 277.7,441.9 277.6,441.3 277.5,440.7 277.4,440.1 277.2,439.4 277.0,438.8M277.0,445.0 277.1,444.5 277.2,443.9 277.2,443.4 277.2,442.8 277.1,442.2 277.0,441.6 276.9,441.0 276.7,440.4 276.5,439.7 276.3,439.1M276.5,445.2 276.5,444.7 276.6,444.2 276.6,443.7 276.5,443.1 276.5,442.5 276.4,441.9 276.2,441.3 276.1,440.7 275.9,440.0M275.9,445.5 276.0,445.0 276.0,444.5 276.0,443.9 275.9,443.4 275.8,442.8 275.7,442.2 275.6,441.6 275.4,441.0M275.4,445.7 275.4,445.3 275.4,444.8 275.3,444.2 275.3,443.7 275.2,443.1 275.0,442.5 274.9,441.9 274.7,441.3M274.8,446.0 274.8,445.5 274.8,445.0 274.7,444.5 274.6,444.0 274.5,443.4 274.3,442.8 274.2,442.2M274.2,446.7 274.2,446.2 274.2,445.8 274.1,445.3 274.1,444.8 273.9,444.2 273.8,443.7 273.7,443.1 273.5,442.5M273.7,446.9 273.6,446.5 273.6,446.0 273.5,445.6 273.4,445.0 273.3,444.5 273.1,444.0 273.0,443.4M273.1,447.1 273.1,446.7 273.0,446.3 272.9,445.8 272.8,445.3 272.6,444.8 272.4,444.3 272.2,443.7M272.5,447.4 272.5,447.0 272.4,446.5 272.2,446.1 272.1,445.6 271.9,445.1 271.7,444.5M272.0,447.6 271.9,447.2 271.7,446.8 271.6,446.3 271.4,445.8 271.2,445.3 271.0,444.8M271.4,447.8 271.3,447.4 271.1,447.0 270.9,446.6 270.7,446.1 270.5,445.6M270.8,448.0 270.6,447.7 270.5,447.3 270.3,446.8 270.1,446.4 269.8,445.9M270.2,448.3 270.0,447.9 269.8,447.5 269.6,447.1 269.4,446.6 269.1,446.1M269.6,448.5 269.4,448.1 269.2,447.7 269.0,447.3 268.7,446.9M269.0,448.7 268.8,448.3 268.6,448.0 268.3,447.6 268.0,447.1M268.5,448.9 268.2,448.6 267.9,448.2 267.6,447.8 267.3,447.4M267.9,449.1 267.6,448.8 267.3,448.4 267.0,448.0M267.3,449.3 267.0,449.0 266.6,448.6 266.3,448.2M266.7,449.5 266.4,449.2 266.0,448.8 265.7,448.4M266.1,449.7 265.8,449.4 265.4,449.0M265.1,449.5 264.7,449.2M264.5,449.7 264.1,449.4M264.0,449.9 263.5,449.6M270.5,448.2 269.6,448.5M276.5,445.1 275.7,445.5 274.8,445.8 273.9,446.2 273.0,446.6 272.1,446.9 271.2,447.3 270.3,447.7 269.4,448.0 268.4,448.3 267.5,448.6 266.6,449.0 265.6,449.3 264.7,449.5 263.8,449.8 262.9,450.1M279.1,443.2 278.3,443.6 277.4,444.0 276.6,444.4 275.7,444.8 274.8,445.2 273.9,445.6 272.9,446.0 272.0,446.4 271.0,446.7 270.0,447.1 269.0,447.5 268.1,447.8 267.1,448.1 266.1,448.5M280.8,441.6 280.0,442.0 279.2,442.4 278.3,442.8 277.5,443.3 276.6,443.7 275.6,444.1 274.7,444.5 273.7,444.9 272.8,445.3 271.8,445.7 270.7,446.1 269.7,446.5 268.7,446.9 267.7,447.2M282.4,439.9 281.6,440.3 280.9,440.7 280.1,441.2 279.2,441.6 278.4,442.0 277.4,442.5 276.5,442.9 275.6,443.3 274.6,443.8 273.6,444.2 272.6,444.6 271.5,445.0 270.5,445.4M283.2,438.6 282.4,439.0 281.7,439.4 280.9,439.9 280.1,440.3 279.2,440.8 278.3,441.2 277.4,441.7 276.4,442.1 275.4,442.6 274.4,443.0 273.4,443.5 272.3,443.9M283.8,437.2 283.2,437.7 282.4,438.1 281.7,438.6 280.8,439.0 280.0,439.5 279.1,439.9 278.2,440.4 277.2,440.8 276.2,441.3 275.2,441.8 274.2,442.2M284.4,435.9 283.8,436.3 283.1,436.8 282.3,437.2 281.5,437.7 280.7,438.1 279.8,438.6 278.9,439.1 278.0,439.5 277.0,440.0 276.0,440.5 275.0,440.9M284.9,434.5 284.2,435.0 283.6,435.4 282.9,435.8 282.1,436.3 281.3,436.8 280.5,437.2 279.6,437.7 278.7,438.2 277.7,438.7 276.7,439.1M284.6,433.6 284.0,434.1 283.3,434.5 282.6,434.9 281.9,435.4 281.0,435.9 280.2,436.3 279.3,436.8 278.4,437.3 277.4,437.8M284.8,432.3 284.2,432.7 283.6,433.1 283.0,433.6 282.3,434.0 281.5,434.5 280.7,435.0 279.8,435.4 278.9,435.9M284.4,431.4 283.8,431.8 283.2,432.3 282.5,432.7 281.8,433.2 281.0,433.6 280.2,434.1 279.4,434.6M284.3,430.1 283.8,430.5 283.3,431.0 282.6,431.4 282.0,431.8 281.3,432.3 280.5,432.7M283.7,429.3 283.2,429.7 282.6,430.1 282.0,430.6 281.4,431.0 280.7,431.4M283.4,428.1 282.9,428.5 282.4,428.9 281.9,429.3 281.3,429.7M282.5,427.4 282.1,427.8 281.6,428.2 281.1,428.6M281.6,426.7 281.2,427.1" fill="none" stroke="#000" stroke-width="0.3" stroke-opacity="0.38"/><path d="M254.6,452.1 253.7,451.9M254.3,452.1 253.4,451.9 252.5,451.7M254.0,452.1 253.1,451.9 252.2,451.7 251.3,451.4M253.7,452.1 252.8,451.9 251.9,451.6 251.0,451.4 250.2,451.0M253.5,452.0 252.5,451.8 251.6,451.6 250.7,451.3 249.9,451.0 249.1,450.7M253.2,452.0 252.3,451.8 251.3,451.6 250.5,451.3 249.6,451.0 248.8,450.6 248.0,450.2M252.0,451.8 251.1,451.5 250.2,451.3 249.3,450.9 248.5,450.6 247.7,450.2 247.0,449.8 246.3,449.3M250.9,451.5 250.0,451.2 249.1,450.9 248.3,450.5 247.5,450.1 246.8,449.7 246.1,449.2 245.4,448.7M248.9,450.8 248.1,450.5 247.3,450.1 246.5,449.6 245.8,449.2 245.2,448.7 244.6,448.1 244.1,447.5M247.9,450.4 247.1,450.0 246.3,449.5 245.6,449.1 245.0,448.6 244.4,448.0 243.8,447.5 243.4,446.9 242.9,446.2M246.1,449.5 245.4,449.0 244.8,448.5 244.2,447.9 243.7,447.4 243.2,446.8 242.7,446.1 242.4,445.5 242.1,444.8M244.6,448.4 244.0,447.8 243.5,447.3 243.0,446.7 242.6,446.0 242.2,445.4 241.9,444.7 241.7,444.0 241.5,443.3M243.9,447.7 243.4,447.1 242.9,446.5 242.4,445.9 242.1,445.3 241.8,444.6 241.5,443.9 241.3,443.2 241.2,442.4 241.2,441.7M242.8,446.4 242.3,445.8 242.0,445.1 241.7,444.5 241.4,443.8 241.2,443.0 241.1,442.3 241.1,441.6 241.1,440.8 241.2,440.0 241.3,439.2M241.6,444.3 241.3,443.6 241.2,442.9 241.0,442.2 241.0,441.4 241.0,440.7 241.1,439.9 241.2,439.1 241.4,438.3 241.7,437.5M241.1,442.8 241.0,442.0 240.9,441.3 240.9,440.5 241.0,439.7 241.2,439.0 241.4,438.2 241.6,437.4 242.0,436.6 242.4,435.8M240.9,441.1 240.9,440.4 241.0,439.6 241.1,438.8 241.3,438.0 241.6,437.3 241.9,436.5 242.3,435.7 242.8,434.9 243.3,434.1M240.9,440.2 241.0,439.4 241.1,438.7 241.3,437.9 241.6,437.1 241.9,436.3 242.3,435.6 242.8,434.8 243.3,434.0 243.9,433.2M241.2,438.5 241.4,437.7 241.6,437.0 242.0,436.2 242.4,435.4 242.8,434.6 243.3,433.9 243.9,433.1 244.5,432.4 245.2,431.6M241.7,436.8 242.0,436.0 242.4,435.3 242.9,434.5 243.4,433.7 243.9,433.0 244.6,432.2 245.2,431.5 246.0,430.8M242.1,435.9 242.5,435.1 242.9,434.3 243.4,433.6 244.0,432.8 244.6,432.1 245.3,431.4 246.0,430.7 246.8,430.0M243.0,434.2 243.5,433.4 244.1,432.7 244.7,432.0 245.4,431.3 246.1,430.6 246.9,429.9 247.7,429.2M243.6,433.3 244.2,432.5 244.8,431.8 245.4,431.1 246.2,430.4 246.9,429.8 247.7,429.1 248.6,428.5M244.3,432.4 244.9,431.7 245.5,431.0 246.3,430.3 247.0,429.6 247.8,429.0 248.7,428.4M245.0,431.5 245.7,430.8 246.4,430.2 247.1,429.5 247.9,428.9 248.8,428.3 249.7,427.7M245.8,430.7 246.5,430.0 247.2,429.4 248.0,428.8 248.9,428.2 249.7,427.6 250.7,427.0M246.6,429.9 247.4,429.3 248.1,428.6 249.0,428.1 249.8,427.5 250.7,427.0M246.8,429.7 247.5,429.1 248.3,428.5 249.1,427.9 249.9,427.4 250.8,426.9M247.7,429.0 248.4,428.4 249.2,427.8 250.1,427.3 250.9,426.8 251.9,426.3M248.6,428.3 249.4,427.7 250.2,427.2 251.1,426.7 252.0,426.2M248.8,428.1 249.5,427.6 250.3,427.1 251.2,426.6 252.1,426.1M248.9,428.0 249.7,427.5 250.5,427.0 251.3,426.5 252.2,426.0 253.1,425.6M249.9,427.3 250.6,426.8 251.5,426.4 252.3,425.9 253.2,425.5M250.1,427.2 250.8,426.7 251.6,426.3 252.4,425.9 253.3,425.5M251.0,426.6 251.8,426.2 252.6,425.8 253.4,425.4M251.2,426.5 251.9,426.1 252.7,425.7 253.5,425.3M251.4,426.4 252.1,425.9 252.9,425.6 253.7,425.2 254.5,424.9M251.6,426.2 252.3,425.8 253.0,425.5 253.8,425.2 254.6,424.9M252.5,425.7 253.2,425.4 253.9,425.1 254.7,424.8M252.7,425.6 253.3,425.3 254.1,425.0 254.8,424.7M252.9,425.5 253.5,425.2 254.2,424.9 254.9,424.7M253.1,425.4 253.7,425.1 254.4,424.8 255.0,424.6M253.3,425.3 253.9,425.0 254.5,424.7 255.2,424.5M254.1,424.9 254.7,424.7 255.3,424.5M254.3,424.8 254.8,424.6 255.4,424.4M254.5,424.7 255.0,424.5 255.6,424.3 256.1,424.2M254.7,424.6 255.2,424.4 255.7,424.3 256.2,424.1M254.9,424.5 255.4,424.3 255.8,424.2 256.3,424.1M255.1,424.4 255.5,424.2 256.0,424.1 256.5,424.0M255.3,424.3 255.7,424.2 256.1,424.1 256.6,424.0M255.6,424.2 255.9,424.1 256.3,424.0 256.7,423.9M255.8,424.1 256.1,424.0 256.4,423.9 256.8,423.9M256.0,424.0 256.3,423.9 256.6,423.9 256.9,423.8M256.2,423.9 256.5,423.8 256.7,423.8 257.0,423.8M256.5,423.8 256.7,423.7 256.9,423.7 257.1,423.7M256.7,423.7 256.9,423.7 257.1,423.7 257.3,423.7M256.9,423.6 257.1,423.6 257.2,423.6 257.4,423.6M257.3,423.5 257.4,423.5 257.5,423.6M257.5,423.4 257.5,423.5 257.6,423.6M257.7,423.4 257.7,423.4 257.8,423.5M257.9,423.3 257.9,423.4 257.9,423.5M258.1,423.2 258.0,423.3 258.0,423.4M258.4,423.1 258.3,423.1 258.2,423.2 258.1,423.4M258.6,423.0 258.5,423.1 258.4,423.2 258.2,423.3M258.9,422.9 258.7,423.0 258.5,423.1 258.4,423.3M259.1,422.8 258.9,422.9 258.7,423.1 258.5,423.2M259.4,422.8 259.1,422.9 258.9,423.0 258.6,423.2M259.6,422.7 259.3,422.8 259.0,423.0 258.7,423.2M259.9,422.6 259.5,422.7 259.2,422.9 258.9,423.1M260.1,422.5 259.7,422.7 259.3,422.9 259.0,423.1M260.3,422.5 259.9,422.6 259.5,422.8 259.1,423.1M260.6,422.4 260.1,422.6 259.6,422.8 259.2,423.0M260.8,422.3 260.3,422.5 259.8,422.7 259.3,423.0M261.0,422.3 260.5,422.5 260.0,422.7 259.4,423.0M261.2,422.2 260.7,422.4 260.1,422.7M261.5,422.2 260.9,422.4 260.3,422.6M262.3,422.0 261.7,422.1 261.0,422.3 260.4,422.6M262.6,421.9 261.9,422.1 261.2,422.3 260.5,422.6M262.8,421.8 262.1,422.0 261.4,422.3 260.7,422.5M263.0,421.8 262.3,422.0 261.6,422.2 260.8,422.5M263.3,421.8 262.5,422.0 261.7,422.2 261.0,422.5M264.3,421.5 263.5,421.7 262.7,421.9 261.9,422.2 261.1,422.5M264.6,421.5 263.7,421.7 262.9,421.9 262.0,422.1 261.2,422.4M264.8,421.5 263.9,421.6 263.1,421.9 262.2,422.1M265.0,421.4 264.1,421.6 263.2,421.8 262.3,422.1M266.2,421.3 265.3,421.4 264.3,421.6 263.4,421.8 262.5,422.1M266.4,421.2 265.5,421.4 264.5,421.6 263.6,421.8 262.6,422.1M267.6,421.1 266.6,421.2 265.7,421.4 264.7,421.5 263.7,421.8 262.7,422.1M267.9,421.1 266.9,421.2 265.9,421.3 264.9,421.5 263.9,421.8M268.1,421.1 267.1,421.2 266.1,421.3 265.0,421.5 264.0,421.8M269.3,421.0 268.3,421.1 267.3,421.2 266.2,421.3 265.2,421.5 264.2,421.8M270.6,421.0 269.6,421.0 268.5,421.1 267.5,421.2 266.4,421.3 265.4,421.5M270.8,421.0 269.8,421.0 268.7,421.1 267.7,421.2 266.6,421.3 265.5,421.5M272.1,421.0 271.0,421.0 270.0,421.0 268.9,421.1 267.8,421.2 266.7,421.3 265.6,421.5M273.3,421.1 272.3,421.0 271.2,421.0 270.2,421.0 269.1,421.1 268.0,421.2 266.9,421.3M274.6,421.2 273.5,421.1 272.5,421.1 271.4,421.0 270.3,421.1 269.2,421.1 268.1,421.2M275.8,421.4 274.8,421.3 273.7,421.2 272.7,421.1 271.6,421.1 270.5,421.1 269.4,421.1 268.3,421.2M277.0,421.7 276.0,421.5 275.0,421.3 273.9,421.2 272.9,421.1 271.8,421.1 270.7,421.1 269.5,421.2M277.2,421.7 276.2,421.5 275.1,421.4 274.1,421.3 273.0,421.2 271.9,421.1 270.8,421.2M277.3,421.8 276.3,421.6 275.3,421.4 274.2,421.3 273.2,421.2 272.0,421.2M277.5,421.9 276.5,421.7 275.4,421.5 274.4,421.4 273.3,421.3M277.6,422.0 276.6,421.7 275.6,421.6M277.7,422.1 276.7,421.8M255.1,452.1 254.6,452.1 254.2,452.1M253.4,451.8 252.9,451.8 252.5,451.8 252.1,451.8 251.7,451.7M251.8,451.5 251.3,451.5 250.9,451.4 250.5,451.4 250.2,451.3M250.2,451.0 249.7,451.0 249.3,450.9 249.0,450.9M248.7,450.5 248.3,450.5 247.9,450.4 247.6,450.3M247.7,450.0 247.3,449.9 246.9,449.8 246.6,449.7M246.3,449.3 245.9,449.2 245.6,449.1 245.4,448.9M245.1,448.5 244.8,448.4 244.5,448.2M244.4,447.8 244.0,447.7 243.7,447.5 243.5,447.3M243.4,446.9 243.1,446.7 242.9,446.5M242.8,446.0 242.5,445.9 242.3,445.7 242.2,445.5M242.1,445.0 241.9,444.8 241.7,444.6M241.7,444.1 241.5,443.9 241.4,443.7M241.5,443.1 241.3,442.9 241.1,442.7 241.0,442.5M241.2,441.9 241.0,441.7 240.9,441.5M241.2,440.9 241.0,440.7 240.9,440.5 240.9,440.3M241.2,439.7 241.1,439.5 241.0,439.3M241.4,438.6 241.3,438.4 241.3,438.2 241.3,438.0M241.7,437.6 241.6,437.4 241.6,437.2 241.6,437.0M242.1,436.3 242.1,436.1 242.1,435.9 242.2,435.7M242.7,435.3 242.6,435.1 242.7,434.9 242.7,434.7 242.8,434.4M243.3,434.1 243.3,433.9 243.4,433.7 243.5,433.4M275.8,421.4 276.1,421.5 276.3,421.6 276.5,421.7 276.7,421.8M244.1,433.0 244.1,432.9 244.2,432.7 244.3,432.5 244.4,432.2M274.1,421.2 274.4,421.2 274.7,421.3 275.0,421.4 275.1,421.5M245.0,431.9 245.0,431.7 245.1,431.5 245.3,431.3 245.4,431.1M272.4,421.0 272.8,421.1 273.0,421.1 273.3,421.2 273.5,421.3 273.7,421.4M246.0,430.7 246.1,430.6 246.2,430.4 246.4,430.2 246.6,430.0 246.8,429.7M270.7,421.0 271.0,421.0 271.3,421.0 271.6,421.1 271.8,421.1 272.0,421.2M247.1,429.7 247.2,429.5 247.4,429.3 247.6,429.1 247.8,428.9 248.0,428.7M268.6,421.0 269.0,421.0 269.3,421.0 269.6,421.0 269.9,421.1 270.1,421.1 270.4,421.2M248.4,428.6 248.5,428.5 248.6,428.3 248.8,428.1 249.0,427.9 249.3,427.8 249.5,427.6M266.6,421.2 267.0,421.2 267.3,421.1 267.6,421.1 267.9,421.1 268.2,421.1 268.4,421.2 268.6,421.2M249.7,427.7 249.8,427.5 249.9,427.4 250.1,427.2 250.3,427.1 250.6,426.9 250.8,426.7 251.1,426.5 251.4,426.4M264.3,421.5 264.7,421.5 265.0,421.4 265.4,421.4 265.7,421.4 266.0,421.3 266.2,421.3 266.5,421.3 266.7,421.3 266.9,421.4M251.1,426.7 251.3,426.6 251.5,426.4 251.7,426.3 251.9,426.1 252.1,426.0 252.4,425.8 252.6,425.7 252.9,425.5 253.2,425.3 253.5,425.2 253.8,425.0 254.1,424.8M261.5,422.2 261.9,422.1 262.2,422.0 262.6,421.9 262.9,421.8 263.2,421.8 263.5,421.7 263.8,421.7 264.1,421.6 264.4,421.6 264.6,421.6 264.9,421.6 265.1,421.6M252.8,425.7 253.0,425.6 253.2,425.5 253.4,425.3 253.6,425.2 253.8,425.1 254.1,425.0 254.3,424.8 254.6,424.7 254.8,424.6 255.1,424.4 255.4,424.3 255.7,424.2 256.0,424.0 256.3,423.9 256.6,423.8 256.9,423.6 257.2,423.5 257.6,423.4 257.9,423.3 258.2,423.2 258.5,423.0 258.9,422.9 259.2,422.8 259.5,422.7 259.8,422.6 260.1,422.5 260.5,422.5 260.8,422.4 261.1,422.3 261.3,422.2 261.6,422.2 261.9,422.1 262.1,422.1 262.4,422.0 262.6,422.0 262.9,422.0 263.1,422.0M254.8,424.7 255.0,424.6 255.2,424.5 255.4,424.4 255.6,424.3 255.8,424.2 256.0,424.1 256.2,424.0 256.4,423.9 256.7,423.8 256.9,423.7 257.1,423.6 257.4,423.5 257.6,423.4 257.9,423.4 258.1,423.3 258.4,423.2 258.6,423.1 258.9,423.0 259.1,422.9 259.3,422.9 259.6,422.8 259.8,422.7 260.0,422.7 260.3,422.6 260.5,422.6 260.7,422.5 260.9,422.5" fill="none" stroke="#ff3300" stroke-width="0.3" stroke-opacity="1.00"/><path d="M278.9,422.6 277.9,422.4 276.9,422.1 275.8,422.0 274.8,421.8 273.6,421.7 272.5,421.6 271.3,421.6 270.1,421.6 268.9,421.7 267.7,421.8 266.5,421.9M278.9,422.8 277.9,422.5 276.9,422.3 275.9,422.1 274.8,421.9 273.7,421.8 272.5,421.7 271.3,421.7 270.2,421.7M279.9,423.2 278.9,422.9 277.9,422.6 276.9,422.4 275.9,422.2 274.8,422.0 273.7,421.9M279.9,423.4 278.9,423.1 277.9,422.8M257.3,451.8 256.5,451.6M256.8,451.9 256.1,451.7 255.3,451.4M256.4,451.9 255.6,451.7 254.8,451.5M256.0,452.0 255.2,451.8 254.4,451.6 253.6,451.3M255.7,452.0 254.8,451.8 254.0,451.6 253.2,451.3 252.4,451.0M255.3,452.1 254.4,451.9 253.6,451.6 252.8,451.3 252.0,451.0 251.3,450.7M255.0,452.1 254.1,451.9 253.2,451.6 252.4,451.4 251.6,451.1 250.8,450.7 250.1,450.3M253.7,451.9 252.9,451.7 252.0,451.4 251.2,451.1 250.5,450.7 249.7,450.3 249.0,449.9M252.5,451.7 251.7,451.4 250.9,451.1 250.1,450.7 249.3,450.3 248.6,449.9 248.0,449.4M251.3,451.4 250.5,451.1 249.7,450.7 249.0,450.3 248.3,449.9 247.6,449.4 247.0,448.9M250.2,451.0 249.4,450.7 248.6,450.3 247.9,449.9 247.3,449.4 246.6,448.9 246.1,448.4 245.5,447.8M249.1,450.7 248.3,450.3 247.6,449.8 246.9,449.4 246.3,448.9 245.7,448.3 245.2,447.8 244.7,447.2 244.3,446.6M248.0,450.2 247.3,449.8 246.6,449.3 246.0,448.8 245.4,448.3 244.9,447.7 244.4,447.1 244.0,446.5 243.6,445.9M246.3,449.3 245.7,448.8 245.1,448.2 244.6,447.7 244.1,447.1 243.7,446.5 243.3,445.8 243.0,445.1 242.8,444.4 242.6,443.7M245.4,448.7 244.8,448.2 244.3,447.6 243.8,447.0 243.4,446.4 243.0,445.7 242.7,445.1 242.5,444.4 242.3,443.6 242.2,442.9 242.1,442.1M244.1,447.5 243.6,446.9 243.2,446.3 242.8,445.7 242.5,445.0 242.2,444.3 242.1,443.6 241.9,442.8 241.9,442.1 241.9,441.3 241.9,440.5M242.9,446.2 242.6,445.6 242.3,444.9 242.0,444.2 241.8,443.5 241.7,442.7 241.7,442.0 241.7,441.2 241.7,440.4 241.9,439.6 242.0,438.8 242.3,438.0M242.1,444.8 241.8,444.1 241.7,443.4 241.5,442.7 241.5,441.9 241.5,441.1 241.5,440.3 241.7,439.6 241.9,438.8 242.1,438.0 242.4,437.1 242.8,436.3 243.3,435.5M241.5,443.3 241.4,442.5 241.3,441.8 241.3,441.0 241.4,440.2 241.5,439.5 241.7,438.7 242.0,437.9 242.3,437.1 242.7,436.3 243.1,435.4 243.6,434.6 244.2,433.9 244.8,433.1 245.5,432.3M241.2,441.7 241.2,440.9 241.3,440.1 241.4,439.4 241.6,438.6 241.9,437.8 242.2,437.0 242.6,436.2 243.0,435.4 243.5,434.6 244.1,433.8 244.7,433.0 245.4,432.2 246.1,431.5 246.9,430.7 247.7,430.0M241.3,439.2 241.5,438.4 241.8,437.6 242.1,436.9 242.5,436.1 242.9,435.3 243.4,434.5 244.0,433.7 244.6,432.9 245.3,432.1 246.0,431.4 246.8,430.6 247.6,429.9 248.5,429.2 249.4,428.5 250.4,427.9M241.7,437.5 242.0,436.7 242.4,435.9 242.9,435.1 243.4,434.4 243.9,433.6 244.6,432.8 245.2,432.0 246.0,431.3 246.8,430.6 247.6,429.8 248.5,429.1 249.4,428.5 250.4,427.8 251.3,427.2 252.4,426.6 253.5,426.0M242.4,435.8 242.8,435.0 243.3,434.2 243.9,433.5 244.5,432.7 245.2,431.9 245.9,431.2 246.7,430.5 247.6,429.8 248.4,429.1 249.4,428.4 250.3,427.8 251.3,427.1 252.4,426.5 253.4,426.0 254.5,425.4M243.3,434.1 243.9,433.4 244.5,432.6 245.2,431.8 245.9,431.1 246.7,430.4 247.5,429.7 248.4,429.0 249.4,428.3 250.3,427.7 251.3,427.1 252.4,426.5 253.4,425.9 254.5,425.4 255.7,424.9M243.9,433.2 244.5,432.5 245.2,431.7 245.9,431.0 246.7,430.3 247.5,429.6 248.4,428.9 249.4,428.3 250.3,427.6 251.3,427.0 252.4,426.4 253.4,425.9 254.5,425.4 255.7,424.9 256.8,424.4M245.2,431.6 245.9,430.9 246.7,430.2 247.6,429.5 248.4,428.8 249.4,428.2 250.3,427.6 251.3,427.0 252.4,426.4 253.4,425.9 254.5,425.3 255.7,424.9 256.8,424.4M246.0,430.8 246.8,430.1 247.6,429.4 248.5,428.8 249.4,428.1 250.3,427.5 251.3,426.9 252.4,426.4 253.5,425.8 254.5,425.3 255.7,424.8 256.8,424.4M246.8,430.0 247.6,429.3 248.5,428.7 249.4,428.0 250.4,427.4 251.4,426.9 252.4,426.3 253.5,425.8 254.6,425.3 255.7,424.8 256.8,424.4M247.7,429.2 248.5,428.6 249.5,428.0 250.4,427.4 251.4,426.8 252.4,426.3 253.5,425.7 254.6,425.3 255.7,424.8 256.8,424.4M248.6,428.5 249.5,427.9 250.5,427.3 251.4,426.7 252.5,426.2 253.5,425.7 254.6,425.2 255.7,424.8 256.8,424.4M248.7,428.4 249.6,427.8 250.5,427.2 251.5,426.7 252.5,426.1 253.6,425.6 254.6,425.2 255.7,424.8 256.9,424.4M249.7,427.7 250.6,427.1 251.6,426.6 252.6,426.1 253.6,425.6 254.7,425.1 255.7,424.7 256.9,424.3 258.0,424.0M250.7,427.0 251.6,426.5 252.6,426.0 253.6,425.5 254.7,425.1 255.8,424.7 256.9,424.3 258.0,424.0M250.7,427.0 251.7,426.4 252.7,426.0 253.7,425.5 254.7,425.1 255.8,424.7 256.9,424.3 258.0,424.0M250.8,426.9 251.8,426.4 252.7,425.9 253.7,425.4 254.8,425.0 255.8,424.7 256.9,424.3 258.0,424.0M251.9,426.3 252.8,425.8 253.8,425.4 254.8,425.0 255.9,424.6 256.9,424.3 258.0,424.0M252.0,426.2 252.9,425.8 253.9,425.3 254.9,425.0 255.9,424.6 256.9,424.3 258.0,424.0M252.1,426.1 253.0,425.7 253.9,425.3 254.9,424.9 255.9,424.6 256.9,424.3 258.0,424.0M253.1,425.6 254.0,425.2 255.0,424.9 256.0,424.5 257.0,424.2 258.0,424.0M253.2,425.5 254.1,425.2 255.0,424.8 256.0,424.5 257.0,424.2 258.0,424.0M253.3,425.5 254.2,425.1 255.1,424.8 256.0,424.5 257.0,424.2 258.0,424.0M253.4,425.4 254.3,425.0 255.2,424.7 256.1,424.4 257.0,424.2 258.0,424.0M253.5,425.3 254.4,425.0 255.2,424.7 256.1,424.4 257.1,424.2 258.0,424.0M254.5,424.9 255.3,424.6 256.2,424.4 257.1,424.2 258.0,424.0M254.6,424.9 255.4,424.6 256.2,424.4 257.1,424.2 258.0,424.0M254.7,424.8 255.5,424.5 256.3,424.3 257.1,424.1 258.0,424.0M254.8,424.7 255.6,424.5 256.4,424.3 257.2,424.1 258.0,424.0M254.9,424.7 255.7,424.4 256.4,424.3 257.2,424.1 258.0,424.0M255.0,424.6 255.7,424.4 256.5,424.2 257.2,424.1 258.0,424.0M255.2,424.5 255.8,424.3 256.5,424.2 257.3,424.1 258.0,424.0M255.3,424.5 255.9,424.3 256.6,424.2 257.3,424.1 258.0,424.0M255.4,424.4 256.0,424.2 256.7,424.1 257.3,424.0 258.0,424.0M256.1,424.2 256.7,424.1 257.4,424.0 258.0,424.0M256.2,424.1 256.8,424.1 257.4,424.0 258.0,424.0M256.3,424.1 256.9,424.0 257.4,424.0 258.0,424.0M256.5,424.0 256.9,424.0 257.5,424.0 258.0,424.0M256.6,424.0 257.0,424.0 257.5,424.0 258.0,424.0M256.7,423.9 257.1,423.9 257.5,423.9 258.0,424.0M256.8,423.9 257.2,423.9 257.6,423.9 258.0,424.0M256.9,423.8 257.3,423.9 257.6,423.9 258.0,424.0M257.0,423.8 257.3,423.8 257.7,423.9 258.0,424.0M257.1,423.7 257.4,423.8 257.7,423.9 258.0,424.0M257.3,423.7 257.5,423.8 257.7,423.9 258.0,424.0M257.4,423.6 257.6,423.7 257.8,423.8 258.0,424.0M257.5,423.6 257.7,423.7 257.8,423.8 258.0,424.0M257.6,423.6 257.7,423.7 257.9,423.8 258.0,424.0M257.8,423.5 257.8,423.6 257.9,423.8 258.0,424.0M257.9,423.5 257.9,423.6 257.9,423.8 258.0,424.0M258.0,423.4 258.0,423.6 258.0,423.8 258.0,424.0M258.1,423.4 258.1,423.5 258.0,423.8 258.0,424.0M258.2,423.3 258.1,423.5 258.1,423.7 258.0,424.0M258.4,423.3 258.2,423.5 258.1,423.7 258.0,424.0M258.5,423.2 258.3,423.5 258.1,423.7 258.0,424.0M258.6,423.2 258.4,423.4 258.2,423.7 258.0,424.0M258.7,423.2 258.5,423.4 258.2,423.7 258.0,424.0M258.9,423.1 258.6,423.4 258.3,423.7 258.0,424.0M259.0,423.1 258.6,423.4 258.3,423.7 258.0,424.0M259.1,423.1 258.7,423.3 258.3,423.6 258.0,424.0M259.2,423.0 258.8,423.3 258.4,423.6 258.0,424.0M259.3,423.0 258.9,423.3 258.4,423.6 258.0,424.0M259.4,423.0 258.9,423.3 258.5,423.6 258.0,424.0M260.1,422.7 259.6,422.9 259.0,423.3 258.5,423.6 258.0,424.0M260.3,422.6 259.7,422.9 259.1,423.2 258.5,423.6 258.0,424.0M260.4,422.6 259.8,422.9 259.2,423.2 258.6,423.6 258.0,424.0M260.5,422.6 259.9,422.9 259.2,423.2 258.6,423.6 258.0,424.0M260.7,422.5 260.0,422.8 259.3,423.2 258.6,423.6 258.0,424.0M260.8,422.5 260.1,422.8 259.4,423.2 258.7,423.6 258.0,424.0M261.0,422.5 260.2,422.8 259.4,423.2 258.7,423.6 258.0,424.0M261.1,422.5 260.3,422.8 259.5,423.2 258.7,423.6 258.0,424.0M261.2,422.4 260.4,422.8 259.6,423.1 258.8,423.5 258.0,424.0M262.2,422.1 261.3,422.4 260.5,422.8 259.6,423.1 258.8,423.5 258.0,424.0M262.3,422.1 261.4,422.4 260.6,422.7 259.7,423.1 258.8,423.5 258.0,424.0M262.5,422.1 261.6,422.4 260.7,422.7 259.8,423.1 258.9,423.5 258.0,424.0M262.6,422.1 261.7,422.4 260.7,422.7 259.8,423.1 258.9,423.5 258.0,424.0M262.7,422.1 261.8,422.4 260.8,422.7 259.9,423.1 258.9,423.5 258.0,424.0M263.9,421.8 262.9,422.0 261.9,422.4 260.9,422.7 259.9,423.1 258.9,423.5 258.0,424.0M264.0,421.8 263.0,422.0 262.0,422.3 261.0,422.7 260.0,423.1 259.0,423.5 258.0,424.0M264.2,421.8 263.1,422.0 262.1,422.3 261.0,422.7 260.0,423.1 259.0,423.5 258.0,424.0M265.4,421.5 264.3,421.8 263.2,422.0 262.2,422.3 261.1,422.7 260.1,423.1 259.0,423.5 258.0,424.0M265.5,421.5 264.4,421.8 263.3,422.0 262.2,422.3 261.2,422.7 260.1,423.1 259.0,423.5 258.0,424.0M265.6,421.5 264.5,421.8 263.4,422.0 262.3,422.4 261.2,422.7 260.1,423.1 259.1,423.5 258.0,424.0M266.9,421.3 265.8,421.5 264.6,421.8 263.5,422.0 262.4,422.4 261.3,422.7 260.2,423.1 259.1,423.5 258.0,424.0M268.1,421.2 267.0,421.4 265.9,421.6 264.7,421.8 263.6,422.1 262.5,422.4 261.3,422.7 260.2,423.1 259.1,423.5M268.3,421.2 267.1,421.4 266.0,421.6 264.8,421.8 263.7,422.1 262.5,422.4 261.4,422.7 260.2,423.1 259.1,423.5M269.5,421.2 268.4,421.3 267.2,421.4 266.1,421.6 264.9,421.8 263.7,422.1 262.6,422.4 261.4,422.7 260.3,423.1 259.1,423.5M270.8,421.2 269.7,421.2 268.5,421.3 267.3,421.4 266.2,421.6 265.0,421.8 263.8,422.1 262.6,422.4 261.5,422.7 260.3,423.1 259.1,423.5M272.0,421.2 270.9,421.2 269.8,421.3 268.6,421.3 267.4,421.5 266.2,421.7 265.1,421.9 263.9,422.1 262.7,422.4 261.5,422.8 260.3,423.1 259.1,423.5M273.3,421.3 272.2,421.3 271.0,421.3 269.9,421.3 268.7,421.4 267.5,421.5 266.3,421.7 265.1,421.9 263.9,422.2 262.7,422.4 261.5,422.8 260.3,423.1 259.2,423.6M275.6,421.6 274.5,421.5 273.4,421.4 272.3,421.3 271.1,421.3 269.9,421.4 268.8,421.4 267.6,421.6 266.4,421.7 265.2,421.9 264.0,422.2 262.7,422.5 261.5,422.8 260.4,423.2 259.2,423.6M276.7,421.8 275.7,421.7 274.6,421.5 273.5,421.4 272.3,421.4 271.2,421.4 270.0,421.4 268.8,421.5 267.6,421.6 266.4,421.8 265.2,422.0 264.0,422.2 262.8,422.5 261.6,422.8 260.4,423.2M278.8,422.4 277.8,422.2 276.8,421.9 275.7,421.8 274.7,421.6 273.5,421.5 272.4,421.5 271.3,421.5 270.1,421.5 268.9,421.5 267.7,421.7 266.5,421.8 265.2,422.0 264.0,422.2 262.8,422.5 261.6,422.8M278.9,422.5 277.9,422.3 276.9,422.0 275.8,421.9 274.7,421.7 273.6,421.6 272.5,421.5 271.3,421.5 270.1,421.5 268.9,421.6 267.7,421.7 266.5,421.9 265.3,422.1 264.0,422.3 262.8,422.5M258.2,451.7 257.5,451.8 256.8,451.9 256.2,452.0 255.7,452.0 255.1,452.1M255.8,451.6 255.1,451.7 254.5,451.8 254.0,451.8 253.4,451.8M254.1,451.4 253.5,451.4 252.9,451.5 252.3,451.5 251.8,451.5M252.4,451.0 251.8,451.0 251.2,451.1 250.7,451.1 250.2,451.0M250.8,450.6 250.2,450.6 249.6,450.6 249.1,450.6 248.7,450.5M249.3,450.0 248.7,450.0 248.2,450.0 247.7,450.0M247.8,449.4 247.3,449.4 246.8,449.4 246.3,449.3M247.0,448.8 246.4,448.7 245.9,448.7 245.5,448.6 245.1,448.5M245.7,448.0 245.2,447.9 244.7,447.9 244.4,447.8M245.1,447.2 244.6,447.2 244.1,447.1 243.7,447.0 243.4,446.9M244.0,446.3 243.6,446.2 243.2,446.1 242.8,446.0M243.6,445.4 243.1,445.4 242.7,445.3 242.4,445.1 242.1,445.0M242.8,444.4 242.4,444.3 242.0,444.2 241.7,444.1M242.5,443.5 242.1,443.4 241.8,443.2 241.5,443.1M242.0,442.4 241.7,442.2 241.4,442.1 241.2,441.9M242.0,441.3 241.7,441.2 241.4,441.1 241.2,440.9M242.1,440.3 241.8,440.2 241.5,440.0 241.3,439.9 241.2,439.7M242.0,439.1 241.7,439.0 241.5,438.8 241.4,438.6M242.3,438.0 242.1,437.9 241.9,437.8 241.7,437.6M242.7,437.0 242.5,436.8 242.3,436.7 242.2,436.5 242.1,436.3M278.3,422.5 278.3,422.6 278.3,422.9M243.0,435.8 242.9,435.6 242.7,435.5 242.7,435.3M278.1,422.1 278.2,422.3 278.3,422.5M276.9,422.1 276.9,422.3 276.9,422.5M243.7,434.7 243.5,434.6 243.4,434.4 243.3,434.2 243.3,434.1M276.7,421.8 276.8,422.0 276.9,422.1M275.5,421.9 275.5,422.1 275.5,422.3M244.4,433.6 244.3,433.5 244.2,433.4 244.1,433.2 244.1,433.0M275.1,421.5 275.3,421.6 275.4,421.7 275.5,421.9M274.0,421.7 274.0,421.9M245.3,432.6 245.1,432.5 245.0,432.3 245.0,432.2 245.0,432.0 245.0,431.9M273.7,421.4 273.8,421.5 273.9,421.6 274.0,421.7M272.5,421.6 272.5,421.8M246.1,431.5 246.0,431.3 245.9,431.2 245.9,431.1 245.9,430.9 246.0,430.7M272.0,421.2 272.2,421.3 272.3,421.4 272.4,421.5 272.5,421.6M270.9,421.6 271.0,421.7M247.1,430.5 247.1,430.4 247.0,430.2 247.0,430.1 247.0,430.0 247.0,429.8 247.1,429.7M270.4,421.2 270.5,421.2 270.7,421.3 270.8,421.4 270.9,421.5 270.9,421.6M269.3,421.7 269.4,421.8M248.3,429.5 248.2,429.4 248.1,429.3 248.1,429.2 248.1,429.1 248.2,428.9 248.3,428.8 248.4,428.6M268.6,421.2 268.8,421.3 269.0,421.3 269.1,421.4 269.2,421.5 269.3,421.6 269.3,421.7M249.5,428.6 249.4,428.5 249.4,428.4 249.4,428.3 249.4,428.2 249.4,428.1 249.5,428.0 249.5,427.8 249.7,427.7M266.9,421.4 267.1,421.4 267.3,421.4 267.4,421.5 267.5,421.5 267.6,421.6 267.7,421.7 267.7,421.8M250.7,427.6 250.7,427.5 250.6,427.5 250.7,427.4 250.7,427.3 250.7,427.2 250.8,427.1 250.9,426.9 251.0,426.8 251.1,426.7M265.1,421.6 265.3,421.6 265.4,421.6 265.6,421.6 265.7,421.7 265.8,421.7 265.9,421.8 266.0,421.8 266.1,421.9 266.1,422.0M252.0,426.8 252.0,426.7 252.0,426.7 252.0,426.6 252.0,426.5 252.1,426.4 252.1,426.3 252.2,426.2 252.3,426.1 252.4,426.0 252.5,425.9 252.7,425.8 252.8,425.7M263.1,422.0 263.3,421.9 263.5,421.9 263.6,421.9 263.8,421.9 263.9,422.0 264.1,422.0 264.2,422.0 264.3,422.0 264.3,422.1 264.4,422.1 264.4,422.2 264.5,422.2M253.5,426.0 253.4,426.0 253.4,425.9 253.4,425.9 253.5,425.8 253.5,425.7 253.5,425.7 253.6,425.6 253.7,425.5 253.7,425.4 253.8,425.4 253.9,425.3 254.1,425.2 254.2,425.1 254.3,425.0 254.5,424.9 254.6,424.8 254.8,424.7M260.9,422.5 261.1,422.5 261.3,422.4 261.4,422.4 261.6,422.4 261.8,422.4 261.9,422.4 262.1,422.3 262.2,422.3 262.3,422.4 262.4,422.4 262.5,422.4 262.6,422.4 262.7,422.4 262.7,422.5 262.8,422.5 262.8,422.5M254.9,425.2 254.9,425.2 254.9,425.2 254.9,425.1 254.9,425.1 255.0,425.1 255.0,425.0 255.1,425.0 255.1,424.9 255.2,424.8 255.2,424.8 255.3,424.7 255.4,424.7 255.5,424.6 255.6,424.5 255.7,424.5 255.8,424.4 255.9,424.4 256.1,424.3 256.2,424.2 256.3,424.2 256.5,424.1 256.6,424.0 256.8,424.0 256.9,423.9 257.1,423.8 257.2,423.8 257.4,423.7 257.6,423.6 257.7,423.6 257.9,423.5 258.0,423.4 258.2,423.4 258.4,423.3 258.5,423.3 258.7,423.2 258.9,423.2 259.0,423.1 259.2,423.1 259.3,423.1 259.5,423.0 259.6,423.0 259.8,423.0 259.9,422.9 260.0,422.9 260.2,422.9 260.3,422.9 260.4,422.8 260.5,422.8 260.6,422.8 260.7,422.8 260.8,422.8 260.9,422.8 260.9,422.8 261.0,422.8 261.0,422.9 261.1,422.9 261.1,422.9 261.2,422.9 261.2,423.0M256.4,424.6 256.4,424.6 256.4,424.5 256.5,424.5 256.5,424.5 256.5,424.5 256.5,424.4 256.5,424.4 256.6,424.4 256.6,424.4 256.6,424.3 256.7,424.3 256.7,424.3 256.8,424.2 256.8,424.2 256.9,424.2 257.0,424.1 257.0,424.1 257.1,424.1 257.1,424.0 257.2,424.0 257.3,424.0 257.4,423.9 257.4,423.9 257.5,423.9 257.6,423.8 257.7,423.8 257.8,423.8 257.8,423.7 257.9,423.7 258.0,423.7 258.1,423.7 258.2,423.6 258.3,423.6 258.3,423.6 258.4,423.6 258.5,423.5 258.6,423.5 258.6,423.5 258.7,423.5 258.8,423.5 258.9,423.4 258.9,423.4 259.0,423.4 259.1,423.4 259.1,423.4 259.2,423.4 259.2,423.4 259.3,423.4 259.3,423.4 259.4,423.4 259.4,423.4 259.5,423.4 259.5,423.4 259.5,423.4 259.5,423.4 259.6,423.4" fill="none" stroke="#ff3300" stroke-width="0.3" stroke-opacity="0.70"/><path d="M266.5,421.9 265.3,422.1 264.1,422.3 262.8,422.6 261.6,422.9 260.4,423.2 259.2,423.6 258.0,424.0M270.2,421.7 269.0,421.8 267.7,421.8 266.5,422.0 265.3,422.1 264.1,422.4 262.8,422.6 261.6,422.9 260.4,423.2 259.2,423.6 258.0,424.0M273.7,421.9 272.5,421.8 271.3,421.8 270.2,421.8 269.0,421.8 267.8,421.9 266.5,422.0 265.3,422.2 264.1,422.4 262.8,422.6 261.6,422.9 260.4,423.2 259.2,423.6 258.0,424.0M277.9,422.8 276.9,422.5 275.8,422.3 274.8,422.1 273.6,422.0 272.5,421.9 271.3,421.9 270.2,421.9 269.0,421.9 267.7,422.0 266.5,422.1 265.3,422.3 264.1,422.4 262.8,422.7 261.6,423.0 260.4,423.3 259.2,423.6 258.0,424.0M279.8,423.5 278.9,423.2 277.9,422.9 276.9,422.7 275.8,422.4 274.7,422.3 273.6,422.1 272.5,422.0 271.3,422.0 270.1,422.0 268.9,422.0 267.7,422.1 266.5,422.2 265.3,422.3 264.0,422.5 262.8,422.7 261.6,423.0 260.4,423.3 259.2,423.6 258.0,424.0M279.8,423.7 278.8,423.4 277.8,423.1 276.8,422.8 275.8,422.6 274.7,422.4 273.6,422.3 272.4,422.2 271.3,422.1 270.1,422.1 268.9,422.1 267.7,422.1 266.5,422.2 265.3,422.4 264.0,422.5 262.8,422.8 261.6,423.0 260.4,423.3 259.2,423.6 258.0,424.0M280.6,424.2 279.7,423.9 278.7,423.5 277.7,423.2 276.7,423.0 275.7,422.7 274.6,422.5 273.5,422.4 272.4,422.3 271.2,422.2 270.0,422.2 268.8,422.2 267.6,422.2 266.4,422.3 265.2,422.4 264.0,422.6 262.8,422.8 261.6,423.0 260.4,423.3 259.2,423.6 258.0,424.0M280.4,424.4 279.5,424.0 278.6,423.7 277.6,423.4 276.6,423.1 275.6,422.9 274.5,422.7 273.4,422.5 272.3,422.4 271.1,422.3 270.0,422.3 268.8,422.3 267.6,422.3 266.4,422.4 265.2,422.5 264.0,422.7 262.8,422.8 261.6,423.1 260.4,423.3 259.2,423.7 258.0,424.0M280.3,424.6 279.4,424.2 278.5,423.9 277.5,423.6 276.5,423.3 275.5,423.0 274.4,422.8 273.3,422.7 272.2,422.5 271.0,422.4 269.9,422.4 268.7,422.4 267.5,422.4 266.3,422.5 265.1,422.6 263.9,422.7 262.7,422.9 261.5,423.1 260.3,423.4 259.2,423.7 258.0,424.0M281.0,425.2 280.1,424.8 279.3,424.4 278.3,424.1 277.4,423.7 276.4,423.5 275.3,423.2 274.3,423.0 273.2,422.8 272.1,422.7 270.9,422.6 269.8,422.5 268.6,422.5 267.4,422.5 266.3,422.5 265.1,422.6 263.9,422.8 262.7,422.9 261.5,423.2 260.3,423.4 259.2,423.7 258.0,424.0M280.8,425.5 280.0,425.0 279.1,424.6 278.2,424.3 277.2,423.9 276.2,423.6 275.2,423.4 274.1,423.1 273.1,423.0 272.0,422.8 270.8,422.7 269.7,422.6 268.5,422.6 267.4,422.6 266.2,422.6 265.0,422.7 263.8,422.8 262.6,423.0 261.5,423.2 260.3,423.4 259.1,423.7 258.0,424.0M281.4,426.1 280.6,425.7 279.7,425.2 278.9,424.8 278.0,424.5 277.0,424.1 276.0,423.8 275.0,423.5 274.0,423.3 272.9,423.1 271.8,423.0 270.7,422.8 269.6,422.7 268.4,422.7 267.3,422.7 266.1,422.7 264.9,422.8 263.8,422.9 262.6,423.0 261.4,423.2 260.3,423.4 259.1,423.7 258.0,424.0M272.7,423.3 271.7,423.1 270.6,423.0 269.4,422.9 268.3,422.8 267.2,422.8 266.0,422.8 264.8,422.9 263.7,423.0 262.5,423.1 261.4,423.3 260.2,423.5 259.1,423.7 258.0,424.0M270.4,423.1 269.3,423.0 268.2,422.9 267.0,422.9 265.9,422.9 264.8,422.9 263.6,423.0 262.5,423.1 261.3,423.3 260.2,423.5 259.1,423.7 258.0,424.0M269.1,423.1 268.0,423.1 266.9,423.0 265.8,423.0 264.7,423.0 263.5,423.1 262.4,423.2 261.3,423.3 260.2,423.5 259.1,423.7 258.0,424.0M267.9,423.2 266.8,423.1 265.7,423.1 264.6,423.1 263.4,423.2 262.3,423.3 261.2,423.4 260.1,423.6 259.1,423.8 258.0,424.0M266.6,423.2 265.5,423.2 264.4,423.2 263.3,423.2 262.3,423.3 261.2,423.4 260.1,423.6 259.0,423.8 258.0,424.0M266.5,423.3 265.4,423.3 264.3,423.3 263.2,423.3 262.2,423.4 261.1,423.5 260.1,423.6 259.0,423.8 258.0,424.0M265.2,423.4 264.2,423.4 263.1,423.4 262.1,423.4 261.1,423.5 260.0,423.6 259.0,423.8 258.0,424.0M265.1,423.5 264.1,423.5 263.0,423.5 262.0,423.5 261.0,423.6 260.0,423.7 259.0,423.8 258.0,424.0M263.9,423.6 262.9,423.5 261.9,423.6 260.9,423.6 259.9,423.7 259.0,423.8 258.0,424.0M263.8,423.7 262.8,423.6 261.8,423.6 260.8,423.7 259.9,423.7 258.9,423.8 258.0,424.0M263.6,423.7 262.6,423.7 261.7,423.7 260.8,423.7 259.8,423.8 258.9,423.9 258.0,424.0M263.4,423.8 262.5,423.8 261.6,423.8 260.7,423.8 259.8,423.8 258.9,423.9 258.0,424.0M262.4,423.9 261.5,423.8 260.6,423.8 259.7,423.8 258.8,423.9 258.0,424.0M262.2,423.9 261.4,423.9 260.5,423.9 259.7,423.9 258.8,423.9 258.0,424.0M262.1,424.0 261.2,423.9 260.4,423.9 259.6,423.9 258.8,423.9 258.0,424.0M261.9,424.1 261.1,424.0 260.3,424.0 259.5,423.9 258.8,423.9 258.0,424.0M261.8,424.2 261.0,424.1 260.2,424.0 259.5,424.0 258.7,424.0 258.0,424.0M261.6,424.3 260.9,424.1 260.1,424.1 259.4,424.0 258.7,424.0 258.0,424.0M261.4,424.4 260.7,424.2 260.0,424.1 259.3,424.0 258.7,424.0 258.0,424.0M261.3,424.4 260.6,424.3 259.9,424.2 259.3,424.1 258.6,424.0 258.0,424.0M260.4,424.4 259.8,424.2 259.2,424.1 258.6,424.0 258.0,424.0M260.3,424.4 259.7,424.3 259.1,424.1 258.5,424.0 258.0,424.0M260.1,424.5 259.6,424.3 259.0,424.2 258.5,424.1 258.0,424.0M260.0,424.6 259.5,424.4 259.0,424.2 258.5,424.1 258.0,424.0M259.8,424.6 259.4,424.4 258.9,424.2 258.4,424.1 258.0,424.0M259.7,424.7 259.2,424.5 258.8,424.3 258.4,424.1 258.0,424.0M259.5,424.7 259.1,424.5 258.7,424.3 258.4,424.1 258.0,424.0M259.4,424.8 259.0,424.6 258.7,424.3 258.3,424.1 258.0,424.0M259.2,424.9 258.9,424.6 258.6,424.4 258.3,424.2 258.0,424.0M259.1,424.9 258.8,424.7 258.5,424.4 258.2,424.2 258.0,424.0M258.9,425.0 258.6,424.7 258.4,424.4 258.2,424.2 258.0,424.0M258.7,425.1 258.5,424.7 258.3,424.5 258.2,424.2 258.0,424.0M258.6,425.1 258.4,424.8 258.2,424.5 258.1,424.2 258.0,424.0M258.4,425.2 258.3,424.8 258.2,424.5 258.1,424.2 258.0,424.0M258.2,425.2 258.2,424.9 258.1,424.6 258.0,424.3 258.0,424.0M258.1,425.3 258.0,424.9 258.0,424.6 258.0,424.3 258.0,424.0M257.9,425.4 257.9,425.0 257.9,424.6 257.9,424.3 258.0,424.0M257.7,425.4 257.8,425.0 257.8,424.6 257.9,424.3 258.0,424.0M257.6,425.5 257.7,425.0 257.8,424.7 257.9,424.3 258.0,424.0M257.4,425.5 257.5,425.1 257.7,424.7 257.8,424.3 258.0,424.0M257.3,425.6 257.4,425.1 257.6,424.7 257.8,424.3 258.0,424.0M257.1,425.6 257.3,425.2 257.5,424.7 257.7,424.3 258.0,424.0M256.9,425.7 257.2,425.2 257.4,424.8 257.7,424.4 258.0,424.0M256.8,425.7 257.1,425.2 257.4,424.8 257.7,424.4 258.0,424.0M256.6,425.8 256.9,425.3 257.3,424.8 257.6,424.4 258.0,424.0M262.2,450.4 261.7,450.1M256.1,426.3 256.5,425.8 256.8,425.3 257.2,424.8 257.6,424.4 258.0,424.0M261.6,450.5 261.1,450.3M256.0,426.4 256.3,425.8 256.7,425.3 257.1,424.8 257.5,424.4 258.0,424.0M261.1,450.7 260.5,450.4M255.8,426.4 256.2,425.9 256.6,425.4 257.0,424.9 257.5,424.4 258.0,424.0M260.5,450.8 259.9,450.5 259.3,450.2M255.6,426.5 256.0,425.9 256.5,425.4 257.0,424.9 257.5,424.4 258.0,424.0M260.6,451.2 260.0,451.0 259.4,450.7 258.8,450.4M255.4,426.5 255.9,425.9 256.4,425.4 256.9,424.9 257.4,424.4 258.0,424.0M260.1,451.3 259.4,451.1 258.8,450.8 258.2,450.5 257.6,450.2M255.2,426.5 255.7,426.0 256.3,425.4 256.8,424.9 257.4,424.4 258.0,424.0M259.6,451.4 258.9,451.2 258.3,450.9 257.6,450.6 257.0,450.3M255.0,426.6 255.6,426.0 256.2,425.5 256.8,424.9 257.4,424.4 258.0,424.0M259.1,451.5 258.4,451.3 257.7,451.0 257.1,450.7 256.4,450.4 255.8,450.0M254.9,426.6 255.5,426.0 256.1,425.5 256.7,424.9 257.3,424.5 258.0,424.0M258.6,451.6 257.9,451.4 257.2,451.1 256.5,450.8 255.9,450.5 255.2,450.1M254.1,427.3 254.7,426.7 255.3,426.1 256.0,425.5 256.6,425.0 257.3,424.5 258.0,424.0M258.2,451.7 257.4,451.5 256.7,451.2 256.0,450.9 255.3,450.6 254.7,450.2 254.1,449.8M253.9,427.3 254.6,426.7 255.2,426.1 255.9,425.5 256.6,425.0 257.3,424.5 258.0,424.0M257.7,451.8 257.0,451.6 256.2,451.3 255.5,451.0 254.8,450.7 254.1,450.3 253.5,449.9 252.9,449.5M253.7,427.3 254.4,426.7 255.1,426.1 255.8,425.5 256.5,425.0 257.2,424.5 258.0,424.0M256.5,451.6 255.7,451.4 255.0,451.1 254.3,450.8 253.6,450.4 253.0,450.0 252.4,449.6 251.8,449.1M253.6,427.4 254.2,426.7 254.9,426.1 255.7,425.5 256.4,425.0 257.2,424.5 258.0,424.0M255.3,451.4 254.5,451.2 253.8,450.8 253.1,450.5 252.5,450.1 251.8,449.7 251.2,449.2 250.7,448.7M252.7,428.1 253.4,427.4 254.1,426.8 254.8,426.1 255.6,425.6 256.4,425.0 257.2,424.5 258.0,424.0M254.8,451.5 254.1,451.2 253.3,450.9 252.6,450.6 252.0,450.2 251.3,449.7 250.7,449.3 250.1,448.7 249.6,448.2M252.5,428.1 253.2,427.4 254.0,426.8 254.7,426.2 255.5,425.6 256.3,425.0 257.1,424.5 258.0,424.0M253.6,451.3 252.9,451.0 252.2,450.6 251.5,450.2 250.8,449.8 250.2,449.3 249.6,448.8 249.1,448.3 248.6,447.7M251.6,428.8 252.3,428.1 253.1,427.4 253.8,426.8 254.6,426.2 255.4,425.6 256.3,425.0 257.1,424.5 258.0,424.0M252.4,451.0 251.7,450.6 251.0,450.3 250.3,449.8 249.7,449.4 249.1,448.9 248.6,448.3 248.1,447.8 247.6,447.2M251.4,428.8 252.1,428.1 252.9,427.5 253.7,426.8 254.5,426.2 255.3,425.6 256.2,425.0 257.1,424.5 258.0,424.0M251.3,450.7 250.6,450.3 249.9,449.9 249.3,449.4 248.7,448.9 248.1,448.4 247.6,447.8 247.2,447.2 246.8,446.6 246.4,445.9M250.5,429.6 251.2,428.8 252.0,428.1 252.7,427.5 253.6,426.8 254.4,426.2 255.3,425.6 256.1,425.0 257.1,424.5 258.0,424.0M250.1,450.3 249.4,449.9 248.8,449.4 248.2,448.9 247.7,448.4 247.2,447.8 246.7,447.2 246.3,446.6 245.9,445.9 245.6,445.3 245.4,444.6M249.6,430.3 250.3,429.6 251.0,428.8 251.8,428.1 252.6,427.5 253.4,426.8 254.3,426.2 255.2,425.6 256.1,425.0 257.0,424.5 258.0,424.0M249.0,449.9 248.4,449.4 247.8,448.9 247.2,448.4 246.7,447.8 246.3,447.2 245.8,446.6 245.5,446.0 245.2,445.3 244.9,444.6 244.7,443.9 244.6,443.1M248.7,431.1 249.4,430.3 250.1,429.6 250.9,428.9 251.6,428.2 252.5,427.5 253.3,426.8 254.2,426.2 255.1,425.6 256.1,425.0 257.0,424.5 258.0,424.0M248.0,449.4 247.4,448.9 246.8,448.4 246.3,447.8 245.8,447.2 245.4,446.6 245.1,446.0 244.8,445.3 244.5,444.6 244.3,443.9 244.2,443.1 244.1,442.4 244.0,441.6 244.1,440.8M247.3,432.7 247.9,431.9 248.5,431.1 249.2,430.3 249.9,429.6 250.7,428.9 251.5,428.2 252.3,427.5 253.2,426.8 254.1,426.2 255.1,425.6 256.0,425.0 257.0,424.5 258.0,424.0M247.0,448.9 246.4,448.4 245.9,447.8 245.4,447.2 245.0,446.6 244.7,446.0 244.4,445.3 244.1,444.6 243.9,443.8 243.8,443.1 243.7,442.3 243.7,441.6 243.7,440.8 243.8,440.0 243.9,439.2 244.1,438.4 244.4,437.5 244.7,436.7 245.0,435.9 245.4,435.1 245.9,434.3 246.4,433.4 247.0,432.6 247.6,431.9 248.3,431.1 249.0,430.3 249.7,429.6 250.5,428.9 251.3,428.2 252.2,427.5 253.1,426.8 254.0,426.2 255.0,425.6 256.0,425.0 257.0,424.5 258.0,424.0M245.5,447.8 245.1,447.2 244.7,446.6 244.3,445.9 244.0,445.3 243.7,444.6 243.5,443.8 243.4,443.1 243.3,442.3 243.3,441.6 243.3,440.8 243.4,440.0 243.6,439.2 243.8,438.3 244.0,437.5 244.4,436.7 244.7,435.9 245.2,435.1 245.7,434.2 246.2,433.4 246.8,432.6 247.4,431.8 248.1,431.1 248.8,430.3 249.6,429.6 250.4,428.8 251.2,428.1 252.1,427.5 253.0,426.8 254.0,426.2 254.9,425.6 255.9,425.0 257.0,424.5 258.0,424.0M244.3,446.6 243.9,445.9 243.6,445.2 243.4,444.5 243.2,443.8 243.1,443.1 243.0,442.3 243.0,441.5 243.0,440.7 243.1,439.9 243.3,439.1 243.5,438.3 243.8,437.5 244.1,436.7 244.5,435.9 244.9,435.0 245.4,434.2 246.0,433.4 246.5,432.6 247.2,431.8 247.9,431.1 248.6,430.3 249.4,429.6 250.2,428.8 251.1,428.1 252.0,427.5 252.9,426.8 253.9,426.2 254.9,425.6 255.9,425.0 256.9,424.5 258.0,424.0M243.6,445.9 243.3,445.2 243.1,444.5 242.9,443.8 242.7,443.0 242.7,442.3 242.7,441.5 242.7,440.7 242.8,439.9 243.0,439.1 243.2,438.3 243.5,437.5 243.8,436.6 244.2,435.8 244.7,435.0 245.2,434.2 245.7,433.4 246.3,432.6 247.0,431.8 247.7,431.0 248.5,430.3 249.3,429.5 250.1,428.8 251.0,428.1 251.9,427.4 252.8,426.8 253.8,426.2 254.8,425.6 255.9,425.0 256.9,424.5 258.0,424.0M242.6,443.7 242.4,443.0 242.4,442.2 242.4,441.4 242.4,440.6 242.5,439.9 242.7,439.0 242.9,438.2 243.2,437.4 243.6,436.6 244.0,435.8 244.4,435.0 245.0,434.2 245.5,433.3 246.2,432.6 246.8,431.8 247.5,431.0 248.3,430.2 249.1,429.5 250.0,428.8 250.9,428.1 251.8,427.4 252.8,426.8 253.8,426.2 254.8,425.6 255.8,425.0 256.9,424.5 258.0,424.0M242.1,442.1 242.1,441.4 242.2,440.6 242.3,439.8 242.5,439.0 242.7,438.2 243.0,437.4 243.4,436.5 243.8,435.7 244.2,434.9 244.8,434.1 245.4,433.3 246.0,432.5 246.7,431.7 247.4,431.0 248.2,430.2 249.0,429.5 249.9,428.8 250.8,428.1 251.7,427.4 252.7,426.8 253.7,426.2 254.7,425.6 255.8,425.0 256.9,424.5 258.0,424.0M241.9,440.5 242.1,439.7 242.2,438.9 242.5,438.1 242.8,437.3 243.2,436.5 243.6,435.7 244.1,434.9 244.6,434.1 245.2,433.3 245.8,432.5 246.5,431.7 247.3,430.9 248.1,430.2 248.9,429.4 249.8,428.7 250.7,428.1 251.6,427.4 252.6,426.7 253.6,426.1 254.7,425.6 255.8,425.0 256.9,424.5 258.0,424.0M242.3,438.0 242.6,437.2 243.0,436.4 243.4,435.6 243.9,434.8 244.4,434.0 245.0,433.2 245.7,432.4 246.4,431.6 247.1,430.9 247.9,430.1 248.8,429.4 249.7,428.7 250.6,428.0 251.6,427.4 252.6,426.7 253.6,426.1 254.7,425.5 255.8,425.0 256.9,424.5 258.0,424.0M243.3,435.5 243.8,434.7 244.3,433.9 244.9,433.1 245.6,432.4 246.3,431.6 247.0,430.8 247.8,430.1 248.7,429.4 249.6,428.7 250.5,428.0 251.5,427.3 252.5,426.7 253.6,426.1 254.6,425.5 255.7,425.0 256.9,424.5 258.0,424.0M245.5,432.3 246.2,431.5 246.9,430.8 247.8,430.0 248.6,429.3 249.5,428.6 250.5,427.9 251.5,427.3 252.5,426.7 253.5,426.1 254.6,425.5 255.7,425.0 256.8,424.5 258.0,424.0M247.7,430.0 248.6,429.3 249.5,428.6 250.4,427.9 251.4,427.3 252.4,426.6 253.5,426.1 254.6,425.5 255.7,425.0 256.8,424.5 258.0,424.0M250.4,427.9 251.4,427.2 252.4,426.6 253.5,426.0 254.6,425.5 255.7,424.9 256.8,424.5 258.0,424.0M253.5,426.0 254.6,425.4 255.7,424.9 256.8,424.4 258.0,424.0M254.5,425.4 255.7,424.9 256.8,424.4 258.0,424.0M255.7,424.9 256.8,424.4 258.0,424.0M256.8,424.4 258.0,424.0M256.8,424.4 258.0,424.0M256.8,424.4 258.0,424.0M256.8,424.4 258.0,424.0M256.8,424.4 258.0,424.0M256.8,424.4 258.0,424.0M256.9,424.4 258.0,424.0M259.1,423.5 258.0,424.0M259.1,423.5 258.0,424.0M259.1,423.5 258.0,424.0M259.1,423.5 258.0,424.0M259.1,423.5 258.0,424.0M259.2,423.6 258.0,424.0M259.2,423.6 258.0,424.0M260.4,423.2 259.2,423.6 258.0,424.0M261.6,422.8 260.4,423.2 259.2,423.6 258.0,424.0M262.8,422.5 261.6,422.9 260.4,423.2 259.2,423.6 258.0,424.0M262.9,450.1 262.0,450.3 261.2,450.5 260.3,450.7 259.5,450.9 258.7,451.1 257.9,451.3 257.2,451.4 256.5,451.5 255.8,451.6M259.5,450.3 258.7,450.5 257.8,450.7 257.0,450.9 256.2,451.0 255.5,451.2 254.8,451.3 254.1,451.4M257.0,450.3 256.2,450.5 255.3,450.6 254.6,450.7 253.8,450.8 253.1,450.9 252.4,451.0M255.3,450.0 254.5,450.1 253.7,450.2 252.9,450.4 252.2,450.5 251.5,450.5 250.8,450.6M252.8,449.7 252.0,449.8 251.3,449.9 250.6,450.0 249.9,450.0 249.3,450.0M251.2,449.2 250.5,449.3 249.7,449.4 249.0,449.4 248.4,449.4 247.8,449.4M250.5,448.5 249.7,448.6 249.0,448.7 248.2,448.7 247.6,448.8 247.0,448.8M249.0,447.9 248.3,447.9 247.5,448.0 246.9,448.0 246.3,448.0 245.7,448.0M247.6,447.2 246.9,447.2 246.3,447.2 245.6,447.2 245.1,447.2M247.1,446.3 246.4,446.4 245.7,446.4 245.1,446.4 244.5,446.4 244.0,446.3M245.9,445.5 245.3,445.5 244.6,445.5 244.1,445.5 243.6,445.4M245.6,444.6 244.9,444.6 244.3,444.6 243.7,444.6 243.2,444.5 242.8,444.4M244.7,443.6 244.0,443.6 243.5,443.6 243.0,443.5 242.5,443.5M244.5,442.6 243.9,442.6 243.3,442.6 242.8,442.5 242.4,442.5 242.0,442.4M244.4,441.6 243.8,441.6 243.3,441.6 242.8,441.5 242.4,441.4 242.0,441.3M243.9,440.5 243.4,440.5 242.9,440.5 242.5,440.4 242.1,440.3M281.0,425.7 280.6,426.1M244.0,439.4 243.5,439.4 243.1,439.4 242.6,439.3 242.3,439.2 242.0,439.1M280.6,424.2 280.4,424.5 280.1,424.8 279.9,425.1 279.5,425.5M244.3,438.4 243.8,438.3 243.3,438.3 242.9,438.2 242.6,438.1 242.3,438.0M279.6,423.3 279.5,423.5 279.4,423.7 279.2,424.0 279.0,424.3 278.7,424.6 278.4,424.9M244.6,437.3 244.1,437.2 243.7,437.2 243.3,437.1 243.0,437.1 242.7,437.0M278.3,422.9 278.2,423.1 278.1,423.3 277.9,423.6 277.7,423.8 277.4,424.1M245.1,436.2 244.6,436.2 244.2,436.1 243.8,436.1 243.5,436.0 243.3,435.9 243.0,435.8M276.9,422.5 276.8,422.7 276.7,423.0 276.6,423.2 276.4,423.5 276.1,423.7 275.8,424.0M245.6,435.1 245.2,435.1 244.8,435.0 244.4,435.0 244.2,434.9 243.9,434.8 243.7,434.7M275.5,422.3 275.4,422.5 275.3,422.7 275.2,422.9 275.0,423.1 274.8,423.4 274.5,423.6M246.2,434.0 245.8,434.0 245.5,433.9 245.1,433.9 244.9,433.8 244.6,433.7 244.4,433.6M274.0,421.9 274.0,422.1 274.0,422.2 273.9,422.4 273.7,422.6 273.6,422.9 273.3,423.1 273.1,423.3M246.9,432.9 246.6,432.9 246.2,432.9 245.9,432.8 245.7,432.8 245.5,432.7 245.3,432.6M272.5,421.8 272.5,421.9 272.4,422.1 272.4,422.3 272.2,422.5 272.1,422.7 271.9,422.9 271.7,423.1M248.1,431.9 247.7,431.9 247.4,431.8 247.1,431.8 246.8,431.8 246.6,431.7 246.4,431.6 246.2,431.6 246.1,431.5M271.0,421.7 270.9,421.9 270.9,422.0 270.8,422.2 270.7,422.4 270.6,422.5 270.4,422.7 270.2,422.9 269.9,423.1M248.9,430.8 248.6,430.8 248.3,430.8 248.0,430.8 247.8,430.7 247.6,430.7 247.4,430.6 247.3,430.6 247.1,430.5M269.4,421.8 269.4,421.9 269.3,422.0 269.2,422.2 269.1,422.3 269.0,422.5 268.9,422.7 268.7,422.8 268.5,423.0 268.2,423.2M250.2,429.8 249.9,429.8 249.6,429.8 249.3,429.8 249.1,429.8 248.8,429.8 248.7,429.7 248.5,429.6 248.4,429.6 248.3,429.5M267.7,421.8 267.8,421.9 267.7,422.0 267.7,422.1 267.6,422.2 267.6,422.4 267.4,422.5 267.3,422.6 267.2,422.8 267.0,423.0 266.8,423.1 266.5,423.3M251.4,428.8 251.1,428.8 250.9,428.9 250.6,428.9 250.4,428.8 250.2,428.8 250.0,428.8 249.8,428.8 249.7,428.7 249.6,428.6 249.5,428.6M266.1,422.0 266.1,422.1 266.1,422.1 266.1,422.2 266.0,422.3 266.0,422.5 265.9,422.6 265.8,422.7 265.6,422.8 265.5,423.0 265.3,423.1 265.1,423.2 264.9,423.4 264.7,423.5M252.9,427.8 252.7,427.9 252.4,427.9 252.1,427.9 251.9,427.9 251.7,427.9 251.5,427.9 251.3,427.9 251.2,427.9 251.0,427.8 250.9,427.8 250.8,427.7 250.7,427.7 250.7,427.6M264.5,422.2 264.5,422.3 264.5,422.4 264.4,422.5 264.4,422.5 264.3,422.6 264.3,422.7 264.2,422.8 264.1,422.9 264.0,423.0 263.8,423.1 263.7,423.3 263.5,423.4 263.3,423.5 263.1,423.6 262.9,423.8 262.7,423.9M254.9,426.8 254.6,426.8 254.3,426.9 254.1,426.9 253.9,427.0 253.6,427.0 253.4,427.0 253.2,427.0 253.0,427.0 252.9,427.0 252.7,427.0 252.6,427.0 252.4,427.0 252.3,427.0 252.2,426.9 252.2,426.9 252.1,426.8 252.0,426.8M262.8,422.6 262.8,422.6 262.8,422.7 262.8,422.7 262.8,422.8 262.7,422.9 262.7,422.9 262.6,423.0 262.5,423.1 262.4,423.2 262.3,423.3 262.2,423.3 262.1,423.4 262.0,423.5 261.8,423.6 261.6,423.7 261.5,423.8 261.3,423.9 261.1,424.0 260.9,424.1 260.7,424.2 260.5,424.3 260.3,424.4 260.1,424.5 259.8,424.6 259.6,424.7 259.4,424.8 259.1,424.9 258.9,425.0 258.6,425.1 258.4,425.2 258.2,425.3 257.9,425.4 257.7,425.4 257.4,425.5 257.2,425.6 256.9,425.7 256.7,425.7 256.5,425.8 256.2,425.9 256.0,425.9 255.8,426.0 255.6,426.0 255.4,426.0 255.2,426.1 255.0,426.1 254.8,426.1 254.7,426.2 254.5,426.2 254.3,426.2 254.2,426.2 254.1,426.2 254.0,426.2 253.8,426.2 253.8,426.2 253.7,426.1 253.6,426.1 253.5,426.1 253.5,426.1 253.5,426.0M262.8,422.5 262.8,422.6M261.2,423.0 261.2,423.0 261.2,423.1 261.2,423.1 261.2,423.1 261.1,423.2 261.1,423.2 261.1,423.3 261.0,423.3 260.9,423.4 260.9,423.4 260.8,423.5 260.7,423.6 260.6,423.6 260.5,423.7 260.4,423.7 260.3,423.8 260.2,423.9 260.1,423.9 259.9,424.0 259.8,424.1 259.6,424.1 259.5,424.2 259.4,424.3 259.2,424.3 259.0,424.4 258.9,424.5 258.7,424.5 258.6,424.6 258.4,424.7 258.2,424.7 258.1,424.8 257.9,424.8 257.7,424.9 257.6,425.0 257.4,425.0 257.3,425.0 257.1,425.1 256.9,425.1 256.8,425.2 256.6,425.2 256.5,425.2 256.4,425.3 256.2,425.3 256.1,425.3 256.0,425.4 255.8,425.4 255.7,425.4 255.6,425.4 255.5,425.4 255.4,425.4 255.3,425.4 255.3,425.4 255.2,425.4 255.1,425.4 255.1,425.4 255.0,425.4 255.0,425.3 255.0,425.3 254.9,425.3 254.9,425.2M261.2,423.0 261.2,423.0M259.6,423.5 259.6,423.5 259.6,423.5 259.6,423.5 259.6,423.5 259.6,423.6 259.5,423.6 259.5,423.6 259.5,423.6 259.5,423.7 259.4,423.7 259.4,423.7 259.3,423.7 259.3,423.8 259.2,423.8 259.2,423.8 259.1,423.9 259.1,423.9 259.0,423.9 258.9,424.0 258.9,424.0 258.8,424.0 258.7,424.1 258.7,424.1 258.6,424.1 258.5,424.2 258.4,424.2 258.3,424.2 258.3,424.3 258.2,424.3 258.1,424.3 258.0,424.4 257.9,424.4 257.9,424.4 257.8,424.4 257.7,424.5 257.6,424.5 257.5,424.5 257.5,424.5 257.4,424.6 257.3,424.6 257.2,424.6 257.2,424.6 257.1,424.6 257.0,424.6 257.0,424.6 256.9,424.7 256.8,424.7 256.8,424.7 256.7,424.7 256.7,424.7 256.6,424.7 256.6,424.7 256.6,424.7 256.5,424.7 256.5,424.7 256.5,424.6 256.5,424.6 256.5,424.6 256.4,424.6 256.4,424.6 256.4,424.6M259.6,423.4 259.6,423.4 259.6,423.4 259.6,423.5" fill="none" stroke="#ff3300" stroke-width="0.3" stroke-opacity="0.50"/><path d="M281.1,426.4 280.3,425.9 279.5,425.5 278.7,425.0 277.7,424.7 276.8,424.3 275.8,424.0 274.8,423.7 273.8,423.5 272.7,423.3M281.6,427.1 280.9,426.6 280.1,426.1 279.3,425.7 278.4,425.3 277.5,424.9 276.6,424.5 275.6,424.2 274.6,423.9 273.6,423.7 272.6,423.4 271.5,423.3 270.4,423.1M281.3,427.4 280.6,426.9 279.8,426.4 279.0,425.9 278.1,425.5 277.3,425.1 276.3,424.7 275.4,424.4 274.4,424.1 273.4,423.8 272.4,423.6 271.3,423.4 270.2,423.3 269.1,423.1M281.6,428.2 281.0,427.6 280.2,427.1 279.5,426.6 278.7,426.1 277.9,425.7 277.0,425.3 276.1,424.9 275.1,424.6 274.2,424.3 273.2,424.0 272.1,423.8 271.1,423.6 270.0,423.4 269.0,423.3 267.9,423.2M281.3,428.4 280.6,427.9 279.9,427.4 279.2,426.9 278.4,426.4 277.5,425.9 276.7,425.5 275.8,425.1 274.9,424.8 273.9,424.5 272.9,424.2 271.9,423.9 270.9,423.7 269.8,423.6 268.8,423.4 267.7,423.3 266.6,423.2M281.5,429.3 280.9,428.7 280.3,428.1 279.6,427.6 278.8,427.1 278.0,426.6 277.2,426.2 276.4,425.8 275.5,425.4 274.6,425.0 273.6,424.7 272.6,424.4 271.7,424.1 270.6,423.9 269.6,423.7 268.6,423.6 267.5,423.4 266.5,423.3M281.1,429.5 280.5,429.0 279.9,428.4 279.2,427.9 278.4,427.4 277.7,426.9 276.9,426.4 276.0,426.0 275.2,425.6 274.3,425.2 273.3,424.9 272.4,424.6 271.4,424.3 270.4,424.1 269.4,423.9 268.4,423.7 267.3,423.6 266.3,423.5 265.2,423.4M281.2,430.4 280.7,429.8 280.1,429.2 279.5,428.7 278.8,428.1 278.1,427.6 277.3,427.1 276.5,426.7 275.7,426.2 274.8,425.8 273.9,425.4 273.0,425.1 272.1,424.8 271.1,424.5 270.1,424.2 269.2,424.0 268.1,423.8 267.1,423.7 266.1,423.6 265.1,423.5M280.8,430.7 280.2,430.1 279.7,429.5 279.0,429.0 278.4,428.4 277.6,427.9 276.9,427.4 276.1,426.9 275.3,426.5 274.5,426.1 273.6,425.7 272.7,425.3 271.8,425.0 270.8,424.7 269.9,424.4 268.9,424.2 267.9,424.0 266.9,423.8 265.9,423.7 264.9,423.6 263.9,423.6M280.8,431.6 280.3,431.0 279.8,430.4 279.2,429.8 278.6,429.2 277.9,428.7 277.2,428.2 276.5,427.7 275.7,427.2 274.9,426.7 274.1,426.3 273.2,425.9 272.3,425.5 271.4,425.2 270.5,424.9 269.6,424.6 268.6,424.4 267.7,424.1 266.7,424.0 265.7,423.8 264.7,423.7 263.8,423.7M280.3,431.9 279.8,431.3 279.3,430.7 278.7,430.1 278.1,429.5 277.4,429.0 276.8,428.4 276.0,427.9 275.3,427.4 274.5,427.0 273.7,426.5 272.8,426.1 272.0,425.7 271.1,425.4 270.2,425.1 269.3,424.8 268.4,424.5 267.4,424.3 266.5,424.1 265.5,424.0 264.6,423.8 263.6,423.7M280.2,432.9 279.8,432.3 279.3,431.6 278.8,431.0 278.2,430.4 277.6,429.8 277.0,429.3 276.3,428.7 275.6,428.2 274.8,427.7 274.1,427.2 273.3,426.8 272.5,426.3 271.6,426.0 270.8,425.6 269.9,425.3 269.0,425.0 268.1,424.7 267.2,424.5 266.2,424.2 265.3,424.1 264.4,423.9 263.4,423.8M280.1,433.9 279.7,433.2 279.3,432.6 278.8,431.9 278.3,431.3 277.7,430.7 277.1,430.1 276.5,429.5 275.8,429.0 275.1,428.5 274.4,428.0 273.6,427.5 272.9,427.0 272.1,426.6 271.2,426.2 270.4,425.8 269.5,425.5 268.7,425.1 267.8,424.9 266.9,424.6 266.0,424.4 265.1,424.2 264.2,424.1 263.3,423.9 262.4,423.9M279.5,434.2 279.1,433.5 278.7,432.9 278.2,432.2 277.7,431.6 277.2,431.0 276.6,430.4 276.0,429.8 275.3,429.3 274.6,428.7 273.9,428.2 273.2,427.7 272.4,427.3 271.6,426.8 270.8,426.4 270.0,426.0 269.2,425.7 268.3,425.3 267.5,425.0 266.6,424.8 265.7,424.5 264.9,424.3 264.0,424.2 263.1,424.0 262.2,423.9M279.3,435.2 279.0,434.5 278.6,433.8 278.1,433.2 277.7,432.5 277.1,431.9 276.6,431.3 276.0,430.7 275.4,430.1 274.8,429.6 274.1,429.0 273.4,428.5 272.7,428.0 272.0,427.5 271.2,427.1 270.4,426.6 269.6,426.2 268.8,425.9 268.0,425.5 267.2,425.2 266.3,424.9 265.5,424.7 264.6,424.5 263.8,424.3 262.9,424.1 262.1,424.0M278.7,435.5 278.4,434.8 278.0,434.2 277.5,433.5 277.1,432.9 276.6,432.2 276.0,431.6 275.5,431.0 274.9,430.4 274.2,429.8 273.6,429.3 272.9,428.8 272.2,428.2 271.5,427.8 270.7,427.3 270.0,426.8 269.2,426.4 268.4,426.1 267.6,425.7 266.8,425.4 266.0,425.1 265.2,424.8 264.4,424.6 263.6,424.4 262.7,424.2 261.9,424.1M278.4,436.5 278.1,435.8 277.7,435.1 277.3,434.5 276.9,433.8 276.5,433.2 276.0,432.5 275.4,431.9 274.9,431.3 274.3,430.7 273.7,430.1 273.1,429.6 272.4,429.0 271.7,428.5 271.0,428.0 270.3,427.5 269.6,427.1 268.8,426.7 268.0,426.3 267.3,425.9 266.5,425.6 265.7,425.2 264.9,425.0 264.1,424.7 263.3,424.5 262.5,424.3 261.8,424.2M278.1,437.5 277.8,436.8 277.5,436.1 277.1,435.5 276.7,434.8 276.3,434.1 275.8,433.5 275.4,432.9 274.8,432.2 274.3,431.6 273.7,431.0 273.1,430.4 272.5,429.8 271.9,429.3 271.2,428.8 270.5,428.3 269.8,427.8 269.1,427.3 268.4,426.9 267.6,426.5 266.9,426.1 266.1,425.7 265.4,425.4 264.6,425.1 263.9,424.9 263.1,424.6 262.3,424.4 261.6,424.3M277.4,437.8 277.1,437.1 276.8,436.4 276.4,435.8 276.1,435.1 275.6,434.5 275.2,433.8 274.7,433.2 274.2,432.5 273.7,431.9 273.1,431.3 272.5,430.7 271.9,430.1 271.3,429.6 270.7,429.0 270.0,428.5 269.3,428.0 268.6,427.5 267.9,427.1 267.2,426.7 266.5,426.3 265.8,425.9 265.1,425.6 264.3,425.3 263.6,425.0 262.9,424.7 262.1,424.5 261.4,424.4M277.0,438.8 276.7,438.1 276.5,437.4 276.1,436.8 275.8,436.1 275.4,435.4 275.0,434.8 274.5,434.1 274.1,433.5 273.6,432.8 273.1,432.2 272.5,431.6 271.9,431.0 271.4,430.4 270.8,429.8 270.1,429.3 269.5,428.8 268.8,428.2 268.2,427.8 267.5,427.3 266.8,426.9 266.1,426.5 265.4,426.1 264.7,425.7 264.0,425.4 263.3,425.1 262.6,424.9 261.9,424.6 261.3,424.4M276.3,439.1 276.1,438.4 275.8,437.8 275.5,437.1 275.1,436.4 274.7,435.8 274.3,435.1 273.9,434.4 273.4,433.8 272.9,433.1 272.4,432.5 271.9,431.9 271.3,431.3 270.8,430.7 270.2,430.1 269.6,429.5 269.0,429.0 268.3,428.5 267.7,428.0 267.0,427.5 266.4,427.1 265.7,426.6 265.0,426.3 264.4,425.9 263.7,425.6 263.0,425.2 262.4,425.0 261.7,424.7 261.1,424.5 260.4,424.4M275.9,440.0 275.6,439.4 275.4,438.7 275.1,438.1 274.8,437.4 274.4,436.7 274.0,436.1 273.6,435.4 273.2,434.8 272.7,434.1 272.3,433.4 271.8,432.8 271.3,432.2 270.7,431.6 270.2,431.0 269.6,430.4 269.0,429.8 268.4,429.3 267.8,428.7 267.2,428.2 266.6,427.7 265.9,427.3 265.3,426.8 264.7,426.4 264.0,426.1 263.4,425.7 262.8,425.4 262.1,425.1 261.5,424.8 260.9,424.6 260.3,424.4M275.4,441.0 275.2,440.4 274.9,439.7 274.7,439.1 274.4,438.4 274.0,437.7 273.7,437.1 273.3,436.4 272.9,435.7 272.5,435.1 272.1,434.4 271.6,433.8 271.1,433.1 270.6,432.5 270.1,431.9 269.6,431.2 269.0,430.6 268.4,430.1 267.9,429.5 267.3,429.0 266.7,428.4 266.1,427.9 265.5,427.5 264.9,427.0 264.3,426.6 263.7,426.2 263.1,425.8 262.5,425.5 261.9,425.2 261.3,424.9 260.7,424.7 260.1,424.5M274.7,441.3 274.5,440.7 274.2,440.0 273.9,439.4 273.6,438.7 273.3,438.1 273.0,437.4 272.6,436.7 272.2,436.0 271.8,435.4 271.4,434.7 270.9,434.1 270.4,433.4 270.0,432.8 269.4,432.1 268.9,431.5 268.4,430.9 267.9,430.3 267.3,429.8 266.7,429.2 266.2,428.7 265.6,428.2 265.0,427.7 264.5,427.2 263.9,426.8 263.3,426.4 262.7,426.0 262.2,425.6 261.6,425.3 261.1,425.0 260.5,424.8 260.0,424.6M274.2,442.2 274.0,441.6 273.7,441.0 273.5,440.3 273.2,439.7 272.9,439.0 272.6,438.4 272.2,437.7 271.9,437.0 271.5,436.4 271.1,435.7 270.7,435.0 270.2,434.4 269.8,433.7 269.3,433.1 268.8,432.4 268.3,431.8 267.8,431.2 267.3,430.6 266.7,430.0 266.2,429.4 265.7,428.9 265.1,428.4 264.6,427.9 264.0,427.4 263.5,427.0 263.0,426.5 262.4,426.1 261.9,425.8 261.4,425.4 260.8,425.1 260.3,424.9 259.8,424.6M273.5,442.5 273.3,441.9 273.0,441.3 272.8,440.7 272.5,440.0 272.2,439.4 271.9,438.7 271.5,438.0 271.1,437.3 270.8,436.7 270.4,436.0 269.9,435.3 269.5,434.7 269.1,434.0 268.6,433.3 268.1,432.7 267.7,432.1 267.2,431.4 266.7,430.8 266.2,430.2 265.7,429.7 265.1,429.1 264.6,428.6 264.1,428.1 263.6,427.6 263.1,427.1 262.6,426.7 262.1,426.3 261.6,425.9 261.1,425.5 260.6,425.2 260.1,424.9 259.7,424.7M273.0,443.4 272.8,442.8 272.5,442.2 272.3,441.6 272.0,441.0 271.7,440.3 271.4,439.7 271.1,439.0 270.8,438.3 270.4,437.7 270.0,437.0 269.6,436.3 269.2,435.6 268.8,435.0 268.4,434.3 267.9,433.6 267.5,433.0 267.0,432.3 266.5,431.7 266.1,431.1 265.6,430.5 265.1,429.9 264.6,429.3 264.1,428.8 263.6,428.3 263.2,427.8 262.7,427.3 262.2,426.8 261.7,426.4 261.3,426.0 260.8,425.7 260.4,425.3 260.0,425.0 259.5,424.7M272.2,443.7 272.0,443.1 271.8,442.5 271.5,441.9 271.3,441.3 271.0,440.6 270.7,440.0 270.3,439.3 270.0,438.6 269.6,438.0 269.3,437.3 268.9,436.6 268.5,435.9 268.1,435.3 267.7,434.6 267.2,433.9 266.8,433.3 266.3,432.6 265.9,432.0 265.4,431.3 265.0,430.7 264.5,430.1 264.1,429.6 263.6,429.0 263.2,428.5 262.7,428.0 262.3,427.5 261.8,427.0 261.4,426.6 261.0,426.2 260.6,425.8 260.1,425.4 259.8,425.1 259.4,424.8M271.7,444.5 271.5,444.0 271.3,443.4 271.1,442.8 270.8,442.2 270.5,441.6 270.2,440.9 269.9,440.3 269.6,439.6 269.2,439.0 268.9,438.3 268.5,437.6 268.1,436.9 267.7,436.2 267.3,435.6 266.9,434.9 266.5,434.2 266.1,433.5 265.7,432.9 265.3,432.2 264.8,431.6 264.4,431.0 264.0,430.4 263.5,429.8 263.1,429.2 262.7,428.7 262.3,428.1 261.9,427.6 261.4,427.2 261.0,426.7 260.7,426.3 260.3,425.9 259.9,425.5 259.6,425.2 259.2,424.9M271.0,444.8 270.8,444.3 270.6,443.7 270.3,443.1 270.0,442.5 269.8,441.9 269.5,441.2 269.1,440.6 268.8,439.9 268.5,439.3 268.1,438.6 267.8,437.9 267.4,437.2 267.0,436.5 266.6,435.8 266.2,435.2 265.8,434.5 265.4,433.8 265.0,433.1 264.6,432.5 264.2,431.8 263.8,431.2 263.4,430.6 263.0,430.0 262.6,429.4 262.2,428.9 261.8,428.3 261.4,427.8 261.1,427.3 260.7,426.8 260.3,426.4 260.0,426.0 259.7,425.6 259.4,425.3 259.1,424.9M270.5,445.6 270.3,445.1 270.1,444.5 269.8,444.0 269.6,443.4 269.3,442.8 269.0,442.2 268.7,441.5 268.4,440.9 268.0,440.2 267.7,439.6 267.3,438.9 267.0,438.2 266.6,437.5 266.3,436.8 265.9,436.1 265.5,435.4 265.1,434.8 264.7,434.1 264.3,433.4 264.0,432.7 263.6,432.1 263.2,431.4 262.8,430.8 262.4,430.2 262.1,429.6 261.7,429.0 261.4,428.5 261.0,428.0 260.7,427.5 260.3,427.0 260.0,426.5 259.7,426.1 259.4,425.7 259.2,425.3 258.9,425.0M269.8,445.9 269.6,445.4 269.4,444.8 269.1,444.3 268.8,443.7 268.5,443.1 268.2,442.5 267.9,441.8 267.6,441.2 267.3,440.5 266.9,439.9 266.6,439.2 266.2,438.5 265.9,437.8 265.5,437.1 265.1,436.4 264.8,435.7 264.4,435.0 264.0,434.3 263.7,433.7 263.3,433.0 262.9,432.3 262.6,431.7 262.2,431.0 261.9,430.4 261.5,429.8 261.2,429.2 260.9,428.7 260.6,428.1 260.3,427.6 260.0,427.1 259.7,426.6 259.4,426.2 259.2,425.8 259.0,425.4 258.7,425.1M269.1,446.1 268.9,445.6 268.6,445.1 268.3,444.5 268.1,444.0 267.8,443.4 267.4,442.8 267.1,442.1 266.8,441.5 266.5,440.8 266.1,440.1 265.8,439.5 265.4,438.8 265.1,438.1 264.7,437.4 264.4,436.7 264.0,436.0 263.7,435.3 263.3,434.6 263.0,433.9 262.6,433.2 262.3,432.6 262.0,431.9 261.7,431.3 261.3,430.6 261.0,430.0 260.7,429.4 260.4,428.8 260.2,428.3 259.9,427.8 259.6,427.2 259.4,426.8 259.2,426.3 258.9,425.9 258.8,425.5 258.6,425.1M268.7,446.9 268.4,446.4 268.2,445.9 267.9,445.4 267.6,444.8 267.3,444.2 267.0,443.6 266.7,443.0 266.3,442.4 266.0,441.8 265.7,441.1 265.3,440.4 265.0,439.8 264.7,439.1 264.3,438.4 264.0,437.7 263.6,437.0 263.3,436.3 263.0,435.6 262.6,434.9 262.3,434.2 262.0,433.5 261.7,432.8 261.4,432.1 261.1,431.5 260.8,430.8 260.5,430.2 260.2,429.6 260.0,429.0 259.7,428.4 259.5,427.9 259.3,427.4 259.1,426.9 258.9,426.4 258.7,426.0 258.5,425.6 258.4,425.2M268.0,447.1 267.7,446.6 267.5,446.1 267.2,445.6 266.8,445.1 266.5,444.5 266.2,443.9 265.9,443.3 265.6,442.7 265.2,442.0 264.9,441.4 264.6,440.7 264.2,440.0 263.9,439.3 263.5,438.6 263.2,437.9 262.9,437.2 262.6,436.5 262.2,435.8 261.9,435.1 261.6,434.4 261.3,433.7 261.0,433.0 260.8,432.3 260.5,431.7 260.2,431.0 260.0,430.4 259.7,429.8 259.5,429.2 259.3,428.6 259.1,428.0 258.9,427.5 258.8,427.0 258.6,426.5 258.5,426.1 258.3,425.6 258.2,425.2M267.3,447.4 267.0,446.9 266.7,446.4 266.4,445.9 266.1,445.3 265.8,444.8 265.4,444.2 265.1,443.6 264.8,443.0 264.4,442.3 264.1,441.7 263.8,441.0 263.4,440.3 263.1,439.6 262.8,438.9 262.5,438.2 262.1,437.5 261.8,436.8 261.5,436.1 261.2,435.4 260.9,434.6 260.7,433.9 260.4,433.2 260.1,432.6 259.9,431.9 259.7,431.2 259.4,430.6 259.2,429.9 259.0,429.3 258.9,428.7 258.7,428.2 258.6,427.6 258.4,427.1 258.3,426.6 258.2,426.1 258.1,425.7 258.1,425.3M267.0,448.0 266.7,447.6 266.3,447.1 266.0,446.6 265.7,446.1 265.3,445.6 265.0,445.0 264.7,444.5 264.3,443.9 264.0,443.2 263.6,442.6 263.3,441.9 263.0,441.3 262.6,440.6 262.3,439.9 262.0,439.2 261.7,438.5 261.4,437.7 261.1,437.0 260.8,436.3 260.5,435.6 260.3,434.9 260.0,434.2 259.8,433.5 259.5,432.8 259.3,432.1 259.1,431.4 258.9,430.8 258.7,430.1 258.6,429.5 258.4,428.9 258.3,428.3 258.2,427.8 258.1,427.2 258.0,426.7 258.0,426.2 257.9,425.8 257.9,425.4M266.3,448.2 266.0,447.8 265.6,447.4 265.3,446.9 264.9,446.4 264.6,445.9 264.2,445.3 263.9,444.7 263.5,444.1 263.2,443.5 262.9,442.9 262.5,442.2 262.2,441.5 261.9,440.8 261.5,440.1 261.2,439.4 260.9,438.7 260.6,438.0 260.4,437.3 260.1,436.6 259.8,435.8 259.6,435.1 259.3,434.4 259.1,433.7 258.9,433.0 258.7,432.3 258.5,431.6 258.4,430.9 258.2,430.3 258.1,429.6 258.0,429.0 257.9,428.4 257.8,427.9 257.8,427.3 257.8,426.8 257.7,426.3 257.7,425.8 257.7,425.4M265.7,448.4 265.3,448.0 264.9,447.6 264.6,447.1 264.2,446.6 263.8,446.1 263.5,445.5 263.1,445.0 262.8,444.4 262.4,443.7 262.1,443.1 261.7,442.5 261.4,441.8 261.1,441.1 260.8,440.4 260.5,439.7 260.2,439.0 259.9,438.2 259.6,437.5 259.4,436.8 259.1,436.1 258.9,435.3 258.7,434.6 258.5,433.9 258.3,433.2 258.1,432.5 258.0,431.8 257.9,431.1 257.7,430.4 257.7,429.8 257.6,429.2 257.5,428.6 257.5,428.0 257.5,427.4 257.5,426.9 257.5,426.4 257.5,425.9 257.6,425.5M265.4,449.0 265.0,448.7 264.6,448.3 264.2,447.8 263.9,447.4 263.5,446.9 263.1,446.3 262.7,445.8 262.4,445.2 262.0,444.6 261.6,444.0 261.3,443.4 261.0,442.7 260.6,442.0 260.3,441.3 260.0,440.6 259.7,439.9 259.4,439.2 259.1,438.5 258.9,437.7 258.6,437.0 258.4,436.3 258.2,435.5 258.0,434.8 257.9,434.1 257.7,433.4 257.6,432.7 257.4,432.0 257.3,431.3 257.3,430.6 257.2,429.9 257.2,429.3 257.1,428.7 257.1,428.1 257.1,427.5 257.2,427.0 257.2,426.5 257.3,426.0 257.4,425.5M264.7,449.2 264.3,448.9 263.9,448.5 263.5,448.0 263.1,447.6 262.8,447.1 262.4,446.6 262.0,446.0 261.6,445.4 261.2,444.9 260.9,444.2 260.5,443.6 260.2,442.9 259.8,442.3 259.5,441.6 259.2,440.9 258.9,440.2 258.7,439.4 258.4,438.7 258.2,438.0 257.9,437.2 257.7,436.5 257.5,435.8 257.4,435.0 257.2,434.3 257.1,433.6 257.0,432.8 256.9,432.1 256.8,431.4 256.8,430.8 256.7,430.1 256.7,429.4 256.7,428.8 256.8,428.2 256.8,427.6 256.9,427.1 257.0,426.5 257.1,426.0 257.3,425.6M264.1,449.4 263.7,449.1 263.3,448.7 262.9,448.2 262.4,447.8 262.0,447.3 261.6,446.8 261.2,446.2 260.8,445.7 260.5,445.1 260.1,444.5 259.7,443.8 259.4,443.2 259.1,442.5 258.8,441.8 258.5,441.1 258.2,440.4 257.9,439.7 257.7,438.9 257.4,438.2 257.2,437.4 257.0,436.7 256.9,436.0 256.7,435.2 256.6,434.5 256.5,433.7 256.4,433.0 256.3,432.3 256.3,431.6 256.3,430.9 256.3,430.2 256.3,429.6 256.4,428.9 256.4,428.3 256.5,427.7 256.6,427.2 256.8,426.6 256.9,426.1 257.1,425.6M263.5,449.6 263.1,449.2 262.6,448.9 262.2,448.4 261.7,448.0 261.3,447.5 260.9,447.0 260.5,446.5 260.1,445.9 259.7,445.3 259.3,444.7 259.0,444.1 258.6,443.4 258.3,442.7 258.0,442.0 257.7,441.3 257.4,440.6 257.2,439.9 256.9,439.2 256.7,438.4 256.5,437.7 256.4,436.9 256.2,436.2 256.1,435.4 256.0,434.7 255.9,433.9 255.8,433.2 255.8,432.5 255.8,431.7 255.8,431.0 255.8,430.4 255.9,429.7 256.0,429.0 256.1,428.4 256.2,427.8 256.4,427.2 256.5,426.7 256.7,426.2 256.9,425.7M263.4,450.1 262.9,449.8 262.4,449.4 262.0,449.1 261.5,448.6 261.0,448.2 260.6,447.7 260.2,447.2 259.8,446.7 259.4,446.1 259.0,445.5 258.6,444.9 258.2,444.3 257.9,443.6 257.6,442.9 257.2,442.3 257.0,441.6 256.7,440.8 256.4,440.1 256.2,439.4 256.0,438.6 255.8,437.9 255.7,437.1 255.6,436.3 255.4,435.6 255.4,434.8 255.3,434.1 255.3,433.3 255.3,432.6 255.3,431.9 255.3,431.2 255.4,430.5 255.5,429.8 255.6,429.2 255.7,428.5 255.9,427.9 256.1,427.3 256.3,426.8 256.5,426.2 256.8,425.7M262.8,450.2 262.3,449.9 261.8,449.6 261.3,449.2 260.8,448.8 260.4,448.4 259.9,447.9 259.5,447.4 259.0,446.9 258.6,446.3 258.2,445.7 257.8,445.1 257.5,444.5 257.1,443.8 256.8,443.2 256.5,442.5 256.2,441.8 256.0,441.0 255.7,440.3 255.5,439.6 255.3,438.8 255.2,438.0 255.0,437.3 254.9,436.5 254.8,435.8 254.8,435.0 254.7,434.2 254.7,433.5 254.7,432.8 254.8,432.0 254.8,431.3 254.9,430.6 255.1,429.9 255.2,429.3 255.4,428.6 255.6,428.0 255.8,427.4 256.1,426.8 256.3,426.3 256.6,425.8M261.7,450.1 261.2,449.8 260.7,449.4 260.2,449.0 259.7,448.6 259.2,448.1 258.8,447.6 258.3,447.1 257.9,446.5 257.5,445.9 257.1,445.3 256.7,444.7 256.4,444.0 256.1,443.4 255.8,442.7 255.5,442.0 255.2,441.2 255.0,440.5 254.8,439.8 254.6,439.0 254.5,438.2 254.4,437.5 254.3,436.7 254.2,435.9 254.2,435.2 254.1,434.4 254.2,433.6 254.2,432.9 254.3,432.2 254.4,431.4 254.5,430.7 254.7,430.0 254.8,429.4 255.1,428.7 255.3,428.1 255.5,427.5 255.8,426.9 256.1,426.3M261.1,450.3 260.5,449.9 260.0,449.6 259.5,449.2 259.0,448.7 258.5,448.3 258.1,447.8 257.6,447.3 257.2,446.7 256.8,446.1 256.4,445.5 256.0,444.9 255.7,444.2 255.3,443.6 255.0,442.9 254.8,442.1 254.5,441.4 254.3,440.7 254.1,439.9 253.9,439.2 253.8,438.4 253.7,437.6 253.6,436.9 253.6,436.1 253.6,435.3 253.6,434.6 253.6,433.8 253.7,433.0 253.8,432.3 253.9,431.6 254.1,430.8 254.3,430.1 254.5,429.5 254.7,428.8 255.0,428.2 255.3,427.5 255.6,426.9 256.0,426.4M260.5,450.4 259.9,450.1 259.4,449.7 258.9,449.3 258.4,448.9 257.9,448.5 257.4,448.0 256.9,447.4 256.5,446.9 256.0,446.3 255.6,445.7 255.3,445.1 254.9,444.4 254.6,443.7 254.3,443.0 254.0,442.3 253.8,441.6 253.6,440.9 253.4,440.1 253.3,439.3 253.1,438.6 253.1,437.8 253.0,437.0 253.0,436.2 253.0,435.5 253.0,434.7 253.1,433.9 253.2,433.2 253.3,432.4 253.5,431.7 253.7,431.0 253.9,430.2 254.1,429.6 254.4,428.9 254.7,428.2 255.0,427.6 255.4,427.0 255.8,426.4M259.3,450.2 258.8,449.9 258.2,449.5 257.7,449.1 257.2,448.6 256.7,448.1 256.2,447.6 255.8,447.1 255.3,446.5 254.9,445.9 254.6,445.2 254.2,444.6 253.9,443.9 253.6,443.2 253.3,442.5 253.1,441.8 252.9,441.0 252.7,440.3 252.6,439.5 252.5,438.7 252.4,438.0 252.4,437.2 252.4,436.4 252.4,435.6 252.5,434.8 252.5,434.1 252.7,433.3 252.8,432.5 253.0,431.8 253.2,431.1 253.5,430.3 253.8,429.6 254.1,429.0 254.4,428.3 254.8,427.7 255.2,427.1 255.6,426.5M258.8,450.4 258.2,450.0 257.6,449.6 257.1,449.2 256.5,448.8 256.0,448.3 255.5,447.8 255.1,447.2 254.7,446.6 254.2,446.0 253.9,445.4 253.5,444.8 253.2,444.1 252.9,443.4 252.6,442.7 252.4,441.9 252.2,441.2 252.1,440.4 251.9,439.7 251.9,438.9 251.8,438.1 251.8,437.3 251.8,436.5 251.8,435.7 251.9,435.0 252.0,434.2 252.2,433.4 252.4,432.6 252.6,431.9 252.8,431.2 253.1,430.4 253.4,429.7 253.8,429.0 254.1,428.4 254.5,427.7 254.9,427.1 255.4,426.5M257.6,450.2 257.0,449.8 256.4,449.4 255.9,448.9 255.4,448.4 254.9,447.9 254.4,447.4 254.0,446.8 253.6,446.2 253.2,445.6 252.8,444.9 252.5,444.2 252.2,443.5 252.0,442.8 251.8,442.1 251.6,441.3 251.4,440.6 251.3,439.8 251.2,439.0 251.2,438.2 251.2,437.5 251.2,436.7 251.3,435.9 251.4,435.1 251.5,434.3 251.7,433.5 251.9,432.7 252.1,432.0 252.4,431.2 252.7,430.5 253.1,429.8 253.4,429.1 253.8,428.4 254.3,427.8 254.7,427.2 255.2,426.5M257.0,450.3 256.4,449.9 255.8,449.5 255.3,449.0 254.7,448.6 254.2,448.1 253.8,447.5 253.3,446.9 252.9,446.3 252.5,445.7 252.2,445.0 251.8,444.4 251.6,443.7 251.3,443.0 251.1,442.2 250.9,441.5 250.8,440.7 250.7,439.9 250.6,439.2 250.6,438.4 250.6,437.6 250.6,436.8 250.7,436.0 250.9,435.2 251.0,434.4 251.2,433.6 251.5,432.8 251.7,432.1 252.0,431.3 252.4,430.6 252.7,429.9 253.1,429.2 253.6,428.5 254.0,427.8 254.5,427.2 255.0,426.6M255.8,450.0 255.2,449.6 254.7,449.2 254.1,448.7 253.6,448.2 253.1,447.6 252.7,447.1 252.2,446.5 251.9,445.8 251.5,445.2 251.2,444.5 250.9,443.8 250.7,443.1 250.5,442.4 250.3,441.6 250.2,440.8 250.1,440.1 250.0,439.3 250.0,438.5 250.0,437.7 250.1,436.9 250.2,436.1 250.3,435.3 250.5,434.5 250.8,433.7 251.0,432.9 251.3,432.2 251.6,431.4 252.0,430.7 252.4,429.9 252.8,429.2 253.3,428.5 253.8,427.9 254.3,427.2 254.9,426.6M255.2,450.1 254.6,449.7 254.1,449.3 253.5,448.8 253.0,448.3 252.5,447.8 252.0,447.2 251.6,446.6 251.2,446.0 250.9,445.3 250.5,444.6 250.3,443.9 250.0,443.2 249.8,442.5 249.7,441.7 249.5,441.0 249.5,440.2 249.4,439.4 249.4,438.6 249.5,437.8 249.6,437.0 249.7,436.2 249.9,435.4 250.1,434.6 250.3,433.8 250.6,433.0 250.9,432.2 251.3,431.5 251.7,430.7 252.1,430.0 252.5,429.3 253.0,428.6 253.6,427.9 254.1,427.3M254.1,449.8 253.5,449.4 252.9,448.9 252.4,448.4 251.9,447.9 251.4,447.3 251.0,446.7 250.6,446.1 250.2,445.4 249.9,444.7 249.6,444.0 249.4,443.3 249.2,442.6 249.1,441.8 249.0,441.1 248.9,440.3 248.9,439.5 248.9,438.7 248.9,437.9 249.0,437.1 249.2,436.3 249.4,435.5 249.6,434.7 249.9,433.9 250.2,433.1 250.5,432.3 250.9,431.5 251.3,430.8 251.8,430.1 252.3,429.3 252.8,428.6 253.3,428.0 253.9,427.3M252.9,449.5 252.3,449.0 251.8,448.5 251.3,448.0 250.8,447.4 250.4,446.8 250.0,446.2 249.6,445.5 249.3,444.8 249.0,444.1 248.8,443.4 248.6,442.7 248.5,441.9 248.4,441.2 248.3,440.4 248.3,439.6 248.3,438.8 248.4,438.0 248.5,437.2 248.7,436.4 248.9,435.6 249.1,434.8 249.4,434.0 249.8,433.2 250.1,432.4 250.5,431.6 251.0,430.8 251.5,430.1 252.0,429.4 252.5,428.7 253.1,428.0 253.7,427.3M251.8,449.1 251.2,448.6 250.7,448.1 250.2,447.5 249.8,446.9 249.4,446.3 249.0,445.6 248.7,444.9 248.5,444.2 248.2,443.5 248.0,442.8 247.9,442.0 247.8,441.3 247.8,440.5 247.8,439.7 247.8,438.9 247.9,438.1 248.0,437.3 248.2,436.4 248.4,435.6 248.7,434.8 249.0,434.0 249.4,433.2 249.8,432.4 250.2,431.7 250.7,430.9 251.2,430.2 251.7,429.4 252.3,428.7 252.9,428.0 253.6,427.4M250.7,448.7 250.2,448.1 249.7,447.6 249.2,447.0 248.8,446.4 248.5,445.7 248.2,445.0 247.9,444.3 247.7,443.6 247.5,442.9 247.4,442.1 247.3,441.3 247.2,440.5 247.2,439.8 247.3,438.9 247.4,438.1 247.6,437.3 247.8,436.5 248.0,435.7 248.3,434.9 248.6,434.1 249.0,433.3 249.4,432.5 249.9,431.7 250.4,430.9 250.9,430.2 251.5,429.5 252.1,428.8 252.7,428.1M249.6,448.2 249.1,447.6 248.7,447.0 248.3,446.4 247.9,445.8 247.6,445.1 247.3,444.4 247.1,443.7 247.0,442.9 246.8,442.2 246.8,441.4 246.7,440.6 246.7,439.8 246.8,439.0 246.9,438.2 247.1,437.4 247.3,436.6 247.6,435.8 247.9,434.9 248.2,434.1 248.6,433.3 249.1,432.5 249.5,431.8 250.1,431.0 250.6,430.2 251.2,429.5 251.8,428.8 252.5,428.1M248.6,447.7 248.2,447.1 247.8,446.5 247.4,445.8 247.1,445.2 246.8,444.5 246.6,443.7 246.4,443.0 246.3,442.2 246.2,441.5 246.2,440.7 246.3,439.9 246.3,439.1 246.5,438.3 246.6,437.4 246.9,436.6 247.2,435.8 247.5,435.0 247.8,434.2 248.3,433.4 248.7,432.6 249.2,431.8 249.8,431.0 250.4,430.3 251.0,429.5 251.6,428.8M247.6,447.2 247.2,446.5 246.9,445.9 246.6,445.2 246.3,444.5 246.1,443.8 245.9,443.0 245.8,442.3 245.8,441.5 245.8,440.7 245.8,439.9 245.9,439.1 246.0,438.3 246.2,437.5 246.5,436.7 246.8,435.8 247.1,435.0 247.5,434.2 247.9,433.4 248.4,432.6 248.9,431.8 249.5,431.0 250.1,430.3 250.7,429.5 251.4,428.8M246.4,445.9 246.1,445.2 245.8,444.5 245.6,443.8 245.5,443.1 245.3,442.3 245.3,441.5 245.3,440.7 245.3,439.9 245.4,439.1 245.6,438.3 245.8,437.5 246.1,436.7 246.4,435.9 246.7,435.0 247.1,434.2 247.6,433.4 248.1,432.6 248.6,431.8 249.2,431.1 249.9,430.3 250.5,429.6M245.4,444.6 245.2,443.8 245.0,443.1 244.9,442.3 244.9,441.6 244.9,440.8 244.9,440.0 245.0,439.2 245.2,438.3 245.4,437.5 245.7,436.7 246.0,435.9 246.4,435.1 246.8,434.2 247.3,433.4 247.8,432.6 248.4,431.9 249.0,431.1 249.6,430.3M244.6,443.1 244.5,442.4 244.4,441.6 244.4,440.8 244.5,440.0 244.6,439.2 244.8,438.4 245.0,437.5 245.3,436.7 245.7,435.9 246.1,435.1 246.5,434.3 247.0,433.4 247.5,432.6 248.1,431.9 248.7,431.1M244.1,440.8 244.1,440.0 244.3,439.2 244.5,438.4 244.7,437.5 245.0,436.7 245.3,435.9 245.7,435.1 246.2,434.3 246.7,433.5 247.3,432.7M266.1,448.5 265.1,448.8 264.2,449.1 263.2,449.4 262.3,449.6 261.3,449.9 260.4,450.1 259.5,450.3M267.7,447.2 266.7,447.6 265.6,447.9 264.6,448.3 263.6,448.6 262.6,448.9 261.6,449.1 260.7,449.4 259.7,449.7 258.8,449.9 257.9,450.1 257.0,450.3M270.5,445.4 269.4,445.8 268.4,446.2 267.3,446.6 266.2,447.0 265.2,447.3 264.1,447.7 263.1,448.0 262.0,448.3 261.0,448.6 260.0,448.9 259.0,449.1 258.1,449.4 257.1,449.6 256.2,449.8 255.3,450.0M272.3,443.9 271.2,444.3 270.2,444.7 269.1,445.1 268.0,445.5 266.9,445.9 265.8,446.3 264.7,446.7 263.6,447.0 262.5,447.4 261.5,447.7 260.4,448.0 259.4,448.3 258.3,448.5 257.4,448.8 256.4,449.0 255.5,449.2 254.5,449.4 253.7,449.5 252.8,449.7M274.2,442.2 273.1,442.7 272.0,443.1 270.9,443.6 269.8,444.0 268.7,444.4 267.6,444.8 266.5,445.2 265.3,445.6 264.2,446.0 263.1,446.3 262.0,446.7 260.9,447.0 259.8,447.3 258.8,447.6 257.7,447.9 256.7,448.1 255.7,448.4 254.7,448.6 253.8,448.8 252.9,448.9 252.1,449.1 251.2,449.2M275.0,440.9 273.9,441.4 272.8,441.9 271.7,442.3 270.6,442.8 269.5,443.2 268.3,443.6 267.2,444.0 266.0,444.5 264.9,444.9 263.7,445.2 262.6,445.6 261.5,445.9 260.4,446.3 259.3,446.6 258.2,446.9 257.1,447.2 256.1,447.4 255.1,447.7 254.1,447.9 253.1,448.1 252.2,448.2 251.3,448.4 250.5,448.5M276.7,439.1 275.7,439.6 274.7,440.1 273.6,440.6 272.5,441.0 271.4,441.5 270.2,441.9 269.1,442.4 267.9,442.8 266.8,443.2 265.6,443.7 264.4,444.1 263.3,444.4 262.1,444.8 261.0,445.2 259.8,445.5 258.7,445.8 257.6,446.1 256.5,446.4 255.5,446.7 254.5,446.9 253.5,447.1 252.5,447.3 251.6,447.5 250.7,447.6 249.8,447.8 249.0,447.9M277.4,437.8 276.4,438.3 275.4,438.7 274.3,439.2 273.2,439.7 272.1,440.2 271.0,440.6 269.8,441.1 268.7,441.5 267.5,442.0 266.3,442.4 265.2,442.8 264.0,443.2 262.8,443.6 261.6,444.0 260.5,444.4 259.3,444.7 258.2,445.0 257.1,445.3 256.0,445.6 254.9,445.9 253.9,446.1 252.9,446.3 251.9,446.5 251.0,446.7 250.1,446.9 249.2,447.0 248.4,447.1 247.6,447.2M278.9,435.9 278.0,436.4 277.0,436.9 276.0,437.4 275.0,437.9 273.9,438.3 272.8,438.8 271.7,439.3 270.6,439.8 269.4,440.2 268.3,440.7 267.1,441.1 265.9,441.5 264.7,442.0 263.5,442.4 262.4,442.8 261.2,443.1 260.0,443.5 258.9,443.8 257.7,444.2 256.6,444.5 255.5,444.8 254.4,445.0 253.4,445.3 252.4,445.5 251.4,445.7 250.5,445.9 249.6,446.0 248.7,446.1 247.9,446.2 247.1,446.3M279.4,434.6 278.5,435.0 277.5,435.5 276.6,436.0 275.6,436.5 274.5,437.0 273.5,437.4 272.4,437.9 271.3,438.4 270.1,438.9 269.0,439.3 267.8,439.8 266.6,440.2 265.5,440.7 264.3,441.1 263.1,441.5 261.9,441.9 260.7,442.3 259.6,442.6 258.4,443.0 257.3,443.3 256.2,443.6 255.1,443.9 254.0,444.1 253.0,444.4 251.9,444.6 251.0,444.8 250.0,445.0 249.1,445.1 248.3,445.3 247.4,445.4 246.7,445.4 245.9,445.5M280.5,432.7 279.7,433.2 278.9,433.7 278.0,434.2 277.0,434.6 276.1,435.1 275.1,435.6 274.0,436.1 273.0,436.6 271.9,437.0 270.8,437.5 269.6,438.0 268.5,438.4 267.3,438.9 266.2,439.3 265.0,439.8 263.8,440.2 262.6,440.6 261.5,441.0 260.3,441.3 259.1,441.7 258.0,442.0 256.9,442.4 255.8,442.7 254.7,443.0 253.6,443.2 252.6,443.5 251.6,443.7 250.6,443.9 249.6,444.0 248.7,444.2 247.9,444.3 247.1,444.4 246.3,444.5 245.6,444.6M280.7,431.4 279.9,431.9 279.1,432.3 278.3,432.8 277.4,433.3 276.5,433.8 275.5,434.2 274.5,434.7 273.5,435.2 272.4,435.7 271.4,436.1 270.3,436.6 269.1,437.1 268.0,437.5 266.9,438.0 265.7,438.4 264.5,438.8 263.4,439.2 262.2,439.6 261.1,440.0 259.9,440.4 258.7,440.8 257.6,441.1 256.5,441.4 255.4,441.7 254.3,442.0 253.3,442.3 252.2,442.5 251.2,442.7 250.3,442.9 249.3,443.1 248.5,443.2 247.6,443.4 246.8,443.5 246.0,443.5 245.3,443.6 244.7,443.6M281.3,429.7 280.7,430.2 280.0,430.6 279.2,431.1 278.4,431.5 277.6,432.0 276.7,432.4 275.8,432.9 274.9,433.4 273.9,433.8 272.9,434.3 271.9,434.8 270.8,435.2 269.7,435.7 268.6,436.2 267.5,436.6 266.4,437.0 265.2,437.5 264.1,437.9 262.9,438.3 261.8,438.7 260.6,439.1 259.5,439.4 258.4,439.8 257.3,440.1 256.2,440.4 255.1,440.7 254.0,441.0 253.0,441.3 252.0,441.5 251.0,441.7 250.0,441.9 249.1,442.1 248.2,442.2 247.4,442.4 246.6,442.5 245.9,442.5 245.1,442.6 244.5,442.6M281.1,428.6 280.5,429.0 279.9,429.4 279.2,429.8 278.5,430.3 277.7,430.7 276.9,431.2 276.0,431.6 275.1,432.1 274.2,432.5 273.3,433.0 272.3,433.4 271.3,433.9 270.2,434.4 269.2,434.8 268.1,435.3 267.0,435.7 265.9,436.1 264.8,436.6 263.6,437.0 262.5,437.4 261.4,437.7 260.3,438.1 259.1,438.5 258.0,438.8 256.9,439.2 255.9,439.5 254.8,439.8 253.8,440.0 252.7,440.3 251.7,440.5 250.8,440.7 249.9,440.9 249.0,441.1 248.1,441.2 247.3,441.3 246.5,441.4 245.8,441.5 245.1,441.6 244.4,441.6M281.2,427.1 280.7,427.4 280.2,427.8 279.6,428.2 279.0,428.6 278.4,429.1 277.6,429.5 276.9,429.9 276.1,430.4 275.3,430.8 274.4,431.3 273.5,431.7 272.6,432.2 271.6,432.6 270.6,433.0 269.6,433.5 268.6,433.9 267.5,434.4 266.4,434.8 265.4,435.2 264.3,435.6 263.2,436.0 262.1,436.4 261.0,436.8 259.9,437.2 258.8,437.5 257.7,437.8 256.7,438.2 255.6,438.5 254.6,438.7 253.6,439.0 252.6,439.3 251.6,439.5 250.7,439.7 249.7,439.9 248.9,440.0 248.0,440.2 247.2,440.3 246.5,440.4 245.8,440.4 245.1,440.5 244.5,440.5 243.9,440.5M280.6,426.1 280.2,426.4 279.7,426.8 279.2,427.1 278.7,427.5 278.1,427.9 277.4,428.3 276.8,428.8 276.0,429.2 275.3,429.6 274.5,430.0 273.6,430.5 272.7,430.9 271.8,431.3 270.9,431.8 269.9,432.2 269.0,432.6 268.0,433.1 266.9,433.5 265.9,433.9 264.9,434.3 263.8,434.7 262.7,435.1 261.7,435.5 260.6,435.8 259.6,436.2 258.5,436.5 257.5,436.8 256.4,437.2 255.4,437.4 254.4,437.7 253.4,438.0 252.4,438.2 251.5,438.4 250.6,438.6 249.7,438.8 248.9,439.0 248.1,439.1 247.3,439.2 246.5,439.3 245.8,439.4 245.2,439.4 244.6,439.4 244.0,439.4M279.5,425.5 279.1,425.8 278.7,426.1 278.2,426.5 277.7,426.9 277.1,427.3 276.5,427.7 275.8,428.1 275.1,428.5 274.4,428.9 273.6,429.3 272.8,429.7 271.9,430.1 271.1,430.5 270.2,431.0 269.2,431.4 268.3,431.8 267.3,432.2 266.3,432.6 265.4,433.0 264.3,433.4 263.3,433.8 262.3,434.2 261.3,434.5 260.3,434.9 259.2,435.2 258.2,435.5 257.2,435.9 256.2,436.2 255.2,436.4 254.3,436.7 253.3,436.9 252.4,437.2 251.5,437.4 250.6,437.6 249.8,437.7 248.9,437.9 248.2,438.0 247.4,438.1 246.7,438.2 246.0,438.3 245.4,438.3 244.8,438.4 244.3,438.4M278.4,424.9 278.0,425.2 277.6,425.6 277.1,425.9 276.6,426.3 276.0,426.6 275.4,427.0 274.8,427.4 274.1,427.8 273.4,428.2 272.7,428.6 271.9,429.0 271.1,429.4 270.3,429.8 269.4,430.2 268.5,430.6 267.6,431.0 266.7,431.4 265.7,431.8 264.8,432.1 263.8,432.5 262.9,432.9 261.9,433.2 260.9,433.6 259.9,433.9 258.9,434.3 258.0,434.6 257.0,434.9 256.0,435.2 255.1,435.4 254.2,435.7 253.3,435.9 252.4,436.1 251.5,436.3 250.7,436.5 249.9,436.7 249.1,436.8 248.3,437.0 247.6,437.1 246.9,437.1 246.3,437.2 245.7,437.2 245.1,437.3 244.6,437.3M277.4,424.1 277.1,424.4 276.8,424.7 276.4,425.1 275.9,425.4 275.4,425.7 274.9,426.1 274.4,426.4 273.8,426.8 273.1,427.2 272.4,427.5 271.7,427.9 271.0,428.3 270.2,428.7 269.4,429.1 268.6,429.4 267.8,429.8 266.9,430.2 266.0,430.6 265.1,430.9 264.2,431.3 263.3,431.7 262.4,432.0 261.5,432.3 260.5,432.7 259.6,433.0 258.7,433.3 257.7,433.6 256.8,433.9 255.9,434.2 255.0,434.4 254.1,434.7 253.3,434.9 252.4,435.1 251.6,435.3 250.8,435.5 250.0,435.6 249.3,435.7 248.6,435.9 247.9,436.0 247.3,436.0 246.7,436.1 246.1,436.1 245.6,436.2 245.1,436.2M275.8,424.0 275.5,424.3 275.1,424.6 274.7,424.9 274.3,425.2 273.8,425.6 273.2,425.9 272.7,426.2 272.1,426.6 271.4,426.9 270.7,427.3 270.1,427.6 269.3,428.0 268.6,428.4 267.8,428.7 267.0,429.1 266.2,429.4 265.4,429.8 264.5,430.1 263.7,430.5 262.8,430.8 261.9,431.1 261.1,431.5 260.2,431.8 259.3,432.1 258.4,432.4 257.6,432.7 256.7,432.9 255.8,433.2 255.0,433.4 254.2,433.6 253.3,433.9 252.5,434.1 251.8,434.2 251.0,434.4 250.3,434.5 249.6,434.7 248.9,434.8 248.3,434.9 247.7,435.0 247.1,435.0 246.6,435.1 246.1,435.1 245.6,435.1M274.5,423.6 274.2,423.9 273.8,424.2 273.4,424.5 273.0,424.8 272.5,425.1 272.0,425.4 271.5,425.7 271.0,426.0 270.4,426.4 269.7,426.7 269.1,427.0 268.4,427.4 267.7,427.7 267.0,428.1 266.2,428.4 265.5,428.7 264.7,429.1 263.9,429.4 263.1,429.7 262.3,430.0 261.5,430.3 260.7,430.6 259.9,430.9 259.0,431.2 258.2,431.5 257.4,431.7 256.6,432.0 255.8,432.2 255.0,432.4 254.2,432.7 253.5,432.9 252.7,433.0 252.0,433.2 251.3,433.4 250.6,433.5 250.0,433.6 249.3,433.7 248.7,433.8 248.2,433.9 247.6,433.9 247.1,434.0 246.7,434.0 246.2,434.0M273.1,423.3 272.8,423.6 272.5,423.8 272.1,424.1 271.7,424.4 271.3,424.7 270.8,425.0 270.3,425.3 269.8,425.6 269.3,425.9 268.7,426.2 268.1,426.5 267.5,426.8 266.8,427.1 266.2,427.4 265.5,427.7 264.8,428.0 264.0,428.3 263.3,428.6 262.6,428.9 261.8,429.2 261.1,429.5 260.3,429.8 259.6,430.1 258.8,430.3 258.0,430.6 257.3,430.8 256.5,431.1 255.8,431.3 255.1,431.5 254.3,431.7 253.6,431.9 252.9,432.0 252.3,432.2 251.6,432.3 251.0,432.5 250.4,432.6 249.8,432.7 249.3,432.8 248.7,432.8 248.2,432.9 247.8,432.9 247.3,432.9 246.9,432.9M271.7,423.1 271.4,423.3 271.1,423.6 270.8,423.8 270.4,424.1 270.0,424.3 269.6,424.6 269.1,424.9 268.7,425.1 268.2,425.4 267.6,425.7 267.1,426.0 266.5,426.3 265.9,426.6 265.3,426.8 264.7,427.1 264.0,427.4 263.4,427.7 262.7,428.0 262.0,428.2 261.4,428.5 260.7,428.8 260.0,429.0 259.3,429.3 258.6,429.5 257.9,429.7 257.2,429.9 256.5,430.2 255.8,430.4 255.2,430.6 254.5,430.7 253.9,430.9 253.2,431.1 252.6,431.2 252.0,431.3 251.5,431.4 250.9,431.5 250.4,431.6 249.9,431.7 249.4,431.8 248.9,431.8 248.5,431.8 248.1,431.9M269.9,423.1 269.7,423.4 269.4,423.6 269.1,423.8 268.7,424.0 268.3,424.3 267.9,424.5 267.5,424.8 267.0,425.0 266.6,425.3 266.1,425.5 265.5,425.8 265.0,426.0 264.5,426.3 263.9,426.6 263.3,426.8 262.7,427.1 262.1,427.3 261.5,427.6 260.9,427.8 260.3,428.0 259.6,428.3 259.0,428.5 258.4,428.7 257.8,428.9 257.1,429.1 256.5,429.3 255.9,429.5 255.3,429.6 254.7,429.8 254.1,430.0 253.6,430.1 253.0,430.2 252.5,430.3 252.0,430.5 251.5,430.5 251.0,430.6 250.5,430.7 250.1,430.7 249.7,430.8 249.3,430.8 248.9,430.8M268.2,423.2 268.0,423.4 267.7,423.6 267.4,423.8 267.0,424.0 266.7,424.2 266.3,424.5 265.9,424.7 265.5,424.9 265.0,425.1 264.6,425.4 264.1,425.6 263.6,425.8 263.1,426.0 262.6,426.3 262.1,426.5 261.5,426.7 261.0,426.9 260.5,427.1 259.9,427.3 259.3,427.5 258.8,427.7 258.2,427.9 257.7,428.1 257.1,428.3 256.6,428.5 256.0,428.6 255.5,428.8 255.0,428.9 254.5,429.1 254.0,429.2 253.5,429.3 253.0,429.4 252.5,429.5 252.1,429.6 251.7,429.6 251.3,429.7 250.9,429.8 250.5,429.8 250.2,429.8M266.5,423.3 266.3,423.5 266.0,423.6 265.7,423.8 265.4,424.0 265.1,424.2 264.7,424.4 264.4,424.6 264.0,424.8 263.6,425.0 263.2,425.2 262.8,425.4 262.3,425.6 261.9,425.8 261.4,426.0 261.0,426.2 260.5,426.3 260.0,426.5 259.6,426.7 259.1,426.9 258.6,427.1 258.1,427.2 257.6,427.4 257.1,427.5 256.7,427.7 256.2,427.8 255.7,428.0 255.3,428.1 254.8,428.2 254.4,428.3 254.0,428.4 253.6,428.5 253.2,428.6 252.8,428.6 252.4,428.7 252.1,428.8 251.7,428.8 251.4,428.8M264.7,423.5 264.4,423.7 264.2,423.9 263.9,424.0 263.6,424.2 263.3,424.3 263.0,424.5 262.6,424.7 262.3,424.8 261.9,425.0 261.6,425.2 261.2,425.3 260.8,425.5 260.4,425.7 260.0,425.8 259.6,426.0 259.2,426.1 258.8,426.3 258.4,426.4 258.0,426.5 257.6,426.7 257.2,426.8 256.8,426.9 256.4,427.1 256.0,427.2 255.6,427.3 255.3,427.4 254.9,427.5 254.5,427.5 254.2,427.6 253.9,427.7 253.5,427.7 253.2,427.8 252.9,427.8M262.7,423.9 262.4,424.0 262.2,424.1 261.9,424.3 261.7,424.4 261.4,424.5 261.1,424.7 260.8,424.8 260.5,424.9 260.2,425.1 259.9,425.2 259.6,425.3 259.2,425.5 258.9,425.6 258.6,425.7 258.3,425.8 257.9,425.9 257.6,426.0 257.3,426.1 257.0,426.2 256.7,426.3 256.3,426.4 256.0,426.5 255.7,426.6 255.4,426.7 255.2,426.7 254.9,426.8" fill="none" stroke="#ff3300" stroke-width="0.3" stroke-opacity="0.45"/>
<defs><radialGradient id="rg4"><stop offset="0" stop-color="#ff3300" stop-opacity="0.95"/><stop offset="0.6" stop-color="#ff3300" stop-opacity="0.75"/><stop offset="1" stop-color="#ff3300" stop-opacity="0"/></radialGradient><clipPath id="ce4"><ellipse cx="264.4" cy="436.7" rx="23.8" ry="14.5" transform="rotate(-16.2 264.4 436.7)"/></clipPath></defs>
<ellipse clip-path="url(#ce4)" cx="259" cy="429" rx="21" ry="9.5" transform="rotate(-18 259 429)" fill="url(#rg4)"/>
<g clip-path="url(#c5)" fill="#12b012">
<circle cx="490.16" cy="468.55" r="1.25"/><circle cx="483.21" cy="471.88" r="1.25"/><circle cx="476.23" cy="475.03" r="1.25"/><circle cx="469.28" cy="477.98" r="1.25"/><circle cx="462.40" cy="480.71" r="1.25"/><circle cx="455.62" cy="483.21" r="1.25"/><circle cx="448.98" cy="485.47" r="1.25"/><circle cx="442.52" cy="487.47" r="1.25"/><circle cx="436.28" cy="489.20" r="1.25"/><circle cx="430.30" cy="490.66" r="1.25"/><circle cx="424.59" cy="491.84" r="1.25"/><circle cx="419.20" cy="492.73" r="1.25"/><circle cx="414.15" cy="493.34" r="1.25"/><circle cx="409.46" cy="493.66" r="1.25"/><circle cx="405.16" cy="493.70" r="1.25"/><circle cx="401.27" cy="493.46" r="1.25"/><circle cx="397.80" cy="492.93" r="1.25"/><circle cx="394.76" cy="492.14" r="1.25"/><circle cx="392.16" cy="491.08" r="1.25"/><circle cx="390.02" cy="489.77" r="1.25"/><circle cx="388.33" cy="488.22" r="1.25"/><circle cx="387.10" cy="486.44" r="1.25"/><circle cx="386.33" cy="484.43" r="1.25"/><circle cx="386.02" cy="482.22" r="1.25"/><circle cx="386.15" cy="479.82" r="1.25"/><circle cx="386.72" cy="477.23" r="1.25"/><circle cx="387.73" cy="474.49" r="1.25"/><circle cx="389.15" cy="471.60" r="1.25"/><circle cx="390.99" cy="468.57" r="1.25"/><circle cx="393.22" cy="465.43" r="1.25"/><circle cx="395.83" cy="462.18" r="1.25"/><circle cx="398.81" cy="458.85" r="1.25"/><circle cx="402.13" cy="455.44" r="1.25"/><circle cx="405.77" cy="451.99" r="1.25"/><circle cx="409.73" cy="448.49" r="1.25"/><circle cx="413.98" cy="444.96" r="1.25"/><circle cx="418.49" cy="441.42" r="1.25"/><circle cx="423.25" cy="437.89" r="1.25"/><circle cx="428.24" cy="434.37" r="1.25"/><circle cx="433.44" cy="430.89" r="1.25"/><circle cx="438.81" cy="427.45" r="1.25"/><circle cx="444.36" cy="424.06" r="1.25"/><circle cx="450.04" cy="420.75" r="1.25"/><circle cx="455.84" cy="417.52" r="1.25"/><circle cx="461.74" cy="414.38" r="1.25"/><circle cx="467.71" cy="411.35" r="1.25"/><circle cx="473.73" cy="408.44" r="1.25"/><circle cx="479.78" cy="405.66" r="1.25"/><circle cx="485.83" cy="403.02" r="1.25"/><circle cx="491.86" cy="400.53" r="1.25"/><circle cx="497.85" cy="398.21" r="1.25"/><circle cx="503.78" cy="396.05" r="1.25"/><circle cx="509.61" cy="394.08" r="1.25"/><circle cx="515.33" cy="392.30" r="1.25"/><circle cx="520.91" cy="390.72" r="1.25"/><circle cx="526.33" cy="389.34" r="1.25"/><circle cx="531.56" cy="388.18" r="1.25"/><circle cx="536.58" cy="387.25" r="1.25"/><circle cx="541.37" cy="386.54" r="1.25"/><circle cx="545.90" cy="386.07" r="1.25"/><circle cx="550.15" cy="385.85" r="1.25"/><circle cx="554.09" cy="385.87" r="1.25"/><circle cx="557.71" cy="386.13" r="1.25"/><circle cx="560.98" cy="386.65" r="1.25"/><circle cx="563.88" cy="387.42" r="1.25"/><circle cx="566.39" cy="388.44" r="1.25"/><circle cx="568.50" cy="389.72" r="1.25"/><circle cx="570.19" cy="391.24" r="1.25"/><circle cx="571.44" cy="393.01" r="1.25"/><circle cx="572.24" cy="395.02" r="1.25"/><circle cx="572.58" cy="397.26" r="1.25"/><circle cx="572.45" cy="399.73" r="1.25"/><circle cx="571.84" cy="402.42" r="1.25"/><circle cx="570.76" cy="405.30" r="1.25"/><circle cx="569.20" cy="408.38" r="1.25"/><circle cx="567.16" cy="411.64" r="1.25"/><circle cx="564.65" cy="415.06" r="1.25"/><circle cx="561.68" cy="418.62" r="1.25"/><circle cx="558.25" cy="422.31" r="1.25"/><circle cx="554.39" cy="426.10" r="1.25"/><circle cx="550.11" cy="429.98" r="1.25"/><circle cx="545.43" cy="433.93" r="1.25"/><circle cx="540.38" cy="437.91" r="1.25"/><circle cx="534.98" cy="441.92" r="1.25"/><circle cx="529.25" cy="445.92" r="1.25"/><circle cx="523.25" cy="449.90" r="1.25"/><circle cx="516.99" cy="453.82" r="1.25"/><circle cx="510.51" cy="457.67" r="1.25"/><circle cx="503.85" cy="461.43" r="1.25"/><circle cx="497.06" cy="465.06" r="1.25"/>
</g>
<clipPath id="se5"><ellipse cx="477.45" cy="436.35" rx="7.3" ry="4.05" transform="rotate(-29 477.45 436.35)"/></clipPath>
<g clip-path="url(#se5)"><rect x="467" y="426" width="20" height="20" fill="#ff3300"/><path d="M481.1,431.9 L476.6,440.8 L495,446 L495,425Z" fill="#000"/></g>
<line x1="250.44" y1="254" x2="250.44" y2="261" stroke="#bbbbbb" stroke-width="1"/>
<text transform="translate(248.54,261.50) rotate(90)" class="tkx" textLength="19.3" lengthAdjust="spacingAndGlyphs">-4.00</text>
<line x1="226.58" y1="254" x2="226.58" y2="261" stroke="#bbbbbb" stroke-width="1"/>
<text transform="translate(224.68,261.50) rotate(90)" class="tkx" textLength="19.3" lengthAdjust="spacingAndGlyphs">-3.00</text>
<line x1="202.72" y1="254" x2="202.72" y2="261" stroke="#bbbbbb" stroke-width="1"/>
<text transform="translate(200.82,261.50) rotate(90)" class="tkx" textLength="19.3" lengthAdjust="spacingAndGlyphs">-2.00</text>
<line x1="178.86" y1="254" x2="178.86" y2="261" stroke="#bbbbbb" stroke-width="1"/>
<text transform="translate(176.96,261.50) rotate(90)" class="tkx" textLength="19.3" lengthAdjust="spacingAndGlyphs">-1.00</text>
<line x1="155.0" y1="254" x2="155.0" y2="261" stroke="#bbbbbb" stroke-width="1"/>
<text transform="translate(153.10,261.50) rotate(90)" class="tkx" textLength="16.0" lengthAdjust="spacingAndGlyphs">0.00</text>
<line x1="131.14" y1="254" x2="131.14" y2="261" stroke="#bbbbbb" stroke-width="1"/>
<text transform="translate(129.24,261.50) rotate(90)" class="tkx" textLength="16.0" lengthAdjust="spacingAndGlyphs">1.00</text>
<line x1="107.28" y1="254" x2="107.28" y2="261" stroke="#bbbbbb" stroke-width="1"/>
<text transform="translate(105.38,261.50) rotate(90)" class="tkx" textLength="16.0" lengthAdjust="spacingAndGlyphs">2.00</text>
<line x1="83.42" y1="254" x2="83.42" y2="261" stroke="#bbbbbb" stroke-width="1"/>
<text transform="translate(81.52,261.50) rotate(90)" class="tkx" textLength="16.0" lengthAdjust="spacingAndGlyphs">3.00</text>
<line x1="59.56" y1="254" x2="59.56" y2="261" stroke="#bbbbbb" stroke-width="1"/>
<text transform="translate(57.66,261.50) rotate(90)" class="tkx" textLength="16.0" lengthAdjust="spacingAndGlyphs">4.00</text>
<line x1="48" y1="223.5" x2="55" y2="223.5" stroke="#c4c4c4" stroke-width="1"/>
<text x="47.20" y="226.10" class="tk" text-anchor="end" textLength="19.3" lengthAdjust="spacingAndGlyphs">-4.00</text>
<line x1="48" y1="176.5" x2="55" y2="176.5" stroke="#c4c4c4" stroke-width="1"/>
<text x="47.20" y="179.10" class="tk" text-anchor="end" textLength="19.3" lengthAdjust="spacingAndGlyphs">-2.00</text>
<line x1="48" y1="129.5" x2="55" y2="129.5" stroke="#c4c4c4" stroke-width="1"/>
<text x="47.20" y="132.10" class="tk" text-anchor="end" textLength="16.0" lengthAdjust="spacingAndGlyphs">0.00</text>
<line x1="48" y1="82.5" x2="55" y2="82.5" stroke="#c4c4c4" stroke-width="1"/>
<text x="47.20" y="85.10" class="tk" text-anchor="end" textLength="16.0" lengthAdjust="spacingAndGlyphs">2.00</text>
<line x1="48" y1="35.5" x2="55" y2="35.5" stroke="#c4c4c4" stroke-width="1"/>
<text x="47.20" y="38.10" class="tk" text-anchor="end" textLength="16.0" lengthAdjust="spacingAndGlyphs">4.00</text>
<text x="59.08 63.47 68.69 77.74 81.59 86.35 93.98 98.49 110.04 113.58" y="16.6" class="ti">t = -7 min</text>
<line x1="463.24" y1="253.5" x2="463.24" y2="260.5" stroke="#bbbbbb" stroke-width="1"/>
<text transform="translate(461.34,261.00) rotate(90)" class="tkx" textLength="19.3" lengthAdjust="spacingAndGlyphs">-4.00</text>
<line x1="439.38" y1="253.5" x2="439.38" y2="260.5" stroke="#bbbbbb" stroke-width="1"/>
<text transform="translate(437.48,261.00) rotate(90)" class="tkx" textLength="19.3" lengthAdjust="spacingAndGlyphs">-3.00</text>
<line x1="415.52" y1="253.5" x2="415.52" y2="260.5" stroke="#bbbbbb" stroke-width="1"/>
<text transform="translate(413.62,261.00) rotate(90)" class="tkx" textLength="19.3" lengthAdjust="spacingAndGlyphs">-2.00</text>
<line x1="391.66" y1="253.5" x2="391.66" y2="260.5" stroke="#bbbbbb" stroke-width="1"/>
<text transform="translate(389.76,261.00) rotate(90)" class="tkx" textLength="19.3" lengthAdjust="spacingAndGlyphs">-1.00</text>
<line x1="367.8" y1="253.5" x2="367.8" y2="260.5" stroke="#bbbbbb" stroke-width="1"/>
<text transform="translate(365.90,261.00) rotate(90)" class="tkx" textLength="16.0" lengthAdjust="spacingAndGlyphs">0.00</text>
<line x1="343.94" y1="253.5" x2="343.94" y2="260.5" stroke="#bbbbbb" stroke-width="1"/>
<text transform="translate(342.04,261.00) rotate(90)" class="tkx" textLength="16.0" lengthAdjust="spacingAndGlyphs">1.00</text>
<line x1="320.08" y1="253.5" x2="320.08" y2="260.5" stroke="#bbbbbb" stroke-width="1"/>
<text transform="translate(318.18,261.00) rotate(90)" class="tkx" textLength="16.0" lengthAdjust="spacingAndGlyphs">2.00</text>
<line x1="296.22" y1="253.5" x2="296.22" y2="260.5" stroke="#bbbbbb" stroke-width="1"/>
<text transform="translate(294.32,261.00) rotate(90)" class="tkx" textLength="16.0" lengthAdjust="spacingAndGlyphs">3.00</text>
<line x1="272.36" y1="253.5" x2="272.36" y2="260.5" stroke="#bbbbbb" stroke-width="1"/>
<text transform="translate(270.46,261.00) rotate(90)" class="tkx" textLength="16.0" lengthAdjust="spacingAndGlyphs">4.00</text>
<line x1="261" y1="223.5" x2="268" y2="223.5" stroke="#c4c4c4" stroke-width="1"/>
<line x1="261" y1="176.5" x2="268" y2="176.5" stroke="#c4c4c4" stroke-width="1"/>
<line x1="261" y1="129.5" x2="268" y2="129.5" stroke="#c4c4c4" stroke-width="1"/>
<line x1="261" y1="82.5" x2="268" y2="82.5" stroke="#c4c4c4" stroke-width="1"/>
<line x1="261" y1="35.5" x2="268" y2="35.5" stroke="#c4c4c4" stroke-width="1"/>
<text x="271.98 276.37 281.59 290.64 294.49 299.25 306.88 311.39 322.94 326.48" y="16.6" class="ti">t = -2 min</text>
<line x1="675.74" y1="254" x2="675.74" y2="261" stroke="#bbbbbb" stroke-width="1"/>
<text transform="translate(673.84,261.50) rotate(90)" class="tkx" textLength="19.3" lengthAdjust="spacingAndGlyphs">-4.00</text>
<line x1="651.88" y1="254" x2="651.88" y2="261" stroke="#bbbbbb" stroke-width="1"/>
<text transform="translate(649.98,261.50) rotate(90)" class="tkx" textLength="19.3" lengthAdjust="spacingAndGlyphs">-3.00</text>
<line x1="628.02" y1="254" x2="628.02" y2="261" stroke="#bbbbbb" stroke-width="1"/>
<text transform="translate(626.12,261.50) rotate(90)" class="tkx" textLength="19.3" lengthAdjust="spacingAndGlyphs">-2.00</text>
<line x1="604.16" y1="254" x2="604.16" y2="261" stroke="#bbbbbb" stroke-width="1"/>
<text transform="translate(602.26,261.50) rotate(90)" class="tkx" textLength="19.3" lengthAdjust="spacingAndGlyphs">-1.00</text>
<line x1="580.3" y1="254" x2="580.3" y2="261" stroke="#bbbbbb" stroke-width="1"/>
<text transform="translate(578.40,261.50) rotate(90)" class="tkx" textLength="16.0" lengthAdjust="spacingAndGlyphs">0.00</text>
<line x1="556.44" y1="254" x2="556.44" y2="261" stroke="#bbbbbb" stroke-width="1"/>
<text transform="translate(554.54,261.50) rotate(90)" class="tkx" textLength="16.0" lengthAdjust="spacingAndGlyphs">1.00</text>
<line x1="532.58" y1="254" x2="532.58" y2="261" stroke="#bbbbbb" stroke-width="1"/>
<text transform="translate(530.68,261.50) rotate(90)" class="tkx" textLength="16.0" lengthAdjust="spacingAndGlyphs">2.00</text>
<line x1="508.72" y1="254" x2="508.72" y2="261" stroke="#bbbbbb" stroke-width="1"/>
<text transform="translate(506.82,261.50) rotate(90)" class="tkx" textLength="16.0" lengthAdjust="spacingAndGlyphs">3.00</text>
<line x1="484.86" y1="254" x2="484.86" y2="261" stroke="#bbbbbb" stroke-width="1"/>
<text transform="translate(482.96,261.50) rotate(90)" class="tkx" textLength="16.0" lengthAdjust="spacingAndGlyphs">4.00</text>
<line x1="473" y1="223.5" x2="480" y2="223.5" stroke="#c4c4c4" stroke-width="1"/>
<line x1="473" y1="176.5" x2="480" y2="176.5" stroke="#c4c4c4" stroke-width="1"/>
<line x1="473" y1="129.5" x2="480" y2="129.5" stroke="#c4c4c4" stroke-width="1"/>
<line x1="473" y1="82.5" x2="480" y2="82.5" stroke="#c4c4c4" stroke-width="1"/>
<line x1="473" y1="35.5" x2="480" y2="35.5" stroke="#c4c4c4" stroke-width="1"/>
<text x="490.98 495.37 500.59 509.64 513.79" y="16.6" class="ti">t = 0</text>
<line x1="358.64" y1="561" x2="358.64" y2="568" stroke="#bbbbbb" stroke-width="1"/>
<text transform="translate(356.74,568.50) rotate(90)" class="tkx" textLength="19.3" lengthAdjust="spacingAndGlyphs">-4.00</text>
<line x1="334.78" y1="561" x2="334.78" y2="568" stroke="#bbbbbb" stroke-width="1"/>
<text transform="translate(332.88,568.50) rotate(90)" class="tkx" textLength="19.3" lengthAdjust="spacingAndGlyphs">-3.00</text>
<line x1="310.92" y1="561" x2="310.92" y2="568" stroke="#bbbbbb" stroke-width="1"/>
<text transform="translate(309.02,568.50) rotate(90)" class="tkx" textLength="19.3" lengthAdjust="spacingAndGlyphs">-2.00</text>
<line x1="287.06" y1="561" x2="287.06" y2="568" stroke="#bbbbbb" stroke-width="1"/>
<text transform="translate(285.16,568.50) rotate(90)" class="tkx" textLength="19.3" lengthAdjust="spacingAndGlyphs">-1.00</text>
<line x1="263.2" y1="561" x2="263.2" y2="568" stroke="#bbbbbb" stroke-width="1"/>
<text transform="translate(261.30,568.50) rotate(90)" class="tkx" textLength="16.0" lengthAdjust="spacingAndGlyphs">0.00</text>
<line x1="239.34" y1="561" x2="239.34" y2="568" stroke="#bbbbbb" stroke-width="1"/>
<text transform="translate(237.44,568.50) rotate(90)" class="tkx" textLength="16.0" lengthAdjust="spacingAndGlyphs">1.00</text>
<line x1="215.48" y1="561" x2="215.48" y2="568" stroke="#bbbbbb" stroke-width="1"/>
<text transform="translate(213.58,568.50) rotate(90)" class="tkx" textLength="16.0" lengthAdjust="spacingAndGlyphs">2.00</text>
<line x1="191.62" y1="561" x2="191.62" y2="568" stroke="#bbbbbb" stroke-width="1"/>
<text transform="translate(189.72,568.50) rotate(90)" class="tkx" textLength="16.0" lengthAdjust="spacingAndGlyphs">3.00</text>
<line x1="167.76" y1="561" x2="167.76" y2="568" stroke="#bbbbbb" stroke-width="1"/>
<text transform="translate(165.86,568.50) rotate(90)" class="tkx" textLength="16.0" lengthAdjust="spacingAndGlyphs">4.00</text>
<line x1="156" y1="530.5" x2="163" y2="530.5" stroke="#c4c4c4" stroke-width="1"/>
<text x="155.20" y="533.10" class="tk" text-anchor="end" textLength="19.3" lengthAdjust="spacingAndGlyphs">-4.00</text>
<line x1="156" y1="483.5" x2="163" y2="483.5" stroke="#c4c4c4" stroke-width="1"/>
<text x="155.20" y="486.10" class="tk" text-anchor="end" textLength="19.3" lengthAdjust="spacingAndGlyphs">-2.00</text>
<line x1="156" y1="436.5" x2="163" y2="436.5" stroke="#c4c4c4" stroke-width="1"/>
<text x="155.20" y="439.10" class="tk" text-anchor="end" textLength="16.0" lengthAdjust="spacingAndGlyphs">0.00</text>
<line x1="156" y1="389.5" x2="163" y2="389.5" stroke="#c4c4c4" stroke-width="1"/>
<text x="155.20" y="392.10" class="tk" text-anchor="end" textLength="16.0" lengthAdjust="spacingAndGlyphs">2.00</text>
<line x1="156" y1="342.5" x2="163" y2="342.5" stroke="#c4c4c4" stroke-width="1"/>
<text x="155.20" y="345.10" class="tk" text-anchor="end" textLength="16.0" lengthAdjust="spacingAndGlyphs">4.00</text>
<text x="166.48 170.87 176.09 185.14 190.37 199.64 207.27 211.78 223.33 226.87" y="325.75" class="ti">t = +2 min</text>
<line x1="572.84" y1="561" x2="572.84" y2="568" stroke="#bbbbbb" stroke-width="1"/>
<text transform="translate(570.94,568.50) rotate(90)" class="tkx" textLength="19.3" lengthAdjust="spacingAndGlyphs">-4.00</text>
<line x1="548.98" y1="561" x2="548.98" y2="568" stroke="#bbbbbb" stroke-width="1"/>
<text transform="translate(547.08,568.50) rotate(90)" class="tkx" textLength="19.3" lengthAdjust="spacingAndGlyphs">-3.00</text>
<line x1="525.12" y1="561" x2="525.12" y2="568" stroke="#bbbbbb" stroke-width="1"/>
<text transform="translate(523.22,568.50) rotate(90)" class="tkx" textLength="19.3" lengthAdjust="spacingAndGlyphs">-2.00</text>
<line x1="501.26" y1="561" x2="501.26" y2="568" stroke="#bbbbbb" stroke-width="1"/>
<text transform="translate(499.36,568.50) rotate(90)" class="tkx" textLength="19.3" lengthAdjust="spacingAndGlyphs">-1.00</text>
<line x1="477.4" y1="561" x2="477.4" y2="568" stroke="#bbbbbb" stroke-width="1"/>
<text transform="translate(475.50,568.50) rotate(90)" class="tkx" textLength="16.0" lengthAdjust="spacingAndGlyphs">0.00</text>
<line x1="453.54" y1="561" x2="453.54" y2="568" stroke="#bbbbbb" stroke-width="1"/>
<text transform="translate(451.64,568.50) rotate(90)" class="tkx" textLength="16.0" lengthAdjust="spacingAndGlyphs">1.00</text>
<line x1="429.68" y1="561" x2="429.68" y2="568" stroke="#bbbbbb" stroke-width="1"/>
<text transform="translate(427.78,568.50) rotate(90)" class="tkx" textLength="16.0" lengthAdjust="spacingAndGlyphs">2.00</text>
<line x1="405.82" y1="561" x2="405.82" y2="568" stroke="#bbbbbb" stroke-width="1"/>
<text transform="translate(403.92,568.50) rotate(90)" class="tkx" textLength="16.0" lengthAdjust="spacingAndGlyphs">3.00</text>
<line x1="381.96" y1="561" x2="381.96" y2="568" stroke="#bbbbbb" stroke-width="1"/>
<text transform="translate(380.06,568.50) rotate(90)" class="tkx" textLength="16.0" lengthAdjust="spacingAndGlyphs">4.00</text>
<line x1="370" y1="530.5" x2="377" y2="530.5" stroke="#c4c4c4" stroke-width="1"/>
<line x1="370" y1="483.5" x2="377" y2="483.5" stroke="#c4c4c4" stroke-width="1"/>
<line x1="370" y1="436.5" x2="377" y2="436.5" stroke="#c4c4c4" stroke-width="1"/>
<line x1="370" y1="389.5" x2="377" y2="389.5" stroke="#c4c4c4" stroke-width="1"/>
<line x1="370" y1="342.5" x2="377" y2="342.5" stroke="#c4c4c4" stroke-width="1"/>
<text x="383.38 387.77 392.99 402.04 407.27 416.54 424.17 428.68 440.23 443.77" y="325.75" class="ti">t = +7 min</text>
<text transform="translate(12.2,363.7) rotate(-90)" class="ax" x="-1.16 7.03 16.10 21.19 25.47 30.62 39.50 48.25 56.82 61.27 65.79 74.65 79.21 84.75 93.50 102.25 111.05" y="0">Latitude, β (deg)</text>
<text x="290.84 299.02 307.74 316.62 325.45 329.73 334.88 343.76 352.51 361.07 365.52 370.27 378.26 382.81 388.36 397.11 405.86 414.66" y="619" class="ax">Longitude, λ (deg)</text>
</svg></body></html>
